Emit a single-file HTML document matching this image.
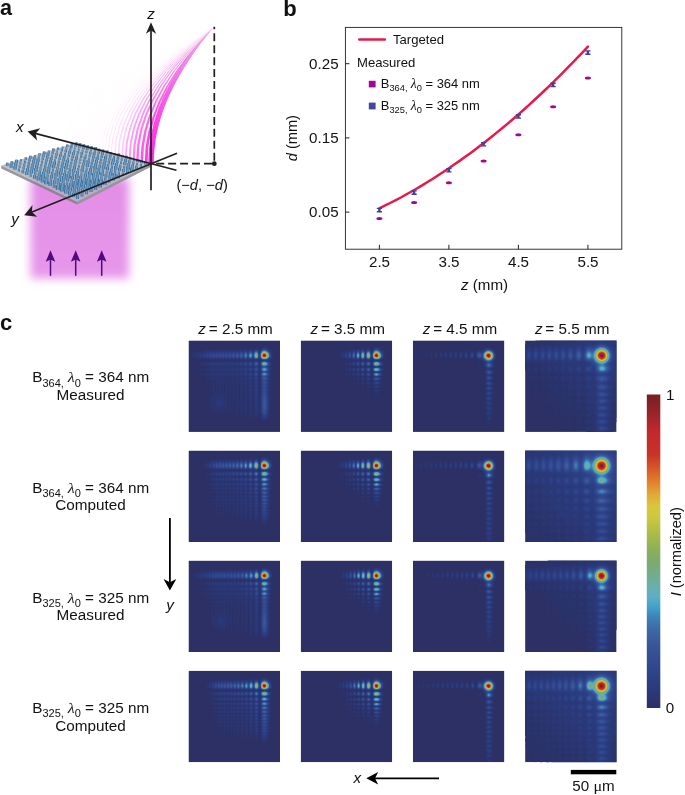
<!DOCTYPE html>
<html><head><meta charset="utf-8"><title>Airy beam figure</title>
<style>
html,body{margin:0;padding:0;background:#fff;}
body{width:685px;height:795px;overflow:hidden;font-family:"Liberation Sans",sans-serif;}
svg{display:block;}
text{font-family:"Liberation Sans",sans-serif;fill:#111;}
.i{font-style:italic;}
.b{font-weight:bold;}
.ser{font-family:"Liberation Serif",serif;font-style:italic;}
</style></head><body>
<svg width="685" height="795" viewBox="0 0 685 795">
<rect width="685" height="795" fill="#fff"/>
<defs><clipPath id="pc"><rect x="0" y="0" width="91.5" height="91.5"/></clipPath><filter id="hb" x="-5%" y="-5%" width="110%" height="110%"><feGaussianBlur stdDeviation="0.5"/></filter><filter id="hd" x="-5%" y="-5%" width="110%" height="110%"><feGaussianBlur stdDeviation="0.7"/></filter>
<g id="h00"><path fill="#2b3570" d="M74.6 6.2l1.6-0.1 1.6 0.3 1.4 0.7 2 1.4 1.8 1.7 0.9 1.6 0.7 1.4 0.3 1.6-0.1 1.4-0.8 1.6-1.2 1-2 1-0.2 0.4 2.5 1.6 0.8 1.4-0.2 1-1.5 2 1.3 2.6-0.2 1-1 1.4 0 0.6 1.1 2-1.3 2.4 0.6 2-0.8 2 0.5 2-0.6 2 0.4 1.6-0.4 2 0.4 2-0.4 1.4 0.3 1.6-0.3 2 0.3 4.4-0.3 12.6-0.6 3.4-1.5 3.6-2.5 1.7-1.4 0.4-1-0.3-1-0.7-1-1.2-0.8-2.9-0.5-3.6-0.3-6.4 0.5-14.6-0.2-2 0.3-1.4-0.3-2 0.3-2-0.4-1.6 0.3-2-0.4-2 0.2-2.4-0.3-0.7-0.4-0.1-0.6 1.2 0.5 2-0.6 2 0.4 2-0.4 2 0.2 1.6-0.2 2 0.2 11.4-0.2 13-0.6 3.6-0.7 2.4-0.5 0.6-1.1 0-0.5-0.6-1-3-0.4-3 0-11-0.3-2 0.3-1.4-0.3-1.6 0.3-1.4-0.4-2 0.3-1.6-0.4-1.4 0.4-2-0.4-1.4-0.6 0.5-0.2 0.9 0.6 2-0.4 0.4-0.2 1 0.2 1.6-0.2 2 0.1 4.4-0.2 2 0 10.6-0.7 4-1 1.6-0.4-0.1-1-2-0.5-2.5 0-5.6-0.2-1.4 0.1-4.6-0.3-2 0.3-1.4-0.3-1.6 0.2-1.4-0.3-2 0.3-1.6-0.3-1.3-0.6 0-0.3 1.3 0.3 1.6-0.4 2 0.3 1.4-0.3 1.6 0.3 1.4-0.3 2 0.1 4.6-0.2 1.4 0 5.1-0.5 2.9-0.4 1.1-0.6 0.4-0.4-0.3-0.6-1.2-0.6-3.4 0-10.6-0.2-2 0.2-4.4-0.3-2 0.2-1.6-0.3-1.1-0.3-0.3 0.6-2-0.3-1-0.4-0.4-0.6 1.4 0.5 2-0.5 1.4 0.3 1.6-0.4 2 0.3 1.4-0.3 1.6 0.3 1.4-0.3 2.1-0.1 10.9-0.8 3-0.4 0.3-0.5-0.7-0.6-3 0-10.6-0.3-2 0.2-1.4-0.2-1.6 0.2-1.4-0.3-2 0.2-1.6-0.4-1.4 0.4-2-0.6-2 0.6-1.6-0.3-0.8-0.4-0.6-0.6 0.5-0.2 0.9 0.6 1.6-0.7 2 0.5 2-0.5 1.4 0.3 1.6-0.4 2 0.3 1.5-0.3 1.5 0.3 1.4-0.3 2 0.1 1.6-0.2 1.4 0.2 1.6-0.3 1.4 0.2 4.6-0.6 1.9-0.4 0.6-0.7-1.5-0.2-1 0.1-4.6-0.3-1.4 0.2-4.6-0.3-2 0.2-1.4-0.2-1.6 0.2-1.4-0.4-2 0.4-1.6-0.5-1.4 0.4-2-0.7-2 0.7-1.6-0.5-1.1-0.4-0.3-0.8 1.4 0.6 1.6-0.6 2 0.5 2-0.6 1.4 0.4 1.6-0.4 2 0.2 1.5-0.2 1.5 0.2 1.4-0.3 2 0.2 1.6-0.2 1.4 0.2 1.6-0.3 1.4 0.1 1.6-0.2 1.4 0.2 1.6-0.6 1.5-0.4-0.1-0.5-1.4 0.2-1.6-0.2-1.4 0.1-1.6-0.3-1.4 0.2-1.6-0.2-1.4 0.2-1.6-0.4-2 0.3-1.4-0.3-1.6 0.3-1.4-0.4-2.1 0.3-1.5-0.5-1.4 0.5-2-0.7-2 0.6-1.6-0.2-0.9-0.6-0.5-0.4 0.4-0.4 1 0.7 1.6-0.8 2 0.5 2-0.5 1.4 0.3 1.6-0.4 2 0.3 1.4-0.3 1.6 0.4 1.4-0.4 2 0.2 1.6-0.2 1.4 0.2 1.6-0.4 1.4 0.1 1.6-0.2 1.4 0.2 1.6-0.3 1.1-0.6 0.1-0.3-0.8 0.1-2-0.3-1.4 0.1-1.6-0.5-1.4 0.2-1.6-0.3-2 0.2-1.4-0.3-1.6 0.5-1.4-0.3-1.6 0.4-1.4-0.4-2 0.4-1.6-0.6-1.4 0.5-2-0.7-2 0.7-1.6-0.4-0.9-0.4-0.5-0.6 0.4-0.4 1 0.8 1.6-0.8 2 0.5 2-0.6 1.4 0.5 1.6-0.4 2 0.4 1.4-0.1 1.6 0.5 1.4-0.3 1.6 0.2 2-0.3 1.4 0.1 1.6-0.8 4.4 0.1 1.6-0.3 1-0.5-0.1-0.3-0.5 0-2-0.7-1.8-0.6 0.2-0.6 1.6-0.2 2-0.6 0.9-0.8-0.9-0.3-1.4-0.5-0.6-0.4 0.6-0.3 1.4-0.7 1.1-0.8-0.5-0.7-2.1-0.5 0-0.6 1.5-0.4 0.7-0.6 0-0.4-0.8-0.5-1.9-0.5-0.5-0.6 0.5-0.4 2-0.6 0.4-0.4-0.8-0.1-1.6-0.9-3.4-0.5-0.1-0.5 0.5-0.6 1.9-0.2-1.9-0.5-1.4 0.1-1.6-0.3-1.4 0.2-2-0.2-1.6 0.4-1.4-0.2-1.6 0.3-0.8 0.4-0.6 0.6 0.5 0.4 0.9 0 1.6 0.6 0.1 0-1.7 0.7-1.4-0.2-2 0.5-1.6-0.5-2 0.6-1.5-0.8-1.9 0.7-1.6-0.2-0.4-0.8-1.3-1.6 1.7-1.2-2 0.9-2-0.3-0.4-0.8-1-0.6 0-1 0.9-0.4-0.1-0.8-0.8-0.1-1 0.9-1.6-0.3-0.4-1.3-0.9-1 0.6-0.5 0-1.3-1.3-0.1-0.4 0.2-0.6 1.3-1.2 0.4 0 1 0.7 1.3-0.9 0-0.6-0.7-0.7-0.6-0.2-1 0.7-0.4 0-1.6-1.5-1.4 1-0.6-0.3-0.6-1 0.2-0.9 0.4-0.7 0.6-0.2 1.4 1.1 1.6-1.6 0.4 0.1 1 0.6 1.3-0.8 0.1-0.6-0.8-0.8-0.6-0.1-1.4 0.6-1.6-1.2-1.4 0.8-0.6-0.3-1-1.2-1.4 1.1-0.6 0-0.8-1.3 0.4-1.5 0.4-0.5 0.6 0 1.4 1 0.9-1 0.7-0.3 1.4 0.6 1.6-0.8 1.4 0.4 1.6-0.6 2 0.3 1.4-0.5 1.6 0.4 1.4-0.5 1.6 0.4 1.4-0.4 2 0.3 1.6-0.3 1.4 0.4 1.6-0.4 1.4 0.4 2-0.4 1.6 0.4 2-0.4 1.4 0.4 2-0.5 1.6 0.5 2-0.6 2 0.6 2-0.8 2 0.7 1.8-0.9-0.3-0.4-1.5-0.7-2 0.6-2-0.7-2 0.6-2-0.6-1.6 0.5-2-0.5-2 0.5-1.4-0.5-1.6 0.4-2-0.3-1.4 0.3-1.6-0.3-1.4 0.3-1.6-0.3-2 0.3-1.4-0.3-1.6 0.3-1.4-0.4-1.6 0.3-1.4-0.4-2 0.2-1.6-0.5-1.4 0.4-1.6-0.7-1 0.4-1-0.1-1-0.6-1.4 0.6-0.6-0.1-1.4-1-1 0.6-0.6 0-1.4-1.3-1 0.9-0.6 0.1-0.7-0.6-0.5-1.4 0-1.6 0.8-2 0.4-0.4 0.6 0.2 1 1.2 1.4-2 0.6 0 1 1 0.4-0.3 1-1.4 0.6-0.1 1 1 0.4 0.1 1-1.2 0.6-0.3 1.4 0.9 1.6-1.3 1.4 0.7 1.6-1 0.4-0.1 1.6 0.6 1.4-0.8 1.6 0.6 1.4-0.8 1.6 0.7 1.4-0.7 2 0.6 1.6-0.7 1.4 0.7 1.6-0.7 1.4 0.7 2-0.7 1.6 0.8 1.4-0.9 0.6 0 1.4 0.9 1.6-1 0.4 0 1.6 1 2-1.1 0.4 0 1.6 1.1 2-1.4 1 0.4 1 0.9 0.4-0.2 1-1 1-0.4 1 0.5 1 1 0.6 0 1.4-1.5 1-0.2 1 0.5 1 1.1 0.6 0.1 1.4-1.7 1.6-0.6 1.4 0.8 1.6 2.3 0.4-0.1 1.8-2.8zM20.2 25.7l-0.6 0.5 0.2 0.6 0.4 0.3 0.6 0 0.4-0.3 0.1-0.6-0.5-0.5zM23.2 26.2l0.2 0.6 0.5 0 0.2-0.6-0.3-0.2zM29.8 36l0 0.5 0.4 0 0-0.5zM32.8 39.7l-0.3 0.5 0.1 0.6 0.6 0.5 0.7-1.1-0.7-0.7zM50.2 39.7l0 1.1 0.6 0.7 0.5-0.7-0.1-1-0.4-0.5zM59.2 19.1l-1.1 0.7-0.3 0.4 1.4 0.9 0.6 0 1.3-0.9-0.3-0.4-1-0.6zM64.2 19.2l-0.9 0.6-0.3 0.4 1.8 0.9 1.2-0.9-0.2-0.4-0.6-0.5zM70.8 18.7l-1.3 1.1-0.1 0.4 1.4 1.4 0.4-0.1 1.2-1.3-0.1-0.4-1.1-1zM19.8 31.2l-0.1 0.5 0.5 0.5 0.6 0 0.4-0.4 0-0.6-0.4-0.4-0.6 0zM23.8 31.1l-0.4 0.1 0 0.6 0.4 0.1 0.2-0.7zM29.8 39.5l-0.6 0.7 0.6 1.1 0.4 0 0.6-1.1-0.6-0.7zM33.2 43l-0.4 0.3-0.4 0.9 0.8 1.5 0.8-1.5-0.1-0.4zM36.2 35.8l-0.2 0.4 0.2 0.5 0.6-0.5zM54.8 39.5l-0.4 0.7 0.4 1 0.4-0.3 0.2-0.7-0.2-0.4zM59.2 39.7l-0.1 1.1 0.1 0.2 0.6 0 0-1.2zM70.8 25.4l-0.5 0.8 0.5 1.3 0.4-0.1 0.3-1.2-0.3-0.7zM19.8 35.7l-0.4 0.5 0.8 1.1 0.6 0.1 0.7-1.2-0.3-0.4-0.4-0.4zM23.8 35.6l-0.6 0.2-0.2 0.4 0.2 0.5 0.6 0.2 0.5-0.7zM26.8 35.7l-0.4 0.5 0.3 0.6 0.7-0.6zM29.8 43l-0.7 1.2 0.7 1.4 0.4 0 0.7-1.4-0.7-1.2zM33.2 46.1l-0.9 1.7 0.8 2-0.7 1.4 0.4 0.9 0.4 0.5 0.8-1.4-0.6-1.4 0.7-2zM36.2 39.4l-0.6 0.8 0.6 1.2 0.6-0.2 0.4-1-0.4-0.7zM39.8 35.7l-0.6 0.5 0.6 0.6 0.4-0.6zM43.2 35.7l-0.5 0.5 0.5 0.6 0.4-0.6zM46.8 35.7l-0.4 0.5 0.4 0.6 0.5-0.6zM50.8 35.7l-0.4 0.5 0.4 0.6 0.3-0.6zM54.8 43.1l-0.6 1.1 0.6 1.3 0.4-0.5 0.2-0.8-0.2-0.8zM59.2 43.3l-0.2 0.9 0.1 0.6 0.1 0.4 0.6 0 0.1-1.4-0.1-0.5zM64.8 39.6l-0.6 0.2-0.1 0.4 0.1 0.7 0.6 0.3 0.2-1zM70.8 30.4l-0.4 0.8 0.4 1.3 0.4-0.1 0.3-1.2-0.3-0.6zM23.7 39.2l-1.2 1 0.7 1.2 0.6 0.4 0.8-1.6zM26.8 39.4l-0.8 0.8 0.8 1.3 0.4-0.3 0.5-1-0.5-0.7zM29.8 46.3l-0.8 1.5 0.7 2-0.5 1.5 0.6 1.1 0.4 0 0.6-1.2-0.5-2 0.6-1.4-0.7-1.5zM36.2 42.9l-0.7 1.3 0.7 1.6-0.8 2 0.6 1.4-0.5 2 0.6 1.6-0.3 1.4 0.4 1.3 0.6 0 0.3-0.7-0.3-2 0.6-1.6-0.6-2 0.6-1.4-1-2 0.4-0.3 0.5-1.3-0.5-1.1zM39.2 39.6l-0.3 0.6 0.2 0.6 0.7 0.7 0.7-1.3-0.3-0.5-0.4-0.4zM42.8 39.6l-0.3 0.6 0.1 0.6 0.6 0.7 0.7-1.3-0.1-0.5-0.6-0.4zM46.8 39.3l-0.7 0.9 0.7 1.3 0.4-0.3 0.4-1-0.4-0.7zM59.3 46.7l-0.3 1.5 0.2 0.9 0.6 0 0.2-1.3-0.2-1.1zM64.8 43.1l-0.6 0.3-0.1 0.8 0.1 0.8 0.6 0.4 0.3-1.2zM26.8 42.8l-0.9 1.4 0.8 1.6-0.1 0.4-0.8 1.6 0.7 1.4 0 0.6-0.6 1.4 0.7 1.6-0.1 1.4 0.2 0.6 0.4-0.6-0.3-1 1-2-0.5-1.5 0.6-1.9-0.9-2 0.9-1.6-0.7-1.2zM5.9 22.8l0.3-0.4 0.6 0.1 0.2 0.3 0.2 1-0.4 0.6-0.6 0-0.4-0.6zM9 28.2l0.8-0.4 0.7 1-0.3 0.9-0.4 0.4-0.6-0.1-0.4-0.8zM12.2 32.8l0.6-0.4 0.4 0.2 1 1.2-1 1.1-0.4 0.2-0.6-0.2-0.4-0.7 0.1-1zM9.1 33.2l0.7-0.3 0.4 0.3 0 1-0.4 0.5-0.8-0.5zM15.6 37.2l0.6-0.1 0.5 0.6 0 0.5-0.5 0.8-0.4 0.1-0.6-0.7 0-0.6zM18.6 41.2l0.6-0.2 0.7 0.8-0.1 1-0.6 0.5-0.4-0.1-0.5-1zM21.8 44.8l0.4-0.5 1 1.5-0.3 1-0.7 0.8-0.9-1.4 0-0.4zM18.8 45.2l0.4-0.1 0.4 0.7-0.4 0.9-0.4-0.1-0.2-0.4zM22.1 48.2l0.1-0.1 0.9 1.1-0.2 1-0.7 0.8-0.4-0.5-0.4-0.7 0.2-1zM18.7 49.2l0.5-0.2 0 1-0.4-0.2zM22.2 51.8l0.8 1 0 0.4-0.8 1.5-0.5-0.9-0.2-1 0.3-0.7z"/><path fill="#2b3979" d="M74.9 7.3l1.3-0.2 1.6 0.4 3 1.8 1.3 1.5 1 1.4 0.6 1.6 0.2 1.4-0.4 1.6-0.7 1-1.6 1.1-2.1 0.9-0.4 0.4 3.1 1.6 0.5 0.4 0.4 1-0.2 1-1.7 2 0.1 0.6 0.9 1 0.5 1-0.2 1-1.2 1.4 0 0.6 1.2 1.4 0.1 0.6-0.1 0.4-1.4 2 0.8 2-1 2 0.6 2-0.7 2 0.5 1.6-0.6 2 0.5 2-0.4 1.4 0.3 1.6-0.2 2 0.4 4.4-0.1 6.6-0.3 6.4-0.8 3-1.6 3-0.9 0.7-1.4 0.3-1.4-0.4-0.6-0.9-1-2.7-0.5-3-0.3-9.4 0.4-11.6-0.1-2 0.2-1.4-0.3-2 0.3-1.6-0.4-2 0.4-2-0.6-2 0.4-2-0.7-2.4 0.6-2.6-0.6-1.4-0.1-1 0.8-2.6-0.9-2-0.1-1 0.5-1.4 1.7-1.6-0.2-0.4-1.1-0.7-1-1.3-0.4-0.1-1.6 1.6-1.4 0.4-1-0.1-2-1.3-2.6 1.1-1.4-0.3-1-0.7-0.6 0-1 0.6-1 0.3-2.4-1-2 0.8-2-0.9-2 0.8-2.1-0.8-1.5 0.7-2-0.7-2 0.6-1.4-0.6-1.6 0.5-2-0.4-1.4 0.4-1.6-0.4-1.4 0.4-1.6-0.4-2 0.4-1.4-0.5-1.6 0.5-1.4-0.5-1.6 0.4-1.4-0.6-2 0.4-1.6-0.8-1.4 0.5-1.6-1.1-1.4 0.8-0.9-0.6-0.7-1.3-0.4 0.4-0.7 0.9-0.3 0.3-0.6-0.1-0.6-1.2-0.2-1 0.2-1.4 0.6-1.4 0.6-0.1 1 1.6 0.4 0.3 0.9-2 0.7-0.4 1.4 1.2 1.6-1.8 0.4 0.1 1 0.8 1.6-1.3 0.4-0.1 1 0.7 0.6 0 1-0.9 0.4-0.1 1.6 0.7 1.4-0.9 1.6 0.8 1.4-0.8 0.6 0 1 0.7 0.4 0 1-0.8 0.6 0 1.4 0.8 1.6-0.8 1.4 0.9 0.6-0.1 1-0.8 0.4 0 1.6 0.9 1.4-1 0.6 0 1.4 1 1.6-1.1 0.4 0 1.6 1.1 2-1.3 0.4 0.1 1.6 1.2 2-1.6 1 0.5 1 1 0.4-0.2 1-1.3 1-0.4 1 0.5 1 1.3 0.6-0.1 1.4-1.7 1-0.2 1 0.6 1 1.3 0.6 0.1 1.4-1.9 0.6-0.5 1-0.3 1 0.4 0.4 0.5 1.6 2.9 0.4-0.2 0.9-1.9 1-1.6zM6.1 13.8l0.1-0.3 0.6 0.1 0.4 1.2-0.1 1-0.3 0.7-0.6 0-0.3-0.7-0.1-1zM66.5 20.8l1.3-0.4 1.4 0.5 0.9 0.9 0.6 1.4-0.2 1-0.9 2 0.8 2.6-0.2 1-0.6 1.4 0.7 2.6-0.8 2.4 0.4 2-0.6 2 0.4 2.1-0.5 1.9 0.4 1.6-0.4 2 0.3 2-0.3 1.4 0.2 1.6-0.3 2 0.3 4.4-0.3 2 0 10.6-0.7 3-0.6 0.7-0.6-0.2-0.2-0.5-0.6-2.6-0.1-11-0.2-2 0.2-4.4-0.3-2 0.2-1.6-0.3-1.4 0.3-2-0.4-2 0.3-1.6-0.5-2 0.5-2-0.7-2 0.5-2-1.1-2.3-0.6 0.5-1 1.8 0.5 2-0.8 2 0.6 2-0.7 2 0.5 1.6-0.6 2 0.5 2-0.6 1.4 0.4 1.6-0.5 2 0.4 1.4-0.5 1.6 0.5 1.4-0.5 1.6 0.3 2-0.5 1.1-0.4-0.2-0.4-0.9 0.3-1.6-0.5-2 0.5-1.4-0.5-1.6 0.4-1.4-0.6-2 0.5-1.6-0.6-1.4 0.5-2-0.6-2 0.5-1.6-0.7-2 0.6-2-0.9-2 0.6-2-0.1-0.4-1-1.5-0.6 0-1.2 1.9 0.6 2-1.1 2 0.8 2-1 2 0.8 1.6-0.2 1-0.7 0.8-0.4-0.4-0.5-1 0.1-1 0.8-1-1-1.3-0.1-0.7 0.7-2-1-2 0.6-2-0.2-0.4-1.4-1.9-0.1 0.3-1.5 1.5-0.4 0.1-0.6-0.2-0.7-0.8-0.6-1 0.6-1 1.1-1 0.1-0.6-1.6-1.4-0.3-1-0.1 0.4-0.8 1-1.1 0.8-2-1.8 0-0.4 1.4-1.6 0.6-0.2 0.4 0.1 1.6 1.6 2-2.2 1 0.7 1 1.2 0.4-0.3 1-1.3 0.1-0.6-1.1-1.3-0.4-0.1-1.6 1.3-0.4 0.1-2-1.6-2 1.2-2-1.2-1.6 1-0.4 0-1.6-1-1.4 0.9-0.6 0.1-1.4-1-1.6 0.9-2-0.8-1.4 0.8-1.6-0.8-1.4 0.8-1.6-0.8-2 0.6-1.4-0.7-1.6 0.7-1.4-0.8-1.6 0.7-0.4-0.1-1-1-0.6 0.1-1 0.7-0.4-0.1-0.7-0.6-0.2-1 0.1-0.4 0.8-0.8 0.4 0 1 0.7 0.6 0 1-0.8 0.5-0.1 1.5 0.5 1.4-0.7 1.6 0.6 1.4-0.6 2 0.5 1.6-0.6 1.4 0.6 1.6-0.6 1.4 0.7 2-0.7 1.6 0.7 1-0.5 1-0.2 1.4 0.7 1-0.6 1-0.2 1.6 0.8 2-0.9 2 0.9 2-1 1 0.2 1 0.7 1.4-0.9 1-0.3 1 0.3 1 0.8 0.6 0 1.4-1.1 1-0.1 1 0.3 1.6 1zM54.8 29.5l-1.8 1.7 0 0.6 1.2 1 0.6 0.9 1.4-1.9 0-0.6-1-1.4zM59.2 24.9l-1.1 1.3 0.1 0.6 1 1.4 0.6 0 0.9-1.4 0.1-0.6-1-1.3zM64.2 24.9l-0.9 1.3 0 0.6 0.9 1.3 0.6 0.2 1-1.5 0-0.6-1-1.4zM59.2 29.8l-1 1.4 0 0.6 1.1 1.5 0.5 0 1-1.5 0-0.6-1-1.4zM64.8 29.6l-0.6 0.3-0.9 1.3 0 0.6 1.5 1.8 1-1.8 0-0.6zM15.4 22.8l0.4-0.4 0.7 0.4 0.2 1-0.5 0.6-0.4 0-0.6-0.6zM44.7 27.2l1.1 0.3 0.9 1.3-0.3 1-1.2 0.9-1-0.3-0.9-1.2 0-0.4 0.3-0.6zM24.8 27.8l0.4-0.3 0.6 0.2 1 1 1.4-1.2 0.6 0.1 1 0.9 0.4 0 1-1 0.5-0.1 1.5 1.1 1.6-1.1 0.7 0.4 0.7 0.9 1.6-1.2 0.4-0.1 1.5 1.4 0 0.4-1.5 1.3-0.4 0-1.6-1.2-0.8 0.9-0.6 0.3-1.6-1.1-1.4 1.1-0.6-0.1-1-0.9-0.4 0-1 0.9-0.6 0-1.4-1.2-1 1-0.6 0.2-0.4-0.2-0.8-1-0.1-0.4zM40.6 27.8l0.6-0.5 0.6 0 1.4 1.5 0 0.4-1.4 1.4-1-0.3-1-1.1 0-0.4zM18.7 28.2l0.5 0 0.6 0.6-0.1 0.4-0.5 0.6-0.4-0.1-0.3-0.5zM21.4 28.2l0.8-0.4 0.6 0.2 0.6 0.8 0 0.4-0.6 0.8-0.6 0.2-0.4-0.2-0.6-0.8zM48.3 32.2l0.5-0.2 0.4 0.2 1.3 1.6-0.7 1.2-1 0.5-1.1-0.7-0.5-1zM24.9 32.8l0.9-0.1 0.8 1.1-0.8 1-0.6 0.2-0.9-0.8-0.1-0.4zM28 32.8l0.8-0.2 0.7 0.6 0.2 0.6-0.1 0.4-0.8 0.7-0.6 0.1-0.8-0.8-0.2-0.4 0.2-0.6zM31 32.8l0.8-0.3 1.4 1.3-0.8 1-0.6 0.3-0.6-0.1-0.8-0.8-0.1-0.4 0.1-0.6zM34.1 32.8l0.7-0.3 1.1 0.7 0.2 0.6-0.1 0.4-0.8 0.7-1 0-0.7-0.7-0.2-0.4zM37.4 32.8l0.8-0.3 0.5 0.3 0.8 1-0.7 1-0.6 0.3-0.9-0.3-0.6-1zM40.6 32.8l0.6-0.4 0.6 0 0.5 0.4 0.7 1-0.6 1-0.6 0.4-1-0.3-0.6-0.7-0.2-0.4zM44.1 32.8l0.7-0.5 0.4 0 1.2 0.9 0.2 0.6-0.2 0.4-0.6 0.8-1 0.3-1.1-1.1-0.2-0.4zM19.2 33.2l0.3 0.6-0.3 0.5-0.4-0.1-0.2-0.4 0.2-0.4zM21.5 33.2l0.7-0.4 0.6 0.3 0.4 0.7-0.2 0.4-0.7 0.5-0.5-0.1-0.5-0.8zM52.7 36.8l0.5 0 0.4 0.4 0.3 1-0.7 1.1-0.4 0.1-0.6-0.3-0.4-0.9 0.3-1zM48.6 37.2l0.6 0.1 0.3 0.5-0.2 1-0.5 0.2-0.7-0.8 0-0.4zM44.6 37.8l0.6-0.3 0.2 0.3 0.1 0.4-0.3 0.5-0.4-0.1zM52.4 41.8l0.4-0.4 0.4 0.2 0.2 0.6-0.2 0.5-0.4 0.2-0.3-0.1-0.2-0.6zM57.1 48.2l0.1-0.1 0.6 0.5 0.2 0.6-0.2 1-0.6 0.7-0.4-0.4-0.4-0.7 0.2-1zM56.7 52.2l0.5-0.4 0.6 0.7 0 0.7-0.6 0.8-0.6-0.8zM57 55.8l0.2-0.3 0.3 0.7-0.3 0.7-0.4-0.7zM31 58.2l0.8-0.2 0.4 0.5 0.8 1.3 0.2 1.4 0.6 0 0.3-0.4 0-1 0.1-0.4 0.6 0 0 1.4 0.3 1.4-0.3 1.7-0.6 0.3-0.4-0.5-0.6 0-0.6 2.1-0.8 1-0.6 0-1-1-0.4 0-1 0.7-0.6-0.2-0.4-0.8-0.6-2.7 0.4-3 0.6-1.3 0.6-0.2 1 0.7 0.4 0zM57.2 58.8l0.3 0.4-0.3 0.8-0.4-0.8zM61.7 64.8l0.1-0.3 0.4-0.1 0.4 0.8 0.1 0.6-0.5 1-0.5-0.1-0.1-0.5-0.2-0.4z"/><path fill="#2c3c80" d="M74 8.2l1.2-0.4 1.6 0.1 1.4 0.5 1.6 0.9 1.5 1.5 1.1 1.4 0.6 1.6 0.2 1.4-0.3 1.6-1.1 1.3-1.6 0.9-2.6 0.8-0.6 0.4 3.8 1.4 0.8 0.6 0.4 1-0.5 1.6-1.6 1.4 0.1 0.6 1 1 0.6 1-0.3 1-1.3 1.4 0 0.6 1 1 0.5 1-0.5 1-1.2 1.4 0.8 1.6 0 0.4-1.1 2 0.7 2-0.8 2 0.6 1.6-0.6 2 0.5 1.4-0.4 2 0.4 1.6-0.3 2 0.3 1.4-0.1 1.6 0.3 1.4 0 6.6-0.5 6-1.2 4-1.6 1.8-1 0.3-1-0.6-1.1-1.5-0.9-4-0.4-9 0.4-8-0.1-2 0.3-1.6-0.2-2 0.3-1.4-0.4-2 0.4-1.6-0.5-2 0.4-2-0.6-2 0.4-2-0.9-2.4 0.8-2.6-0.7-1.4-0.1-1 0.9-2.6-0.9-1.4-0.2-1.6 0.2-1 0.7-1 2.2-0.9-2.5-1.5-1.1-1.9-0.4-0.2-1.3 2.1-1.7 0.6-1.6-0.4-1.4-1.3-2.6 1.3-1-0.1-1.4-1.1-0.6 0-1 0.8-1 0.3-1-0.3-1.4-0.9-1 0.7-1 0.3-2-1.1-2 0.9-2-0.9-1.6 0.8-0.4 0-1.6-0.8-1.4 0.7-0.6 0-1.4-0.7-1.6 0.7-2-0.7-1.4 0.7-1.6-0.6-1.4 0.6-1.6-0.6-2 0.5-1.4-0.6-1.6 0.6-1.4-0.7-1.6 0.5-1.4-0.8-0.6 0.1-1 0.5-0.4 0-1.6-1.3-1 0.9-0.4 0-0.8-0.6-0.4-1.6 0.5-2 0.7-0.9 0.4 0.1 1 1.2 1.6-1.8 0.4-0.1 1 0.9 0.6 0 1-1.1 0.4-0.1 1.6 0.8 1.4-1.1 1.6 1 1.4-1 0.6 0 1 0.8 0.4 0 1-0.8 0.6-0.1 1.4 1 1.6-1 1.4 1 0.6-0.1 1-0.9 0.4 0 1.6 1.1 1.4-1.2 0.6 0 1.4 1.2 1.5-1.3 0.5-0.1 1.6 1.4 2-1.6 0.4 0.1 1.6 1.5 1.4-1.6 0.6-0.2 1 0.4 1 1.2 0.4-0.2 1-1.4 1-0.5 1 0.6 1 1.4 0.6 0 1.4-2 1-0.3 1 0.7 1 1.5 0.6 0.2 1.4-2.3 0.6-0.4 1-0.4 1 0.4 0.4 0.6 0.9 1.4 0.7 2.1 0.4-0.2 1.3-3.3zM12.6 13.2l0.2-0.1 0.4 0.4 0.5 1.3-0.2 1.4-0.7 0.7-0.6-0.4-0.3-1.3 0.3-1.4zM9.4 14.2l0.4-0.2 0.2 0.8-0.2 1.4-0.6-0.4zM61.7 21.2l1.5 0.4 0.7 0.6 0.3 1-0.5 1.6-1.5 1.3-0.4-0.1-1-0.8-1-1.4 0.1-1 0.4-0.6 0.5-0.5zM66.3 21.2l0.9-0.3 1.6 0.2 1 0.8 0.4 1.3-0.3 1.6-1 1.4 1.1 2.6-0.2 1-0.8 1.4 0 0.6 0.6 1 0.3 1-0.2 1-0.9 1.4 0.6 2-0.9 2 0.6 2-0.8 2 0.6 1.6-0.1 1-0.6 1 0.6 2-0.7 1.4 0.6 1.6-0.3 1-0.6 1 0.7 1.4-0.7 1.5-0.6-0.5-0.3-1 0.3-1 0.5-0.4-1-1.6 0.6-1.9-0.6-1.1-0.1-1 0.6-1.4-0.6-1-0.1-1 0.6-1.6-0.9-2 0.7-2-0.9-2 0.6-2-0.9-1.4-0.3-1 1-2 0-0.6-0.9-1.4-0.2-1 1.2-2.6-1.4-2-0.2-1 0.4-0.9zM52.4 21.8l0.8-0.1 0.6 0.3 0.7 1.2-0.3 1-1 1-1-0.1-0.9-1.3 0.1-1zM56.1 21.8l0.7-0.4 1 0 1.3 1.4 0.1 1-0.2 0.4-1.2 1.4-1 0-1.4-1.4 0-1.4zM31.4 22.2l0.8 0.3 0.5 0.7-0.3 1-0.6 0.5-0.6-0.1-0.6-0.8 0.2-1zM34.6 22.2l0.6 0.2 0.6 0.8-0.3 1-0.7 0.5-0.7-0.5-0.4-1 0.2-0.4zM37.7 22.2l0.7 0 0.7 1-0.3 1-0.6 0.5-0.4-0.1-0.8-0.8 0.2-1zM41 22.2l1 0 0.6 1-0.2 1-0.6 0.6-0.6 0-0.4-0.4-0.5-0.6 0.2-1zM44.4 22.2l0.8-0.2 0.9 0.8 0.1 1-0.4 0.8-0.6 0.3-0.6-0.1-0.8-1 0.1-1zM47.9 22.2l0.9-0.4 0.4 0.1 0.9 0.9 0.1 1-1 1.2-1-0.1-0.5-0.7-0.3-1zM21.9 22.8l0.6 0 0.4 0.4-0.1 0.6-0.6 0.4-0.6-0.4 0-0.6zM24.6 22.8l0.6-0.5 0.8 0.5 0.2 1-0.4 0.6-0.6 0.1-0.4-0.3-0.4-1zM27.7 22.8l0.5-0.5 0.6 0.1 0.4 0.4 0.2 1-0.6 0.7-0.6 0-0.6-0.7zM56.7 27.2l0.5-0.1 0.6 0.2 0.5 0.5 0.4 1-0.5 1.4-1 0.7-1-0.6-0.5-1.1 0.1-1zM61.1 27.2l0.7-0.4 1 0.2 0.6 0.8 0.4 1-0.4 1.4-1.2 1-1-0.4-0.9-1.6 0.1-1zM52.4 27.8l0.8-0.1 0.8 1.1-0.2 1-0.6 0.4-0.4 0.1-0.6-0.2-0.5-0.9 0.2-1zM44.7 28.2l0.5 0 0.5 0.6 0 0.4-0.5 0.6-0.4-0.1-0.4-0.5zM48.2 28.2l0.6-0.3 0.6 0.3 0.3 1-0.5 0.7-0.4 0.1-0.6-0.2-0.2-0.6zM41 28.8l0.2-0.4 0.6 0 0.1 0.4-0.1 0.7-0.6 0zM56.8 32.2l0.4-0.1 0.6 0.2 0.4 0.5 0.4 1-0.4 1-1 0.6-1-0.5-0.4-1.1 0.4-1zM61.2 32.2l0.6-0.4 0.4 0 1 0.8 0.5 0.6 0 1-0.3 0.6-1.2 0.9-1-0.3-0.8-1.2 0-1zM52.5 32.8l0.7-0.1 0.6 0.6 0 0.9-0.6 0.6-0.4 0.1-0.8-0.7 0-1zM48.3 33.2l0.5-0.2 0.6 0.2 0.1 0.6-0.3 0.6-0.4 0.2-0.6-0.3-0.1-0.5zM44.6 33.8l0.2-0.4 0.4-0.1 0.3 0.5-0.3 0.5-0.4-0.1zM61.3 37.2l0.5-0.3 0.4 0 0.8 0.9-0.1 1-0.7 0.5-0.4-0.1-0.6-0.4-0.1-1zM56.6 37.8l0.6-0.5 0.6 0.5 0 0.7-0.6 0.4-0.3-0.1-0.3-0.6zM61.7 41.8l0.7 0 0.1 0.4-0.3 0.5-0.4-0.1zM67.5 58.2l0.3-0.4 0.7 1.4-0.3 1-0.4 0.5-0.6-0.4-0.2-0.5 0.1-1zM67.6 61.8l0.2-0.3 0.4 0.7 0 0.6-0.4 0.6-0.6-0.6 0-0.7zM67.2 65.2l0.6-0.4 0.3 0.4 0.1 0.6-0.4 0.7-0.6-0.5z"/><path fill="#2d4086" d="M75.6 8.2l2.2 0.4 2.4 1.7 1.7 1.9 0.8 2.6-0.3 2-1.2 1.3-2 1-2.4 0.5-2.6-0.1-1.4-0.7-0.9-1-0.6-2 0.2-2.6 1.1-3 1.2-1.3zM66.7 9.8l1.1-0.4 1 0.4 0.9 1.4 0.9 2.6 0.1 1.4-0.3 1.6-0.8 1.4-1.4 0.9-1 0-1-0.4-1.4-1.6-0.6 0.2-1 1-1 0.4-1-0.1-1.4-1.4-0.6 0-1 1-1 0.4-1-0.3-1.4-1.2-1 0.9-1 0.3-1-0.5-1-0.9-1 0.9-1 0.3-2-1.2-1.6 1.1-0.9-0.2-1.1-0.9-1.4 1-0.9-0.1-1.1-0.9-1.6 0.9-0.4 0-1.6-0.9-1.4 0.9-1.6-0.8-1.4 0.8-0.6 0-1-0.8-2 0.7-1.4-0.8-1.6 0.8-1.4-1-1.6 0.8-0.4-0.1-1-1.1-0.6 0-1 0.9-0.4 0-0.9-1.4 0-1.6 0.9-1.5 0.4-0.1 1 1.2 0.6 0.1 1-1.5 0.4-0.2 1.5 1.1 1.5-1.4 0.6 0.1 1 1.1 1.4-1.2 0.6 0 1 1 0.4 0 1-1.1 0.6-0.1 1.4 1.2 1.6-1.2 0.4 0.2 1 1.1 0.6-0.1 1-1.1 0.4-0.1 1.6 1.4 1.4-1.5 0.6 0 1.4 1.5 1.2-1.3 0.8-0.4 1.6 1.7 0.4-0.3 1-1.4 0.6-0.2 0.4 0.1 1.6 1.8 1.3-1.9 0.7-0.3 1 0.5 1 1.4 0.4-0.2 1-1.7 1-0.6 1 0.7 1 1.7 0.6-0.1 1.4-2.2 1-0.3 1 0.7 1 1.7 0.6 0.3 1.1-2zM15.5 13.8l0.3-0.3 0.4 0.1 0.6 1.6-0.3 1-0.7 0.4-0.6-1.4zM74.2 20.8l2-0.3 2.6 0.5 2 1 0.7 1.2 0 0.6-0.6 1-1.7 1.4 0.1 0.6 1.1 1 0.6 1-0.3 1-1.4 1.4 0 0.6 1 1 0.6 1-0.5 1-1.2 1-0.2 0.4 0.9 1.6 0.1 0.4-1.4 2 0.9 2-1 2 0.7 1.6-0.7 2 0.6 1.4-0.4 2 0.5 1.6-0.3 2 0.4 1.4-0.2 1.6 0.4 1.4 0 6.6-0.5 6-1.4 3.4-0.8 0.9-1 0.2-1-0.4-0.5-0.7-0.9-2.4-0.5-7 0-6.6 0.4-4.4-0.1-2 0.3-1.6-0.3-2 0.4-1.4-0.5-2 0.5-1.6-0.6-2 0.5-2-0.8-2 0.6-2-0.8-1.4-0.2-1.1 0.8-2.5-0.8-1.4-0.1-1 1-2.6-1-1.4-0.3-1.6 0.6-1.4 0.7-0.7zM67 21.2l0.8-0.1 1 0.3 0.9 0.8 0.2 1-0.3 1.6-0.8 0.9-1 0.5 1.4 1.5 0.4 1-0.4 1.5-1 1.1 0 0.5 1.3 1.4 0 1-0.7 1.2-1 0.6-1.6-1-0.4-1.2 0.3-1 1.1-1 0-0.6-1-1-0.5-1.4 0.5-1.3 1.4-1.3-0.8-0.4-1-1-0.4-1.6 0.7-1.4zM57 21.8l0.8 0 0.4 0.4 0.5 1-0.5 1.4-1 0.6-0.9-0.4-0.5-1 0.3-1.6zM61.2 21.8l0.6-0.2 1 0.1 0.9 1.1-0.1 1.4-0.4 0.6-1 0.6-1-0.2-0.9-1.4 0.1-1zM52.4 22.2l0.8 0 0.6 0.6 0.1 1-0.7 0.8-0.4 0.1-0.6-0.2-0.4-0.8 0.1-0.9zM44.7 22.8l0.5-0.1 0.4 0.5-0.4 0.9-0.4-0.1-0.2-0.2zM48.2 22.8l0.6-0.4 0.6 0.4 0.2 1-0.4 0.5-0.4 0.1-0.6-0.3-0.2-0.9zM41.1 23.2l0.1-0.2 0.6 0.1 0 0.7-0.6 0.1zM57 27.8l0.8 0.1 0.4 0.9-0.2 1-0.8 0.4-0.4-0.1-0.6-0.9 0.2-1zM61.2 27.8l1-0.4 1 0.9 0.2 0.9-0.2 0.6-1 0.7-1-0.3-0.4-0.8-0.1-0.6zM52.5 28.8l0.3-0.3 0.4 0.2 0 0.6-0.4 0.2zM61.3 32.8l0.9-0.3 1 0.7 0 1-0.4 0.6-1 0.2-0.9-0.8 0-1zM56.4 33.2l0.8-0.4 0.6 0.2 0.3 0.8-0.3 0.8-0.6 0.2-0.4-0.1-0.5-0.9zM67.2 36.8l0.6-0.3 0.9 0.7 0.2 0.6-0.1 1-1 0.7-1-0.5-0.4-0.8 0.3-1zM67.7 41.2l0.5 0.3 0.3 0.7-0.3 0.6-0.4 0.3-0.6-0.2-0.3-0.7 0.3-0.8z"/><path fill="#30458b" d="M74.9 8.8l1.3-0.2 2 0.7 2 1.4 1.3 1.5 0.8 2 0 1.6-0.6 1.4-1.5 1.2-2 0.7-3 0.4-2-0.6-1.1-1.1-0.7-2.6 0.5-3 1.3-2.4zM66.6 10.2l1.2-0.4 1 0.4 0.9 1.6 0.7 2.4 0 1.6-0.4 1.4-0.8 1.1-1 0.5-1 0-1-0.4-1.4-2.1-0.6 0.3-1 1.4-1.4 0.5-1-0.5-1-1.5-0.6 0-1 1.4-1 0.4-1-0.3-1.4-1.7-1.2 1.5-0.8 0.2-0.6-0.2-1.4-1.9-1 1.4-1 0.5-1-0.6-1-1.3-1 1.3-0.6 0.4-1-0.3-1-1.5-1.4 1.7-1-0.3-1-1.3-1.6 1.5-0.6-0.2-1.4-1.2-1 1.2-0.4 0.2-0.6-0.2-1-1-1.4 1.2-0.7-0.2-0.9-1-0.4 0-1 1-0.6 0.1-1.4-1.4-1 1.2-0.6 0.2-0.7-0.5-0.7-1.5-1 1.5-0.6 0.2-0.5-0.2-0.6-1.6 0.3-1.4 0.4-0.6 0.4-0.3 0.6 0.3 1 2 0.7-2 0.7-0.6 0.6 0.2 1 1.5 1.4-1.7 0.6 0 1 1.3 0.4 0 1-1.4 0.6-0.1 1.4 1.6 1-1.4 0.6-0.2 0.6 0.4 0.8 1.4 0.6-0.3 1-1.5 0.4 0 1.6 2 1-1.7 0.4-0.5 0.6 0 1.4 2.2 1-1.8 0.6-0.5 0.4-0.1 0.7 0.8 0.9 1.6 1.3-2.2 0.7-0.4 0.7 0.4 1.3 2.1 1-2.1 1-0.8 0.4 0.1 0.6 0.5 0.9 1.9 0.5-0.5 1-2 1-0.6 1 0.8 1 2 0.6 0 1.1-2.4 0.9-0.6 0.4 0 1 0.8 1 2 0.6 0.4 1.1-2.6zM18.7 13.8l0.5-0.3 0.7 1.3-0.1 1-0.6 0.7-0.4-0.1-0.4-0.6 0-1zM73.5 21.2l2.3-0.4 2.4 0.3 2 0.9 0.9 1.2-0.1 0.6-0.6 1-1.9 1.4 0.1 0.6 1.3 1 0.6 1-0.2 1-1.7 1.4 0 0.6 1.2 1 0.6 1-0.5 1-1.3 1-0.3 0.4 1.1 1.6 0 0.4-1.6 2 1.1 2-1.2 2 0.9 1.6-0.1 0.4-0.8 1.6 0.8 1.4 0 0.6-0.6 1.4 0.6 1.6-0.3 2 0.5 1.4-0.1 1.6 0.3 1.4 0.1 6.6-0.8 6.4-1.4 2.6-1 0.4-1-0.8-1-2.2-0.6-6.4 0.1-6.6 0.3-1.4-0.1-1.6 0.3-1.5-0.2-1.9 0.5-1.6-0.5-2 0.6-1.4-0.6-2 0.6-1.6-0.8-2 0.7-2-1-2 0.7-1.9-1-1.5-0.3-1 0.3-1 0.7-1 0.1-0.6-1-1.4-0.2-1 1.2-2.6-1.1-1.4-0.4-1.6 0.3-1zM66.5 21.8l0.7-0.4 1 0 1.2 0.8 0.3 1-0.2 1-0.3 0.6-1 0.8-1 0-0.4-0.2-1-1.2 0-1.4zM56.7 22.2l0.5-0.1 0.6 0.1 0.5 1-0.2 1-0.9 0.6-0.4-0.1-0.7-0.9 0.1-1zM61.1 22.2l1.1-0.3 1 0.7 0.2 1.2-0.6 1-1 0.2-0.9-0.8-0.3-1zM52.7 22.8l0.5 0.1 0.2 0.3-0.2 0.7-0.4 0.2-0.5-0.9zM67.2 27.2l0.6-0.1 1 0.5 0.6 1.2-0.2 0.8-0.4 0.6-1 0.6-1-0.4-0.8-1.2 0.2-1.1zM61.4 28.2l0.8-0.2 0.6 0.3 0.1 0.9-0.3 0.6-0.4 0.2-0.7-0.2-0.3-0.6zM56.7 28.8l0.5-0.5 0.5 0.5 0 0.4-0.5 0.4-0.4-0.3zM67.4 32.2l0.8 0.1 0.6 0.3 0.5 1.2-0.5 1.1-1 0.5-1-0.4-0.7-1.2 0.5-1zM61.5 33.2l0.7-0.2 0.4 0.2 0.2 0.6-0.2 0.4-0.4 0.3-0.7-0.3-0.2-0.4zM67.1 37.8l0.7-0.4 0.4 0.2 0.2 0.6-0.5 0.6-0.4 0-0.5-0.6z"/><path fill="#33498f" d="M74.4 9.2l1.4-0.3 2 0.5 2 1.3 1.3 1.5 0.9 2 0 1.5-0.7 1.5-1.1 1-2 0.8-2.4 0.3-2-0.3-1.5-1.2-0.4-1-0.3-1.6 0.4-2.4 0.8-2 0.8-1zM67.2 10.2l1 0.1 1 1 0.7 1.5 0.3 2-0.1 1.4-0.6 1.6-0.7 0.7-1 0.2-1-0.2-1-0.7-0.8-1.6-0.2-1 0.1-1 1-2.4 0.6-1zM61.4 11.2l0.8-0.2 1 0.8 0.7 1.4 0.5 2-0.8 2-0.8 0.9-0.6 0.2-1-0.2-0.4-0.5-1-1.8 0.2-2 0.6-1.6zM56.4 11.8l0.8-0.5 0.6 0.2 0.8 1.3 0.6 2-0.2 1.4-0.5 1-0.7 0.8-0.6 0.1-0.4-0.1-0.9-0.8-0.7-2 0.4-2zM52.2 12.2l0.6-0.3 0.6 0.3 0.7 1 0.5 1.6-0.1 1-0.4 1-0.9 0.8-0.4 0.1-0.6-0.2-0.6-0.7-0.4-1.6 0.3-1.4zM44.7 12.8l0.5-0.2 0.6 0.5 0.5 1.7-0.2 1.4-0.9 1-0.4 0-0.6-0.4-0.4-1 0.1-1.6zM48.2 12.8l0.6-0.5 0.4 0.2 0.8 1.3 0.2 1 0 1-0.4 1-0.6 0.5-0.4 0.1-1-0.6-0.4-1 0.1-1.6zM28.2 13.2l0.5 0.1 0.8 1.5-0.1 1-0.7 0.9-0.5 0.1-0.4-0.5-0.3-1.1 0.1-1zM31.2 13.2l0.6-0.2 0.2 0.2 0.7 1.5-0.2 1.5-0.7 0.7-0.6-0.1-0.7-1.6 0.1-1zM34.4 13.2l0.4-0.2 0.4 0.3 0.7 1.5-0.3 1.4-0.4 0.5-0.4 0.2-0.9-0.7-0.3-1 0.2-1zM37.6 13.2l0.6-0.2 0.6 0.8 0.3 1-0.2 1.4-0.7 0.7-0.6-0.1-0.6-1 0.1-1.6zM40.8 13.2l0.4-0.4 0.6 0 0.8 1.4 0 1.6-0.8 1.3-0.6 0-0.4-0.3-0.5-1 0.1-1.5zM22.2 13.8l0.6 0.5 0.1 0.9-0.1 0.7-0.6 0.5-0.4-0.3-0.3-0.9 0.3-1.1zM24.7 13.8l0.5-0.5 0.6 0.2 0.5 1.3-0.3 1.4-0.8 0.6-0.4-0.4-0.3-0.6-0.1-1zM73.9 21.2l1.9-0.3 2.4 0.4 1.9 0.9 0.6 1-0.3 1-0.4 0.6-2.2 1.4 0.2 0.6 1.4 1 0.7 1-0.3 1-1.8 1.4 0 0.6 1.4 1 0.6 1-0.6 1-1.8 1.4 1.2 1.4 0.1 0.6-0.3 0.6-1.7 1.4 1.3 1.6 0.1 0.4-0.2 0.6-1.6 1.4 1.4 1.6-0.1 0.7-1.2 1.3 1.2 1.4 0.1 0.6-0.9 1.4 0.9 1.6-0.4 2 0.6 1.4-0.1 1.6 0.4 1.4-0.1 1.6 0.2 5-0.9 6.4-0.8 1.1-1 0.4-1-0.7-0.5-0.8-0.7-6.4 0-6.6 0.4-1.4-0.1-1.6 0.5-1.4-0.3-2 0.6-1.6-0.6-1.4 0-0.6 1-1.4-0.9-1.2-0.2-0.8 1.2-1.6-1.4-2 0-0.4 1.1-1.6-1.1-1.1-0.4-0.9 0.2-1 0.7-1-1.3-1.4-0.3-1 0.4-1 0.9-1 0-0.6-1.2-1.5-0.2-0.9 0.4-1 1-1 0.1-0.6-1.4-1.4-0.4-1.6 0.5-1.1zM67 21.8l1.2-0.1 0.9 0.5 0.3 0.6-0.1 1.4-1.1 1.1-1 0-1.1-1.1-0.1-1.4zM61.7 22.2l0.5 0 0.6 0.3 0.3 0.7-0.3 1-0.6 0.4-1-0.3-0.2-0.5 0.1-1zM56.7 22.8l0.5-0.3 0.5 0.3 0.2 0.4-0.1 0.8-0.6 0.3-0.7-0.5zM67 27.8l0.8-0.3 0.4 0.1 0.7 0.6 0.1 1-0.8 1.1-1 0-0.7-0.5-0.2-1zM67.1 32.8l1.1-0.1 0.6 0.5 0.1 1-0.7 0.7-1 0-0.7-0.7 0.1-1z"/><path fill="#354e93" d="M75.3 9.2l1.9 0.3 1.6 0.7 1.4 1.4 1.1 1.6 0.5 1.6-0.2 1.4-0.8 1.3-1.6 1-2 0.6-2.4 0-1.6-0.5-1-1.4-0.4-2.4 0.7-3 1.3-1.9zM67 10.8l0.8-0.3 1 0.5 0.7 1.2 0.5 2 0.1 1.6-0.4 1.4-0.9 1-1 0.3-1-0.2-0.8-0.5-0.5-1-0.4-1.6 0.5-2.4 0.6-1.3zM57 11.8l0.7 0.1 0.5 0.7 0.7 2.2-0.3 2-0.8 0.9-0.6 0.2-1.1-0.7-0.6-2 0.6-2.4zM61.2 11.8l0.6-0.4 1 0.2 0.7 1.2 0.5 1.4 0 1.6-0.3 1-0.8 1-0.7 0.2-1-0.2-0.4-0.5-0.7-1.5-0.1-1 0.4-1.6zM52.2 12.8l0.6-0.4 0.4 0.1 0.6 0.7 0.4 1.6 0 1-0.4 1-0.6 0.5-0.4 0.1-0.9-0.6-0.4-1 0.1-1.6zM44.9 13.2l0.3 0 0.5 0.6 0.3 1-0.2 1.4-0.6 0.6-0.4 0-0.5-0.6-0.2-1 0.1-1.1zM48.2 13.2l0.6-0.4 0.4 0.2 0.7 1.8-0.2 1.4-0.5 0.7-0.4 0.2-0.6-0.3-0.4-1-0.1-1zM31.6 13.8l0.5 0.4 0.2 1-0.5 1.2-0.6-0.2-0.3-1 0.2-1zM34.7 13.8l0.5 0.4 0.3 1-0.3 0.8-0.4 0.4-0.6-0.5-0.1-0.7 0.1-1zM38 13.8l0.3 0 0.4 1 0 1-0.5 0.6-0.5-0.2-0.3-1 0.1-1zM41 13.8l0.2-0.4 0.6 0.1 0.4 1 0.1 1.3-0.5 0.8-0.6 0-0.5-0.8-0.1-1zM25.1 14.2l0.1-0.1 0.3 0.1 0.3 0.6 0 0.9-0.6 0.4-0.4-0.9zM28.1 14.2l0.1-0.1 0.6 0.1 0.2 1-0.2 0.8-0.6 0.1-0.2-0.3zM74.4 21.3l1.8-0.2 2 0.3 1.6 0.8 0.6 1-0.3 1-0.5 0.6-2.6 1.4 0.3 0.6 1.7 1 0.7 1-0.2 1-2.2 1.4 0 0.6 1.6 1 0.7 1-0.6 1-2.4 1.4 1.7 1.6 0.1 0.4-0.3 0.6-1.3 0.8-1 0.2-1-0.3-0.9-0.7-0.1-1.1 1.3-1.5-1.8-1.4-0.4-1 0.4-1 1.2-1 0.1-0.6-1.4-1.1-0.3-1.3 0.4-1.1 1.2-0.9 0.2-0.6-1.8-1.4-0.4-1.6 0.7-1.4zM66.6 22.2l1.2-0.4 1 0.4 0.4 1-0.4 1.4-1 0.5-1-0.4-0.6-0.9 0.1-1zM61.6 22.8l0.6-0.2 0.6 0.6-0.1 0.6-0.5 0.4-0.4 0-0.4-0.4-0.1-0.6zM66.9 28.2l0.9-0.3 0.7 0.3 0.3 1-0.4 0.6-0.6 0.3-0.8-0.3-0.4-0.6zM67 33.2l0.8-0.3 0.4 0.2 0.4 0.7-0.1 0.4-0.7 0.4-0.6-0.1-0.4-0.7zM74.8 41.2l0.4-0.2 1-0.1 1 0.6 0.5 0.7-0.9 1-1.6 0.1-0.8-0.5-0.2-0.6zM75 45.2l0.8-0.2 0.9 0.2 0.5 0.6 0 0.4-1 0.7-1-0.1-0.6-0.6 0-0.4zM75.2 48.8l1-0.1 0.6 0.2 0.3 0.9-0.3 0.4-1 0.4-0.8-0.4-0.3-0.4 0-0.6zM75 52.2l0.8-0.4 0.4 0.1 1 0.9 0 0.4-0.6 1 0 0.6 0.9 1.4-0.1 1.6 0.5 1.4-0.1 1.6 0.2 1.4-0.2 2 0.2 1.6-0.4 1.4-0.1 1.6-0.5 1.4-0.2 2-1 0.4-0.6-0.2-0.3-0.6-0.9-6 0.2-5-0.2-1.6 0.5-1.4-0.1-1.6 0.8-1.4-0.6-1.6z"/><path fill="#375296" d="M74.5 9.8l1.7-0.3 1.6 0.4 1.4 1 1.3 1.3 0.9 2 0.1 1.6-0.8 1.4-0.9 0.8-2 0.8-2 0.3-2-0.4-1.2-0.9-0.7-2 0.2-2.6 0.8-2 0.9-1zM66.7 11.2l1.1-0.4 0.9 0.4 0.6 1 0.5 1.6 0.2 1.4-0.3 1.6-0.6 1-0.9 0.5-1.4-0.2-0.9-0.9-0.4-1 0-2.4 0.5-1.6zM61.7 11.8l0.5-0.1 0.7 0.5 0.6 1 0.3 1.6-0.3 2-0.7 0.8-0.6 0.2-0.6 0-0.7-0.6-0.6-1.4 0.3-2.6 0.6-1.1zM56.7 12.2l0.5-0.2 0.6 0.3 0.5 0.9 0.4 1.5-0.4 2.1-0.5 0.7-0.6 0.1-1-0.5-0.5-1.9 0.2-1.4zM52.3 13.2l0.5-0.4 0.4 0.2 0.8 1.8-0.2 1.5-0.6 0.7-0.4 0.1-0.6-0.3-0.4-1 0.1-1.6zM48.3 13.8l0.5-0.4 0.4 0.2 0.4 1.1-0.2 1.5-0.6 0.5-0.6-0.4-0.2-0.5 0-1zM41.2 14.2l0.6 0.1 0.1 0.9-0.1 0.7-0.6 0.1-0.1-0.2zM44.6 14.2l0.2-0.2 0.4-0.1 0.4 0.8 0 1.1-0.4 0.5-0.5-0.1-0.2-0.4zM75 21.2l2.2 0.1 2 0.8 0.9 1.1-0.4 1-1.5 1.2-2 0.7-1 0-1.4-0.8-1-1.1 0-1.4 0.8-1zM67 22.2l1.2 0 0.7 0.6 0.1 1-0.8 0.9-1 0.1-0.6-0.6-0.2-1zM75.6 26.8l1.2 0.1 1.4 0.6 1.2 1.3-0.3 1-0.6 0.4-1.7 0.9-0.9 0.1 0.2 0.6 2.4 1 0.7 1-0.6 1-2.4 0.9-1 0-1-0.4-0.6-0.5-0.5-1 0.7-1.2 1-0.6 0.8-0.2 0.1-0.6-0.9-0.2-1.2-0.8-0.5-1 0.1-1 1-1zM67.7 28.2l0.7 0.6 0 0.4-0.6 0.5-0.7-0.5-0.1-0.4zM74.5 37.2l1.3-0.4 1 0.1 1 0.8 0.1 0.5-0.4 0.6-0.8 0.4-1.5 0.1-0.9-0.5-0.2-0.6zM75 41.8l1.2-0.3 0.6 0.3 0.2 0.4-0.8 0.6-1 0-0.4-0.6zM75.3 55.8l0.9-0.2 0.6 0.6-0.3 1.6 0.9 1.4-0.2 1.6 0.3 2-0.2 1.4 0.2 1.6-0.5 1.4-0.1 1.6-0.7 0.9-0.4 0.1-0.6-0.4-0.2-0.6-0.1-1.6-0.5-1.4 0.2-1.6-0.2-2 0.3-1.4-0.2-1.6 0.8-1.4-0.3-1.6z"/><path fill="#39589a" d="M75.2 9.8l1.6 0 1.4 0.6 1.6 1.4 1.3 2 0.2 1.4-0.2 1-0.9 1.3-1.4 0.9-2 0.5-2 0-1.5-0.7-0.9-1-0.4-2.4 0.6-2.6 1.2-1.7zM67.1 11.2l0.7-0.2 1 0.6 0.6 1.2 0.4 2-0.1 1.4-0.4 1-0.5 0.7-1 0.3-1-0.2-0.6-0.5-0.7-1.7 0.1-1.6 0.4-1.4zM61.5 12.2l0.7-0.2 0.6 0.4 0.8 1.9-0.1 1.9-0.6 1-0.7 0.4-1-0.4-0.7-1.4 0.1-2zM56.6 12.8l0.6-0.4 0.6 0.3 0.7 2.1-0.3 1.7-0.4 0.7-0.6 0.2-0.4-0.1-0.5-0.5-0.4-1 0.1-1.6zM52.3 13.8l0.4-0.5 0.5 0.2 0.5 1.3-0.2 1.4-0.7 0.5-0.6-0.4-0.2-0.5 0-1zM48.6 14.2l0.2-0.2 0.5 0.8 0 1-0.5 0.4-0.5-0.9zM73.8 21.8l2-0.5 2 0.3 1 0.4 0.8 0.8 0.1 1-0.8 1-1.1 0.6-1.6 0.4-1.4-0.2-1.4-0.8-0.5-1 0-1zM66.8 22.8l0.4-0.4 1 0 0.6 0.8-0.4 1-0.6 0.4-0.8-0.4-0.4-0.4zM74.7 27.2l1.5-0.2 1.6 0.5 1 0.7 0.3 1-0.9 0.9-1 0.5-1.4 0.4-1-0.3-1.3-0.9-0.2-1 0.5-1zM74.8 32.2l1.4-0.1 1.6 0.5 0.9 0.6 0.2 0.6-0.2 0.4-0.9 0.8-1.6 0.5-1-0.1-1-0.3-0.7-0.9-0.1-0.4 0.4-0.9zM75.2 37.2l1.6 0.2 0.5 0.4 0.1 0.4-0.6 0.6-1.6 0.1-0.7-0.7 0-0.4zM75.6 58.8l0.6-0.1 0.5 0.5 0.1 0.6-0.6 1 0.7 2-0.4 1.4 0.4 1.6-0.7 0.9-0.4 0.1-0.6-0.4-0.2-0.6 0.3-1.6-0.3-2 0.6-1.4-0.4-0.6-0.1-1z"/><path fill="#3b61a0" d="M74.4 10.2l1.4-0.3 1.4 0.3 1.6 0.8 1.2 1.2 0.8 1.6 0.3 1.4-0.5 1.6-0.9 1-1.9 0.8-2 0.2-2-0.4-1-0.9-0.7-1.7 0.3-2.6 0.8-1.9zM66.8 11.7l0.4-0.3 1 0.1 0.8 0.7 0.6 1.5 0 2.5-0.4 1-1 0.8-1 0-0.4-0.2-0.6-0.6-0.4-1-0.2-1 0.2-1.5zM61.3 12.8l0.5-0.4 0.4 0 0.6 0.4 0.6 1.4-0.1 2-0.5 1-0.6 0.2-1-0.3-0.6-1.3 0.1-1.6zM56.6 13.2l0.6-0.4 0.6 0.3 0.5 1.1-0.1 2-0.4 0.7-0.6 0.2-0.7-0.3-0.4-1 0.1-1.6zM52.5 14.2l0.3-0.3 0.4 0.2 0.2 0.7-0.2 1.2-0.4 0.3-0.6-0.9zM74.1 21.8l1.7-0.4 2 0.4 1.5 1 0.2 1-0.9 1-1.4 0.6-1.4 0.2-1-0.1-1.2-0.7-0.6-1 0.1-1zM67.2 22.8l0.6-0.2 0.5 0.2 0.2 0.4-0.3 0.8-0.4 0.3-0.6-0.2-0.3-0.9zM75.7 27.2l1.5 0.3 1.3 0.7 0.2 1-0.3 0.6-1.2 0.6-1.4 0.3-1-0.2-1-0.7-0.3-0.6 0.2-1 1.1-0.8zM74.2 32.8l1-0.5 1.6 0.1 1.4 0.8 0.4 0.6-0.2 0.4-1.2 0.8-2 0.2-1-0.4-0.5-0.6 0-1zM75.2 37.8l1-0.2 0.5 0.7-0.9 0.3-0.6-0.2-0.2-0.2z"/><path fill="#3c6aa5" d="M74.8 10.3l1.4-0.2 1.6 0.5 1.5 1.2 1.1 1.4 0.5 1.6 0 1-0.5 1-1.2 1.1-2 0.7-2 0.1-1.4-0.4-1.1-1.1-0.5-2 0.3-2 0.9-2zM67.1 11.8l0.7-0.3 1 0.7 0.5 1 0.3 1.6-0.4 2.1-0.4 0.6-1 0.4-0.8-0.1-0.6-0.6-0.6-1.4 0.3-2.6zM61.7 12.8l0.5-0.1 0.6 0.4 0.5 1.7-0.2 1.4-0.9 1-1-0.4-0.4-1 0.1-1.6 0.3-1zM57 13.2l0.2-0.1 0.6 0.4 0.4 1.3-0.3 1.4-0.7 0.7-0.4-0.2-0.3-0.5-0.3-1 0.1-1zM74.5 21.8l1.7-0.2 1.6 0.3 1.2 0.9 0.2 1-0.9 1-1.5 0.5-1.6 0.1-1-0.3-0.8-0.9-0.3-1 0.5-1zM67.2 23.2l0.6-0.3 0.3 0.3-0.1 0.6-0.6 0zM74.5 27.8l1.3-0.4 1.4 0.3 0.9 0.6 0.4 0.5-0.1 0.4-0.6 0.8-1 0.4-1 0.1-1-0.2-0.9-0.5-0.2-0.6 0.2-0.9zM74.6 32.8l1.2-0.3 1 0.1 1.2 0.6 0.3 0.6-0.2 0.4-0.9 0.6-2 0.2-1-0.4-0.4-0.8 0.2-0.6z"/><path fill="#3c77b0" d="M74.2 10.8l1-0.5 1.6 0.1 1.4 0.7 1.4 1.1 0.9 1.6 0.2 1.4-0.2 1-0.7 1.1-1.6 0.9-2 0.4-2-0.2-1-0.6-0.8-1.6 0-2 0.6-2zM66.8 12.2l1-0.4 0.4 0.2 0.7 0.8 0.5 1.4 0.1 1.6-0.3 1-0.4 0.5-1 0.5-1.2-0.6-0.7-1.4 0.2-2zM61.5 13.2l0.7-0.2 0.6 0.5 0.3 0.7 0 1.6-0.3 0.8-0.6 0.4-0.7-0.2-0.5-1 0-1.6zM56.8 13.8l0.4-0.3 0.3 0.3 0.5 1-0.2 1.4-0.6 0.4-0.4-0.3-0.3-0.5-0.1-1zM75 21.8l1.8-0.1 1.4 0.5 0.6 0.6 0.2 1-0.8 0.8-1.4 0.6-1.6 0-1-0.3-0.7-0.7-0.2-1 0.5-1zM75 27.8l1.2-0.2 1 0.3 1 0.9-0.1 0.4-0.4 0.6-0.9 0.4-1 0.1-1-0.2-0.6-0.3-0.3-1.1 0.3-0.6zM75.1 32.8l1.1-0.1 1 0.3 0.7 0.8-0.2 0.4-1.5 0.7-1.4-0.2-0.6-0.5-0.2-0.4 0.2-0.6z"/><path fill="#3d86bb" d="M74.5 10.8l1.3-0.4 1.4 0.3 1.6 1 1 1.1 0.7 1.4 0 1.6-0.4 1-1.1 1-1.8 0.6-2 0.1-1.4-0.4-0.9-0.9-0.5-1.4 0.1-2 0.7-1.8zM67.1 12.2l0.7-0.2 1 0.7 0.6 2.1-0.4 2-0.4 0.4-0.8 0.4-1.1-0.4-0.7-1.4 0.2-2zM61.4 13.8l0.4-0.4 0.4-0.1 0.7 0.9 0 1.6-0.7 0.9-0.4 0-0.7-0.9 0-1zM56.8 14.2l0.4-0.3 0.6 0.9-0.1 1-0.5 0.4-0.5-0.4zM74.1 22.2l1.1-0.4 2 0.2 1.3 0.8 0.2 1-0.5 0.5-1 0.6-1.4 0.3-1-0.2-1-0.7-0.3-0.5 0.1-1zM74.4 28.2l0.8-0.3 1.6 0 1 0.7 0 0.6-1 0.8-1.6 0.1-0.7-0.3-0.4-0.6 0-0.4zM74.6 33.2l0.6-0.3 1 0 1.1 0.3 0.3 0.6-0.3 0.4-0.5 0.3-1.6 0.1-0.7-0.4-0.2-0.4z"/><path fill="#47a3c7" d="M74.9 10.8l1.3-0.2 1.6 0.5 1.4 1.1 0.7 1 0.5 1.6 0 1-0.5 1-1.2 1-1.5 0.5-2 0.2-1.4-0.5-0.8-0.8-0.5-2 0.3-2 1-1.7zM67.6 12.2l0.6 0.2 0.6 0.6 0.5 2.2-0.4 1.6-0.7 0.6-0.4 0.1-0.8-0.3-0.5-0.4-0.4-1.6 0.4-2 0.7-0.9zM61.7 13.8l0.5-0.1 0.6 1.1 0 1-0.6 0.6-0.4 0-0.6-1 0.1-0.6zM57.1 14.8l0.1-0.3 0.2 0.3-0.2 1-0.2-0.6zM74.3 22.2l1.5-0.3 1.4 0.2 1.1 0.7 0.2 1-0.7 0.7-1 0.4-2-0.1-0.9-0.6-0.3-0.4 0.2-1zM74.7 28.2l1.1-0.2 1 0.1 0.7 0.7 0 0.4-0.7 0.6-1.6 0.1-0.8-0.7-0.1-0.4zM74.9 33.2l1.3-0.1 0.6 0.1 0.5 0.6-0.5 0.5-1.6 0.1-0.4-0.2-0.2-0.4z"/><path fill="#64afb7" d="M74.5 11.2l1.3-0.3 1 0.1 1.4 0.8 1 1 0.8 1.4 0.1 1-0.2 1-0.8 1-1.3 0.8-2 0.3-1.6-0.3-0.9-0.8-0.6-1.4 0.1-2 0.7-1.6zM67.4 12.8l0.8 0.1 0.6 0.7 0.2 1.2-0.2 1.7-1 0.7-1-0.5-0.5-1.5 0.3-1.4zM74.9 22.2l1.3-0.1 1 0.3 0.9 0.8-0.1 0.6-1.2 0.8-1 0.2-1-0.3-0.6-0.3-0.3-1 0.3-0.5zM75 28.8l0.8-0.4 0.4 0.1 0.5 0.3-0.1 0.4-0.8 0.3-0.6-0.1z"/><path fill="#70ad92" d="M75.2 11.2l1 0 1.6 0.6 1 0.8 0.7 1.2 0.3 1.4-0.2 1-0.8 1-1 0.6-1.6 0.3-1.4-0.1-1-0.5-0.7-0.7-0.3-1.5 0.4-2.1 1-1.4zM67.3 13.2l0.5-0.1 0.4 0.3 0.6 1.4-0.2 1.4-0.8 0.7-0.6-0.1-0.6-1 0.1-1.6zM74.6 22.8l1.2-0.4 1 0.2 0.8 0.6-0.1 0.6-0.7 0.5-1.6 0.1-0.8-0.6-0.1-0.6z"/><path fill="#7caa70" d="M74.6 11.8l1.2-0.4 1 0.2 1.2 0.6 0.9 1 0.5 1 0.2 1-0.3 1-0.9 1-1.6 0.7-1.6 0.1-1-0.4-0.9-0.8-0.3-1.6 0.2-1.4 0.6-1.3zM67.3 13.8l0.5-0.2 0.4 0.3 0.3 0.9 0 1-0.3 0.5-0.4 0.2-0.6-0.3-0.4-1zM75.4 22.8l0.8-0.1 0.6 0.3 0.2 0.2-0.1 0.6-1.1 0.3-0.9-0.3-0.1-0.5z"/><path fill="#8db157" d="M75.3 11.8l0.9-0.1 1.4 0.5 1 1 0.6 1 0.1 1-0.3 1-0.8 0.9-1 0.5-1.4 0.2-1-0.1-1-0.7-0.5-0.8-0.2-1.4 0.4-1.6 0.7-0.9zM67.6 14.2l0.3 0 0.3 0.7 0 0.5-0.4 0.6-0.5-0.2-0.2-0.6 0.1-0.7z"/><path fill="#a8bb47" d="M74.7 12.2l1.1-0.3 1 0.2 1 0.7 0.9 1 0.3 1 0 1-0.6 1-0.6 0.4-1 0.4-1.6 0-1-0.3-0.5-0.5-0.4-1 0.1-1.6 0.4-1z"/><path fill="#c5c542" d="M75.2 12.2l1 0 1 0.4 0.8 0.6 0.7 1 0.1 1-0.3 1-1.3 1.1-2 0.2-1-0.4-0.6-0.9-0.2-1 0.3-1.4 0.5-0.9z"/><path fill="#d9c63e" d="M74.7 12.8l0.5-0.3 1-0.1 1 0.5 0.9 0.9 0.5 1.4-0.3 1-0.5 0.6-1 0.5-1 0.1-1-0.2-0.7-0.4-0.5-1 0-1 0.3-1z"/><path fill="#e1a336" d="M75.2 12.8l0.6-0.2 1 0.2 1 0.8 0.4 0.6 0.1 1.6-1.1 1.1-1 0.3-1 0-0.8-0.4-0.4-0.6-0.3-1 0.2-1 0.3-0.7z"/><path fill="#de762b" d="M74.7 13.2l1.1-0.4 1.4 0.6 0.9 1.4-0.1 1-0.3 0.4-0.9 0.7-1 0.2-1-0.3-0.6-0.5-0.3-1.5z"/><path fill="#d14e28" d="M75.1 13.2l0.7-0.1 0.8 0.1 1.1 1 0.1 1.6-1 0.9-1.6 0.1-1-0.8-0.1-0.8 0.1-1z"/><path fill="#c73029" d="M74.8 13.8l0.4-0.4 1 0 1 0.7 0.5 1.1-0.6 1-1.3 0.5-1.2-0.5-0.4-1z"/><path fill="#c52a2c" d="M75.2 13.8l1-0.2 0.9 0.7 0.3 0.9-0.6 1.1-1.6 0.1-0.6-0.6-0.1-1z"/><path fill="#ac262b" d="M75 14.2l0.8-0.3 1 0.3 0.3 1-0.2 0.6-0.7 0.4-1 0-0.5-1z"/><path fill="#8d2227" d="M75.5 14.2l0.7 0.1 0.5 0.5 0.1 0.6-0.6 0.5-1-0.1-0.3-0.6 0.1-0.4z"/><path fill="#7d1f24" d="M75.6 14.8l0.5 0 0.1 0.6-0.4 0.2-0.4-0.4z"/></g>
<g id="h01"><path fill="#2b3570" d="M74.5 6.2l1.3-0.1 2 0.4 3 1.8 1.4 1.5 1.4 2 0.8 2 0.2 1.4-0.5 2-0.9 1-3.9 2 2.9 1.2 1.1 0.8 0.4 1-0.2 1-0.3 0.6-1 0.6-2 0.8 0 0.6 2 0.8 1 0.6 0.4 1-0.1 0.6-0.7 0.7-2.6 1.3 2 1 1 1 0 0.4-0.4 0.7-2.9 1.3 0.3 0.6 1.9 1 0.3 0.4-0.1 0.6-0.5 0.5-2.2 0.9-0.6 0.6 1.8 0.7 0.9 0.7 0 0.6-0.4 0.4-2.6 1-0.4 0.6 1.9 0.7 0.8 0.7-0.2 0.6-0.7 0.4-3.2 1 2.8 1 0.6 0.6-0.1 0.5-1.4 0.8-3 0.5-2.6-0.6-0.7-0.8-0.1-0.4 0.4-0.6 1.8-1-1.8-0.8-0.6-0.6 0.1-1 1.3-1-0.3-0.6-1.1-0.6-0.4-0.8 0.2-1 1.1-1-1-1-0.6-1 0.2-1 1-1.6-1.1-1-0.5-1 0.5-1.4 0.9-1-1.3-1.6-0.4-0.4-0.6 0.9-1 1.1 1 1 0.5 1-0.2 1-0.3 0.4-1.3 1 1.2 1.6 0.1 1-0.6 1-1.8 1 1.4 0.5 0.6 0.5 0.2 1-0.2 0.5-1 0.7-2 0.1-1.1-0.9-0.2-1 0.7-1 1.5-0.4-1.8-1-0.6-1 0.1-1 1.1-1.6-1.6-1.4-0.1-1 0.1-0.6 1.4-1.4-1.5-1.8-1.8 1.8 1.1 1 0.6 1-0.2 1-0.7 0.9-1 0.5 1.3 1.6 0.1 1-1 1.2-1 0.3-1-0.2-0.9-0.8-0.2-1.1 0.5-1 0.9-1-1.4-1-0.3-0.7-1.6 1.4-1 0.3-1-0.5-0.8-0.9 0-1.6 0.8-0.9 1-0.5-1-0.6-1-1.1-2 1.3-1-0.3-1-1.1-0.4-0.2-1 1.2-1 0.1-0.6-0.3-0.7-1 0.1-1.6 1.2-1 0.9 0.1 1.1 1.2 0.5-0.2 0.9-1.2 1-0.2 2 1.2 1-1.1 0.6-0.2 0.1-0.6-0.7-0.2-1-1.1-1.9 1.2-1.1-0.2-1-1.2-0.4-0.1-1 1.1-1 0.1-1.2-1-0.4-1.5 0 0.5-1 1.4-1 0.3-0.9-0.7-0.4-1 0.3-1.6 0.6-0.7 0.4-0.3 1 0.4 1 1.6 0.6-1.4 1-0.9 1 0.1 1 1.2 0.4-0.1 1-1.2 1-0.3 2 1.3 1.6-1.4 1-0.1 2 1.4 1-1.1 0.9-0.5-1.9-1.6-1.6 1-1 0.4-1-0.5-1-1-2 1.1-1-0.2-1-1-0.4 0-1 0.8-1 0.1-0.9-0.5-0.7-0.9-1 0.9-1 0.3-0.6-0.3-0.8-1.4-0.6 0-0.5 0.8-0.9 0.5-0.7-0.5-0.5-1-0.3-2 0.2-2.4 0.7-2.1 0.6-0.5 0.4 0.1 1 2.1 0.6 0 0.7-2.2 0.7-0.9 0.6 0 0.3 0.5 1.1 1.9 0.8-1.9 0.8-1.2 0.4-0.1 0.6 0.3 1 2 0.4-0.1 1-2.3 0.6-0.4 0.4-0.1 0.6 0.3 1 1.9 0.4 0.4 1-2.3 1-0.8 1.1 0.5 0.9 2 0.6 0.4 1.2-2.5 0.8-0.7 0.4-0.1 1.1 0.8 1.5 2.9 1.4-3.1 0.6-0.4 1-0.3 1 0.4 0.8 0.9 1.2 3 0.4-0.4 0.7-2 0.9-1.4 1-0.8zM59.2 25.2l-1.3 1 0 0.6 1.9 1.3 1.3-1.3 0-0.6-1.3-1.2zM64.8 18.4l-2.4 1.8 1.4 0.7 1 1.2 1-1.2 1.1-0.7zM70.8 18.1l-0.9 1.1-1.4 1 1.3 0.7 1 1.5 1-1.2 1.2-1-1.8-1.8zM59.8 30.2l-1.6 1.3-0.8 0.3 0.8 0.3 1.6 1.4 0.4-0.7 1-1zM64.8 24.7l-1.7 1.5 0 0.6 1.7 1.5 1.5-1.5 0-0.6zM70.8 24.4l-0.5 0.8-1.2 1 0.1 0.6 1.2 1 0.4 0.8 1.7-1.8 0-0.6zM38.1 12.2l0.1-0.3 0.6-0.1 0.5 1 0.4 1.4-0.2 2.6-0.7 1-0.6-0.1-0.3-0.5-0.4-1.4 0.1-2zM41.7 21.8l0.5 0 0.5 0.4 0.3 1-0.2 1.2-0.6 0.6-0.4 0-0.8-0.8-0.1-1 0.2-1zM44.7 27.8l1.1-0.3 0.8 0.7 0.2 1-0.1 0.5-1 1-0.9-0.1-0.6-0.8-0.1-1zM41.3 28.3l0.5-0.3 0.4 0 0.6 0.8-0.1 1-0.5 0.4-0.4 0.1-0.7-0.5 0-1zM52.6 32.2l0.6-0.1 0.6 0.2 1.4 1.5 0 0.4-0.8 1-1.2 0.7-1-0.3-0.7-0.8-0.2-0.6 0.2-1zM48.3 32.8l0.9-0.4 0.6 0.2 0.6 0.6 0.2 1-0.8 1.2-1 0.1-0.9-0.7-0.2-1zM44.6 33.2l0.6-0.4 0.6 0 0.4 0.4 0.3 1-0.3 0.6-0.4 0.4-1-0.3-0.4-0.7zM41.5 33.8l0.3-0.3 0.4 0.1 0 0.8-0.4 0.1zM52.5 37.2l0.7-0.1 1 0.7 0.2 1-0.6 0.8-1.1 0.1-0.6-0.5-0.3-1zM56.2 37.2l1-0.4 1 0.2 0.9 1.2-0.2 1-1.1 0.9-1-0.1-0.6-0.4-0.3-0.4-0.2-1zM48.5 37.8l0.7-0.3 0.6 0.2 0.2 0.5-0.2 0.9-0.6 0.3-0.5-0.2-0.4-0.4zM57.1 41.2l1.1 0.3 0.6 0.7-0.2 1-0.8 0.6-1-0.1-0.8-0.9 0.3-1zM61.2 41.2l1-0.3 1 0.4 0.7 0.9-0.2 1-0.9 0.8-1 0-0.7-0.2-0.5-0.6-0.2-1zM52.6 41.8l0.6-0.2 0.6 0.2 0.2 1-0.2 0.4-1 0.2-0.6-0.5 0-0.7zM61.6 45.2l1.2 0.1 0.6 0.5 0.1 1-0.5 0.4-1.2 0.3-1-0.7 0.1-1zM66.6 45.2l1.2-0.3 1 0.3 0.7 0.6 0.1 1-0.5 0.4-0.9 0.4-1.4-0.1-0.9-0.7 0-0.6 0.1-0.4zM56.6 45.8l1.2-0.3 0.4 0.4 0.1 0.9-0.5 0.3-1-0.1-0.4-0.8zM61.6 49.2l1.2 0.1 0.3 0.5 0 0.4-0.8 0.6-0.5-0.1-0.6-0.5-0.1-0.4zM66.6 49.2l0.6-0.2 1 0 1 0.8 0 0.4-1 0.7-1.4-0.1-0.5-0.6-0.1-0.4zM74.8 52.2l1-0.1 2 0.3 1.5 0.8-0.2 0.6-0.3 0.2-2.6 0.6-2-0.2-1.1-0.6-0.1-0.6 0.4-0.4zM67 53.2l0.8-0.2 0.6 0.2-0.2 0.6-0.4 0-0.6 0zM74.7 56.2l2.1 0 0.7 0.6-1.2 0.4-1.2 0-0.9-0.4z"/><path fill="#2b3979" d="M74.8 7.2l1-0.1 1.4 0.3 1.6 0.7 1.6 1.1 2.1 2.6 0.8 2 0.3 1.4-0.6 2-0.9 1-1.3 0.8-4.2 1.2 3.6 0.9 1.4 0.7 0.9 1 0.1 1-0.6 1-1.2 0.7-2.5 0.7 0 0.6 2.5 0.7 1 0.5 0.6 0.8 0.1 0.4-0.2 0.6-1.1 0.8-2.9 1.2 2.6 1 1.1 1 0.1 0.4-0.4 0.6-0.7 0.4-3.2 1 0.5 0.6 2.4 1 0.4 0.4-0.1 0.6-0.5 0.4-1.3 0.6-3.4 0.9-2.6-0.7-0.9-0.7-0.2-0.5 0.1-1 1.7-1.6-1.7-0.8-0.5-1.2 0.1-1 0.4-0.4 1.4-1-1.4-0.9-0.4-0.7-0.3-1.4 0.5-1 1.6-1 0-0.6-1.6-1-0.5-1 0-1.4 0.4-1 0.9-0.9 2.1-0.7-2.7-1.2-1.4-2.5-0.4 1.3-0.6 1-1.6 0.8-1 0-1-0.4-0.6-0.4-0.8-1.6-1 1.6-1 0.6-1 0.1-1-0.4-1-1.5-1.6 1.5-1 0.3-1-0.4-1-1.5-1.4 1.5-1 0.1-1-0.8-0.6-1-0.5-0.2-0.9 1.5-1 0.2-0.7-0.6-0.5-1-0.4-1.8-0.8 2.4-0.6 0.5-0.6 0.1-0.4-0.3-0.5-0.9-0.4-2 0.5-3 0.8-1.5 0.6 0.1 0.4 0.8 1 3.3 0.6-3.1 1-1.8 0.4-0.2 0.6 0.4 1 2.7 0.4-0.3 1-2.8 0.6-0.6 0.4-0.1 0.7 0.7 0.9 2 0.4 0.5 1.2-3.1 0.8-0.7 0.6 0.1 0.5 0.6 0.9 2.3 0.6 0.6 1-2.9 0.4-0.6 1-0.4 0.6 0.2 0.6 0.8 1.4 3.5 0.7-2.5 0.9-1.4 0.8-0.7 0.6-0.1 1 0.4 1.1 1.8 0.9 3.4 0.4-0.8 0.7-2.6 0.7-1.4 1.2-1.1zM41.5 12.2l0.3-0.3 0.4 0.2 0.8 2.7-0.2 2-0.6 0.8-0.4 0.1-0.7-0.9-0.2-1.6 0.2-2zM67.2 20.8l1 0 1 0.3 0.7 0.7 0.4 1 0.1 1-0.3 1-0.9 0.9-1 0.4-1 0-1-0.4-0.8-0.9-0.3-1 0.4-2 0.7-0.8zM52.7 21.2l1.1 0.2 0.9 1.4 0 0.9-0.3 1.1-1.2 0.8-1-0.4-0.7-1.4 0.2-1.6 0.5-0.7zM56.4 21.2l1.4-0.3 0.6 0.3 0.7 1 0.3 1-0.2 1-1 1.4-1.4 0.1-0.7-0.5-0.6-1 0-1.4zM60.8 21.2l1-0.4 1 0.1 1.1 0.9 0.4 2-0.3 1-0.8 0.8-1.4 0.4-1-0.5-0.6-0.7-0.3-1 0-1zM48.5 21.8l0.7-0.3 0.6 0.2 0.5 1.1 0 1.4-0.5 0.8-0.6 0.2-0.9-0.4-0.4-1 0-1zM45 22.2l0.8 0 0.4 0.6 0 1-0.4 0.8-0.6 0.1-0.6-0.9 0.1-1zM57 27.2l1.2 0.2 0.9 1.4-0.2 1.4-1.1 0.9-1-0.1-0.6-0.3-0.7-1.5 0.6-1.4zM61.2 27.2l0.6-0.2 1 0.1 1.2 1.1 0.2 1.6-1 1.2-1.4 0.2-0.6-0.1-0.9-0.9-0.3-1.4 0.5-1zM66.3 27.2l0.9-0.3 1 0 1.6 0.9 0.5 1.4-0.3 1-0.4 0.6-1.8 0.7-1.6-0.4-0.4-0.5-0.5-0.8 0-1 0.4-1zM52.2 27.8l1-0.4 0.6 0.2 0.6 0.6 0.1 1.6-0.7 0.9-1 0.1-0.8-0.6-0.3-1.4zM48.3 28.2l0.9-0.4 0.8 0.4 0.2 1-0.4 1.1-1 0.1-0.6-0.4-0.2-0.8zM44.9 28.8l0.3-0.4 0.6 0.1 0.2 0.7-0.2 0.6-0.7 0-0.3-0.6zM66.8 32.2l1.4-0.1 1.4 0.7 0.5 1-0.1 1-0.4 0.4-1.8 0.8-1-0.2-0.9-0.6-0.5-1 0.1-1 0.7-0.7zM53.1 32.8l0.7 0.1 0.5 0.9-0.2 1-0.9 0.5-1-0.4-0.3-0.7 0.2-1zM56.5 32.8l1.3-0.3 0.9 0.7 0.2 1-0.7 1.1-0.4 0.3-1-0.1-0.8-0.7-0.2-1zM60.8 32.8l0.4-0.4 1-0.1 1.3 0.5 0.5 1-0.1 1-0.4 0.4-1.3 0.6-1-0.2-0.4-0.3-0.4-0.5-0.1-1zM48.8 33.3l0.4-0.1 0.7 0.6-0.1 0.7-0.6 0.3-0.4 0-0.4-0.6 0-0.4zM61.5 37.2l1.3 0 0.6 0.6 0.2 1-0.4 0.5-1 0.4-1.2-0.5-0.3-1 0.2-0.4zM66.5 37.2l1.3-0.3 1.1 0.3 0.8 1-0.3 1-0.6 0.5-1 0.2-1.6-0.5-0.4-1.2zM56.6 37.8l0.6-0.4 1 0.4 0.2 0.4-0.2 0.8-0.4 0.4-1-0.2-0.4-0.4zM73.5 41.2l1.7-0.4 2.6 0.2 2 0.8 0.5 0.4 0 0.6-0.5 0.5-2 0.7-2 0.2-1.6-0.2-1-0.3-0.8-0.9 0.3-1zM61.6 41.8l1.1 0 0.5 0.4 0 0.6-0.4 0.4-1 0.2-0.6-0.4-0.1-0.8zM66.6 41.8l0.6-0.3 1 0 0.7 0.3 0.4 0.4 0 0.6-0.4 0.4-0.7 0.3-1.4-0.1-0.6-0.6 0-0.6zM57 42.2l0.8 0 0 0.6-0.6 0.1-0.2-0.1zM74.1 45.2l1.1-0.2 1.6 0.1 2 0.5 0.6 0.6-0.2 0.6-1.4 0.6-3 0.2-1-0.3-0.8-0.5-0.1-0.6 0.2-0.4zM66.9 46.2l0.9-0.4 0.8 0.4-0.3 0.6-0.5 0.1-0.7-0.1zM74.1 49.2l1.7-0.2 1.4 0.2 1.3 0.6-0.1 0.4-1.6 0.6-2 0-1.3-0.6 0-0.4zM74.9 53.3l1.7-0.1-0.8 0.6-0.6-0.1z"/><path fill="#2c3c80" d="M73.9 8.2l1.4-0.4 1.9 0.3 2.6 1.4 1.6 1.7 1.1 2 0.4 2-0.3 1.6-1.3 1.4-3.1 1.3-2.4 0.2-2-0.2-1-0.4-0.9-0.9-0.6-2 0.2-3.4 1-3zM67.5 8.8l0.7 0 0.6 0.4 0.7 1 0.6 1.6 0.5 3-0.2 2-0.6 1.4-1 0.9-1 0.2-1.6-0.4-0.6-0.7-0.6-1.4-0.2-1.6 0.2-2 0.9-3 0.9-1.1zM61.4 9.2l0.8-0.3 1 0.8 0.7 1.5 0.7 2.6 0 2.4-0.5 1.6-0.7 1-1.2 0.4-1-0.2-0.8-0.8-0.6-1.7-1.6 2.3-0.4 0.2-1 0-0.8-0.8-0.8-2-1.4 2.4-1 0.1-0.6-0.2-0.8-1.7-0.1-2.6 0.7-3 0.8-1.2 0.4-0.1 0.6 0.4 1.4 3.8 1-3.8 0.6-0.7 0.4-0.3 0.6 0.1 0.7 0.8 1.3 3.5 0.7-2.9zM49.2 10.8l0.6 0.4 0.4 1 0.5 3-0.4 2-0.5 1-0.6 0.2-0.4-0.1-0.6-0.5-0.6-2.6 0.4-3 0.8-1.3zM44.9 12.2l0.3-0.4 0.6 0.1 0.6 1.3 0.2 1.6-0.4 2.3-0.4 0.7-0.6 0-0.5-0.6-0.4-1.4 0.1-2zM41.6 13.8l0.2-0.4 0.4 0.2 0.3 1.2-0.1 1.4-0.6 0.5-0.5-1.5zM74 20.8l1.8-0.3 3 0.4 2 0.9 1 1 0.1 1-0.2 0.4-0.9 0.9-2.6 0.9-2 0.2 0.2 0.6 1.8 0.2 2 0.6 1.5 1.2-0.1 1-0.8 0.7-1.6 0.6-3 0.7 3 0.7 1.7 0.7 0.4 0.6 0 0.4-0.3 0.6-1.2 0.6-2.6 0.7-2.4 0-2-0.7-0.7-0.6-0.1-1 0.6-1 1.6-0.9 1-0.1-2.4-0.9-0.7-0.7-0.3-1 0.2-1 0.3-0.4 1.5-0.9 1.2-0.1 0.2-0.6-1.4-0.2-1-0.4-1-1.4 0-1.4 0.4-1 1-0.8zM61.3 21.2l0.9-0.1 0.7 0.1 0.6 0.6 0.5 1-0.1 1.4-0.6 1-0.5 0.4-1.6-0.1-0.9-1.3 0.1-2zM66.5 21.2l1.7-0.2 1.3 0.8 0.5 1 0.1 1-0.3 1-0.6 0.5-1 0.4-1 0-1-0.4-0.5-0.5-0.3-1 0.1-1 0.4-1zM52.6 21.8l0.6-0.2 0.6 0.2 0.5 1-0.1 1.4-0.4 0.8-0.6 0.2-1-0.4-0.4-1 0.1-1zM56.3 21.8l0.5-0.4 1-0.1 0.4 0.3 0.6 0.6 0.2 1-0.1 1-0.7 1-0.4 0.3-1-0.1-0.9-1.2-0.1-1.5zM48.7 22.2l0.5-0.1 0.7 0.7-0.1 1.4-0.6 0.5-0.4-0.1-0.5-0.8 0.1-1zM67.2 27.2l1.6 0.2 1 0.8 0.1 1.6-0.2 0.4-0.9 0.8-1 0.1-1-0.1-1-0.8-0.2-0.4 0.1-1.6 0.5-0.6zM56.6 27.8l1.2-0.3 0.8 0.7 0.3 1-0.7 1.3-1 0.3-1-0.6-0.3-1.4zM60.9 27.8l1.3-0.5 1.1 0.5 0.4 0.4 0.2 1-0.7 1.4-1.4 0.4-1.1-0.8-0.3-1.4zM52.3 28.2l0.9-0.4 0.7 0.4 0.3 1-0.5 1-0.9 0.2-0.6-0.4-0.2-0.8zM48.6 28.8l0.7-0.4 0.4 0.4 0.1 0.4-0.3 0.6-0.7 0zM61.3 32.8l1.5-0.1 0.7 0.5 0.2 1-0.5 0.9-0.4 0.3-1 0.1-1-0.7-0.2-1zM66.4 32.8l1.4-0.4 1.3 0.4 0.7 1-0.2 1-0.5 0.4-0.9 0.4-1 0-0.9-0.4-0.4-0.4-0.2-1zM53 33.2l0.8 0.6 0 0.5-0.6 0.5-0.4-0.1-0.4-0.5 0-0.4zM56.4 33.2l0.9-0.4 0.9 0.4 0.4 0.6-0.2 1-0.6 0.4-1-0.2-0.6-0.8zM75.1 36.8l2.1 0 2 0.6 1.1 0.8-0.1 0.6-1.4 0.8-2.6 0.5-2-0.1-1.4-0.8-0.4-1 0.4-0.6 1-0.6zM61.5 37.8l0.7-0.3 0.6 0.2 0.3 0.5 0 0.6-0.7 0.4-0.6 0-0.6-0.4 0-0.6zM66.5 37.8l0.7-0.4 1 0 0.7 0.4 0.3 0.4 0 0.6-1 0.7-1 0-0.9-0.7zM74.8 41.2l1.4 0 2 0.4 1.2 0.6 0 0.6-1.2 0.6-2 0.4-2-0.1-0.9-0.5-0.4-0.4 0-0.6 0.9-0.7zM66.9 42.2l0.9-0.3 0.4 0.2 0.3 0.1 0 0.6-0.7 0.3-0.6-0.1-0.3-0.2zM74 45.8l2.2-0.3 1.5 0.3 0.6 0.4-0.3 0.6-0.8 0.2-2 0.2-1.4-0.4-0.2-0.6zM74.7 49.8l1.1-0.2 1 0.2-0.2 0.4-0.8 0.2-0.9-0.1z"/><path fill="#2d4086" d="M73.9 8.8l1.3-0.5 2 0.2 2 1.1 1.7 1.6 1.2 2 0.3 1.6-0.3 2-0.9 1.1-2 1.1-3 0.5-2.4-0.2-1.6-1-0.7-2.1 0.1-3 0.9-3zM67.6 9.2l1.2 0.5 0.7 1.1 0.6 2 0.3 2.4-0.3 2-0.5 1-0.8 0.7-1 0.2-1-0.2-0.9-0.7-0.5-1-0.4-2 0.5-3 0.5-1.4 0.8-1.2zM61.4 9.8l0.8-0.4 1 0.9 0.8 1.9 0.4 2.6-0.5 3-0.7 0.8-1 0.4-1-0.2-0.6-0.6-0.6-1.4-0.1-1.1 0-1.9 0.5-2zM56.7 10.2l0.5-0.4 0.6 0.1 0.4 0.6 0.7 1.7 0.6 3-0.7 2.7-0.6 0.6-1 0.3-0.4-0.1-0.9-0.9-0.5-2 0.2-2.6 0.5-2zM52.7 10.8l0.5-0.3 0.6 0.5 0.6 1.8 0.3 1.5-0.3 2.9-0.6 1-0.6 0.3-0.4-0.1-0.8-0.6-0.5-2 0.2-2.6 0.4-1.4zM48.7 11.8l0.5-0.4 0.6 0.5 0.6 2.9-0.3 2.4-0.9 0.8-0.4-0.1-0.6-0.6-0.3-1.5 0.2-2.6zM45.2 12.8l0.6 0 0.5 2.4-0.3 1.6-0.2 0.4-0.6 0.1-0.4-0.7-0.2-1.4 0.2-1.6zM67.5 21.2l1.3 0.3 0.4 0.3 0.6 1 0 1-0.3 1-1.3 0.7-1 0-0.6-0.3-0.6-0.4-0.4-1 0.1-1 0.5-1zM73.1 21.2l1.1-0.3 1.6-0.1 3 0.4 2.1 1 0.5 1 0 0.6-0.7 1-1.5 0.7-2.4 0.5-2.6-0.1-1.4-0.6-0.8-1.1-0.1-1 0.3-1zM56.7 21.8l1.1-0.2 0.4 0.3 0.5 0.9-0.1 1.4-0.8 1-1-0.1-0.7-0.9 0-1.4zM61 21.8l1.2-0.5 1 0.5 0.4 0.4 0.2 1-0.1 1-0.9 1.1-1 0.1-0.6-0.2-0.7-1 0-1.4zM52.5 22.2l0.7-0.2 0.8 0.8-0.1 1.4-0.7 0.6-0.5 0-0.6-1 0.1-1zM49.2 22.8l0.3 0.4-0.3 0.8-0.4-0.2-0.1-0.6zM73.6 27.2l2.2-0.3 3 0.4 2 0.9 0.5 1-0.8 1-1.7 0.8-3 0.5-2-0.4-1.5-0.9-0.3-1 0.2-1 0.6-0.6zM61.4 27.7l0.8-0.1 1.2 0.6 0.2 1.6-0.8 0.8-1 0.1-0.6-0.2-0.5-0.7-0.1-1zM66.5 27.8l1.3-0.4 1.4 0.6 0.6 1.2-0.4 1-0.6 0.5-1 0.2-1.6-0.5-0.5-1.2 0.3-1zM53 28.2l0.3 0 0.5 0.6 0 0.9-0.6 0.4-0.4-0.1-0.5-0.8 0.1-0.5zM56.4 28.2l0.9-0.4 0.9 0.4 0.4 1-0.4 0.9-1 0.4-0.6-0.3-0.5-1zM74.3 32.2l1.9-0.1 2.6 0.4 1.5 0.7 0.4 0.6 0.1 0.4-1 0.9-1.6 0.5-2.4 0.4-2-0.3-1.4-0.9-0.2-1 0.7-1zM67 32.8l1.2-0.1 1 0.5 0.3 1-0.3 0.6-0.4 0.4-1 0.2-1-0.2-0.6-0.4-0.2-1 0.2-0.6zM57 33.2l0.8 0 0.4 0.6 0 0.4-0.4 0.6-0.8 0-0.4-0.6 0-0.4zM61.1 33.2l0.7-0.3 1 0 0.6 0.9-0.2 1-1 0.4-1-0.3-0.3-0.7zM73.9 37.2l1.9-0.3 2 0.3 1.4 0.6 0.4 0.4-0.1 0.6-0.7 0.5-1.6 0.4-1.4 0.2-1.6-0.2-1-0.4-0.4-0.5 0.2-1zM67.2 37.8l1 0 0.5 0.4-0.1 0.6-0.8 0.4-1-0.4-0.1-0.6zM74 41.8l1.2-0.3 2 0.1 1.4 0.6 0 0.6-1.4 0.6-2.4 0.1-0.9-0.3-0.5-0.4 0-0.6zM74.4 46.2l1.4-0.4 1.3 0.4-0.5 0.6-0.8 0-0.9 0z"/><path fill="#30458b" d="M74.8 8.8l1.4-0.1 2 0.7 1.6 1.1 1.3 1.7 0.9 2 0.1 1.6-0.6 1.4-1.3 1.1-2 0.8-3 0.3-2-0.5-1.1-1.1-0.5-2.6 0.4-3 1.2-2.4zM67.2 9.8l1 0 1 1.1 0.7 1.9 0.3 2-0.1 2-0.4 1-0.9 0.9-1 0.2-1-0.2-0.7-0.5-0.6-1-0.2-1.5 0-1.9 0.5-2 0.4-1.1zM61.4 10.2l0.8-0.3 0.7 0.3 0.7 1.5 0.5 2.1 0.1 2-0.3 1.4-0.7 1.2-1 0.4-1-0.2-0.4-0.5-0.8-2.3 0.4-3.6zM56.7 10.8l0.5-0.5 0.9 0.5 0.5 1 0.5 2-0.1 3-0.4 1-0.8 0.8-1-0.1-0.6-0.5-0.6-2.2 0.3-3.1zM52.7 11.2l0.5-0.1 0.6 0.4 0.7 2.7-0.1 2.6-0.5 1-0.7 0.4-0.4 0-0.6-0.5-0.5-1.9 0.3-3zM48.7 12.2l0.5-0.2 0.6 0.6 0.4 1.6-0.2 2.6-0.8 0.9-0.7-0.5-0.4-1.4 0.1-2zM45.2 13.8l0-0.2 0.6 0.2 0.2 1.4-0.2 1.2-0.6 0.2-0.4-1.4zM73.6 21.2l2.2-0.3 3 0.5 1.6 0.8 0.4 0.6 0.2 1-0.8 1-2 0.8-2.4 0.3-2-0.3-1.3-0.8-0.4-1 0.3-1.6zM61.4 21.8l0.8-0.3 0.6 0.2 0.7 1.1 0 1.4-0.7 0.9-1 0.1-0.6-0.3-0.4-0.7-0.1-1.4zM66.6 21.8l0.6-0.3 1 0 1.1 0.7 0.3 1.6-0.4 0.9-0.4 0.4-1.6 0.2-1-0.6-0.4-1.4 0.3-1.1zM56.5 22.2l0.7-0.4 0.6 0.1 0.7 0.9-0.1 1.4-0.6 0.7-1-0.1-0.4-0.6-0.2-1zM52.5 22.8l0.7-0.4 0.6 0.6 0 0.8-0.6 0.6-0.4-0.1-0.4-0.5zM74.2 27.2l2-0.1 2.6 0.4 1.5 0.7 0.6 1-0.8 1-1.9 0.7-2.4 0.3-2-0.2-1.2-0.8-0.4-1 0.6-1.3zM66.9 27.8l1.3-0.1 1 0.6 0.4 0.9-0.5 1-1.3 0.5-1-0.2-0.6-0.4-0.2-1.3 0.2-0.6zM56.8 28.2l1-0.1 0.4 0.6 0 0.9-0.4 0.6-0.6 0-0.6-0.4-0.1-1zM61.1 28.2l0.7-0.4 1 0.1 0.6 0.9-0.2 1.1-1 0.6-1-0.3-0.4-1zM73.3 32.8l1.9-0.5 2.6 0.2 2 0.7 0.5 0.6 0 0.4-0.5 0.6-1.6 0.7-2 0.2-2-0.1-1-0.4-0.8-1 0.3-1zM61.5 33.2l0.7-0.1 0.6 0.1 0.3 0.6 0 0.4-0.3 0.6-0.6 0.2-0.7-0.2-0.4-0.6 0-0.4zM66.5 33.2l0.7-0.3 1 0 0.7 0.3 0.3 1-0.4 0.7-1.6 0.3-0.7-0.4-0.3-0.6zM57.1 33.8l0.7-0.1 0 0.5-0.6 0.2zM74.6 37.2l1.6 0 1.6 0.2 1.2 0.8-0.1 0.6-0.7 0.4-1.4 0.4-2.6-0.1-1-0.6-0.1-0.7 0.3-0.4zM74.9 41.8l2.3 0.2 0.7 0.2 0 0.6-1.2 0.4-1.9 0-0.9-0.4 0-0.6z"/><path fill="#33498f" d="M74.3 9.2l1.5-0.2 2 0.5 1.7 1.3 1.3 1.4 0.9 2 0 1.6-0.6 1.4-0.9 0.8-2.4 1-2.6 0.2-2-0.5-0.9-0.9-0.5-2 0.2-3 1.1-2.6zM62.2 10.2l0.6 0.3 0.7 1.3 0.6 3.4-0.6 2.6-0.7 0.7-0.6 0.1-1-0.2-0.5-0.6-0.5-2.6 0.6-3.4 0.4-1zM67 10.2l0.8-0.2 1 0.6 0.8 1.6 0.4 2 0 2-0.5 1.6-0.7 0.7-1 0.2-1-0.1-0.6-0.4-0.5-1-0.3-1.4 0.4-3.6 0.4-1.1zM57.2 10.8l0.6 0 0.6 1 0.5 2 0.1 1.4-0.1 1.6-0.5 1-0.6 0.6-0.6 0-0.4-0.2-0.8-1-0.3-2 0.5-3 0.6-1.2zM52.7 11.8l0.5-0.3 0.6 0.5 0.6 2.8-0.2 2-0.4 0.9-0.6 0.3-0.4-0.1-0.6-0.5-0.4-1.6 0.2-2.6zM48.9 12.8l0.3-0.2 0.5 0.6 0.3 1.6-0.1 1.4-0.7 1.1-0.4-0.2-0.6-1.4 0.2-1.9zM74 21.2l2.2-0.2 2.6 0.5 1.7 1.3 0.1 1-0.8 1-1.6 0.6-2.5 0.3-1.9-0.2-1.1-0.7-0.4-1.6 0.5-1.2zM67 21.8l1.2-0.1 1 0.9 0.2 1.2-0.6 1.1-1.6 0.2-1-0.9-0.1-1.4zM56.9 22.2l0.9 0 0.4 0.6 0.1 1-0.5 0.8-0.6 0.1-0.6-0.5-0.2-1zM61.1 22.2l0.7-0.4 0.4 0 0.9 0.4 0.3 1.6-0.6 1-1 0.2-0.8-0.8-0.2-1zM52.7 23.2l0.5-0.3 0 1-0.3-0.2zM75.1 27.2l2.1 0.1 1.6 0.4 1.1 0.5 0.6 1-0.9 1-1.8 0.7-2 0.2-2-0.3-1-0.6-0.4-0.4 0-1.1 0.8-1zM61.4 28.2l0.8-0.2 0.6 0.2 0.4 0.6 0 0.5-0.4 0.8-1 0.2-0.7-0.5 0-1zM66.5 28.2l1.3-0.4 1 0.3 0.5 0.7-0.1 1-1 0.7-1.4-0.2-0.7-1.1zM56.7 28.8l0.5-0.5 0.6 0.2 0.3 0.7-0.2 0.6-0.7 0.1-0.3-0.1-0.3-0.6zM73.7 32.8l1.5-0.4 2.6 0.2 1.6 0.6 0.5 0.6 0 0.4-0.7 0.7-1.4 0.5-2 0.2-1.6-0.1-1-0.4-0.6-0.9 0.3-1zM66.9 33.2l0.9-0.2 0.7 0.2 0.5 0.6 0 0.4-0.8 0.7-1.3-0.1-0.4-0.6 0-0.4zM61.5 33.8l0.7-0.4 0.6 0.4 0 0.4-0.6 0.5-0.4-0.1-0.4-0.4zM73.8 37.8l1-0.4 1.4 0 1.7 0.4 0.6 0.4-0.1 0.6-0.9 0.4-2.3 0.3-1-0.3-0.7-0.4-0.1-0.6zM74.5 42.2l1.7-0.2 0.8 0.2 0.1 0.6-1.9 0.2-0.7-0.2z"/><path fill="#354e93" d="M75.6 9.2l1.6 0.4 2 1.2 1.6 2 0.7 2-0.1 1.4-1.1 1.6-1.1 0.6-2 0.6-2.4 0.1-1.6-0.5-0.8-0.8-0.5-1.6 0-2.4 0.9-2.7 1-1.2 1-0.5zM61.6 10.8l0.6-0.2 1 1 0.7 3.2-0.3 2.4-0.4 0.7-1 0.6-0.8-0.3-0.5-0.4-0.6-2 0.3-3 0.6-1.6zM66.8 10.8l1-0.5 1 0.6 0.7 1.3 0.3 1.6 0.1 2-0.3 1.4-0.4 0.7-1 0.6-1 0.1-0.6-0.4-0.5-0.4-0.5-1.6 0.1-3 0.4-1.4zM57 11.2l0.2-0.1 0.6 0.1 0.4 0.7 0.7 2.9-0.4 2.4-0.7 1-0.6 0-0.4-0.2-0.6-0.8-0.4-2 0.4-2.4zM52.6 12.2l0.6-0.3 0.6 0.6 0.4 1.7-0.2 2.6-0.8 0.9-0.4-0.1-0.4-0.4-0.5-1.4 0.2-2zM49.1 13.2l0.1 0 0.6 0.9 0.1 1.1-0.2 1-0.5 0.7-0.4-0.2-0.4-1.5 0.3-1.4zM74.6 21.2l2.2 0 2 0.6 1.3 1 0.2 1-0.8 1-1.7 0.6-2 0.2-2-0.3-1.2-1.1-0.1-1.4 0.8-1zM61.4 22.2l0.8-0.2 0.6 0.2 0.3 0.6 0.1 1-0.4 0.8-1 0.2-0.6-0.6-0.2-1zM66.6 22.2l1.2-0.4 1 0.4 0.5 1-0.2 1-0.3 0.4-1 0.4-1-0.3-0.6-0.9 0.1-1zM56.7 22.8l0.5-0.4 0.8 0.4 0.1 1-0.3 0.5-0.6 0.1-0.4-0.4zM73.5 27.8l1.7-0.5 2.6 0.2 1.7 0.7 0.6 0.6 0.1 0.4-0.4 0.7-1.6 0.7-2 0.4-2-0.1-1-0.4-0.6-0.7 0-1zM62 28.2l0.8 0.3 0.2 0.7-0.2 0.7-0.6 0.2-0.4-0.1-0.6-0.8 0.1-0.4zM66.8 28.2l1-0.2 0.9 0.3 0.4 0.5-0.1 1-0.6 0.4-0.6 0.2-1-0.3-0.5-0.9zM57.2 28.8l0.6 0.4-0.6 0.3-0.2-0.3zM74.1 32.8l1.7-0.3 2 0.3 1.2 0.4 0.5 0.6 0.1 0.4-0.8 0.7-1.6 0.5-3 0-1-0.5-0.4-0.7 0.3-1zM66.8 33.8l1-0.5 0.9 0.5 0 0.4-0.5 0.5-1 0-0.4-0.5zM74.3 37.8l1.9-0.3 1.1 0.3 0.7 0.4-0.1 0.6-0.7 0.3-2 0.2-1.3-0.5-0.1-0.6z"/><path fill="#375296" d="M74.4 9.8l1.4-0.3 2 0.5 1.4 1.1 1.3 1.7 0.6 1.4 0.1 1.6-0.3 1-1.1 1.2-1.6 0.6-2.4 0.4-2-0.3-1.2-0.9-0.6-2 0.2-2.6 1-2.4zM67.2 10.8l0.6-0.2 1 0.6 0.7 1.6 0.3 2-0.3 2.4-0.7 0.9-1 0.4-1-0.3-0.6-0.4-0.6-2 0.3-3 0.7-1.6zM61.4 11.2l0.8-0.3 0.6 0.3 0.6 1 0.4 2 0 1.6-0.3 1.4-0.7 1-0.6 0.1-0.4 0-0.8-0.5-0.5-1.6 0.1-3zM56.8 11.8l0.5-0.4 0.6 0.4 0.5 1 0.4 2-0.4 2.4-0.6 0.8-0.6 0.1-0.9-0.9-0.3-1.4 0.1-2zM52.6 12.8l0.6-0.5 0.6 0.7 0.3 1.2-0.1 2-0.2 0.8-0.6 0.5-0.6-0.3-0.5-1.4 0-1.6zM48.7 14.2l0.5-0.4 0.4 0.9 0 1.1-0.4 0.6-0.5-0.6zM73.5 21.8l1.8-0.5 2.5 0.2 1.5 0.7 0.5 0.6 0.2 1-0.9 1-1.3 0.5-2 0.3-1.6-0.2-1.1-0.6-0.5-1 0.1-1zM61.7 22.2l0.5 0 0.6 0.3 0.3 0.7-0.3 1-0.5 0.4-0.5-0.1-0.6-0.7 0.1-1zM66.9 22.2l0.9-0.2 0.4 0.1 0.7 0.7 0.2 1-0.3 0.4-0.6 0.5-1 0-0.6-0.5-0.2-1zM57.2 22.8l0.6 0.1 0.1 0.3-0.1 0.7-0.6 0.2-0.3-0.9zM73.8 27.8l2-0.4 2 0.3 1.4 0.5 0.5 0.6 0.2 0.4-0.7 0.8-1.4 0.6-2 0.3-1.6-0.2-1-0.5-0.6-1 0.4-1zM67.1 28.2l1.1 0 0.6 0.4 0.1 0.6-0.1 0.6-1 0.4-1-0.4-0.2-1zM61.6 28.8l0.6-0.3 0.5 0.3 0.1 0.6-0.6 0.4-0.4 0-0.3-0.6zM74.6 32.8l1.6-0.1 1.6 0.2 1.4 0.9 0 0.4-0.5 0.6-1.5 0.4-1.4 0.2-1.6-0.2-0.9-0.4-0.3-1 0.4-0.6zM67.2 33.8l0.6-0.2 0.4 0.1 0.1 0.5-0.5 0.3-0.6-0.1zM75 37.8l1.5 0 1 0.4-0.3 0.6-2 0.3-0.9-0.3-0.2-0.6z"/><path fill="#39589a" d="M75.2 9.8l1.6 0.1 1.4 0.7 1.6 1.4 1 1.8 0.2 1.4-0.3 1.6-0.9 1-1.6 0.7-2 0.4-1.4 0-1.6-0.6-0.8-1.1-0.4-2.4 0.6-2.6 1.2-1.8zM61.7 11.2l0.5-0.1 0.7 0.7 0.6 1.4 0.2 1.6-0.3 2.4-0.6 0.8-0.6 0.2-1-0.4-0.7-2 0.3-2.7 0.4-1.3zM66.9 11.2l0.9-0.3 1 0.6 0.6 1.3 0.3 1.4 0 1.6-0.4 1.4-0.5 0.8-1 0.3-1-0.2-0.6-0.5-0.5-1.8 0.2-2.6zM57.2 11.8l0.6 0 0.4 0.8 0.5 2.6-0.4 2-0.5 0.6-0.6 0.1-0.7-0.7-0.5-2 0.5-2.4zM53.2 12.8l0.6 0.7 0.2 1.7-0.2 1.5-0.6 0.5-0.4-0.1-0.3-0.3-0.3-1.6 0.4-2 0.2-0.3zM73.8 21.8l2-0.4 2 0.3 1.2 0.5 0.6 0.6 0.1 1-0.9 1-1 0.4-2 0.3-1.6-0.2-0.9-0.5-0.6-1 0.1-1zM67.4 22.2l0.8 0.1 0.6 0.6 0.1 0.9-0.7 0.7-1 0-0.6-0.7 0.1-1zM61.5 22.8l0.7-0.4 0.6 0.4 0 1-0.6 0.6-0.4-0.1-0.4-0.5zM74.1 27.8l1.7-0.3 2 0.3 1.1 0.4 0.6 0.6 0.1 0.4-0.4 0.6-1.4 0.7-2 0.3-1.6-0.2-1-0.5-0.4-0.9 0.4-1zM66.8 28.8l1-0.5 0.8 0.5 0.1 0.4-0.5 0.7-1 0-0.5-0.7zM75.6 32.8l2.7 0.4 0.6 0.6 0 0.4-0.7 0.6-2 0.5-1.4-0.1-1.3-0.4-0.3-0.6 0-0.4 0.4-0.6zM74.6 38.2l1.2-0.3 1.1 0.3-0.2 0.6-0.9 0.1-1-0.1z"/><path fill="#3b61a0" d="M74.3 10.2l1.5-0.3 1.4 0.4 1.6 0.9 1.3 1.6 0.6 1.4 0.1 1.6-0.4 1-0.9 1-1.7 0.8-2 0.2-2-0.3-1-0.9-0.6-1.8 0.2-2.6 0.8-2zM67.2 11.2l1 0.1 0.6 0.5 0.6 1.4 0.2 1.6 0 1.4-0.4 1-0.4 0.6-1 0.4-1-0.3-0.6-0.6-0.4-1.5 0.4-3 0.6-1.2zM61.5 11.8l0.7-0.4 0.6 0.3 0.5 1.1 0.3 1.4-0.1 2.6-0.7 1-0.6 0.2-1-0.4-0.6-1.8 0.2-2.6zM56.9 12.2l0.3-0.2 0.6 0.2 0.5 1 0.3 1.6-0.4 2.2-0.4 0.6-0.6 0.1-0.4-0.3-0.4-0.6-0.3-1.6 0.3-2zM52.9 13.2l0.4 0 0.6 1.6-0.1 1.4-0.6 0.7-0.4-0.1-0.4-1 0-1.6zM74.1 21.8l1.7-0.3 2 0.3 1.5 1 0.2 1-0.7 0.8-1 0.4-2 0.4-1.6-0.3-1-0.5-0.4-0.8 0.2-1zM62.1 22.8l0.5 0.4-0.3 0.9-0.7-0.3 0.2-0.9zM67 22.8l0.8-0.4 0.6 0.4 0.2 1-0.3 0.4-0.5 0.2-0.6-0.2-0.4-0.4zM74.5 27.8l1.3-0.2 2 0.3 1 0.5 0.4 0.3 0.1 0.5-0.2 0.6-1.3 0.6-2 0.3-1.6-0.2-1-0.6-0.3-0.7 0.5-1zM67.2 28.8l0.6-0.2 0.4 0.1 0.3 0.5-0.5 0.6-0.5 0-0.5-0.6zM73.9 33.2l1.3-0.3 2 0.1 1.4 0.8 0 0.4-1.4 0.8-2.4 0.1-1-0.3-0.4-0.6 0-0.4z"/><path fill="#3c6aa5" d="M74.8 10.2l1.4 0 1.6 0.5 1.2 1.1 1.1 1.4 0.5 1.5-0.1 1.5-0.6 1-1.1 0.9-2 0.6-2 0-1.2-0.5-1-1-0.4-2 0.4-2.4 0.8-1.5zM61.7 11.8l0.5-0.2 0.6 0.4 0.5 1.2 0.3 1.6-0.4 2.2-0.4 0.7-0.6 0.2-1-0.4-0.5-1.7 0.2-2.6zM66.9 11.8l0.9-0.4 0.4 0.1 0.9 1.3 0.4 1.4 0 1.6-0.3 1.1-0.4 0.7-1 0.5-1-0.3-0.5-0.6-0.4-1.5 0.2-2.5zM56.8 12.8l0.4-0.5 0.6 0.1 0.4 1 0.3 1.4-0.3 2-0.4 0.6-0.6 0.1-0.4-0.3-0.5-1.4 0-1.6zM52.8 13.8l0.4-0.3 0.5 1.3 0 1-0.5 0.8-0.4-0.2-0.3-0.6zM74.4 21.8l1.4-0.2 2 0.3 1.3 0.9 0.2 1-0.5 0.6-1.6 0.7-1.4 0.2-1.6-0.3-1-0.8-0.2-1 0.5-1zM67.4 22.8l0.5 0 0.5 0.4-0.2 0.7-0.4 0.3-0.7-0.4-0.1-0.6zM75 27.8l2.8 0.2 1.2 0.8 0.1 0.4-0.3 0.6-1.6 0.6-1.4 0.2-1.6-0.2-0.9-0.6-0.1-1 0.6-0.7zM74.1 33.2l1.7-0.2 1.4 0.2 1.1 0.6 0 0.4-1.5 0.8-2 0-0.8-0.2-0.4-0.6 0-0.4z"/><path fill="#3c77b0" d="M74.1 10.8l1.1-0.5 1.6 0.2 1.4 0.8 1.4 1.5 0.7 1.4 0.1 1.6-0.3 1-1 1-1.9 0.7-2 0.2-1.4-0.4-1-1-0.5-1.6 0.1-1.9 0.8-2zM67.2 11.8l0.6-0.2 1 0.7 0.7 2.5-0.3 2-0.4 0.7-1 0.4-0.8-0.1-0.5-0.6-0.5-1.4 0.2-2.6zM61.5 12.2l0.8-0.3 0.5 0.4 0.6 1.9-0.1 2.5-0.5 0.8-0.6 0.3-0.4-0.1-0.6-0.4-0.4-1.5 0.1-2zM57 12.8l0.2-0.3 0.6 0.2 0.6 2.1-0.3 2-0.4 0.4-0.5 0.1-0.6-0.5-0.3-1.6 0.2-1.4zM52.9 14.2l0.3-0.2 0.3 0.8-0.3 1.4-0.5-0.4zM74.8 21.8l1.9-0.1 1.5 0.5 0.6 0.6 0.2 1-0.8 0.8-1 0.4-1.4 0.2-1.6-0.3-0.9-0.7-0.2-1 0.5-1zM73.8 28.2l1.4-0.4 1.6 0.1 1.4 0.5 0.5 0.4 0.2 0.4-0.3 0.6-1 0.4-1.4 0.3-1.4-0.1-1.4-0.6-0.1-1zM74.5 33.2l1.3-0.1 1.3 0.1 0.9 0.6 0 0.4-1.2 0.7-2 0-1-0.7 0-0.4z"/><path fill="#3d86bb" d="M74.5 10.8l1.3-0.3 1 0.1 1.4 0.9 1.3 1.3 0.7 1.4 0.1 1.6-0.4 1-1 1-1.7 0.6-2 0.2-1.4-0.4-1-1-0.4-1.4 0.1-2 0.7-1.9zM61.7 12.2l0.5-0.1 0.6 0.4 0.6 2.3-0.3 2-0.3 0.5-0.6 0.3-0.4-0.1-0.6-0.4-0.3-1.3 0.1-2zM66.9 12.2l0.9-0.4 0.4 0.2 0.6 0.8 0.5 1.4 0 1.6-0.2 1-0.3 0.5-1 0.5-1.2-0.6-0.5-1.4 0.1-2zM56.9 13.2l0.3-0.4 0.6 0.2 0.5 1.8-0.1 1.4-0.4 0.8-0.6 0.2-0.4-0.5-0.3-0.9 0-1.6zM73.8 22.2l1.4-0.4 2 0.2 1.4 0.8 0.2 1-0.3 0.4-1.3 0.7-2.4 0.1-1-0.5-0.6-0.7 0.2-1zM74 28.2l1.2-0.3 1.6 0.1 1.4 0.6 0.4 0.6-0.3 0.6-1.1 0.4-2.4 0.2-1-0.5-0.4-0.7 0.1-0.4zM74.9 33.2l1.9 0.1 0.9 0.5 0 0.4-1.5 0.7-1.5-0.1-0.7-0.6 0-0.4z"/><path fill="#47a3c7" d="M74.8 10.8l1.4-0.1 1.6 0.6 1.1 0.9 0.9 1.6 0.4 1.4-0.2 1-0.7 1-1.1 0.8-2 0.5-1.4-0.1-1.4-0.6-0.6-0.9-0.4-1.7 0.4-2 1-1.8zM67.1 12.2l0.7-0.2 0.5 0.2 0.6 1 0.4 1.6-0.3 2-0.8 0.8-0.4 0.1-1.1-0.5-0.6-1.4 0.2-2zM61.5 12.8l0.7-0.5 0.6 0.5 0.5 1.4-0.1 2-0.4 1-0.6 0.3-0.4-0.1-0.6-0.5-0.3-1.1 0.1-1.6zM57.1 13.2l0.1-0.1 0.6 0.2 0.4 1.9-0.4 1.6-0.6 0.2-0.4-0.6-0.3-1.2 0.3-1.4zM74 22.2l1.8-0.4 1.4 0.3 1.2 0.7 0.2 1-0.4 0.4-1.4 0.7-1.6 0.1-0.9-0.2-0.7-0.6-0.2-0.4 0.1-1zM74.2 28.2l1-0.2 1.6 0.1 1.4 0.6 0.2 0.5-0.3 0.6-1.3 0.4-2 0.1-1-0.5-0.3-0.6 0.1-0.4zM74.2 33.8l1-0.5 1 0 1.2 0.5 0 0.4-1.1 0.6-1.1 0-1-0.6z"/><path fill="#64afb7" d="M74.4 11.2l1.4-0.3 1 0.2 1.4 0.9 1.1 1.2 0.5 1.6 0 1-0.4 1-1.2 0.9-1.4 0.6-1.6 0-1-0.2-1-0.9-0.6-1.4 0.2-2 0.6-1.6zM67.1 12.8l0.7-0.4 0.4 0.2 0.6 0.8 0.3 1.4-0.3 1.9-1 0.7-1-0.5-0.5-1.1 0.1-1.6zM61.5 13.2l0.3-0.3 0.4-0.1 0.6 0.5 0.3 0.9-0.1 2-0.8 1-0.7-0.4-0.4-1 0.1-1.6zM57.2 13.8l0.6 0.2 0.2 1.2-0.2 1.1-0.6 0.2-0.5-1.3zM74.5 22.2l1.3-0.2 1.4 0.3 0.7 0.5 0.3 0.4 0 0.6-0.4 0.4-1.1 0.5-1.9 0-0.8-0.5-0.4-0.4 0.2-1zM74.8 28.2l2 0.1 1 0.5 0.2 0.4-0.4 0.6-0.8 0.3-2 0-0.7-0.3-0.3-0.6 0.1-0.4zM74.8 33.8l1.4-0.2 0.4 0.2 0.1 0.4-1.5 0.2-0.4-0.2z"/><path fill="#70ad92" d="M75.2 11.2l1 0.1 1.6 0.7 1 1 0.6 1.2 0.1 1.6-0.4 1-0.9 0.7-1 0.5-1.5 0.2-1.5-0.3-0.8-0.7-0.5-1-0.1-1.4 0.4-1.9 1-1.3zM62.2 13.2l0.6 0.7 0.2 1.3-0.2 1.1-0.6 0.5-0.4-0.1-0.6-1.5 0.4-1.4 0.2-0.4zM67 13.2l0.8-0.4 0.4 0.3 0.6 1.1 0 2-0.6 0.8-0.4 0.1-0.9-0.3-0.4-1 0.1-1.6zM57.2 14.8l0-0.3 0.4 0.7-0.4 0.6zM75.5 22.2l1.9 0.6 0.4 0.4 0 0.6-0.5 0.4-1.1 0.4-1 0-0.9-0.4-0.4-0.4 0.3-1zM74.3 28.8l0.9-0.4 1 0 1.1 0.4 0.2 0.4-0.7 0.6-1.6 0.2-1-0.6z"/><path fill="#7caa70" d="M74.6 11.8l1.2-0.3 1 0.2 1 0.6 0.9 0.9 0.5 1 0.1 1-0.2 1-0.9 1.1-1.4 0.6-1.6 0.1-1-0.2-1-1-0.3-1.6 0.2-1.4 0.7-1.4zM67.7 13.2l0.7 0.6 0.3 1.4-0.2 1-0.7 0.7-0.6-0.2-0.3-0.5-0.2-1 0.3-1.4zM62.2 13.8l0.6 1.4-0.6 1.2-0.4-0.1-0.3-1.1 0.3-1.2zM74.6 22.8l1.2-0.3 1 0.2 0.6 0.5-0.1 0.6-1.1 0.5-1.3-0.1-0.6-0.4-0.1-0.6zM74.8 28.8l1.4-0.2 0.4 0.2 0.4 0.4-0.8 0.5-1 0.1-0.7-0.6z"/><path fill="#8db157" d="M75.5 11.8l1.3 0.2 1 0.6 0.9 1.2 0.3 1 0 1-0.5 1-0.7 0.6-1.6 0.5-1 0-1-0.3-0.8-0.8-0.3-1 0-1.6 0.7-1.4 1-0.9zM67.6 13.8l0.6 0.3 0.3 1.1-0.3 1-0.4 0.3-0.6-0.3-0.3-1 0.2-1zM61.8 14.8l0.5-0.4 0.1 0.8-0.2 0.7-0.4-0.4zM75.4 22.8l0.8 0 0.6 0.3 0 0.7-1 0.3-1-0.3-0.2-0.6z"/><path fill="#a8bb47" d="M74.6 12.2l1.2-0.2 1 0.2 1 0.7 0.6 0.9 0.4 1 0 1-0.6 0.9-0.6 0.5-1.4 0.5-1 0-1-0.3-0.6-0.6-0.4-1 0.1-1.6 0.5-1.1zM67.7 14.2l0.5 1-0.4 0.9-0.6-0.3-0.1-0.6 0.1-0.6z"/><path fill="#c5c542" d="M75.2 12.2l1 0.1 1 0.5 1 1 0.4 1-0.1 1-0.5 1-1.8 0.8-1 0-0.9-0.4-0.5-0.5-0.4-1-0.1-0.9 0.5-1.4 0.4-0.6z"/><path fill="#d9c63e" d="M74.6 12.8l0.6-0.3 1 0 1 0.6 0.7 0.7 0.4 1 0 1-1.1 1.3-1 0.3-1 0-1-0.4-0.4-0.6-0.3-1.2 0.1-1z"/><path fill="#e1a336" d="M75.2 12.8l0.6-0.1 1 0.3 0.8 0.8 0.5 1-0.2 1.4-0.7 0.7-1 0.4-1.4-0.2-0.6-0.3-0.5-1-0.1-1 0.4-1z"/><path fill="#de762b" d="M74.7 13.2l1.1-0.3 1 0.3 0.5 0.6 0.6 1.4-0.3 1-0.5 0.6-0.9 0.3-1 0-1.2-0.9-0.2-1.4z"/><path fill="#d14e28" d="M75.1 13.2l1.1 0 1.2 1 0.2 1.6-0.9 1-1.5 0.1-1-0.7-0.2-1.4 0.4-1z"/><path fill="#c73029" d="M74.7 13.8l1.1-0.4 1 0.4 0.4 0.6 0.3 0.8-0.5 1-1.2 0.6-1.3-0.6-0.4-1 0.1-0.8z"/><path fill="#c52a2c" d="M75.2 13.8l1 0 0.9 1 0 1-0.9 0.7-1 0-0.8-0.7 0-1z"/><path fill="#ac262b" d="M74.9 14.2l0.9-0.3 1 0.7 0 1.2-0.5 0.4-1.1 0.1-0.4-0.4-0.3-0.7z"/><path fill="#8d2227" d="M75.7 14.2l0.5 0.3 0.4 0.7-0.2 0.6-0.6 0.3-0.6-0.1-0.4-0.7 0.4-0.9z"/><path fill="#7d1f24" d="M75.6 14.8l0.5 0.4-0.3 0.5-0.6-0.5z"/></g>
<g id="h02"><path fill="#2b3570" d="M73.2 7.2l2-0.3 2 0.1 1.6 0.5 2 1.2 1.1 1.1 1.1 1.4 0.6 1.6 0.4 2.4-0.5 3-2.1 3.6 0.7 2.4-0.2 1.6-0.5 1-2.1 1.4-0.2 0.6 1.9 1.4 0.7 1.6-0.2 1-0.4 0.4-2 1.6 0.2 0.4 1.9 1.6 0.4 1-0.5 1-2 1.4 0.3 0.6 1.4 1 0.6 1-0.3 1-1.9 1.4 0 0.6 1.5 1 0.6 1-0.3 1-1.8 1.4 0 0.6 1.3 1 0.6 1-0.3 1-1.7 1.4 0 0.6 1.3 1 0.6 1-0.3 0.9-1.7 1.5 0 0.6 1.2 1 0.5 1-0.3 1-1.5 1.4 0 0.6 1 1 0.5 1-0.2 1-1.4 1.4 0 0.6 1.2 1.4 0 1-1.7 2 0 0.6 0.9 1.2 0.3 0.8-0.4 1-0.6 0.4-1.7 0.9-1 0.2-1-0.3-1-0.6-0.8-1.2 0-1 0.7-1.4-0.1-0.6-0.9-1.4-0.2-1 0.8-2.5-0.8-1.5-0.2-1 0.9-2.6-0.9-1.4-0.1-1 0.3-1 0.6-1 0-0.6-0.9-1.4-0.2-1 0.3-1 0.8-1 0-0.6-1-1.4-0.2-1 0.4-1 0.7-1 0-0.6-1-1.4-0.2-1 0.4-1 0.8-1 0-0.6-1.1-1.4-0.1-1 0.3-1 0.9-1.6-1.1-1.4-0.2-1 0.2-1 1.2-2-1.2-1.6-0.3-1.4 0.4-1.6 1.1-1.4-1.5-2.6-0.4-3-0.4-0.9-2.7-2.5-2.9-0.6-1-0.4-1-1.6-0.4-2 0.5-3.4 0.7-1.6 0.8-0.7 2-0.5 2 0.6 0.4-0.1 2-1.4zM47.5 10.2l0.7 0 0.7 0.6 0.7 1.4 0.4 2 0 1.6-0.4 1.4-0.6 1-0.8 0.4-1-0.1-0.4-0.4-0.6-1.3-0.3-1.6 0.5-3.4 0.6-1zM52.6 10.2l0.6-0.2 1 0.5 0.9 1.7 0.3 2 0 1.6-0.4 1.4-0.8 1.2-1 0.3-1-0.3-0.4-0.5-0.8-2.7 0.6-3.4zM58 10.2l1.2-0.4 1 0.5 0.7 0.9 0.6 2 0.2 2-0.5 2-1 1.4-1 0.3-1-0.2-0.6-0.5-0.6-1-0.4-1.4 0.3-3.6zM32.6 10.8l0.6-0.1 0.7 0.5 0.6 1.6 0.2 1.4-0.2 2.6-0.5 1-0.8 0.5-1-0.2-0.4-0.5-0.7-2.4 0.5-3 0.5-1zM37.3 10.8l0.9-0.3 0.6 0.4 0.6 1.3 0.3 1.6 0.1 1.4-0.2 1.6-0.5 1-0.9 0.6-1-0.2-0.4-0.4-0.7-2 0.2-3 0.5-1.3zM42.1 10.8l0.7-0.5 1 0.4 0.5 1.1 0.4 1.5 0.2 1.9-0.3 1.6-0.4 1-1 0.8-1-0.2-0.4-0.5-0.8-2.1 0.1-2.6 0.4-1.4zM22.7 11.2l0.5 0 0.6 0.4 0.5 1.2 0.3 1.4-0.3 2.6-0.5 0.8-0.6 0.3-0.4 0.1-0.9-0.8-0.6-2 0.4-2.4 0.5-1.2zM27.3 11.2l0.5-0.3 0.5 0 0.5 0.4 0.8 2.5 0.1 1.4-0.3 1.6-0.5 1-0.6 0.3-0.5 0.1-0.7-0.4-0.6-1-0.2-1 0.1-2.6zM17.5 11.8l0.7-0.2 0.6 0.4 0.6 2.2-0.2 2.2-0.4 1-0.6 0.3-0.4 0-0.7-0.5-0.6-2 0.3-2.1zM12.6 12.2l0.6-0.1 0.6 0.5 0.5 1.6-0.2 2-0.9 1.1-0.4 0-0.6-0.4-0.6-1.7 0.4-2zM7.5 13.2l0.3-0.3 0.4 0 0.8 1.3-0.1 1.6-0.7 0.9-0.4 0-0.7-0.9 0-1.6zM65.2 23.8l1-0.5 1.2 0.5 0.3 0.4 0.1 1-0.6 1.1-1 0.2-1-0.7-0.3-1zM65.7 31.2l1.1-0.3 0.4 0.3 0.2 0.6-0.2 0.6-0.4 0.3-1-0.3-0.3-0.6zM75.1 81.2l0.7-0.2 1.4 0.5 0.8 0.7 0.2 0.5-0.3 0.5-1.7 0.8-1.5-0.3-0.7-0.9 0.2-0.9z"/><path fill="#2b3979" d="M75.4 7.8l2.8 0.4 2.6 1.6 1.7 2.4 0.5 1.6 0.2 1.4-0.2 1.6-0.4 1.4-0.9 1.6-1.6 2 0.9 2.4-0.1 1.6-1.4 1.4-3 1.6 3.2 1.4 0.5 0.6 0.4 1-0.3 1-0.5 0.6-3.1 1.4 0.6 0.4 2.2 1 0.8 1 0.1 0.6-0.5 1-1.1 0.7-2 0.7 3.2 2 0.2 1-0.3 0.6-1.1 0.8-1.8 0.6 0 0.6 2.2 0.9 0.9 1.1 0 0.4-0.9 1-2.4 1 0 0.6 2 0.8 0.8 0.6 0.2 1-1 1.1-2.2 0.9 0 0.5 1.6 0.7 1 0.7 0.5 0.7-0.1 0.4-0.9 1-2.4 1 0 0.6 1.9 0.7 0.9 0.7 0.2 1-1.1 1.1-1.4 0.7-1 0.2-1.6-0.6-1.1-1.4 0.1-1 0.4-0.4 1.7-1 0.1-0.5-1.6-0.8-0.9-1.3 0.3-1.3 1.9-1.1 0-0.6-1.7-1-0.6-1 0.1-1 0.9-0.9 1.1-0.5 0-0.6-1.7-1-0.4-0.4-0.2-1 0.6-1.2 1.5-0.8 0-0.6-1.5-0.8-0.5-0.6-0.2-0.6 0.2-1 0.5-0.7 1.3-0.7 0.4-0.6-1.1-0.5-1-0.9-0.4-1.6 0.6-1 2-1.4-1.2-0.7-1-0.8-0.5-1.5 0.5-1.6 1-0.8 1.4-0.6-2-1.3-0.7-0.7-0.5-1.6 0-2.4-0.5-1-2.7-2.8-3-0.4-1.6-0.7-0.7-1.1-0.2-1.6 0.5-3 0.5-1 0.9-0.8 1.6-0.3 2 0.8 0.4-0.1 3-2.3 1.6-0.5zM58.4 11.2l0.8-0.2 1 0.6 0.6 1.2 0.3 1.4 0 1.6-0.3 1.1-0.6 0.7-1 0.5-1-0.2-0.4-0.5-0.8-2.2 0.4-2.4zM42.7 11.8l0.5-0.1 0.6 0.5 0.6 2-0.2 2-0.4 1-0.6 0.4-0.4 0-0.6-0.4-0.6-1-0.1-1 0.3-2.1 0.4-1zM47.4 11.8l0.4-0.3 0.4 0 0.6 0.4 0.6 1.9 0 2.4-0.5 1-0.7 0.5-1-0.2-0.8-1.7 0.2-2.6zM52.4 11.8l0.8-0.5 0.6 0.2 0.8 1.3 0.3 1.4 0.1 1-0.4 1.6-0.4 0.6-1 0.5-1-0.5-0.6-1.6 0-2zM32.7 12.2l0.5 0 0.5 0.6 0.5 1.4-0.2 2-0.8 1-0.4 0-0.6-0.3-0.5-1.7 0.3-2zM37.3 12.2l0.5-0.3 0.4 0 0.6 0.6 0.4 1.3 0 2-0.4 1.2-0.6 0.4-0.4 0-0.6-0.3-0.6-1.3 0.1-2zM27.5 12.8l0.7-0.2 0.6 0.6 0.2 1 0 1.6-0.8 1.1-0.4 0.1-0.6-0.4-0.4-1.4 0.2-1.4zM22.5 13.2l0.3-0.2 0.4 0 0.7 1.2-0.1 1.6-0.6 0.8-0.4 0-0.4-0.4-0.4-1 0.2-1.4zM17.7 13.8l0.5-0.1 0.5 1.1 0 0.4-0.5 0.9-0.4 0-0.5-0.9zM74.5 66.2l1.3-0.4 1 0.1 2 1.3 0.1 1-0.7 0.9-1 0.6-1 0.4-1-0.1-1.2-0.8-0.6-1 0.1-1zM74.8 71.2l1-0.3 1.4 0.5 1.1 0.8 0.1 1-0.6 0.8-1 0.5-1 0.2-1-0.3-0.8-0.6-0.3-1 0.4-1zM75.2 76.8l0.6-0.2 1 0.2 0.5 0.4 0.2 0.6-0.2 0.4-1.1 0.6-1 0-0.6-0.6-0.2-0.4 0.2-0.6z"/><path fill="#2c3c80" d="M73 8.8l2.8-0.5 1.4 0.1 1.6 0.6 2.2 1.8 1 1.4 0.5 1.6 0.1 2.4-0.6 2-0.9 1.6-1.9 2 1.1 2.4-0.2 1.6-1.3 1.4-2 0.7-1 0.1-1-0.2-1.7-1-0.5-1-0.2-1 0.3-2.6-3.5-3.6-0.4-0.4-2 0.1-1.6-0.3-1-0.8-0.6-1.4 0.2-2.6 1-1.7 1-0.5 1-0.1 2 0.9 0.4-0.1 2-1.9zM53.2 12.2l0.6 0.3 0.4 0.7 0.4 2-0.4 1.3-0.4 0.5-0.6 0.2-0.4-0.1-0.6-0.6-0.3-1.3 0.3-2.1 0.6-0.7zM58.3 12.2l0.5-0.3 1 0.2 0.5 0.7 0.5 1.4 0 1-0.2 1-0.4 0.7-1 0.6-1-0.3-0.7-1.4 0.1-2zM42.7 12.8l0.5 0 0.6 0.7 0.2 1.7-0.3 1-0.5 0.6-0.4 0-0.6-0.4-0.3-1.2 0.2-1.4zM47.4 12.8l0.4-0.3 0.4 0 0.6 0.6 0.3 1.1 0 1.5-0.3 0.8-0.6 0.5-0.4 0-0.6-0.3-0.4-1.4 0.1-1.5zM37.6 13.2l0.6-0.1 0.6 1.1 0 1.6-0.6 0.7-0.4 0.1-0.4-0.4-0.4-1 0.2-1.4zM32.6 13.8l0.2-0.3 0.4 0 0.4 0.7 0.2 1-0.6 1-0.5 0-0.5-0.6 0-0.8zM27.7 14.2l0.6 0 0.2 1-0.3 0.5-0.4 0.1-0.3-0.6zM74.2 29.8l1.6-0.5 2.4 0.6 1.3 0.9 0.4 1-0.1 0.4-0.8 1-1.8 0.8-1.4 0.2-1.6-0.3-1.2-1.1-0.2-1 0.2-1zM74.7 35.8l1.5-0.3 2.3 0.7 1 1 0 1-0.7 0.7-1.6 0.7-1.4 0.1-1.6-0.3-1.2-1.2 0-1 0.7-1zM74.7 41.2l1.5-0.2 2 0.6 0.9 0.6 0.3 1-0.6 0.8-1.6 0.6-1.4 0.3-1.6-0.4-0.8-0.7-0.3-1 0.6-1zM75.1 46.2l1.1 0 2 0.5 0.8 0.5 0.2 1-0.4 0.6-1.6 0.8-1.4 0.2-1.6-0.4-0.7-0.6-0.3-1 0.7-1.1zM75.6 51.2l1.6 0.3 1 0.4 0.7 0.9 0 0.4-0.7 0.8-1.4 0.6-1.6 0-1-0.4-0.8-1 0.2-1 0.6-0.5zM74.3 56.8l1.5-0.5 1.4 0.3 1.3 0.6 0.3 0.6-0.1 0.4-0.5 0.6-1.4 0.7-1 0.1-1-0.2-0.9-0.6-0.3-0.6 0.1-1zM74.7 61.8l1.1-0.4 1.4 0.4 0.8 0.4 0.3 0.6-0.1 0.4-0.4 0.6-1 0.5-1 0.1-0.8-0.2-0.8-0.4-0.3-0.6 0.2-1zM75.2 66.8l1-0.1 1 0.4 0.6 0.7 0 0.4-0.6 0.6-1 0.3-1.4-0.3-0.5-0.6-0.1-0.4 0.2-0.6zM75.1 72.2l0.7-0.2 0.8 0.2 0.4 0.6-0.1 0.4-1.1 0.5-0.6-0.2-0.4-0.7z"/><path fill="#2d4086" d="M74.5 8.8l2.7 0 2.6 1.3 1.7 2.1 0.7 2.6-0.1 2-0.5 1.4-1.1 1.6-2.1 2 1.2 2 0.2 1-0.2 1-1.4 1.2-2 0.6-1.4-0.2-1.6-1.1-0.4-1.5 0.6-2.6-0.2-0.4-2.4-2-1.6-2-0.4-0.4-2 0.4-1.6-0.3-1-0.9-0.4-1.4 0.4-2.2 1-1.2 1.6-0.4 2 1.1 0.4 0 2.6-2.6 1.4-0.8zM58.7 12.8l0.5-0.2 0.6 0.3 0.4 0.8 0.3 1.1-0.3 1.3-0.4 0.6-0.6 0.2-1-0.4-0.5-1.3 0.3-1.4zM52.9 13.2l0.3-0.1 0.6 0.3 0.4 1.4-0.1 1-0.3 0.5-0.6 0.2-0.5-0.3-0.5-1 0.1-1zM47.5 13.8l0.3-0.4 0.4 0.1 0.5 0.7 0.1 1-0.6 1.1-0.4 0-0.6-0.6-0.1-0.9zM42.5 14.2l0.3-0.4 0.4 0.1 0.2 0.3 0.2 1-0.4 0.7-0.4 0.1-0.5-0.7zM37.6 14.8l0.2-0.3 0.4 0.1 0 0.8-0.4 0.1zM75.4 29.7l1.8 0.2 1.6 0.9 0.5 1-0.4 1-1.1 0.7-1.6 0.4-1-0.1-1.3-0.6-0.7-1 0.1-1 0.8-1zM74.4 36.2l1.4-0.3 1.4 0.2 1.3 0.7 0.5 1-0.8 0.9-1 0.5-1.4 0.2-1-0.2-0.9-0.4-0.5-1 0.4-1zM74.4 41.8l1.4-0.4 1.4 0.2 1.2 0.6 0.3 0.6 0 0.4-0.5 0.6-1.4 0.6-1 0.1-1-0.2-0.9-0.5-0.3-0.6 0.2-1zM74.7 46.8l1.1-0.3 1.4 0.3 1 0.4 0.4 0.6-0.1 0.4-0.4 0.6-1.3 0.5-1 0.1-1-0.2-0.7-0.4-0.4-1 0.3-0.6zM75.1 51.8l1.1-0.1 1 0.2 1 0.9-0.1 0.4-0.5 0.5-0.8 0.4-1 0.2-1-0.3-0.8-0.8 0-0.4 0.3-0.6zM75.6 56.8l1.9 0.4 0.4 0.6 0 0.4-0.6 0.6-1.1 0.3-1-0.1-0.6-0.2-0.4-0.6 0-0.4 0.6-0.8zM75 62.2l0.8-0.2 1 0.2 0.5 0.6-0.1 0.4-1 0.6-1-0.1-0.5-0.5-0.1-0.4zM75.3 67.8l0.5-0.3 0.6 0.3-0.1 0.4-0.5 0.1z"/><path fill="#30458b" d="M73.7 9.2l2.5-0.2 2.6 0.8 1.2 1 0.9 1 1 2.4 0 2-1 2.6-1.1 1.3-2.3 1.7 1.7 2 0.2 1-0.3 1-1 1-1.9 0.5-1.4-0.2-1.2-0.9-0.4-1-0.1-1 0.9-2 0-0.4-2.9-2-1.9-2.9-0.4-0.2-1.6 0.7-1.4-0.1-1-0.6-0.7-1.5 0.2-1.4 0.9-1.5 1.6-0.4 1 0.5 1 1 0.4 0 2-2.7 1-0.8zM58.5 13.8l0.7-0.5 0.8 0.9 0.1 1-0.3 0.8-0.6 0.3-0.5-0.1-0.6-1zM53 14.2l0.2-0.2 0.6 0.8 0 0.6-0.6 0.4-0.5-0.6zM74.7 30.2l1.5-0.2 1.6 0.5 0.8 0.7 0.1 1-0.5 0.6-1 0.6-1.4 0.2-1-0.2-0.9-0.6-0.4-1 0.5-1zM75.3 36.2l1.5 0.1 1 0.5 0.5 0.4 0.1 0.6-0.2 0.4-0.7 0.6-1.3 0.3-1.7-0.3-0.5-0.6-0.1-1 0.4-0.4zM75.4 41.8l1 0 1.3 0.4 0.4 0.6 0 0.4-0.6 0.6-1.3 0.4-1.4-0.3-0.7-0.7 0-0.4 0.3-0.6zM74.6 47.2l1.2-0.4 1 0.2 1 0.6 0.1 0.6-1.1 0.7-1.6 0.1-0.9-0.8-0.1-0.4zM75 52.2l0.8-0.2 1.1 0.2 0.5 0.6-0.1 0.4-1.1 0.6-1 0-0.6-0.6 0-0.4zM75.5 57.2l1.3 0.3 0.3 0.3-0.1 0.4-0.8 0.4-1-0.1-0.3-0.7z"/><path fill="#33498f" d="M75.2 9.2l2.6 0.4 2 1.3 1.3 1.9 0.6 2.4-0.4 2-1.1 2-1.4 1.3-2.4 1.3 2.3 2 0.3 1-0.3 1-1.3 1-1.6 0.3-1-0.3-0.8-0.6-0.6-1.4 0.4-1.6 1.3-1.4-2.3-1.2-1.6-1.1-1.2-1.7-0.8-2-0.4 0-1.6 1.2-1 0.1-1-0.4-0.4-0.5-0.4-1 0.5-2 1.3-0.8 1.3 0.4 1.3 1.6 0.4 0.2 1.2-2.4 1.2-1.4 1.6-1.1zM59.1 14.2l0.5 0.6 0.1 0.4-0.5 0.5-0.6-0.5 0.2-0.8zM74.5 30.8l1.3-0.5 1.4 0.3 0.9 0.6 0.1 1-0.4 0.6-1 0.4-1.6 0-0.9-0.4-0.3-0.6 0-1zM74.9 36.8l0.9-0.3 1 0.1 0.9 0.6 0.2 0.6-0.3 0.4-0.8 0.5-1.6 0.1-0.7-0.6-0.3-0.4 0.2-0.6zM75 42.2l0.8-0.2 1.1 0.2 0.6 0.6-0.1 0.4-0.8 0.6-1.4 0-0.6-0.6 0-0.4zM75.3 47.2l1.5 0.2 0.4 0.4-0.1 0.4-0.9 0.5-1-0.1-0.4-0.4 0-0.4zM75.4 52.8l0.4-0.2 0.6 0.2-0.2 0.5-0.4 0z"/><path fill="#354e93" d="M73.8 9.8l2.4-0.3 2 0.6 2 1.7 1 2 0.2 2.4-0.8 2-1.4 1.6-2.4 1.3-2 0.1-2.6-1.2-1.6-1.8-0.8-2-0.2-1.4 1-2.6 1.4-1.4zM65.4 13.2l1.4-0.4 1.1 1 0.5 1.4-0.6 1-0.6 0.4-1.4 0-1-0.8 0-1.5zM74.7 22.8l0.5-0.4 1 0 1 0.4 1 0.9 0.3 0.5 0 1-0.7 1-2 0.7-1.6-0.8-0.4-0.9 0-0.9 0.4-1.1zM75 30.8l0.8-0.3 1.1 0.3 0.7 0.4 0.3 0.6-0.2 0.4-0.5 0.6-1 0.3-1.4-0.3-0.5-1zM74.8 37.2l1-0.4 0.4 0 0.9 0.4 0.2 0.6-0.4 0.4-1.1 0.3-0.8-0.3-0.3-0.4zM75.1 42.8l0.7-0.4 0.9 0.4-0.1 0.4-0.8 0.3-0.6-0.3z"/><path fill="#375296" d="M74.8 9.8l2.4 0.1 2 1.1 1.4 1.8 0.6 2-0.2 2-1 2-1.8 1.4-2 0.7-1 0.1-1.4-0.4-1.6-0.9-1.6-1.9-0.7-2 0.3-2 1.1-2.1 1.5-1.2zM65.5 13.8l0.7-0.5 0.6 0 0.6 0.5 0.6 1.4-0.8 1-1 0.2-1-0.6-0.2-1zM75.6 22.8l1.6 0.4 0.9 1-0.3 1.6-0.6 0.4-1 0.4-1.4-0.3-0.7-1.1 0.1-1.4 0.6-0.7zM74.9 31.2l0.9-0.4 0.4 0.1 0.9 0.3 0.3 0.6-0.2 0.4-0.4 0.4-1 0.2-1-0.6-0.1-0.4zM75.6 37.2l0.6 0 0.4 0.6-0.8 0.3-0.6-0.3z"/><path fill="#39589a" d="M73.6 10.2l2.2-0.3 2 0.4 1.4 1 1.4 1.9 0.4 2.6-0.6 2-1.2 1.5-2 1.2-2 0.2-2-0.5-1.7-1.4-0.9-1.6-0.4-2 0.4-2 1.2-1.7zM65.6 14.2l0.6-0.4 0.6 0 0.4 0.4 0.4 1-0.3 0.6-0.5 0.2-1.1-0.2-0.4-0.6zM75.1 23.2l1.1-0.1 1.3 0.7 0.3 1-0.4 1-0.6 0.4-1 0.2-1-0.5-0.4-0.7 0-1zM75.5 31.2l0.8 0 0.5 0.6-0.3 0.4-0.7 0.3-0.5-0.3-0.2-0.4z"/><path fill="#3b61a0" d="M74.2 10.2l2-0.1 2 0.7 1.6 1.3 0.8 1.7 0.2 2-0.6 2-1.4 1.7-2 0.9-2 0.1-2-0.9-1.6-1.5-0.8-1.9 0.1-2 0.5-1.4 1.3-1.6zM66 14.8l0.2-0.3 0.6 0 0.3 0.7-0.9 0.3-0.4-0.3zM74.9 23.8l0.9-0.5 1.2 0.5 0.4 0.4-0.2 1.1-1 0.8-1-0.2-0.6-1.1z"/><path fill="#3c6aa5" d="M75.2 10.2l2 0.3 1.6 0.8 1.2 1.5 0.6 1.9-0.1 2.1-1.2 2-1.5 1.1-2 0.5-2-0.4-1.6-1-1.2-1.8-0.5-1.4 0.3-2 1-1.8 1.4-1.2zM75.5 23.8l0.7-0.1 0.7 0.5-0.1 1-0.5 0.5-0.7 0.1-0.5-0.6-0.1-1z"/><path fill="#3c77b0" d="M73.7 10.8l1.5-0.4 2 0.3 1.8 1.1 1.1 1.5 0.4 1.9-0.4 2-1 1.6-1.9 1.1-2 0.3-1.4-0.4-2-1.6-0.9-1.4-0.2-1.6 0.4-2 1.1-1.4zM75.5 24.2l0.3-0.1 0.5 0.1 0.1 0.6-0.3 0.4-0.5 0-0.2-0.4z"/><path fill="#3d86bb" d="M74.2 10.8l1.6-0.3 2 0.5 1.4 1.2 0.9 1.6 0.2 2-0.6 2-1.4 1.4-1.5 0.7-2 0.1-1.6-0.7-1.4-1.4-0.8-1.7-0.1-2 0.7-1.4 1.2-1.3z"/><path fill="#47a3c7" d="M74.8 10.8l2 0 1.4 0.7 1.3 1.3 0.7 2-0.2 2-0.8 1.3-1.4 1.3-1.6 0.5-1.4-0.1-1.6-0.6-1.4-1.5-0.8-1.9 0.1-1.6 0.7-1.5 1.4-1.4z"/><path fill="#64afb7" d="M74 11.2l1.8-0.3 1.4 0.4 1.5 0.9 1 1.6 0.2 2-0.4 1.4-0.7 1.1-1.6 1-1.4 0.4-1.6-0.3-1.4-1.1-1.2-1.5-0.3-1.6 0.2-1.4 1-1.6z"/><path fill="#70ad92" d="M75.1 11.2l1.7 0.2 1.4 0.8 0.9 1 0.6 1.6-0.1 1.4-0.7 1.6-1.1 1-1.6 0.5-1.4-0.1-1.6-0.8-1-1.2-0.6-1.4 0-1.6 0.8-1.4 1.4-1.2z"/><path fill="#7caa70" d="M74.1 11.8l1.7-0.3 1.3 0.3 1.1 0.7 0.9 1.3 0.4 1.4-0.3 1.6-1 1.3-1 0.7-1.4 0.3-1.6-0.3-1.4-1.3-0.8-1.3-0.2-1 0.3-1.4 0.7-1.1z"/><path fill="#8db157" d="M75 11.8l1.2-0.1 1.6 0.7 0.8 0.8 0.6 1.6-0.1 1.4-0.5 1-0.9 1-1.5 0.7-1 0-1.3-0.7-1.1-1.1-0.7-1.3-0.1-1 0.6-1.6 1.2-1z"/><path fill="#a8bb47" d="M74.1 12.2l1.1-0.3 1.6 0.2 1 0.7 0.8 0.9 0.3 1.1-0.1 1.4-0.6 1.2-1 0.9-1.4 0.4-1-0.2-1.1-0.7-1.2-1.6-0.3-1 0.2-1 0.5-1z"/><path fill="#c5c542" d="M74.8 12.2l1.4 0 1 0.4 1 1 0.5 1.2 0 1-0.5 1.2-1 1-1 0.4-1 0-1-0.5-1.1-1.1-0.6-1 0-1 0.3-1 0.9-1z"/><path fill="#d9c63e" d="M74.2 12.8l1-0.4 1 0 1 0.5 0.9 0.9 0.4 1 0 1-0.3 1-1 1-1 0.4-1-0.1-1-0.5-1.2-1.4-0.3-1 0.2-1 0.6-1z"/><path fill="#e1a336" d="M74.7 12.8l1.1-0.2 1 0.2 0.6 0.4 0.7 1 0.2 1-0.2 1-0.6 1-0.7 0.6-1 0.2-0.9-0.2-1.2-1-0.7-1-0.1-1 0.3-0.8 0.6-0.8z"/><path fill="#de762b" d="M74.2 13.2l1.6-0.4 1 0.3 0.7 0.7 0.5 1 0 1-0.9 1.4-0.9 0.5-1 0-1.6-1.5-0.5-1 0.1-0.4 0.5-1z"/><path fill="#d14e28" d="M74.7 13.2l1.5-0.1 1 0.7 0.4 0.4 0.2 1.6-0.5 1-0.6 0.4-0.9 0.3-0.6-0.1-1.7-1.6-0.1-0.6 0.2-1z"/><path fill="#c73029" d="M74.3 13.8l1.5-0.5 1 0.4 0.4 0.5 0.3 0.6 0.1 1-0.8 1.1-1 0.4-0.6-0.2-1.4-1.3-0.1-1z"/><path fill="#c52a2c" d="M74.8 13.8l1.4-0.1 1 1 0 1.1-1 1.1-1-0.1-1.3-1.6 0.3-1z"/><path fill="#ac262b" d="M74.6 14.2l1.2-0.3 0.8 0.3 0.4 1-0.3 1-1 0.5-0.5-0.2-1-1.3z"/><path fill="#8d2227" d="M75.2 14.2l1 0.2 0.5 0.8-0.5 1-0.4 0.2-1.3-1.2 0.2-0.4z"/><path fill="#7d1f24" d="M75.4 14.8l0.4 0 0.4 0.4-0.4 0.7-0.8-0.7z"/></g>
<g id="h03"><path fill="#2c336b" d="M15.1-1.8l78.2 0-0.1 78.3-1.7 1.3-0.2 0.4 0.5 2-0.1 1-0.5 1-1.9 2-0.2 0.6 1.1 2.4 0 1-0.6 1-1.3 1.6-0.3 1 1.2 2 0.3 1.4-30.1 0 0.1-1 0.5-1 1.8-1.4 0.1-0.6-2-1.4-0.8-1.6 0.2-1.4 1.5-2-1.7-2-0.6-1.6 0-1 1-2 0-0.4-0.3-0.6-1-0.9-0.4-0.2-2.2 1.7 0.2 0.4 1.3 1.6 0.3 1-0.4 1.4-0.8 0.9-2 1-1.4-0.1-1-0.4-1.3-1.4-0.3-1.4 0.2-1 1.5-2-1.6-1.6-1.1-1.3-1.4 1.6-1 0.6-1.6 0.3-1.4-0.6-1.2-1-0.5-1.6 0.4-1.4 1.1-1.6-0.2-0.4-1.6-1.7-0.6 0-2.4 1.5-1.6-0.1-1.6-1.3-0.8-1.4 0.2-1.6 1.1-2-0.9-0.9-1-0.6-1.4 0.9-1.6 0.5-1.4-0.7-0.8-0.6-1.2-2 0.2-1 1.2-2-0.5-1-0.9-0.9-0.6 0-2 1.2-1 0.1-1.4-0.8-1.4-1.7-0.2-0.9 0.2-1 1.3-2 0.1-0.6-0.4-0.4-1.6-1.5-2 1.3-1 0.1-1.6-0.4-1-1.1-0.6-1.4 0-1 0.8-1.6 1.6-1.4-0.4-0.6-1.3-1-1.1-1.3-0.4 0-1.6 1.4-1.4 0.4-1.6-0.6-1-1.3-0.3-1 0.1-1.6 0.4-1 0.8-0.9 1-0.6 1-0.2 1 0.4 1.6 1.3 0.4 0 1.5-2-0.1-0.4-0.4-0.6-1-0.8-0.4 0-2 1-1.6-0.1-1.4-0.8-1.6-1.5-2 1.6-1 0.2-1-0.1-1-0.6-1.4-2.1-0.6-0.1-1.4 2-1 0.5-1.6 0 0-30 1.6 0.1 2.4 1.6 0.6-0.1 2-1.9 1-0.6 1 0.1 2 1.2 0.4 0.1 2.6-2.5 1-0.6 1-0.1 2 0.4 0.5-0.3zM19.8 42.2l-0.7 0.6 1.1 1 0.6 0.1 0.6-0.6-0.1-1.1-0.5-0.3zM48.3 70.7l-0.4 0.5 0.9 1.3 0.4 0.4 0.8-1.1 0.1-0.6-0.2-0.4-0.7-0.5zM-3.8 35.8l1-0.1 1 0.4 0.9 1.1 0 2-0.7 1-0.6 0.4-1.5 0.1zM2.7 35.8l1.1-0.5 1 0.1 1 0.7 0.6 1.1 0.1 1.6-0.3 1-0.4 0.5-1 0.7-1.6 0-1.2-1.2-0.4-2 0.3-1zM9.4 44.2l0.8-0.4 1.1 0 0.9 0.3 0.7 0.7 0.5 1 0.1 1-0.4 1-0.9 0.9-0.9 0.4-1.1 0-1-0.6-0.4-0.6-0.4-1.1 0.1-1zM-3.8 44.8l1.6 0.1 0.8 0.9 0 1.4-0.8 0.9-1.6 0.2zM2.8 44.8l1.4-0.5 1 0.4 0.5 0.5 0.3 1.6-0.4 1-0.4 0.4-1.4 0.4-0.9-0.4-0.5-0.5-0.3-1.5 0.3-1zM17.1 51.2l1.1 0 1 0.4 1.2 1.6 0 1-0.6 1-0.6 0.7-1 0.4-1 0.1-1-0.4-0.6-0.8-0.4-1 0-1 0.4-1zM9.5 52.2l1.3-0.4 1 0.2 0.4 0.3 0.7 1.5-0.2 1-0.5 0.5-1.4 0.6-1.5-0.6-0.5-1.5 0.3-1zM-3.8 52.8l1-0.1 0.8 0.5 0.1 1-0.3 0.6-1.6 0.3zM2.9 52.8l1.3-0.5 1 0.7 0.3 1.2-0.7 1-1 0.2-1-0.6-0.3-1zM23.3 58.2l0.9-0.4 1 0.1 1.3 0.9 0.9 1.4 0.1 0.6-0.6 1-1.1 1.1-1.1 0.3-0.9-0.1-1-0.5-0.7-0.8-0.2-1.1 0.1-0.9 0.7-1zM17 58.8l1.2-0.1 1.3 1.1 0.1 1.4-0.6 1-0.8 0.5-1.4-0.1-0.6-0.4-0.6-1 0.2-1.4zM10.2 59.2l1.2 0 1 1-0.2 1.2-1 0.9-1-0.1-0.9-1 0-1zM3.6 59.8l0.6-0.1 0.7 0.5 0 1-0.7 0.6-0.5 0-0.6-0.6 0-1zM-3.8 60.2l1 0.1 0.3 0.5-0.3 0.3-1 0.2zM30.8 64.8l1-0.2 1 0.6 0.9 1 0.4 1-0.9 1.9-1.4 0.9-1 0-1-0.5-0.7-0.7-0.4-1 0.1-1 0.4-1zM23.3 65.8l1.5-0.4 1.3 0.8 0.4 1.6-0.5 1-0.6 0.4-0.6 0.3-1-0.1-1-0.8-0.4-1.4 0.3-0.9zM16.7 66.2l1.1-0.2 0.7 0.2 0.4 0.6 0.2 1-0.6 1-1.3 0.2-0.9-0.8-0.2-1zM10.1 66.8l0.7-0.3 0.6 0.3 0.4 0.4-0.3 1-0.7 0.3-0.7-0.3-0.3-1zM37.2 71.8l0.6-0.3 1 0.1 1 0.5 0.8 1.1 0.2 1-0.3 1-1.3 1.3-1 0.3-1-0.2-1-0.6-0.5-0.8-0.2-1 0.2-1 0.5-0.8zM30.9 72.2l0.9 0.1 0.8 0.5 0.4 0.4 0.3 1-0.7 1.6-1.4 0.5-1.4-0.6-0.6-1.5 0.6-1.4zM24.2 72.8l1 0.2 0.6 0.5 0.2 0.7-0.3 1-0.9 0.6-1-0.1-0.9-0.9 0-1 0.3-0.6zM16.9 73.8l0.9-0.4 0.4 0.3 0.3 0.5-0.1 0.6-0.6 0.4-0.6 0-0.4-0.5zM44.2 78.8l1-0.4 1 0.1 1 0.5 0.7 0.8 0.3 1.4-0.3 1-0.7 0.8-1 0.5-1 0.1-1-0.3-1-0.8-0.5-1.3 0.2-1 0.6-1zM37.1 79.2l0.7-0.2 1 0.1 1 0.7 0.4 1.4-0.4 1-0.6 0.6-1.4 0.3-1-0.3-0.5-0.6-0.3-1.4 0.4-1zM30.3 79.8l1.5-0.2 0.7 0.6 0.3 1-0.6 1.1-1 0.4-1.1-0.5-0.4-0.4-0.1-1zM23.7 80.2l0.5-0.2 0.8 0.2 0.4 0.6-0.2 1-0.4 0.3-1-0.1-0.5-0.8zM51.9 85.8l1.9-0.5 1 0.1 1 0.6 0.6 0.8 0.3 1-0.5 1.4-1 0.8-1 0.3-1.4 0-1.2-0.5-0.7-1-0.2-1 0.2-1zM44.1 86.2l0.7-0.3 1-0.1 1 0.4 0.4 0.5 0.5 1.1-0.3 1-0.3 0.4-0.9 0.6-1 0.1-1.4-0.7-0.6-1.4 0.4-1zM36.9 86.8l1.3-0.5 0.9 0.5 0.5 1-0.4 1.1-0.4 0.4-1 0.1-1-0.6-0.4-1zM30.4 87.2l0.8-0.3 0.7 0.3 0.2 1-0.3 0.6-0.6 0.1-0.6-0.1-0.4-0.6zM52.7 92.8l1.1-0.2 1.4 0.4 0.7 0.8 0.4 1.4-5.3 0 0.4-1.4zM44.7 93.2l1.1-0.1 1 0.6 0.5 1.5-3.8 0 0.3-1.1zM37.7 93.8l1.1 0.2 0.5 1.2-2.6 0 0.3-1zM30.7 94.8l0.5-0.3 0.6 0.7-1.2 0z"/><path fill="#2b3570" d="M36-1.8l57.3 0-0.1 57.3-2.1 1.3-0.8 1 0.6 2 0 1-0.5 1-2.3 2.4 0 0.6 1.1 2 0 1-0.5 1-1.8 2-0.1 0.4 1.3 2 0.3 1-0.3 1-2.1 2.6 0 0.4 1.6 2 0.1 1-0.4 1-1.8 2-0.2 0.6 1.8 2.4 0 1-0.5 1-1.8 2 0.4 1 1.2 1.6 0.4 1.4-18.7 0 0.4-4-0.3-1.2-0.4-0.8-4 0.7-1.6-0.3-1.2-0.8-0.2-0.6 0.1-1 0.9-0.8 1-0.4 1.4-0.1 3 0.5 0.6-0.3 0.2-1.3-0.2-1-0.6-0.5-3 0.2-1.4-0.2-1.6-0.6-0.7-0.9-0.1-1 0.8-1.3 1.6-0.6 4-0.4 0.2-0.7-0.8-0.6-3-0.2-1.4-0.4-1.3-0.8-0.5-1 0-1 0.8-1.2 1-0.6 2.1-0.8-0.3-0.4-2.8-1.2-1.2-1.4-0.1-1 0.3-1 1.9-2-1.9-1.4-0.8-1.5 0-1.5 1.1-2 0-0.6-1.8-2.1-0.5-0.2-2 1.8-1.9 0.5 0.1 0.6 1.2 0.3 1.3 1.1 0.4 1.6-0.7 1.4-1 0.8-1.4 0.3-1.6-0.3-1-0.7-0.5-1.1 0.1-1.4 1-1.3 1.8-0.7 0-0.6-0.8-0.1-1.5-0.9-1.2-1.4-0.2-1 0.1-1 1.3-2 0-0.6-2.1-1.9-2 1.2-1.4 0.5-1.6-0.4-1.2-0.8-0.9-1.6-0.1-1.4 0.6-1.6 1-1.4-1.8-2.1-0.6-0.2-1.4 1.1-1.6 0.4-1.4-0.5-1-0.7-0.9-1.6-0.2-1.4 0.8-2 1.3-1.6 0-0.4-2-1.9-0.6-0.1-2 1.1-1.4 0.1-1.6-0.8-1.4-1.9-0.6 0.2-1 1.3-1 0.5-1 0.2-1-0.3-0.9-1-0.8-1.4-0.3-2 0.4-3-0.1-0.6-0.7-0.4-0.6 0-0.6 0.4 0.9 3-0.4 2.6-0.9 1.4-1.4 0.8-1-0.2-0.8-0.6-0.9-2 0-2.4 1.2-3-0.6-0.6-1.9-0.5-2.6 0.4-1-0.1-3-0.9-3.4 0.5-3.6-1-1.9 0.6-2.1 0.1 0-17.2 1 0 1 0.5 2 2 0.6 0 2-2.3 1-0.5 1 0.1 2 1.9 0.4 0.3 0.6-0.3 2-2.3 1-0.4 1 0.3 2 1.9 0.4 0 2-2.2 1-0.6 1.6 0.3 2 1.6 0.4-0.2 2-2.3 1-0.5 1 0.1 2 1.4 0.6 0 3-3.1 1-0.2 2.4 0.6 1-1.2zM10.1 24.8l0.7-0.3 1 0.3 0.8 1 0.5 1.4 0 1.6-0.4 1.4-0.5 0.7-1 0.6-1.5-0.3-0.8-1-0.3-1-0.1-1.4 0.3-1.3 0.4-1.1zM3.7 25.2l1.1 0.2 0.4 0.4 0.7 2-0.1 1.4-0.4 1-1.2 0.9-1-0.1-0.4-0.4-0.8-1.8 0.1-1.6 0.4-1zM-3.8 25.8l0.6-0.2 1 0.2 0.5 0.4 0.5 1.2 0 1.4-0.3 1-0.3 0.4-1 0.7-1 0zM30.4 35.2l1.4-0.1 1 0.4 0.7 0.7 0.6 1.6-0.1 1-0.4 1-0.8 0.9-1 0.5-1 0-0.9-0.4-1.1-1.6-0.1-1 0.2-1.4 0.7-1zM24.2 35.8l1 0.1 0.6 0.3 0.7 1.6-0.1 1-0.3 1-1.3 0.8-1.6-0.3-0.8-1.5 0-1 0.4-1.1 0.4-0.5zM16.7 36.8l1.1-0.4 0.4 0.2 0.7 0.6 0.1 1.6-0.8 1.1-1 0.1-0.8-0.8-0.2-1.4zM10.3 37.2l0.9 0 0.4 0.6 0 1-0.4 0.5-0.9-0.1-0.4-0.4 0-1zM37.2 43.8l1-0.3 1 0.2 1 0.8 0.7 1.3 0 1-0.4 1-0.7 0.8-1 0.5-1 0-1-0.4-0.6-0.5-0.6-1-0.1-1 0.2-1 0.5-0.8zM30 44.8l0.8-0.4 1-0.1 1.1 0.9 0.3 1.6-0.4 1-0.6 0.5-1.4 0.2-1.1-0.7-0.4-1.6 0.3-1zM23.5 45.2l1.3-0.2 0.9 0.7 0.1 1.1-0.6 1-1 0.2-1-0.6-0.2-1.2zM17 46.2l0.8-0.4 0.4 0.4 0 0.6-0.4 0.3-0.6-0.1zM44.5 51.2l0.7-0.2 1 0 1.3 0.8 0.7 1 0.2 1-0.2 1-0.8 1-0.6 0.3-1 0.3-1.6-0.3-0.5-0.3-0.8-1-0.2-1 0.2-1 0.8-1zM36.9 52.2l1.3-0.4 1 0.4 0.6 0.5 0.2 1.5-0.8 1.2-1.5 0.3-0.9-0.4-0.4-0.5-0.2-1.6zM30.5 52.8l0.7-0.3 0.6 0.1 0.6 0.6 0 1-0.6 0.8-1 0.1-0.6-0.3-0.3-1zM24 53.8l0.2-0.4 0.6 0.2 0 0.5-0.6 0.2zM44.8 58.8l1.4 0 1.3 1 0.1 1.4-0.4 0.7-1 0.7-1 0.1-1-0.3-0.8-1.2 0.1-1.4zM37.1 59.8l1.1-0.4 0.8 0.4 0.4 1-0.5 1-0.7 0.2-1-0.2-0.5-1zM52.2 65.8l1.5-0.5 1.5 0.5 0.6 0.4 0.4 1-0.5 1.6-0.9 0.6-1 0.2-1-0.2-1-0.5-0.5-0.7-0.1-1 0.4-1zM44.7 66.2l1.1-0.1 1 0.7 0.2 1-0.8 0.9-1 0.2-1.1-0.7-0.2-1zM37.7 67.2l0.5 0 0.1 0.6-0.5 0zM53 72.8l1.3 0 0.9 0.4 0.3 0.6 0.1 1-0.8 0.9-1.6 0.2-1.2-0.7-0.3-0.4 0.1-1 0.4-0.7zM44.8 73.7l0.4-0.2 0.8 0.3 0.3 0.4-0.1 0.6-1 0.3-0.4-0.3-0.2-0.6zM52.6 80.2l1.2-0.3 0.9 0.3 0.3 0.6-0.1 1-1.1 0.5-1-0.2-0.6-0.9zM53.1 87.8l0.7-0.3 0.3 0.3-0.3 0.5-0.6-0.1zM62.7 93.2l1.5-0.1 1.6 0.3 1.1 0.8 0.3 1.1-6.2-0.1 0.3-1 0.5-0.5z"/><path fill="#2b3775" d="M54.6-1.8l38.7 0-0.1 36.3-0.3 0.7-0.3 2.6-0.5 1-1.2 1.4-2.1 2-0.4 0.6 0.1 0.4 1.1 2 0.1 1.6-0.5 1-2.3 2.4-0.1 0.6 1.4 2 0.3 1-0.7 1.4-1.9 2-0.1 0.6 1.6 2 0.2 1-0.4 1-2 2-0.3 0.4 0.2 0.6 1.6 2 0.1 1-0.5 1-2 2 0 0.4 1.7 2 0.4 1-0.1 0.6-0.6 1-2 2 0.2 0.4 1.8 2 0.3 1-0.4 1-2.2 2-0.1 0.6 0.2 0.4 1.9 2 0.1 1-0.6 1-1.7 1.6-0.4 0.4 0.1 0.6 1.9 2 0.5 1.4-15.4 0 0.6-4-0.8-3 0.5-3.4-0.8-3.6 0.4-3.4-0.7-3.6 0.2-3.4-0.9-3.6 0.1-3.4-0.7-1.3-3 0.6-2.6-0.3-1.4-0.9-0.5-1.1 0.2-1 1.3-1 2-0.5 3.4 0 0.2-1.1-0.6-0.5-3 0-1.6-0.3-1.4-0.6-0.8-1-0.1-1.6 0.5-1 0.8-0.6 2.2-0.8 0.4-0.6-3-1.1-0.9-0.9-0.5-1-0.1-1.4 0.4-1 2.1-2-2.4-2-0.7-1.6-0.2-2 0.5-1.4 0.9-1.6 0-0.4-1.7-1.7-0.4-0.2-3 1.6-1.6 0-2-0.9-2-2.3-1.4 1.6-1 0.6-1.6 0.2-1-0.2-1.4-1.3-0.7-1.4-0.3-2 0.4-3-0.1-0.6-0.9-0.4-0.4 0-0.4 0.4 0.8 3.6-0.6 2.4-0.6 1-0.8 0.7-1 0.2-1-0.1-1.3-1.2-0.6-2 0.2-2.6 1.2-2.4-0.4-0.6-1.5-0.6-3.6 0.3-1.4-0.4-2.1-0.8-3.5 0.6-1.4-0.3-2-1-2 0.8-1.6 0.1-1.4-0.4-1.6-1-0.4 0.1-2 1-1.6 0.1-1-0.4-2-1.2-1.9 1.1-1.5 0.2-1-0.2-2-1.5-0.6 0-2 1.3-2 0.3 0-14.6 1 0 1 0.6 2 2.6 0.5-0.1 1.8-2.6 1.3-0.8 0.4 0 1 0.7 1.6 2 0.4 0.3 0.6-0.3 1.5-2.3 0.9-0.8 0.6-0.1 1 0.4 2 2.4 0.4 0.1 2-2.6 1-0.7 0.6 0 1 0.5 2 2.2 0.4-0.2 2-2.7 1-0.4 1 0.2 2 2.1 0.6 0.1 2-2.3 1-0.7 0.4-0.1 1 0.3 2 1.9 0.6-0.1 2-2.5 1-0.6 1 0.1 2.4 1.9 0.6-0.1 2-2.4 1.4-1 1.6 0.2 2 1.4 0.4 0 3-3.6 1-0.8zM30.7 24.8l1.1-0.1 1 0.7 0.6 1.4 0.2 1-0.1 1.4-0.7 1.6-0.6 0.5-1 0.4-1-0.3-0.4-0.4-0.7-1.2-0.2-1 0-1.6 0.3-1 0.6-0.8zM23.3 25.8l0.9-0.5 1 0.2 0.7 0.7 0.4 1 0.1 1.6-0.3 1-0.6 1-0.7 0.4-1-0.1-0.6-0.3-0.7-1.6 0-2zM16.7 26.2l0.5-0.2 1 0.1 0.8 1.1 0.1 1.6-0.2 1-0.7 0.7-0.4 0.2-1-0.3-0.7-1.2-0.1-1.4zM10.1 26.8l0.7-0.4 0.4 0.2 0.8 1.2-0.2 1.8-0.6 0.5-0.4 0.2-0.9-0.5-0.4-1 0.1-1zM3.7 27.2l0.5 0.1 0.5 0.9-0.5 1.2-0.4 0.1-0.6-0.7 0.1-1zM-3.8 28.2l0-0.2 0.6-0.1 0.3 0.3-0.2 0.6-0.7 0zM52.7 34.8l1.1-0.3 1.4 0.3 1 0.6 0.9 1.4 0.2 1.4-0.4 1.6-0.8 1-1.3 0.7-1.6 0-1-0.2-1-0.7-0.7-1.4-0.2-1.4 0.5-1.5 1-1.1zM44.2 35.8l1-0.4 1 0.1 1 0.6 0.5 0.7 0.3 1-0.1 1-0.3 1-0.8 0.8-1 0.3-1-0.1-1.4-1-0.4-1 0.1-1.6 0.5-1zM37.5 36.2l1.3 0.1 0.5 0.5 0.5 1-0.2 1.4-0.4 0.6-1 0.5-1-0.3-0.8-1.2 0.1-1.6zM30.5 37.2l0.7-0.3 0.7 0.3 0.3 1.1-0.4 1-1 0.1-0.6-0.6 0-1zM52.2 44.2l1-0.3 1 0 1.7 0.9 0.5 1 0.1 1-0.8 1.4-0.9 0.6-1 0.1-1-0.1-1.1-0.6-0.6-1-0.1-1 0.2-1zM45 44.8l1.2 0 0.6 0.4 0.4 1-0.5 1.5-0.9 0.5-1.6-0.4-0.5-1 0.1-1 0.3-0.6zM37.6 45.8l0.6-0.2 0.7 0.6-0.1 0.7-0.6 0.4-0.4 0-0.6-0.5 0-0.6zM52.6 52.2l1.6-0.1 1.2 0.7 0.4 1-0.6 1.3-1 0.5-1 0-0.9-0.4-0.5-0.4-0.2-0.6 0-1zM44.7 53.2l0.5-0.2 1 0.2 0.1 1-0.5 0.5-1-0.2-0.3-0.7zM52.7 59.8l1.1-0.3 0.9 0.3 0.4 0.4-0.1 1-0.8 0.7-1.5-0.1-0.6-1zM62.5 65.8l1.7-0.2 1.6 0.3 1.2 0.9 0.2 1-0.8 1-1.2 0.5-1.4 0.2-1.5-0.3-1.3-1-0.2-1 0.7-1zM63.5 72.8l1.3 0 1 0.5 0.6 0.9-0.5 1-0.9 0.6-1.2 0.1-1.2-0.1-0.9-0.6-0.4-0.4 0.1-1 0.8-0.8zM62.3 80.2l0.9-0.3 1.6 0.2 0.8 0.7 0.1 0.4-0.2 0.6-0.9 0.4-1.8 0-0.8-0.4-0.3-0.6 0.1-0.5zM63.4 87.2l0.8 0.1 0.6 0.4-0.1 0.5-0.9 0.4-1-0.3-0.2-0.5z"/><path fill="#2b397a" d="M72.8-1.2l3-0.5 3.4 0.2 3.6 1 3 1.5 2.7 2.2 2.1 2.6 1.9 3.4 0.7 3 0 5.8-0.7 2.8-1.1 2.4 0 5-0.5 1.6-0.8 1-3.4 3 0 1 1.4 2 0.3 1.4-0.6 1.6-2.6 2.4-0.2 0.6 0.2 0.4 1.7 2 0.4 1.6-0.5 1-2.5 2.4 0 0.6 1.8 2 0.4 1-0.3 1-2.1 2-0.4 0.5 0 0.5 2 2 0.3 1-0.4 1-2.3 2-0.3 0.4 0.2 0.6 2 2 0.2 1-0.5 1-2.4 2 0 0.4 2.1 2 0.5 1-0.1 0.6-0.7 1-2.3 2 0.2 0.4 2.3 2 0.3 1-0.5 1-2.6 2-0.1 0.6 2.2 2 0.5 1 0 0.4-0.6 1-2.6 2 0.1 0.6 2.4 2 0.6 1.4-13.4 0 0.2-1.4 1.1-2 0-0.6-1.2-2-0.3-1 0.2-1.4 1-2-1.2-2.6-0.2-1 0.1-1 0.9-2.4-1.2-3 0.1-1.6 0.7-2-1.1-3.4 0.6-3.6-1-3.4 0.5-3-0.9-3.6 0.1-4.4-1-2.5-0.4-0.1-1.2 1-0.8 0.4-2.6 0.3-1.9-0.7-0.6-0.5-0.4-0.9 0.5-1.6 1-0.8 1-0.3 2.4 0 2.6 1.1 0.4-0.6 0.2-1.8-0.6-1.6-0.6-0.1-3 0.4-1.4-0.1-1.6-0.6-1-1-0.4-2 0.3-1 0.7-0.9 1.4-0.9 3.8-0.8-0.3-0.4-4.5-1.1-1.7-1.5-0.8-2.4 0.1-4-0.5-1-1.1-0.4-1.4 0.4 1.2 2.4 0 3-0.5 1.6-0.7 0.8-1 0.5-1 0.2-1-0.1-1-0.5-0.9-0.9-0.5-1.6-0.1-1.5 0.3-1.5 0.6-1.2 1.4-1.2-0.2-0.6-3.2-1.3-2.4 0.6-1.6 0.1-1.4-0.4-2-1-0.6-0.1-2 0.8-1.4 0.2-1.6-0.5-1.4-1-0.6-0.1-2 1-1.4 0.2-1.2-0.5-1.8-1.3-0.6 0.1-1.4 1.1-1.6 0.3-1.4-0.5-1.6-1.4-0.4-0.2-2 1.5-1.6 0.3-1.4-0.7-1.6-1.6-0.4 0.1-1.6 1.5-1.4 0.5-1.6-0.5-2-2.2-2 2.1-1.4 0.3-1.6-0.7-1.4-2.1-0.6-0.1-1 1.5-1 0.9-2 0.4 0-12.6 1 0 1 0.7 2 3.6 0.6-0.1 2-3.8 1-0.6 1 0.2 0.4 0.5 2 3.2 0.6-0.5 1.4-2.9 0.6-0.6 1-0.4 1 0.4 2 3.2 0.4 0.1 1.9-3.1 1.1-0.9 1 0.2 0.6 0.4 2 2.8 0.4-0.3 2-3.1 1-0.6 1.1 0.5 1.9 2.6 0.6 0.2 2-2.9 1-0.7 1 0 0.4 0.3 2 2.5 0.6-0.1 2-2.9 1-0.6 1 0.2 0.4 0.3 2 2.3 0.6 0 2-2.8 1.4-0.9 1.5 0.5 2.1 2.2 0.4 0.2 0.6-0.4 2-2.8 1.4-1 1 0 1 0.4 2.6 2.2 1-0.8 2-2.7 1.4-1.2 2-0.6 3 0.2 1.6-0.2zM44.1 25.2l1.1-0.4 1 0.1 1 0.7 0.6 1.2 0.2 1.4-0.2 1.6-0.6 1-1 0.8-1 0.1-1-0.3-0.6-0.6-0.5-1-0.1-2.6 0.3-1zM37.2 25.8l1-0.3 0.7 0.3 0.8 0.9 0.3 1.1-0.1 1.4-0.4 1-1.3 0.9-1.2-0.3-0.8-1.6 0-2 0.5-1zM30.8 26.2l1 0.1 0.4 0.5 0.4 1.4-0.4 1.7-1 0.7-1-0.5-0.5-1.3 0.2-1.6zM23.6 27.2l0.6-0.4 0.6 0.1 0.4 0.6 0.2 1.3-0.6 1.1-0.6 0.1-0.4-0.2-0.3-0.6-0.2-0.9zM52.5 36.2l0.7-0.2 1 0 1 0.6 0.5 0.6 0.1 1.6-0.5 1-0.5 0.4-1 0.3-1-0.2-1.1-1.1-0.2-1.4 0.4-1zM44.6 37.2l0.6-0.3 1.1 0.3 0.4 1-0.5 1.1-1 0.3-0.6-0.4-0.4-1zM53.1 45.2l1.1 0.1 0.7 0.5 0.2 1-0.9 0.9-1 0.1-1-1 0.2-1zM62.2 52.2l1.6-0.2 1.6 0.2 1.1 1 0.1 1-0.8 1-1 0.4-1.6 0.1-1-0.2-1-0.7-0.3-1 0.5-1zM62 59.8l1.2-0.5 1.6 0.2 1 0.7 0 1-0.6 0.6-1 0.3-2-0.2-0.7-0.7-0.1-0.4zM63 66.8l1.3 0 0.6 0.4 0.1 0.6-0.8 0.5-1.5-0.1-0.5-0.4 0.1-0.6z"/><path fill="#2c3b7d" d="M72.9 1.2l2.9-0.4 3.4 0.2 3 1 2.6 1.3 2.2 1.9 2 2.6 1.3 3 0.6 3 0.1 2.4-0.4 2.6-0.6 2-1.2 2.4 0 1.6 0.6 3-0.3 1.4-1 1.6-3.3 2.4-0.5 0.6-0.1 0.4 2.1 2.6 0.4 1-0.1 1-1 1.4-2.4 2-0.2 0.6 0.2 0.4 2.2 2 0.4 1-0.4 1.6-2.9 2.4 0 0.6 2.3 2 0.4 1-0.2 1-3 2.4 0.1 0.5 2.3 2.1 0.4 1-0.6 1.1-2.5 1.8-0.3 0.5 0.2 0.6 2.2 1.6 0.5 0.8 0 0.6-0.6 1-2.8 2-0.1 0.4 2.7 2 0.5 1-0.1 0.6-0.7 1-2.9 2 0.3 0.4 2.6 1.9 0.6 1.1-0.6 1-3.1 2-0.3 0.6 2.9 2 0.4 0.4 0.2 1-1.1 1.3-2.9 1.7 0.1 0.6 3.1 2 0.7 1.4-11.7 0 0.3-1.4 2-2.1 0-0.5-1.7-1.4-0.7-1.6 0.3-1.4 1.7-2-0.2-0.6-1.5-1.4-0.6-1.6 0.4-1.4 1.3-1.6 0.1-0.4-1.6-2-0.3-1 0.1-1.6 1.4-2-0.1-0.4-1.4-2-0.3-1 0.3-1.6 1-2-1.2-2-0.4-1.4 0.1-1 0.9-2 0.1-0.6-1.1-2-0.3-1 0.1-1.4 0.8-2.6-0.9-2-0.3-1.4 0-1.6 0.6-2.4-1-3-0.2-1.6 0.2-4-0.6-1.7-0.8-0.7-2.8 0.6-2 0.1-2-0.6-1-0.9-0.7-1.8 0-2 0.4-1.4 1.5-2-0.2-0.6-3-2-1 0-2.4 0.9-1.6 0.1-2-0.7-2-1.5-2.4 1.5-1.6 0.2-1.4-0.5-2-1.7-0.6-0.1-2 1.6-1.4 0.3-1.4-0.5-1.6-1.8-0.6-0.1-2 1.8-1.4 0.2-1.4-0.7-1.6-2-0.6 0.2-1.5 1.8-1.5 0.5-1.4-0.6-1.6-2.3-0.4-0.4-1.7 2.4-0.9 0.5-1 0.1-1-0.4-0.6-0.8-1.4-2.6-0.4 0.2-1.6 2.8-1 0.6-1 0-1-0.6-0.6-0.8-1.2-3.6 0.5-2.4 0.9-2.6 1-1.5 1-0.5 0.9 0.5 0.5 0.7 1.6 3.7 0.4 0.3 1.6-3.8 0.5-0.8 0.9-0.8 1 0.2 0.6 0.5 2 3.8 0.4-0.4 1.6-3.4 0.4-0.7 1-0.5 0.6 0 0.8 0.7 1.6 3.1 0.6 0.3 2-3.6 0.4-0.5 1-0.4 1.1 0.7 1.9 3 0.6-0.2 2-3.4 1-0.7 0.4 0 1 0.6 2 3 0.6 0 2-3.4 1.4-0.9 1 0.2 0.6 0.3 2 2.9 0.4 0.2 0.6-0.4 2-3.3 1.4-1 1 0 1 0.6 2.6 2.8 0.4-0.1 2.6-3.8 1.4-1.2 2-0.5 3 0.6 1.6-0.2zM3.6 8.8l1.2 0.2 0.6 0.8 1 2.4 0.7 2.5-0.1 1.1-0.9 2.4-0.9 1.2-1 0.5-1-0.1-1.1-1-0.7-1.6-0.4-2 0.4-2.4 0.6-2 0.8-1.4zM-3.8 9.2l0-0.3 1 0 1.1 0.9 1.1 2.4 0.5 2.6-0.4 2.4-0.7 1.6-1 0.8-1 0.2-0.6 0zM52.9 25.2l1.3 0 1 0.5 1 1.5 0.1 1.6-0.3 1-0.8 1.1-1 0.6-1 0-1-0.4-0.7-0.9-0.4-1 0-1.4 0.2-1 0.7-1zM44.5 26.2l0.7-0.2 1 0.2 0.6 0.6 0.4 1-0.2 2-0.8 0.8-0.4 0.2-1-0.1-0.6-0.4-0.5-1.1 0.1-1.8zM37.2 27.2l0.6-0.4 0.4 0 0.6 0.3 0.3 0.7-0.1 1.4-0.8 0.8-0.4 0-0.8-0.8-0.1-1zM63.4 35.8l1.8 0.2 1 0.6 0.5 0.6 0.2 1-0.3 1-1.4 1.2-1 0.2-1.4 0-1-0.4-1-1-0.2-1.4 0.5-1 1.1-0.8zM53.4 37.2l0.8 0.2 0.4 0.8-0.4 0.8-0.4 0.3-1-0.5-0.2-0.6 0.2-0.5zM62 45.2l1.8-0.4 1.4 0.4 0.7 1-0.2 1.1-0.5 0.5-1 0.3-2-0.2-0.7-0.7-0.2-0.4 0.2-1zM62.5 53.2l0.7-0.2 1 0.1 0.8 0.7-0.1 0.4-0.7 0.6-1.4-0.1-0.6-0.5-0.1-0.4z"/><path fill="#2c3e81" d="M73.8 2.2l3-0.2 3 0.4 3 1.1 2 1.3 2 2 1.6 2.4 1.1 3 0.3 2.6-0.4 4-0.9 2.4-1.1 2 0 1.6 0.7 3-0.2 1.4-1.1 1.7-3.6 2.3-0.6 0.6-0.1 0.4 2.6 2.6 0.4 1-0.1 1-1 1.4-2.9 2-0.2 0.6 2.9 2.4 0.5 1-0.1 1-0.4 0.6-3.4 2.4 0.1 0.6 2.8 2 0.5 1-0.3 1-0.4 0.4-3.1 2 0.1 0.6 2.7 1.8 0.7 1.2-0.5 1-0.5 0.4-2.8 1.6-0.4 0.4 0.4 0.6 2.5 1.4 0.5 0.6 0.2 1-0.6 1-3.6 2-0.1 0.4 3.2 1.8 0.9 1.2-0.3 1-0.6 0.6-3.9 2 0.5 0.4 3.1 1.6 0.6 0.4 0.4 1-0.6 1-0.7 0.6-4.5 2 4.1 1.6 1 0.8 0.2 1-0.6 0.9-1 0.7-2 0.7-2 0.5-1-0.1-2-0.7-1.3-1-0.5-1 0.1-1 0.8-1 1.3-0.8 1.8-0.6-3.2-1.8-0.7-0.8-0.3-1 0.5-1.4 2.6-2-2.3-1.6-1-1.4 0.3-1.6 2.2-2 0-0.4-2-1.6-0.7-1.4 0.4-1.5 1.7-2.1-1.7-1.7-0.7-1.3 0.2-1.4 1.5-2 0.1-0.6-1.4-1.4-0.6-1.6 0.1-1.4 1.4-2 0.1-0.6-1.6-2-0.4-1.4 0.2-1.6 1.3-2.4-1.5-2.6-0.4-1.4 0-1.6 0.8-2.4 0-1-2.1-4.1-0.6-0.5-0.4 0.2-1.7 1.8-1.9 0.7-2-0.2-1.4-0.9-0.6-1-0.2-1 0.3-2 1-1.4 2.6-1.6-0.3-0.6-3.4-1.6-2-2-0.4-0.2-2.5 1.8-2.1 0.3-2-0.8-2-2.4-2 2.1-1 0.5-1 0.1-1-0.2-0.8-0.6-1.6-2.5-0.6 0-1.4 2.2-1 0.6-1 0.1-1.6-0.7-1.4-2.8-0.6-0.2-1.4 2.7-1 0.6-1 0.1-1-0.5-0.8-1-1.2-3.6 0.2-1.4 1.1-3.6 0.7-1.1 1-0.9 1 0.1 0.5 0.5 0.8 1.4 1.1 2.9 0.6-0.3 1.6-4 1.4-1.2 1 0.2 0.4 0.5 2 3.9 0.6 0 2-4.3 1-0.9 1-0.1 1.4 1.2 1.6 3 0.4 0.4 2.3-4.3 0.7-0.8 1-0.5 1 0 1 0.6 2.6 3.6 0.4-0.2 2.4-4.1 1.6-1.5 2-0.5 3 0.7 1.6-0.2 2.4-1.3zM23.6 8.8l0.6-0.4 0.6 0.1 1 1 0.8 1.7 1 3.6-0.1 1-1.2 3-1.1 1.1-1 0.2-1-0.3-0.8-1-0.8-2-0.2-1.6 0.1-1.4 0.6-2.6 0.6-1.4zM10.4 9.2l0.8 0.1 1 1.2 0.8 2.3 0.3 2-0.2 2-0.5 1.4-0.8 1.1-1 0.3-1-0.3-0.9-1.1-0.5-1.4-0.2-1.6 0.2-1.9 0.5-2.1 0.9-1.5zM16.7 9.2l1.1-0.3 1 0.8 0.9 2.1 0.5 2.4 0 2-0.7 2-0.7 1.1-1 0.5-1-0.2-0.9-0.8-0.7-1.6-0.3-1.4 0-2 0.5-2 0.6-1.6zM3.5 9.8l0.7-0.1 1 1 0.8 2.1 0.3 2-0.1 1.4-0.4 1.6-0.7 1-0.9 0.5-1-0.2-0.8-0.9-0.6-1.4-0.2-1.6 0.6-3.4 0.6-1.3zM-3.8 10.2l0-0.4 1 0.1 1.1 0.9 0.7 2 0.3 2-0.1 1.4-0.4 1.6-1 1.1-1 0.3-0.6 0zM52.7 26.2l1.5-0.1 1.2 1.1 0.2 1-0.1 1-0.6 1-0.7 0.5-1.4-0.1-0.6-0.4-0.4-0.9 0-1.7 0.4-0.8zM44.9 27.2l0.9-0.1 0.5 0.7 0.1 1-0.6 1-0.6 0-0.6-0.6-0.2-1zM62.5 36.8l1.7-0.2 1 0.6 0.4 1-0.3 1-1.5 0.7-1-0.1-1-0.6-0.3-0.4 0-1zM62.7 46.2l1.1-0.3 0.5 0.3 0 0.6-1.1 0.3-0.6-0.3zM75 92.2l1.8-0.3 2.4 0.6 2.3 1.3 0.8 1.4-10.2 0 0.7-1.6 1-0.8z"/><path fill="#2d4085" d="M73 3.2l2.7-0.4 3.1 0.1 2.4 0.8 2.6 1.3 2 1.8 1.7 2.4 1.1 2.6 0.4 2.4 0 2-0.5 2.6-0.9 2.4-1.2 2 0 1.6 0.8 2.9-0.2 1.5-0.6 1-1.1 1-4.3 2.6-0.1 0.4 3.2 2.6 0.5 1-0.1 1-1.1 1.4-3.6 2-0.3 0.6 3.3 2 1 1.4-0.1 1.1-0.9 0.9-3.9 2 0.3 0.6 3.5 2 0.4 0.4 0.2 1-0.5 0.8-1 0.8-3.3 1.4 0.1 0.6 2.6 1.1 1.3 0.9 0.4 0.4 0 1-1 1-1.1 0.7-4 1.3-1-0.1-2.6-1.1-0.9-0.8-0.6-1 0-1 0.5-0.9 2.3-1.5 0.1-0.6-2.3-1.4-0.8-1.6 0.3-1.5 1-1.1 1.2-0.8 0.2-0.6-2.4-1.9-0.7-1.5 0.1-1 0.4-1 2-2-0.2-0.6-1.8-1.4-0.8-1.6-0.1-1 0.2-1.4 1.5-2.6-0.1-0.4-2.1-2.6-1.4-4-1-1-0.6 0.1-0.5 2.9-0.5 1-1 0.8-2 0.4-1.4-0.5-0.7-0.7-0.5-1 0-1.4 0.3-1 0.9-1 1-0.5 3.4-0.5-0.2-1-1.2-1-3-1-1.6-0.9-1-1.1-1-1.9-0.4-0.2-1.4 2.1-1.2 0.9-1.4 0.3-1.6-0.3-1-0.7-0.8-1.2-1.1-3.6 0.2-1.4 1.3-4 1-1.9 1-0.9 1.5-0.2 0.9 0.7 1.2 1.7 1.4 3 0.4-0.3 2-4.7 1-1.3 1-0.7 2-0.5 3.6 0.8 1-0.2 2-1.2zM45.2 7.8l1 0.2 1.3 1.8 1 2.4 0.7 3-0.8 2.6-0.8 1.4-0.8 0.9-1.6 0.4-1-0.3-1-1-0.7-1.4-0.5-2.6 0.4-3 0.7-2 1.1-1.9zM37.2 8.8l1-0.3 1 0.7 1.2 2.6 0.6 2.4-0.1 2-0.6 2-1.1 1.4-1 0.5-1-0.2-1-0.8-0.6-1.3-0.5-2 0-1.6 0.5-2.4 0.6-1.7zM30.5 9.2l0.7-0.2 1.1 0.8 0.9 2 0.5 2.4 0 2-0.7 2-0.8 1.1-1 0.5-1-0.3-0.7-0.7-0.5-1-0.4-2 0-2 0.5-2 0.7-1.7zM23.5 9.8l0.7-0.5 1 0.5 1 2 0.5 2.4 0 2-0.6 2-0.9 1-1 0.4-1-0.5-0.4-0.6-0.9-2.7 0.4-3.6 0.5-1.3zM10.2 10.2l0.6-0.2 1 0.7 0.6 1.5 0.4 2-0.1 2-0.4 1.6-0.5 0.8-1 0.4-1-0.4-0.6-0.7-0.6-2.7 0.4-3zM16.7 10.2l0.5-0.4 1 0.3 1 1.6 0.5 2.1 0.1 1.4-0.4 2-0.6 1.4-1 0.6-1-0.2-0.6-0.5-0.6-1.3-0.3-1.4 0.3-3zM-3.8 10.8l1 0 1 1 0.5 1.5 0.2 1.5-0.1 1.4-0.6 1.4-0.4 0.6-1 0.4-0.6-0.1zM3.4 10.8l0.8-0.2 0.6 0.4 0.6 1.2 0.4 2 0 1.6-0.3 1.4-0.6 1-0.7 0.4-1-0.1-0.4-0.6-0.8-2.1 0.3-3.1 0.5-1.1zM52.7 27.2l1.1-0.3 0.4 0.2 0.6 0.6 0.1 1.1-0.7 1-1 0.2-0.7-0.8-0.2-1zM62.9 37.8l1.1 0 0.3 0.4-0.3 0.6-1.1 0-0.3-0.6zM75.2 64.8l1.6-0.5 4 1.4 1.4 1.1 0.3 0.4-0.2 1-2.1 1.4-3 0.8-1.4 0-2-0.6-1.4-1-0.4-1.6 0.5-1 0.5-0.4zM75.5 71.8l1.7-0.2 3 0.9 1.9 1.3 0.1 1-1.4 1.2-3 1-2 0-2-0.6-1.4-1.2-0.1-1.4 0.9-1.2zM75.2 78.8l2-0.2 3 0.8 1 0.6 0.8 0.8-0.1 1-1.7 1.1-2.4 0.7-2 0.1-2-0.7-1-0.8-0.3-0.4-0.1-1 0.8-1.2zM75.2 85.8l2-0.2 2.6 0.6 1.5 1 0.3 1-1 1-2.4 0.9-2 0.2-2-0.5-1.3-1-0.2-1 0.5-1.1zM75.5 92.8l1.7-0.1 2.4 0.5 1.4 1 0.5 1-8.7 0 0.6-1.4 0.8-0.6z"/><path fill="#2e4288" d="M73.5 3.8l2.7-0.4 2.6 0.1 2.4 0.8 2 1.1 2 1.7 1.7 2.1 1 2.6 0.5 2.4 0 2-0.5 2.6-1 2.4-1.2 2-0.1 1.6 0.9 3-0.3 1.4-0.6 1-1.1 1-5.2 2.6-0.1 0.4 2.7 1.6 1.3 1 0.5 1 0 1-0.6 1-1.9 1.2-2.4 0.9-2 0.4-1.6-0.2-1.4-0.5-1.4-0.8-0.8-1-0.4-1.6 0.3-1.4 0.7-1.1 1.8-1.5-0.1-0.4-2.1-1.4-1-1.2-0.7-1.4-0.9-3.3-0.4-0.9-2.6-2.8-1-0.6-3.4-0.9-1.6-1-1.2-2.1-0.6-2.4 0.1-2.6 1-3.4 1-2 1.3-1.5 1-0.6 1-0.2 4 0.8 1-0.3 2.4-1.5zM52.8 7.8l1-0.3 0.4 0.1 1.3 1.2 1.4 3 0.6 3-0.4 2.4-0.6 1.6-1.3 1.3-1.4 0.5-1.5-0.4-1.1-0.9-0.7-1.5-0.4-2 0-2 0.7-3 1-2zM44.7 8.8l1.1-0.2 1 0.8 1 2.4 0.5 2.4-0.1 2.6-0.5 1.4-0.9 1.3-1 0.5-1-0.1-1-0.7-0.9-1.4-0.4-2.1 0-1.9 0.5-2 0.8-2zM37.1 9.8l0.7-0.5 0.4 0 0.7 0.5 0.9 1.4 0.6 2.6 0.1 2-0.5 2-0.8 1.2-1 0.6-1-0.2-0.7-0.6-0.5-1-0.5-2 0.4-3.6zM23.8 10.2l1 0 0.5 0.6 0.7 1.4 0.4 2.6-0.1 1.4-0.5 1.6-0.6 0.8-1 0.4-1-0.6-0.4-0.6-0.5-2.6 0.4-3 0.5-1.3zM30.3 10.2l1-0.4 0.9 0.8 0.7 1.6 0.4 2-0.1 2-0.4 1.6-0.6 0.9-1 0.5-1-0.3-0.4-0.6-0.9-2.5 0.3-3zM17.1 10.8l0.7-0.2 0.6 0.6 0.7 1.6 0.3 1.4 0 1.6-0.4 1.4-0.6 1-0.6 0.4-1-0.3-0.5-0.5-0.6-2.6 0.4-3zM10 11.2l0.8-0.4 0.6 0.4 0.8 1.6 0.3 1.4-0.1 1.6-0.3 1.4-0.8 1-0.5 0.2-0.6-0.1-0.5-0.5-0.7-2 0.2-2.6zM-3.8 11.8l1-0.1 0.6 0.5 0.4 1.1 0.3 1.5-0.4 2-0.3 0.6-1 0.5-0.6-0.1zM3.3 11.8l0.5-0.4 0.7 0.4 0.9 2-0.1 2.4-0.5 1.4-0.6 0.4-1-0.3-0.4-0.8-0.4-1.1 0.2-2.6zM62.1 26.2l1.1-0.4 1 0 1 0.3 0.6 0.4 0.4 1.3 0 1-1 1.5-1 0.5-1 0.1-1-0.3-0.8-0.8-0.4-1 0.1-1 0.5-1zM75.3 43.2l0.9-0.2 1 0.1 4 1.4 1.6 1.3 0.2 1-0.2 0.4-1.6 1.4-3.4 1.1-2.6 0-2-0.8-1.2-1.1-0.3-1 0.1-1 1.2-1.6zM74.9 51.2l2.3-0.2 3 0.8 2 1.4 0.3 1-1.3 1.3-2.4 1-2.6 0.2-2-0.4-1.7-1.1-0.5-1.4 0.2-0.8 0.6-0.8zM75.5 58.2l1.7 0 3 0.7 1.9 1.3 0 1-1.3 1.2-2.6 0.8-2 0.2-2.4-0.7-1.3-0.9-0.2-0.6 0-1 0.9-1.1zM75.9 65.2l2.3 0.2 2 0.6 1.1 0.8 0.4 1-0.8 1-2.1 0.8-2.6 0.3-2-0.4-1-0.6-0.4-0.6-0.2-1.1 0.2-0.4 1-0.9zM75.6 72.2l1.6 0 2.6 0.6 1.4 1 0.2 1-1.1 1-2.1 0.6-2 0.2-2-0.5-1.1-0.9-0.3-0.4 0.1-1 1.1-1zM75.2 79.2l2-0.1 2 0.4 1.5 0.7 0.6 1-0.8 1-1.7 0.8-2 0.3-2-0.3-1.3-0.8-0.6-1 0.4-1zM75.2 86.2l2-0.1 2 0.4 1.3 0.7 0.3 0.6-0.1 0.4-0.9 0.9-1.6 0.6-2 0.1-1.4-0.3-1.2-0.7-0.3-1 0.8-1zM75.6 93.2l1.6-0.1 1.6 0.4 1.3 0.7 0.5 1-7.2 0 0.4-0.9 0.4-0.5z"/><path fill="#30458b" d="M73.5 4.2l2.3-0.3 2.4 0 2.6 0.7 2 1 1.9 1.6 1.6 2 1.1 2.6 0.5 2 0 2.4-0.5 2.6-1.1 2.4-1.3 2-0.1 1.6 0.9 3-0.2 1.4-1.2 1.6-1.6 1-3 1.2-2.6 0.6-1.4 0-1.6-0.4-1.4-0.7-1-0.7-1.1-1.6-0.9-4-1-1.7-2.6-2.4-4-1-1.4-0.8-1.2-1.5-0.7-2.6 0-2.4 0.6-3 1.1-2.6 1.2-1.3 1-0.6 1-0.2 1 0.1 2 0.7 1 0 1-0.2 2.4-1.6zM53.2 8.2l1 0.1 1.4 1.5 1 2.4 0.4 2.6-0.4 2.4-0.6 1.6-1 1-1.2 0.4-1.6-0.4-0.9-1-0.6-1.6-0.3-2 0.1-2 0.7-2.4 1-1.9zM45.2 9.2l1 0.4 0.8 1.2 0.7 2 0.3 2.4-0.2 1.6-0.6 1.4-1 1.1-1 0.3-1-0.5-0.7-0.9-0.5-1.4-0.2-1.6 0.2-2 0.5-2 0.7-1.3zM37.4 10.2l0.8-0.2 0.8 0.8 0.7 1.4 0.4 2 0 1.6-0.3 1.6-0.6 0.9-1 0.7-1-0.2-0.4-0.4-0.6-1.2-0.3-1.4 0.3-3.5 0.6-1.3zM30.6 10.8l0.6-0.2 0.8 0.6 0.7 1.6 0.2 1.4 0 1.6-0.3 1.4-0.6 1-0.8 0.5-1-0.4-0.3-0.5-0.6-2.6 0.4-3zM23.6 11.2l0.6-0.4 0.6 0.2 0.4 0.5 0.8 2.7 0 1.6-0.4 1.4-0.7 1-0.7 0.2-1-0.7-0.6-1.9 0.2-2.6zM10.6 11.8l0.6 0.1 0.5 0.8 0.4 2.1-0.3 2.1-0.6 0.7-0.4 0.2-0.6-0.2-0.4-0.6-0.5-1.8 0.4-2.4zM17 11.8l0.8-0.3 0.4 0.4 0.8 2.3-0.2 2.6-0.6 0.9-0.4 0.3-0.6 0-0.4-0.4-0.7-1.8 0.1-2.6zM-3.8 12.8l0.6-0.2 0.4 0.2 0.6 0.7 0.2 1.3-0.2 1.5-0.6 0.6-0.4 0.2-0.6-0.1zM3.4 12.8l0.4-0.4 0.4 0.1 0.7 1.3 0.1 2-0.2 0.8-0.6 0.6-0.4 0-0.6-0.4-0.3-1 0-1.6zM62.5 26.8l0.7-0.3 1 0 1.1 0.7 0.2 1.6-0.7 1.1-1.6 0.4-1-0.4-0.4-0.6-0.1-1.5zM75.2 34.8l2-0.2 2 0.5 2 0.8 1.2 0.9 0.6 1 0 1-0.3 0.4-1.5 1.3-3 1-2.4 0.1-2.6-0.8-0.7-0.6-0.6-1-0.2-1 0.1-1 1.2-1.4zM76.1 43.8l2.1 0.1 2.6 0.9 1.2 1 0.3 1-0.2 0.4-1.9 1.3-2.4 0.7-2.6 0-2-0.8-0.6-0.6-0.4-1 0.4-1.6 1.6-1.1zM74.9 51.8l2.3-0.3 2.6 0.6 1.7 1.1 0.2 1-0.9 1-2 0.8-2.6 0.3-2-0.4-1.4-1.1-0.3-1 0.7-1.2zM75.3 58.8l1.9-0.2 2.6 0.6 1.5 1 0.1 1-1.4 1-2.2 0.7-2 0-1.6-0.4-1-0.7-0.3-0.6 0-1 0.9-0.9zM75.5 65.8l1.7-0.1 2 0.4 1.3 0.7 0.4 1-1 1-1.7 0.5-2 0.2-1.4-0.3-1.4-1-0.2-1 0.9-1zM75.2 72.8l2-0.2 2 0.4 1.2 0.8 0.3 0.4-0.1 0.6-0.8 0.7-1.6 0.5-2 0.2-1.4-0.3-1-0.7-0.4-1 0.7-1zM75 79.8l1.8-0.3 1.9 0.3 1.1 0.4 0.6 0.6 0.1 0.4-0.7 0.9-1.6 0.6-1.4 0.2-1.6-0.2-1-0.5-0.6-1 0.5-1zM75.2 86.8l1.6-0.3 1.7 0.3 1 0.4 0.4 0.6 0 0.4-0.5 0.6-1.2 0.4-1.4 0.2-1.3-0.2-1.1-0.4-0.3-0.6 0.2-1zM75.7 93.8l1.1-0.2 1.4 0.3 1 0.5 0.5 0.8-5.5 0 0.5-1z"/><path fill="#31478d" d="M76.1 4.2l2.1 0.2 2 0.5 2 0.9 2 1.4 1.3 1.6 1.1 2 0.7 2 0.2 2-0.1 2-0.6 2.4-0.9 2-1.5 2-0.1 1.6 1 3-0.1 1-0.5 1-0.9 1-2 1.2-3 0.9-2 0.2-3-0.5-2-1.3-0.9-1.5-0.8-4-0.9-1.5-2.6-2.5-3.8-0.9-2-1-1.3-2.1-0.4-2.6 0.2-2.4 0.7-2.6 1.1-2 1.1-1 1-0.4 1-0.1 2.6 0.8 1 0 1-0.3 1.4-1.1 2-1 2-0.6zM52.6 9.2l1.2-0.4 1 0.5 1.1 1.9 0.6 2.6 0 2.4-0.6 2-0.8 1-1.3 0.6-1-0.2-1.1-0.8-0.7-1.6-0.3-1.4 0.1-2 0.4-2 0.6-1.5zM44.6 10.2l0.6-0.3 1 0.4 0.9 1.5 0.5 2 0 2-0.3 1.4-0.5 1.1-1 0.8-1-0.1-0.8-0.8-0.5-1-0.4-1.4 0-1.6 0.4-2zM37.2 11.2l0.6-0.4 0.4 0 0.6 0.4 0.5 1 0.4 1.6 0.1 1.4-0.2 1.6-0.4 1-1 0.7-1-0.2-0.4-0.5-0.6-1.7 0.2-2.8zM24.1 11.8l0.7 0 0.4 0.7 0.5 2.3-0.5 2.3-0.4 0.6-0.6 0.1-0.4-0.2-0.6-0.8-0.3-1.6 0.3-2.3zM30.5 11.8l0.7-0.4 0.6 0.3 0.5 1.1 0.3 1.4-0.2 2.6-0.6 1-0.6 0.3-0.4-0.1-0.6-0.4-0.6-1.8 0.2-2.4zM10.5 12.8l0.3-0.2 0.4 0.4 0.5 1.8-0.2 1.4-0.3 0.5-0.4 0.3-0.6-0.2-0.5-1.6 0.2-1.4zM17 12.8l0.2-0.4 0.6 0 0.4 0.5 0.4 1.3-0.1 2-0.7 1.1-0.6-0.1-0.4-0.4-0.4-1 0-1.6zM3.7 13.8l0.5 0 0.3 1-0.3 1.2-0.4 0.1-0.5-0.8zM-3.8 14.2l0-0.1 0.6-0.1 0.4 0.6 0 0.8-0.4 0.5-0.6-0.1zM63.1 27.2l1.1 0.2 0.6 0.8-0.4 1-0.6 0.4-1-0.2-0.6-0.6 0.2-1zM75.3 35.2l2.5 0 3 1 1.3 1 0.2 0.6 0 1-1.1 1.1-2.4 1.1-2.6 0.2-2.4-0.6-1.4-1.4-0.2-1.6 1-1.5zM75.5 44.2l1.7 0 2.6 0.5 1.5 1.1 0.3 1-0.8 1-2 0.8-2.6 0.3-2-0.4-1-0.7-0.4-0.6-0.1-1 0.5-0.9 0.6-0.4zM74.7 52.2l2.1-0.3 2.1 0.3 1.8 1 0.3 1-1.2 1-1.6 0.6-2 0.1-1.4-0.3-1.4-0.8-0.3-1 0.6-1zM74.9 59.2l1.9-0.2 1.9 0.2 1.2 0.6 0.9 1-0.2 0.4-0.6 0.6-1.2 0.5-2 0.3-1.6-0.2-1.3-0.6-0.6-1.1 0.6-0.9zM75.2 66.2l1.6-0.2 1.6 0.2 1.2 0.6 0.4 0.4 0.1 0.6-0.3 0.5-1.6 0.6-1.4 0.2-1.6-0.2-1-0.5-0.4-0.6 0.4-1zM75.1 73.2l1.7-0.2 1.8 0.2 0.9 0.6 0.4 0.4-0.1 0.6-0.6 0.5-1.4 0.4-1.6 0.1-1-0.2-1-0.7-0.1-0.7 0.2-0.4zM75 80.2l1.2-0.3 1.6 0.1 1.4 0.6 0.5 0.6-0.4 0.6-1.1 0.5-2.4 0.1-1-0.5-0.5-0.7 0.1-0.4zM75.4 87.2l1.4-0.3 1 0.2 1.1 0.7-0.1 0.4-1 0.6-2 0-0.9-0.6 0-0.4zM76.2 94.2l1.6 0.2 0.9 0.8-3.6 0 0.2-0.4z"/><path fill="#334a90" d="M74.7 4.8l2.1-0.2 2.4 0.3 2 0.8 1.6 0.9 1.4 1.2 1.5 2 0.9 2 0.5 2 0 2.4-0.5 2.6-1.2 2.4-1.5 2-0.2 1 0.2 1 0.9 2.6-0.3 1.4-0.7 1-1.6 1.2-1.4 0.6-2.6 0.6-3.4 0-1.6-0.6-1-0.7-1-1.5-0.7-4-0.7-1.6-3-2.9-4-0.7-1.6-0.7-1.2-1.7-0.5-2-0.1-2.4 0.6-2.6 0.8-2 1.4-1.5 1-0.4 1-0.1 2.6 0.9 1 0 1-0.4 3-2zM52.7 9.8l1-0.4 1.1 0.5 1 1.9 0.5 2.4-0.1 2-0.4 1.6-1 1.3-1 0.3-1-0.2-1-0.9-0.8-2.5 0.3-3.6 0.6-1.4zM44.9 10.8l0.9-0.1 0.6 0.5 0.6 1.6 0.4 2-0.2 1.4-0.4 1.5-0.6 0.6-1 0.3-0.4-0.1-0.7-0.7-0.7-2.6 0.4-2.6 0.4-1.2zM37.4 11.8l0.8-0.3 0.6 0.5 0.7 2.2-0.3 2.5-0.4 0.9-0.6 0.3-1-0.3-0.7-1.8 0.2-2.6zM31 12.2l0.8 0.4 0.5 2.2-0.2 1.4-0.3 0.8-0.6 0.4-0.4-0.1-0.5-0.5-0.4-1.6 0.3-2.1 0.6-0.8zM23.9 12.8l0.3-0.3 0.6 0.2 0.6 2.1-0.2 1.4-0.4 0.7-0.6 0.2-0.5-0.3-0.4-1.6 0.1-1.4zM17.1 13.8l0.7-0.3 0.3 0.7 0.1 1-0.4 1.1-0.6 0-0.3-1.1zM10.5 14.2l0.3-0.3 0.4 0.9 0 0.4-0.4 0.7-0.5-0.7zM75 35.8l2.2-0.3 2.8 0.7 1.4 1 0.3 0.6 0 1-0.9 1-2 0.8-2.6 0.3-2-0.5-1.3-1.2-0.2-1.4 0.5-1.1zM75 44.8l1.8-0.3 2 0.3 1.7 1 0.4 1-0.9 1-1.8 0.6-2 0.2-1.4-0.3-1.4-1.1-0.2-1 0.8-1zM74.6 52.8l1.6-0.5 2 0.2 1.7 0.7 0.4 0.6-0.1 0.4-0.4 0.6-1.6 0.6-1.4 0.2-1.6-0.2-1-0.5-0.5-0.7 0.2-1zM74.8 59.8l1.4-0.4 1.6 0 1.4 0.5 0.8 0.9-0.2 0.4-1 0.7-1.6 0.3-1.4-0.1-1.1-0.3-0.6-0.6-0.1-0.4 0.1-0.6zM75.2 66.8l1-0.3 1.6 0 1.3 0.7 0.1 0.6-0.4 0.4-1 0.4-2 0-0.8-0.4-0.4-0.4 0-0.6zM75.3 73.8l1.9-0.4 1.2 0.4 0.5 0.4-0.1 0.6-0.9 0.4-1.7 0.2-1.2-0.6-0.2-0.6zM75.3 80.8l0.9-0.4 1-0.1 1.2 0.5 0.3 0.4-0.9 0.7-1.6 0.1-1-0.6z"/><path fill="#354c92" d="M73.9 5.2l2.3-0.3 2 0.1 2 0.6 2 1 1.6 1.2 1.2 1.4 1.1 2 0.6 2 0.2 2.6-0.5 2.4-1 2.6-1.9 2.4-0.3 1 0.2 1 0.9 2.6-0.2 1.4-0.8 1-1.4 1-3.7 1.2-3 0-1.4-0.5-1.2-0.7-0.8-0.9-0.5-1.1-0.4-3.4-0.6-1.6-2.5-2.7-1-0.6-3.6-0.4-1.7-0.7-1.2-1.6-0.6-2-0.1-2 0.5-2.4 0.8-2 1.3-1.6 1-0.5 1 0 2.6 0.9 1 0 1-0.4 2.4-1.9zM52.8 10.3l1-0.4 1 0.7 0.8 1.6 0.4 2-0.1 2-0.5 1.6-0.6 0.8-1 0.4-1-0.2-0.7-0.6-0.5-1-0.4-1.4 0-1.6 0.4-2 0.6-1.3zM45.2 11.2l0.6 0.1 0.7 0.9 0.5 1.6 0.1 1.4-0.5 2-0.8 0.9-0.6 0-0.4-0.2-0.6-0.7-0.5-2 0.1-1.4 0.4-1.6 0.6-0.7zM37.3 12.8l0.5-0.5 0.4 0 0.8 1.5 0.1 2-0.3 1-0.6 0.5-0.4 0-0.6-0.4-0.3-1.2-0.1-1.5zM31.1 13.2l0.5 0.6 0.3 1-0.1 1.1-0.6 0.7-0.4-0.2-0.5-1.2 0.3-1.4zM24.2 13.8l0.6 0.3 0.1 0.7-0.1 1-0.6 0.4-0.5-1 0.1-0.6zM74.6 36.2l2.2-0.3 2.4 0.4 1.5 0.9 0.3 0.6 0 1-1 1-1.8 0.6-2 0.2-1.4-0.4-1.4-1-0.3-1 0.3-1zM74.8 45.2l1.4-0.3 2 0.2 1.5 0.7 0.4 0.4 0.1 0.6-0.4 0.5-1.6 0.7-1.4 0.2-1.6-0.2-1-0.5-0.4-0.7 0.3-1zM75.9 52.8l1.3-0.1 1.6 0.4 0.7 0.7-0.1 0.4-0.6 0.6-1.6 0.4-2-0.3-0.8-0.7 0-0.4 0.4-0.6zM76.2 59.8l2 0.2 0.6 0.2 0.3 0.6-0.2 0.4-1.1 0.6-2-0.1-0.9-0.5-0.2-0.4 0.2-0.6zM75.7 67.2l1.5-0.2 0.7 0.2 0.1 0.6-0.8 0.3-1 0-0.6-0.3zM76.1 74.2l0.7-0.1 0.7 0.1-0.3 0.4-0.4 0.2z"/><path fill="#364f94" d="M75.5 5.2l1.7 0 2 0.3 2 0.8 1.6 1 1.4 1.4 1.1 1.5 0.8 2 0.4 2 0 2.6-0.5 2-1.3 2.4-1.7 2-0.2 1 0.1 1 1 2.6-0.3 1.4-0.8 1-1.5 1-3.5 1-3-0.2-2-1-1.2-1.8-0.4-3.8-0.5-1.2-3.5-3.5-1-0.4-3-0.1-1.4-0.6-1.3-1.4-0.7-2.4 0.2-2.6 0.5-2 0.7-1.5 1-1.1 1-0.4 1-0.1 2.6 1 1-0.1 1-0.4 3-2.2 2-0.8zM52.9 10.8l0.9-0.3 1 0.7 0.5 1 0.5 2 0 1.6-0.4 1.4-0.6 1-1 0.5-1-0.3-0.6-0.5-0.7-2.1 0.2-3 0.5-1.3zM44.8 12.2l0.4-0.3 0.7 0.3 0.6 1 0.3 1.3-0.4 2.3-0.6 0.7-0.6 0.1-0.9-0.8-0.3-1.6 0.2-2zM37.4 13.8l0.4-0.5 0.4 0 0.5 0.9 0.1 1.2-0.6 1.1-0.4 0-0.6-0.8 0-0.9zM76 36.2l1.8 0.1 1.5 0.5 1.1 1 0 1-1.2 0.9-1.4 0.5-1.6 0-1.6-0.4-0.9-1-0.1-1 0.9-1zM76.4 45.2l2.4 0.5 0.6 0.5 0 0.6-0.6 0.6-1.6 0.4-1.4 0-1.1-0.6-0.3-0.4 0.4-0.9zM75.9 53.2l1.9 0.1 0.7 0.5-0.1 0.4-1.2 0.6-1.4-0.3-0.5-0.3-0.1-0.4zM76.4 60.2l0.8 0.1 0.8 0.5-0.5 0.4-1.4 0-0.4-0.4z"/><path fill="#375195" d="M74.1 5.8l2.1-0.4 2 0.2 2 0.5 1.6 0.8 1.6 1.3 1.3 1.6 1 2 0.5 2 0.1 2.4-0.6 2.6-1.3 2.4-1.8 2-0.3 1 0.1 1 1.1 2.6-0.3 1.4-0.8 1-1.2 0.8-3 0.9-3 0-1.4-0.5-1-0.6-0.7-1-0.4-1-0.2-4-1.2-1.6-3-3-1.1-0.2-3-0.1-1.4-0.6-1-1.1-0.7-2-0.1-2 0.4-2 0.8-2 1-1.1 1-0.5 1-0.1 2.6 1 1 0 1-0.5 2.4-2.1zM53 11.2l0.8-0.2 0.9 0.8 0.8 2.4-0.3 2.6-0.5 1-0.9 0.5-1.2-0.5-0.9-2 0.2-2.6 0.3-1zM45.2 12.8l0.6 0.1 0.2 0.3 0.4 1.6-0.2 1.4-0.4 0.7-0.6 0.1-0.4-0.4-0.5-1.4 0.2-1.4zM75.5 36.8l1.7-0.2 1.6 0.4 0.9 0.8 0 1-0.5 0.4-1.4 0.6-1.6 0.1-1-0.3-0.6-0.4-0.5-1 0.5-1zM76.2 45.8l1.6 0.1 0.6 0.3 0.1 0.6-1.3 0.6-1.4-0.2-0.6-0.4 0.1-0.6z"/><path fill="#385497" d="M75.5 5.8l1.7-0.1 2 0.4 2 0.8 1.6 1 1.2 1.3 1 1.6 0.8 2 0.3 2-0.2 2.4-0.7 2-1.1 2-1.9 2-0.3 1 0.1 1 1.1 2.6-0.3 1.4-0.8 1-1.2 0.8-1.6 0.5-2 0.3-2.4-0.2-1.6-0.8-0.9-1-0.3-1-0.1-4-1.1-1.6-3.6-3.4-1-0.2-2.4 0.2-2-0.8-1-1.3-0.6-2.5 0.2-1.9 0.6-2.1 0.7-1.2 1.1-0.9 1.4-0.2 3 1.2 1.6-0.7 1.4-1.5 1.6-1 2-0.8zM53.1 11.8l0.7-0.2 0.4 0.3 0.6 0.9 0.4 1.4 0 1.4-0.3 1.2-0.7 0.8-0.4 0.2-0.6 0-0.6-0.6-0.7-2 0.3-2.2zM45.2 13.8l0.6 0.2 0.1 0.8-0.1 1.1-0.6 0.2-0.5-0.9 0.1-0.5zM75.4 37.2l1.4-0.3 1 0.2 1 0.5 0.3 0.6-0.2 0.6-0.7 0.4-1.4 0.3-1-0.1-0.9-0.6-0.2-0.6 0.1-0.4z"/><path fill="#395598" d="M74 6.2l2.2-0.3 2 0.1 2 0.6 1.6 0.9 1.5 1.3 1.2 1.4 0.9 2 0.3 1.6 0.1 2.4-0.6 2.6-1.4 2.4-2 2-0.3 1 0.1 1 1 2 0.1 1.6-0.6 1-0.9 0.6-1.4 0.8-1.6 0.3-3 0-2-1-0.6-0.7-0.5-1.6 0.2-3.4-1.1-1.6-4-3.8-3.4 0.1-1.6-0.4-1-1-0.7-1.9-0.1-1.4 0.3-2 0.5-1.6 1-1.3 1-0.6 1 0 2.6 1.1 1 0 1-0.6 2.4-2.3zM53.4 12.2l0.4 0 0.6 0.6 0.6 2-0.2 1.6-0.6 0.7-0.4 0.3-0.6-0.1-0.4-0.4-0.6-1.7 0.3-2zM75.8 37.8l1.4-0.3 0.7 0.3 0.3 0.4-0.4 0.6-1.6 0.1-0.4-0.1-0.3-0.6z"/><path fill="#3a599b" d="M74.1 6.2l2.1-0.3 2 0.2 2 0.6 1.6 0.8 1.5 1.3 1.1 1.4 0.8 1.6 0.5 2 0.1 2.4-0.6 2.5-1.4 2.5-2 2-0.4 1 0.2 1 1 2 0.1 1.6-0.6 1-0.9 0.6-1.4 0.8-1.6 0.3-3 0-2-1-0.6-0.7-0.4-1.6 0.1-3.5-1.1-1.5-4-3.8-3.4 0.1-1.6-0.4-1-1-0.7-1.9-0.1-1.4 0.3-2 0.5-1.6 1-1.3 1-0.5 1-0.1 2.6 1.2 1-0.1 1-0.5 2.4-2.4zM53.6 12.2l0.8 0.6 0.6 2-0.2 1.5-0.6 0.8-0.4 0.3-0.6-0.1-0.4-0.4-0.6-1.7 0.3-2 0.7-0.9zM75.8 37.8l1.4-0.3 0.6 0.3 0.3 0.4-0.3 0.6-1.6 0.1-0.6-0.7z"/><path fill="#3b61a0" d="M76.2 6.2l2 0.2 1.6 0.4 1.4 0.7 1.6 1.2 1.8 2.5 0.6 1.6 0.3 2-0.1 2-0.8 2.4-1.4 2.2-2 1.8-0.4 1 0.1 1 1.3 2.6-0.3 1.4-1.1 1-0.9 0.6-2.7 0.6-2.4-0.4-1-0.5-0.7-0.7-0.5-1-0.1-1 0.4-3-1.1-1.6-1.7-1.4-2.3-2.8-1-0.4-2.6 0.5-1.7-0.3-1.3-1.3-0.5-2.3 0.1-1.4 0.4-1.8 0.6-0.9 1-0.9 1.4-0.3 3 1.4 1.6-0.8 1.4-1.7 1.6-1.2 2-0.9zM53.1 13.8l0.7-0.4 0.5 0.8 0 1.6-0.5 0.6-0.6-0.1-0.4-1z"/><path fill="#3c69a5" d="M74.7 6.8l1.5-0.3 2 0.2 2 0.6 1.6 0.9 1.1 1 1.1 1.6 0.7 1.4 0.5 2-0.1 2.6-0.8 2.4-1.4 2-2.3 2-0.6 1 0.2 1 1.3 2 0 1.6-0.7 1-0.7 0.4-2.3 0.8-2.6-0.2-1.7-1-0.5-1-0.1-1 0.7-2.6-0.2-1-3.2-2.8-2.4-3.1-1-0.4-2.6 0.8-1.4-0.3-1-0.8-0.8-1.8 0-1.6 0.3-1.4 0.5-1 1-1.1 1.4-0.3 3 1.7 1.6-1 1-1.4 1.5-1.4 1.5-0.9z"/><path fill="#3c76af" d="M73.9 7.2l1.9-0.3 1.4-0.1 1.6 0.3 2 0.8 1.4 1.1 1.1 1.2 0.9 1.6 0.6 2 0 3-0.8 2.4-1.4 2-2.7 2-0.1 0.6-0.6 0.4-0.1 0.6 0.3 0.4 1.6 2 0 1.6-1.2 1.2-2 0.7-2.6-0.2-1.4-1.1-0.5-1.6 1.1-3-1.2-1.6-1.4-0.8-1.6-1.4-2.4-3.6-0.6-0.4-0.4 0.1-2 1.1-1.6 0-1.3-1-0.6-1.4 0.2-2.6 0.5-1 0.8-0.9 1-0.3 1 0.2 2.4 1.9 1.6-1.3 0.9-1.6 1.1-1.1 1.4-1.1z"/><path fill="#3c82b9" d="M74.9 7.2l1.9-0.1 1.4 0.1 1.6 0.5 1.4 0.8 1.4 1.3 1.1 1.4 0.9 3-0.2 3-1 2.6-1.8 2-2.4 1.4-1.2 1.6 2.2 2.2 0.4 0.8-0.1 1-1.3 1.1-2 0.6-1.7-0.3-1.4-1-0.4-1 0.1-1 1.7-2.4-1.6-1.6-1.7-0.8-1.8-1.6-2.2-3.4-0.9-2.2 0.9-2.3 0.6-0.4 0.5-1.3 1.2-1.4 2.3-1.8zM63.1 11.8l1.1-0.2 1 0.6 1.9 2.6 0.1 0.4-1.1 1.6-0.9 0.6-1 0.4-1.4-0.3-0.8-0.7-0.3-1-0.1-1 0.3-1.6 0.3-0.7z"/><path fill="#3f96c3" d="M74 7.8l1.8-0.4 1.4-0.1 2 0.5 1.6 0.7 1.4 1.2 0.9 1.1 0.8 1.4 0.4 1.6 0 3-1.2 3-2.3 2.3-2.6 1.1-0.3 0.6-0.7 0.2-1.8-0.2-0.5-0.6-2.1-0.8-1.5-1.2-1.6-2-1.6-3.4 0.1-1.7 0.6-0.6 1.2-2.7 1.8-1.9zM63.4 12.2l0.8 0 0.9 0.6 0.7 1 0.3 1-0.4 1.4-0.5 0.6-1 0.5-1 0-0.4-0.3-0.6-0.8-0.3-1 0.3-1.8 0.6-0.7zM75.7 25.8l0.5-0.3 1-0.1 2 1.2 0.8 1.2-0.1 1-0.4 0.4-1.3 0.7-1.5 0.3-0.9-0.2-1-0.6-0.6-1.2 0-0.8 0.6-0.9z"/><path fill="#54aac5" d="M74.9 7.8l2.9-0.2 1.4 0.4 1.6 0.8 2 2 0.8 1.4 0.5 1.6 0 3-0.5 1.4-0.8 1.6-2 2-1.6 0.8-1.4 0.5-1.6 0.1-1.4-0.3-2.6-1.2-2.2-2.5-1-2.4-0.1-3 1-2.6 1.3-1.4 1-0.9zM63 13.2l0.8-0.4 0.4 0.1 0.6 0.4 0.5 0.9 0 1.6-1.1 1-1-0.1-0.7-0.9-0.1-1.6zM76 26.2l1.2-0.1 1.5 0.7 0.7 1-0.1 1-0.5 0.5-1.6 0.5-1 0-1-0.5-0.4-0.5-0.1-1 0.5-1z"/><path fill="#68afac" d="M74.9 8.2l2.9-0.1 2.4 0.9 1.5 1.2 0.8 1 1.1 2.6 0 3-1.1 2.4-1.2 1.6-1.1 0.7-2.4 1-2.6 0-2.4-1.1-2.2-2.2-1.1-2.4-0.2-1.6 0.2-1.4 1.1-2.6 1.6-1.7zM76.6 27.8l0.6-0.1 0.2 0.5-0.6 0.3-0.4-0.3z"/><path fill="#74ac85" d="M74.8 8.8l2.4-0.3 2.6 0.8 2 1.6 1.2 2.3 0.2 1.6 0 1.4-0.9 2.6-1.8 2-2.3 1.1-2.4 0.2-2.6-1-2-1.9-1.2-2.4-0.1-2.6 0.9-2.4 1.9-2z"/><path fill="#82ac67" d="M74.6 9.2l2.2-0.3 2.4 0.6 2 1.5 1.3 2.2 0.3 2.6-0.7 2.4-1.6 2-2.3 1.2-2.4 0.2-2-0.7-2-1.7-1.3-2.4-0.2-2.6 0.7-2 1.7-2z"/><path fill="#96b452" d="M74.4 9.8l2.4-0.5 2.4 0.7 1.7 1.2 1.2 2 0.3 2.6-0.5 2-1.1 1.6-2 1.4-2 0.4-2.6-0.5-1.8-1.5-1.3-2-0.4-2 0.5-2.4 1.6-2z"/><path fill="#b2bf45" d="M76 9.8l2.2 0.2 2 1.1 1.3 1.7 0.5 2-0.2 2-1 2-1.6 1.3-2 0.7-2-0.2-2-1.1-1.4-1.7-0.7-2 0.2-2 1-2 1.5-1.3z"/><path fill="#cec841" d="M75.4 10.2l1.8-0.1 2 0.7 1.5 1.4 0.9 2 0 2-0.8 2-1.6 1.4-1.4 0.7-1.6 0.1-2-0.7-1.6-1.5-1-2 0-2 0.6-1.7 1.6-1.5z"/><path fill="#dcbc3c" d="M75 10.8l1.8-0.3 2 0.5 1.4 1.2 0.9 1.6 0.2 2-0.4 1.4-1.1 1.6-1.6 0.9-1.4 0.3-2-0.4-1.7-1.4-0.9-1.4-0.3-1.6 0.4-2 1.1-1.4z"/><path fill="#e19432" d="M74.8 11.2l2-0.3 1.4 0.3 1.6 1 0.7 1 0.4 1.6-0.2 2-1 1.4-1.5 1.1-1.4 0.3-1.8-0.4-1.4-1-1-1.4-0.3-1.6 0.2-1.4 0.9-1.6z"/><path fill="#da6829" d="M76.3 11.2l1.5 0.2 1.4 0.8 0.8 1 0.5 1.6-0.1 1.4-0.7 1.6-1.5 1.1-1.4 0.3-1.6-0.3-1-0.7-1.2-1.4-0.3-1.6 0.2-1.4 0.9-1.3 1-0.8z"/><path fill="#cd4128" d="M75.7 11.8l1.5-0.1 1 0.3 1 0.8 0.8 1.4 0.1 1.6-0.6 1.4-1 1-1.3 0.6-1.1 0-1.3-0.7-1-1-0.7-1.3 0.1-1.6 0.4-1 1-1z"/><path fill="#c62e2a" d="M75.5 12.2l1.3-0.1 0.9 0.2 1.1 0.6 0.8 1.3 0.1 1.5-0.3 1.1-0.6 0.7-1 0.7-1 0.2-1-0.2-1-0.6-1.1-1.4-0.2-1 0.3-1.4 0.9-1z"/><path fill="#c2282d" d="M75.5 12.8l1.3-0.3 1 0.2 0.7 0.5 0.6 1 0.2 1-0.2 1-0.7 1-0.6 0.5-1 0.2-1-0.2-1.6-1.5-0.3-1 0.2-1 0.7-0.9z"/><path fill="#a1252a" d="M75.6 13.2l1.6-0.1 1 0.6 0.4 0.6 0.1 1.5-0.5 0.9-0.7 0.5-0.7 0.2-1-0.3-1.2-1.3 0.1-1.6z"/><path fill="#862126" d="M76.1 13.8l1.2 0 0.8 1 0 1-0.9 0.9-1 0-1-1-0.1-0.9z"/><path fill="#791e23" d="M76.6 14.8l0.5 0.4-0.3 0.5-0.6-0.5z"/></g>
<g id="h10"><path fill="#2b3570" d="M74.9 6.2l1.3 0 1.6 0.3 2 0.9 1.4 1.2 2.4 2.6 0.9 2 0.3 1.6-0.1 1.4-0.7 1.6-1.8 1.2-1.7 0.8-0.1 0.4 2.8 1.6 0.8 1.4-0.7 1.6-1.8 1.4 0.2 0.6 1.7 1.4 0.2 1-0.7 1-1.3 1.1 0 0.5 1.2 1 0.5 1-0.4 1-1.2 1-0.1 0.4 1.1 1 0.4 1-0.2 0.6-1.4 1.4 1.3 1.6 0.1 0.4-1.4 2 1.2 1.6 0 0.4-1.2 1.6 1 1.4 0 0.6-1.1 1.4 1 1.6-0.1 0.4-1 1.6 0.9 1.4-1 1.6 0.8 1.4-0.1 0.6-0.7 1 0 0.4 0.6 1 0 0.6-0.9 1.4 0.6 1.6-1.1 1.4 0.5 1.6-0.3 0.4-1.3 1-0.2 0.6 0.7 1-0.2 0.4-1.4 0.8-2.4 0.5-2-0.5-0.9-0.8-0.1-0.4 0.4-1-0.9-2 0.2-1.6-0.5-1.4 0.2-1.6-0.4-1.4 0.3-2-0.3-1.6 0.3-1.4-0.5-1.6 0.4-1.4-0.5-2 0.5-1.6-0.5-1.4 0.5-2-0.6-2 0.5-1.6-0.6-2 0.6-2-0.7-1.7-0.4-0.2-0.8 1.9 0.7 2-0.8 2 0.7 1.6-0.7 2 0.6 2-0.6 1.4 0.5 1.6-0.5 2 0.3 1.4-0.4 1.6 0.4 1.4-0.4 1.6 0.3 1.4-0.5 2 0.3 1.6-0.6 1.4 0.3 1.6-0.1 0.4-1.2 1.6 0.6 1-0.1 0.5-1 0.4-1.2-0.5-0.2-0.4 0.7-1-1.3-1.6-0.1-0.4 0.3-1.6-0.7-1.4 0.4-1.6-0.6-1.4 0.4-2-0.5-1.6 0.5-1.4-0.7-1.6 0.6-1.4-0.6-1.4-0.6 0.3-0.4 1.1 0.9 1.4-1 1.6 0.5 1.4-0.5 1.6 0.5 1.4-0.7 2 0.4 1.6-0.8 1.4 0.4 1.6-0.3 0.6-1 0.7-1-0.3-0.6-1 0.3-1.6-0.7-1.4 0.3-1.6-0.6-2 0.5-1.4-0.6-1.6 0.6-1.4-0.6-1.2-0.6-0.1-0.6 1.3 0.5 1.4-0.6 1.6 0.5 1.4 0 0.5-0.6 1.5 0.3 1.6-0.8 1.4 0.3 1.8-0.4 0.6-0.6 0.2-1-0.5-0.1-0.5 0.4-1.6-0.9-1.4 0.4-1.6-0.6-1.4 0-0.6 0.5-1.4-0.6-1.6 0.5-1.4-0.6-1.1-0.4-0.2-0.8 1.3 0.6 1.4-0.6 1.6 0.5 2-0.7 1.4 0.4 1.6-0.4 0.8-0.8 0.6 0.7 1.6-0.5 0.7-0.4 0.1-0.6-0.2-0.2-0.6 0.6-1.6-0.8-0.8-0.3-0.6 0.4-1.6-0.7-1.4 0-0.6 0.5-1.4-0.7-1.6 0.7-1.4-0.9-1.4-1 1.4 0.7 1.4-0.7 1.6 0.5 2-0.8 1.4 0.5 1.6-0.8 1.1-0.4 0.2-0.6-0.4-0.6-0.9 0.5-1.6-0.8-1.4 0-0.6 0.6-1 0-0.4-0.7-1.6 0.6-1.4-1-1.3-0.9 1.3 0.7 1.4-0.8 1.6 0.7 2-1 1.4 0.6 1.6-0.3 0.6-0.6 0.4-0.4-0.1-0.8-0.9 0.6-1.6-0.9-1.4 0.6-2-0.8-1.6 0.7-1.4-1-1.4-1.1 1.4 0.8 1.4-0.9 1.6 0.7 2-0.9 1.4-0.3 0 0.7 0.9 0.2 0.7-0.6 0.8-0.6 0-0.7-0.8 0.7-1.6-1-1.4 0.7-2-0.9-1.6 0.8-1.4-1-1.4-1.2 1.4 0.9 1.4-1 1.6 0 0.4 0.7 1-0.2 1-0.8 0.9-0.4-0.1-0.9-1.2 0-0.6 0.7-1 0-0.4-0.8-1-0.1-0.6 0.8-1.4-1.3-1.3-1 1.3 0.9 1.4-0.1 0.6-1 1 0 0.4 0.9 1 0 0.6-0.7 0.8-0.4 0.3-0.6-0.3-0.5-0.8 0-0.6 0.8-1 0.1-0.4-1-1-0.1-0.6 0.9-1.4-1.2-1.4-1.4 1.4 1 1.4-0.1 0.6-0.9 0.9-0.6-0.1-0.7-0.8-0.1-0.6 1.1-1.4-1.3-1.3-0.4 0-1 1.1-0.6 0.1-0.4-0.5-0.6-1 1-1.4-1.3-1.6-0.1-0.4-0.1 0.4-0.9 0.8-0.6 0.1-0.8-0.9 0.2-1 0.6-0.5 0.6 0.1 1 0.9 1.3-1.5-1.3-1.2-1.6 0.9-0.4-0.3-0.6-0.8 0.3-1 0.7-0.7 1.6 0.9 1.2-1.2-1.2-1.1-1.6 0.8-0.8-0.7-0.4-1 1.2-1.4 1.6 0.8 1.1-1-0.2-0.4-0.9-0.7-1.6 0.8-1.2-1.1-0.1-1 1.3-1.4 1.6 0.8 1.1-1-1.1-0.9-1.6 0.8-1.4-1.3-1.6 0.7-0.5-0.3-0.6-1 0.4-1 0.7-0.4 1.6 0.7 1.5-1.2 1.5 0.7 1-0.8-0.1-0.4-0.9-0.6-1.6 0.9-0.1-0.3-1.3-1-1.6 0.6-0.4-0.2-0.8-1-0.1-0.4 0.5-1 0.8-0.5 1.6 0.5 1.5-1 1.5 0.6 1-0.6-0.1-0.6-0.9-0.5-1.4 0.5-0.2 0.5 0-0.5-1.4-0.9-1.6 0.5-0.4-0.1-0.9-0.9-0.2-1 0.2-0.6 0.9-0.9 0.4-0.2 1.6 0.5 1.4-1.1 1.6 0.7 0.9-0.4 0.2-0.6-1.1-0.6-1.6 0.6-1.4-1-1.6 0.4-0.4-0.1-1-1-0.6-0.1-1 0.7-0.4-0.1-0.9-1.2 0.3-1.6 0.6-0.6 0.4 0 1.1 0.7 0.5-0.1 0.9-1 0.5-0.1 1.6 0.4 1.4-0.7 1.6 0.4 1.4-0.6 2 0.4 1.6-0.4 1.4 0.4 1.6-0.5 1.4 0.5 2-0.5 1.6 0.5 2-0.6 1.4 0.6 2.1-0.6 1.5 0.6 2-0.7 2 0.7 1.7-0.8-0.2-0.4-1.5-0.7-2 0.7-2-0.7-1.6 0.6-2-0.6-1.4 0.5-2-0.5-1.6 0.5-2-0.5-1.4 0.5-1.6-0.5-1.4 0.4-1.6-0.4-2 0.4-1.4-0.5-1.6 0.3-1.4-0.6-1.6 0.3-2-0.9-1 0.5-0.4-0.1-1.6-1.8-1 1.1-0.4 0-0.6-0.6-0.4-1 0-1.4 0.6-2.6 0.4-0.4 0.4 0.1 1 1.6 1.6-3 0.4-0.1 1 1 0.6-0.1 1-1.6 0.4-0.2 1.6 0.8 1.4-1.4 1.6 0.7 1.4-1 0.6 0 1 0.7 0.4 0 1-0.8 0.6 0 1.4 0.9 1.6-1 1.4 0.9 1.6-0.9 0.4-0.1 1.6 1.1 1.4-1.1 0.6 0 1.4 1.1 1.6-1.3 0.4 0 1.6 1.2 2-1.4 0.4 0.1 1.6 1.4 1.4-1.4 0.6-0.2 1 0.4 0.9 1.1 0.5-0.1 1-1.2 1-0.4 1 0.5 1 1.2 0.6 0 1.4-1.7 1-0.3 1 0.6 1 1.3 0.6 0.2 1.4-1.8 1.6-0.7 1.4 0.9 1.6 2.8 0.4-0.1 1.6-3 1-0.8zM29.8 25.7l-0.8 0.5 0.3 0.6 0.9 0.2 0.5-0.2 0.3-0.6-0.8-0.5zM33.2 25.7l-0.9 0.5 0.2 0.6 0.7 0.2 0.6-0.2 0.2-0.6zM36.2 25.7l-0.7 0.5 0.3 0.6 0.4 0.2 0.6-0.1 0.4-0.7zM39.8 25.7l-0.9 0.5 0.2 0.6 0.7 0.2 0.5-0.2 0.2-0.6zM43.2 25.7l-0.8 0.5 0.2 0.6 0.6 0.2 0.6-0.3 0.2-0.5zM46.8 25.7l-0.7 0.5 0.2 0.6 0.5 0.2 0.6-0.2 0.2-0.6zM50.8 25.7l-0.8 0.5 0.2 0.6 0.6 0.2 0.5-0.2 0.2-0.6zM54.8 19.1l-1.4 0.7-0.2 0.4 1.6 0.8 1.7-0.8-0.1-0.4zM59.2 19.1l-1.2 0.7-0.1 0.4 1.3 0.8 0.6 0 1.1-0.8-0.1-0.4-1-0.7zM64.2 19.2l-0.9 0.6-0.1 0.4 1.6 0.8 1.2-0.8-0.1-0.4-0.7-0.5zM70.8 18.5l-1.4 1.3-0.1 0.4 1.5 1.5 0.4-0.1 1.3-1.4-0.1-0.4-1.2-1.2zM29.2 31.2l0 0.6 0.6 0.3 0.4 0.1 0.6-0.4 0-0.6-0.6-0.3zM32.8 31.1l-0.3 0.1-0.1 0.6 0.4 0.2 0.4 0.2 0.7-0.4-0.1-0.6-0.6-0.3zM35.8 31.2l-0.1 0.6 0.5 0.3 0.9-0.3-0.1-0.6-0.2-0.2-0.6-0.1zM39.2 31.1l-0.2 0.7 0.2 0.1 0.6 0.3 0.6-0.4-0.2-0.7-0.4-0.2zM42.8 31.1l-0.3 0.7 0.3 0.1 0.4 0.3 0.7-0.4-0.1-0.6-0.6-0.3zM46.2 31.2l0 0.6 0.6 0.4 0.7-0.4-0.3-0.8-0.4-0.1zM50.2 31.2l-0.1 0.6 0.7 0.4 0.6-0.4-0.2-0.7-0.4-0.2zM54.8 25.7l-0.6 0.7 0.6 0.6 0.4-0.1 0.4-0.7-0.4-0.4zM59.2 25.7l-0.4 0.6 0.4 0.7 0.6 0 0.4-0.8-0.4-0.5zM64.8 25.7l-0.6 0.1-0.3 0.4 0.3 0.7 0.6 0.2 0.4-0.3 0.1-0.6zM70.8 25l-0.8 1.2 0.8 1.7 0.4-0.1 0.7-1.6-0.7-1.1zM29.8 35.5l-0.5 0.3-0.1 0.4 0.6 0.5 0.4 0.1 0.7-0.6-0.2-0.4zM32.8 35.6l-0.4 0.6 0.4 0.4 0.4 0.2 0.7-0.6-0.1-0.5-0.6-0.3zM36.2 35.5l-0.4 0.3-0.2 0.4 0.6 0.6 0.9-0.6-0.1-0.4zM39.2 35.7l-0.2 0.5 0.7 0.6 0.7-0.6-0.2-0.5-0.4-0.3zM42.8 35.6l-0.3 0.6 0.7 0.6 0.7-0.6-0.1-0.4-0.6-0.4zM46.8 35.5l-0.5 0.3-0.1 0.4 0.6 0.6 0.7-0.6-0.1-0.4zM50.2 35.7l-0.1 0.5 0.7 0.6 0.6-0.6-0.1-0.4-0.5-0.4zM54.8 30.9l-0.5 0.3 0 0.6 0.5 0.4 0.4-0.1 0.3-0.3 0-0.6zM59.2 30.9l-0.3 0.3 0 0.6 0.3 0.3 0.6 0 0.3-0.3-0.1-0.6-0.2-0.3zM64.2 31l-0.2 0.8 0.8 0.5 0.5-0.5 0-0.6-0.5-0.4zM70.8 30.1l-0.8 1.2 0 0.5 0.8 1.3 0.4-0.1 0.7-1.2 0-0.6-0.7-1.1zM29.8 39.6l-0.7 0.6 0.7 0.7 0.4 0.1 0.7-0.8-0.7-0.6zM32.8 39.7l-0.5 0.5 0.4 0.6 0.5 0.2 0.5-0.2 0.3-0.6-0.2-0.3-0.6-0.3zM36.2 39.6l-0.7 0.6 0.7 0.8 0.6-0.2 0.4-0.6-0.4-0.5zM39.8 39.6l-0.6 0.2-0.3 0.4 0.3 0.6 0.6 0.2 0.7-0.8zM42.8 39.7l-0.4 0.5 0.3 0.6 0.5 0.2 0.5-0.2 0.3-0.6-0.2-0.3-0.6-0.3zM46.8 39.6l-0.7 0.6 0.7 0.8 0.4-0.2 0.4-0.6-0.4-0.5zM50.8 39.6l-0.7 0.6 0.7 0.8 0.6-0.8zM54.8 35.5l-0.5 0.7 0.5 0.6 0.4-0.2 0.3-0.4-0.3-0.6zM59.2 35.5l-0.4 0.7 0.4 0.5 0.6 0 0.3-0.5-0.1-0.4zM64.2 35.6l-0.2 0.6 0.8 0.6 0.5-0.6-0.1-0.4-0.4-0.4zM70.8 34.5l-0.8 1.7 0.8 2 0.4-0.5 0.7-1.5-0.7-1.6zM29.8 43.4l-0.8 0.8 0.8 0.7 0.4 0 0.8-0.7-0.8-0.8zM32.8 43.5l-0.5 0.7 0.9 0.7 0.8-0.7-0.1-0.4-0.7-0.4zM35.8 43.7l-0.3 0.5 0.7 0.7 0.6-0.1 0.4-0.6-0.4-0.7-0.6-0.1zM39.2 43.6l-0.3 0.6 0.5 0.6 0.4 0.1 0.7-0.7-0.1-0.4-0.6-0.4zM42.8 43.6l-0.4 0.6 0.8 0.7 0.8-0.7-0.2-0.4-0.6-0.4zM46.8 43.4l-0.5 0.4-0.2 0.4 0.7 0.7 0.4-0.1 0.4-0.6-0.4-0.7zM50.2 43.7l-0.2 0.5 0.8 0.7 0.7-0.7-0.2-0.4-0.5-0.4zM54.8 39.6l-0.6 0.6 0.6 0.8 0.4-0.1 0.4-0.7-0.4-0.5zM59.2 39.6l-0.4 0.6 0.4 0.8 0.6-0.1 0.4-0.7-0.4-0.6zM64.2 39.7l-0.3 0.5 0.3 0.7 0.6 0.2 0.5-0.9-0.5-0.7zM29.8 47l-0.8 0.8 0.8 0.8 0.4 0 0.8-0.8-0.8-0.8zM32.8 47.1l-0.6 0.7 0.6 0.7 0.4 0.2 0.9-0.9-0.9-0.8zM36.2 47l-0.7 0.8 0.7 0.8 0.6-0.1 0.4-0.7-0.4-0.7zM39.2 47.2l-0.3 0.6 0.2 0.4 0.7 0.5 0.5-0.5 0.3-0.4-0.8-0.8zM42.8 47.2l-0.4 0.6 0.4 0.6 0.4 0.3 0.6-0.5 0.2-0.4-0.8-0.8zM46.8 47l-0.7 0.8 0.7 0.8 0.4-0.1 0.4-0.7-0.4-0.7zM50.8 47l-0.8 0.8 0.2 0.5 0.6 0.4 0.4-0.4 0.3-0.5-0.3-0.5zM54.8 43.4l-0.6 0.8 0.6 0.7 0.4-0.1 0.4-0.6-0.4-0.7zM59.2 43.4l-0.5 0.8 0.5 0.7 0.6 0 0.4-0.7-0.2-0.4-0.2-0.4zM64.2 43.5l-0.3 0.7 0.3 0.6 0.6 0.2 0.5-0.8-0.1-0.4-0.4-0.5zM29.8 50.4l-0.9 0.8 0.9 1 0.4 0.1 0.9-1.1-0.9-0.8zM32.8 50.6l-0.6 0.7 0.6 0.7 0.4 0.3 0.9-1.1-0.9-0.8zM36.2 50.4l-0.8 0.8 0.8 1 0.6-0.1 0.5-0.9-0.5-0.7zM39.2 50.6l-0.4 0.6 1 1.1 0.8-1.1-0.8-0.8zM42.8 50.6l-0.5 0.6 0.5 0.8 0.4 0.3 0.9-1.1-0.9-0.8zM46.8 50.4l-0.8 0.8 0.8 1.1 0.4-0.3 0.5-0.8-0.5-0.6zM50.2 50.7l-0.2 0.5 0.8 1.1 0.4-0.4 0.3-0.7-0.3-0.5-0.4-0.3zM54.8 47l-0.6 0.8 0.6 0.8 0.4-0.1 0.5-0.7-0.5-0.7zM59.2 47l-0.5 0.8 0.5 0.8 0.6 0 0.4-0.8-0.4-0.8zM64.2 47.1l-0.3 0.7 0.3 0.7 0.6 0.2 0.6-0.9-0.6-0.9zM29.8 53.6l-1 1.2 1 1 0.4 0.1 1-1.1-1-1.2zM33.2 53.6l-0.9 0.6-0.3 0.6 1.2 1.2 1-1.2-0.2-0.6zM36.2 53.6l-0.7 0.6-0.2 0.6 0.9 1.1 1.2-1.1-0.6-1zM39.8 53.5l-0.9 0.7-0.1 0.6 1 1.2 0.9-1.2-0.2-0.6zM43.2 53.5l-0.8 0.7-0.1 0.6 0.9 1.3 0.9-1.3-0.1-0.6zM46.8 53.6l-0.7 0.6-0.1 0.6 0.8 1.1 0.9-1.1-0.5-1zM50.8 53.5l-0.8 0.7-0.1 0.6 0.9 1.2 0.8-1.2-0.1-0.6zM54.8 50.4l-0.7 0.8 0.7 1.1 0.4-0.2 0.5-0.9-0.5-0.7zM59.2 50.4l-0.5 0.8 0.5 1 0.6 0 0.4-1-0.4-0.8zM64.2 50.5l-0.3 0.7 0.3 0.9 0.6 0.3 0.6-1.2-0.6-0.9zM54.8 53.6l-0.7 1.2 0.7 1.1 0.4-0.2 0.6-1-0.6-1zM59.2 53.6l-0.6 1.2 0.6 1.1 0.5-0.1 0.6-1-0.5-1.2zM15.7 22.8l0.5 0 0 1-0.6 0zM19.1 27.8l0.7 0.3 0.4 0.7-0.3 1-0.7 0.4-0.4-0.1-0.6-0.9 0.2-1zM18.6 33.2l0.6-0.2 0.6 0.5-0.1 0.7-0.5 0.5-0.7-0.5zM19 37.8l0.3 0 0.2 0.4-0.3 0.4-0.5-0.4zM21.8 41.2l0.4-0.1 0.6 0.1 0.9 1-0.9 0.9-0.6 0.2-0.4-0.2-0.5-0.9zM21.8 45.2l0.4-0.2 0.6 0.2 0.3 0.6 0 0.4-0.3 0.5-0.6 0.2-0.4-0.3-0.3-0.8zM21.6 49.2l0.6-0.4 0.7 0.4 0 0.6-0.7 0.5-0.4-0.3zM21.9 52.8l0.3-0.3 0.5 0.3-0.1 0.4-0.4 0.2-0.2-0.2zM25.2 55.2l0.6 0.1 0.6 0.9-0.7 0.9-0.5 0.1-0.4-0.3-0.3-0.7 0.1-0.4zM28.1 58.2l0.1-0.2 0.6 0 0.8 1.2-0.1 0.6-0.7 0.8-0.6 0-0.7-0.8-0.1-0.6zM25 58.8l0.8-0.1 0.3 0.5-0.3 0.8-0.6 0.1-0.4-0.3-0.1-0.6zM27.9 61.8l0.3-0.4 0.6 0 0.7 0.8 0 0.6-0.7 0.8-0.6 0-0.7-0.8zM30.9 61.8l0.9-0.5 0.9 0.9-0.3 1-0.6 0.5-0.6-0.1-0.7-0.8zM24.9 62.2l0.3-0.3 0.6 0.1 0.1 0.8-0.7 0.3-0.3-0.3zM34.6 64.8l0.2-0.2 0.4 0.3 0.3 0.9-0.3 0.4-0.4 0.2-0.7-0.6 0-0.6zM37.6 64.8l0.6-0.4 0.6 0.8 0.1 0.6-0.7 0.7-0.4 0-0.6-0.7zM28 65.2l0.2-0.2 0.7 0.2 0.1 0.6-0.2 0.3-0.6 0.1-0.2-0.4zM31 65.2l0.8-0.4 0.4 0.4 0.1 0.6-0.5 0.5-0.6-0.1-0.2-0.4zM45.1 68.2l0.4 0.6-0.3 0.3-0.4-0.1 0-0.6zM48.3 68.2l0.5-0.3 0.4 0.2 0.3 0.7-0.3 0.4-0.7 0-0.4-0.4zM61.5 71.8l0.3-0.4 0.4 0 0.4 0.4-0.4 0.4-0.5 0zM74.2 74.8l1-0.5 1 0 1.4 0.5 0 0.4-1.4 0.5-1 0-1-0.5z"/><path fill="#2b3979" d="M75.2 7.2l2.6 0.4 3 1.8 2.2 2.8 0.6 1.5 0.2 1.5-0.3 1.6-0.7 1-1.6 1-2.6 1-0.1 0.4 3.3 1.4 0.7 0.6 0.4 1-0.3 1-0.4 0.6-2.2 1.4 0.2 0.6 1.5 1 0.7 1-0.2 1-2 1.4-0.1 0.6 1.4 1 0.6 1-0.4 1-1.5 1-0.1 0.4 1.3 1 0.5 1-0.2 0.6-1.7 1.4 1.5 1.6 0.1 0.4-1.6 2 1.4 1.6 0 0.4-1.5 1.6 1.3 1.4 0 0.6-1.3 1.4 1.1 1.6 0 0.4-1.2 1.6 0.9 1 0.1 0.4-1.2 1.6 1 1.4-0.1 0.6-0.9 1 0 0.4 0.8 1 0 0.6-1.2 1.4 0.8 1.6-1.5 1.4 0.7 1.6-0.3 0.4-1.7 0.8-1.4 0.3-1.6-0.4-0.8-0.7-0.2-0.4 0.4-1.6-0.9-1.4 0.4-1.6-0.6-1.4 0.4-2-0.5-1.6 0.5-1.4-0.6-1.6 0.5-1.4-0.6-2 0.6-1.6-0.7-1.4 0.6-2-0.7-2 0.7-1.6-0.8-2 0.8-2-0.9-2 0.2-1 0.6-1-0.9-2.4 0.2-1 0.7-1 0-0.6-0.9-1.4-0.2-1 1.2-2.6-1-1.4-0.4-1.6 0.2-1 0.6-1 1.5-1-0.1-0.4-1.5-1-0.8-1.3-0.4-0.1-0.9 1.4-0.7 0.5-1.4 0.4-1.6-0.3-1.4-1.1-2.6 1.2-1-0.1-1.4-1-0.6 0-1 0.7-1 0.2-2.4-0.9-1 0.6-1 0.2-2-0.8-2 0.8-2-0.8-1.6 0.7-1-0.2-1-0.5-1.4 0.6-0.6 0-1.4-0.6-1.6 0.6-2-0.6-1.4 0.6-1.6-0.6-1.4 0.5-1.6-0.5-2 0.5-1.4-0.7-1.6 0.5-1.4-1-1.6 0.6-0.4-0.2-1-1.6-0.6-0.2-0.5 0.9-0.5 0.4-0.4-0.1-0.6-0.9-0.2-1.4 0.2-1.4 0.6-1.4 0.5-0.2 0.9 1.8 0.6-0.3 1-2.4 0.4-0.3 1.6 1 1-1.4 0.5-0.3 0.5 0.1 1 0.8 1.4-1.3 0.6 0 1 0.9 0.4 0 1-0.9 0.5-0.1 1.5 1 1.6-1.1 0.4 0.2 1 0.9 0.6-0.2 1-1 0.4 0 1.6 1.3 1.4-1.4 0.6 0 1.4 1.4 1.6-1.5 0.4 0 1.6 1.4 2-1.6 0.4 0.1 1.6 1.6 1.4-1.7 0.6-0.2 1 0.5 1 1.3 0.4-0.1 1-1.4 1-0.5 1 0.6 1 1.4 0.6 0 1.5-2 0.9-0.3 1 0.7 1 1.5 0.6 0.2 1.4-2.1 0.6-0.4 1-0.3 1 0.4 0.7 0.7 1.3 3.3 0.4-0.2 0.7-2.1 0.9-1.5 1-0.9zM61.2 20.8l1.6-0.1 2 1.2 2-1.4 1.4-0.1 1.6 0.8 0.8 1.6-0.1 1.4-1.4 2 1 1.6 0.3 1-0.2 1-1 1.5 0 0.5 0.8 1 0.2 1-0.2 1-0.7 1-0.1 0.4 0.7 1 0.2 1-1 2 0.9 2-0.9 2 0.8 1.6-0.2 1-0.7 1 0.8 1.4-0.2 1-0.6 1 0.7 1.6-0.8 2 0.7 1.4-0.8 1.6 0.6 1.4-0.6 1.6 0.6 2-1 1.4 0.7 1.6-0.3 0.6-1 0.5-1-0.4-0.5-0.7 0.6-1.6-0.9-1.4 0.6-2-0.6-1-0.1-0.5 0.6-1.5-0.8-1.6 0.7-1.4-0.8-2 0.7-1.6-0.8-1.4 0-0.6 0.8-1.4-0.7-1-0.2-1 0.9-1.6-1-2 0-0.4 0.9-1.6-1.2-2 0.4-1 0.8-1-0.1-0.4-1.2-1.6-0.1-0.4 0.1-0.6 1.3-1.4-0.1-0.6-1.3-1.5-1.8 1.5 0 0.6 1.7 2-1.6 2-0.2 0.4 1 1 0.3 1-0.1 0.6-1.3 1.4 1.2 1.6 0 0.4-1.2 2 1.1 1.6-0.3 1-0.8 1 0.7 1 0.2 1-1 1.4 0.7 1 0.2 1-1.1 1.6 0.7 0.7 0.3 0.7-0.3 0.7-0.9 0.9 1 1.4-0.1 0.6-1 0.9-1-0.4-0.4-1.1 0.9-1.4-0.9-1-0.2-0.6 0.2-0.5 0.7-0.9-1-1.6 0.2-1 0.7-1-0.8-1-0.2-1 0.9-1.4-0.8-1-0.3-1 1.1-1.6-1.2-2 0.3-1 0.8-1-1.3-2 0-0.4 1.2-1.6-0.1-0.4-1.2-1.5-0.6-0.2-0.3 0.7-1.5 1.4 1.3 1 0.4 1-0.6 1-1.3 1-0.4-0.1-0.9-0.9-0.6-1 0.4-1 1.3-1-2.2-2.1-1 1.2-1 0.4-1-0.5-1-1.3-1 1.3-1 0.4-0.6-0.2-1.4-1.3-0.5 0.7-1.1 0.7-1-0.4-1-1.2-1 1.1-1 0.3-0.8-0.5-0.6-0.9-0.7 0.9-0.9 0.5-1-0.4-1-0.8-0.5 0.7-0.9 0.4-0.9-0.4-0.7-0.8-1.5 1.1-0.9-0.3-0.6-0.7-0.4 0.1-1 0.9-0.6 0-0.5-0.3-0.5-1 0.2-0.6 0.8-0.7 0.6 0 1 1 0.4 0.1 0.7-0.8 0.9-0.3 1.4 1.1 0.8-0.8 0.8-0.4 0.8 0.4 0.6 0.7 1-0.8 1-0.4 0.8 0.5 0.8 0.8 0.7-0.8 0.7-0.5 1 0.3 1 1 1-1.1 1-0.3 1 0.6 0.6 0.8 1-1 1-0.6 1 0.4 1 1.2 1-1.2 1-0.6 1 0.5 1 1.3 2.1-1.8-0.2-0.6-1.5-1.2-0.4-0.2-1 1-1 0.4-2-1.4-1.6 1.2-0.4 0.1-2-1.3-1.6 1.1-1-0.3-1-0.8-1.4 1-1-0.2-1-0.8-1.6 0.9-0.4 0-1.6-0.9-1.4 0.9-1.6-0.9-1.4 0.8-0.6 0-1-0.8-0.4 0.1-1 0.6-0.6 0-1.4-1.1-1 0.8-0.6 0.1-0.4-0.3-0.5-0.8 0.2-1 0.7-0.6 0.6 0.2 1 0.8 1.4-1.2 0.6 0 1 0.7 0.4 0 1-0.7 0.6-0.1 1.4 0.8 1.6-0.8 1.4 0.8 1.6-0.9 0.4 0 1.6 0.9 1-0.7 1-0.3 1.4 1 1-0.8 1-0.3 1.6 1.1 2-1.2 0.4 0.1 1.6 1.1 1.4-1.2 0.6-0.1 1 0.3 1 1 0.4-0.1 2-1.7 2 1.8 0.6-0.1 1.4-1.8-0.5-0.4-0.9-1-0.6 0-1.4 1.3-0.6 0.1-0.4-0.1-1.6-1.2-0.4-0.1-1.6 1.1-0.4 0.1-2-1.2-2 1.1-2-1.1-1.6 0.9-1-0.2-1-0.7-1.4 0.8-1-0.2-1-0.6-1.6 0.8-2-0.8-1.4 0.7-1.6-0.7-1.4 0.7-1.6-0.7-2 0.6-1.4-0.9-1 0.6-1-0.1-0.7-0.8-0.3-0.9-0.8 0.9-0.8 0.5-0.6-0.5-0.3-1 0.4-1 0.5-0.2 0.7 0.2 0.9 1 0.1-0.4 0.9-1.1 1-0.2 1 0.6 1.4-0.8 2 0.5 1.6-0.6 1.4 0.6 1.6-0.6 1.4 0.6 2-0.7 1.6 0.8 1-0.6 1-0.2 1.4 0.8 1-0.7 1-0.2 1.6 0.8 2-0.9 0.4 0.1 1.6 0.9 2-1.1 1 0.3 1 0.7 0.4-0.1 1-0.7 1-0.2 1 0.2 1 0.8 0.6 0zM64.8 24.7l-0.6 0.2-1.4 1.3 1.4 1.8 0.6 0.2 1.3-1.4 0.2-0.6zM59.2 29.8l-1.6 1.4-0.1 0.6 1.3 1 0.4 0.7 0.6-0.1 1.3-1.6 0-0.6-1.3-1.3zM21.7 28.8l0.5-0.5 0.6 0.5 0 0.4-0.6 0.4-0.4-0.4zM24.7 33.2l0.5-0.4 0.6 0.1 0.6 0.9-0.2 0.4-0.4 0.5-0.6 0.1-0.6-0.6zM48.3 36.8l0.5-0.2 0.4 0.1 1.1 1.1 0.1 0.4-0.2 0.6-1 0.8-1 0-0.8-0.8-0.1-1zM52.1 36.8l0.7-0.4 0.4 0.1 1.3 1.3-0.1 1-0.6 0.7-1 0.4-1-0.6-0.7-1.1 0.4-1zM28.1 37.2l0.7 0 0.6 0.6 0.2 0.4-0.8 0.9-0.6 0.1-0.4-0.4-0.3-0.6 0.1-0.4zM31.1 37.2l0.7-0.1 0.8 0.7-0.1 1-0.7 0.4-0.5 0-0.8-1zM34.1 37.2l0.7-0.2 0.4 0.1 0.7 0.7 0.1 0.4-0.8 1-0.4 0.1-1-0.5-0.2-0.6zM37.3 37.2l0.9-0.3 0.6 0.3 0.5 1-0.5 0.9-1 0.3-0.8-0.6-0.1-1zM40.6 37.2l0.6-0.3 1.1 0.3 0.5 1-0.6 0.9-1 0.4-0.8-0.7-0.3-0.6zM44.1 37.2l0.6-0.4 1.1 0.2 0.6 0.8 0.1 0.4-0.2 0.6-1.1 0.8-0.9-0.4-0.7-1zM24.9 37.8l0.3-0.3 0.7 0.3 0.1 0.4-0.2 0.5-0.7 0.1-0.3-0.6zM52.5 40.8l0.7 0 1 1 0 1-1 0.8-1-0.1-0.7-0.7-0.1-0.6 0.4-0.9zM56.5 40.8l0.7-0.5 1 0.7 0.6 0.8-0.1 1-1.5 1.3-1.1-0.9-0.6-1 0.4-1zM34.7 41.2l0.9 0.6 0.1 0.4-0.5 0.7-0.4 0.2-0.7-0.3-0.2-0.6 0.1-0.4zM37.7 41.2l0.5 0 0.8 0.6-0.1 1-0.7 0.4-0.4-0.1-0.8-0.9 0.2-0.4zM41 41.2l0.8-0.1 0.7 0.7-0.1 1-0.6 0.4-1-0.3-0.4-0.7 0.1-0.4zM44.4 41.2l0.8-0.2 0.9 0.8 0 1-0.9 0.6-0.4-0.1-0.8-0.5 0-1zM48 41.2l0.8-0.4 0.4 0.1 0.9 0.9-0.1 1-0.8 0.6-1 0-0.5-0.6-0.1-1zM27.9 41.8l0.3-0.3 0.9 0.3 0.1 0.4-0.3 0.6-0.9 0-0.2-0.6zM30.9 41.8l0.9-0.5 0.4 0.4 0.3 0.5-0.3 0.5-0.4 0.3-0.6-0.1-0.4-0.7zM52.4 44.8l0.4-0.3 0.4 0.2 0.9 1.1-0.3 1-0.5 0.4-0.5 0.1-0.5-0.2-0.8-0.9 0.3-0.9zM56.4 44.8l0.8-0.5 0.6 0.2 0.9 1.3-0.3 1-1.2 0.8-1-0.5-0.5-0.9 0.2-1zM34.7 45.2l0.7 0.6 0 0.4-0.6 0.5-0.6-0.5-0.1-0.4zM37.7 45.2l0.5-0.1 0.6 0.7 0 0.4-0.6 0.6-0.4-0.1-0.5-0.5 0-0.4zM41 45.2l0.8-0.1 0.5 0.7 0 0.4-0.5 0.6-0.6 0-0.6-0.6 0-0.4zM44.4 45.2l0.8-0.3 0.6 0.3 0.2 0.6-0.2 0.8-0.6 0.4-0.7-0.2-0.4-0.6-0.1-0.4zM47.9 45.2l0.9-0.4 0.4 0.1 0.8 0.9-0.1 0.4-0.7 0.8-1 0-0.5-0.8zM28.1 45.8l0.7-0.3 0.1 0.7-0.7 0.2zM31.1 45.8l0.7-0.4 0.4 0.4-0.1 0.4-0.3 0.3-0.6-0.1zM56.7 48.2l0.5-0.3 1 0.8 0.4 0.5-0.3 1-1.1 0.9-1-0.6-0.4-0.7 0.3-1zM44.7 48.8l0.5-0.2 0.7 0.6 0 0.6-0.7 0.6-0.4 0-0.6-0.6 0-0.6zM48.2 48.8l0.6-0.4 0.4 0.2 0.6 0.5 0 0.7-0.6 0.7-0.4 0.1-0.7-0.4-0.3-1zM52 48.8l0.8-0.5 0.9 0.5 0.3 0.4-0.3 1-0.5 0.5-1-0.1-0.5-0.8zM34.4 49.2l0.4-0.2 0.4 0.2 0 0.6-0.4 0.2-0.4-0.2zM37.5 49.2l0.7-0.3 0.4 0.3 0 0.6-0.4 0.3-0.4 0-0.3-0.3zM40.8 49.2l0.4-0.4 0.6 0 0.3 0.4 0.1 0.6-0.4 0.4-0.6 0-0.4-0.4zM56.7 51.8l0.5-0.3 1 0.7 0.2 0.6-0.3 1-0.9 0.4-0.5-0.1-0.7-0.9 0.2-1zM48.3 52.2l0.5-0.2 0.5 0.2 0.4 0.6-0.5 0.9-0.4 0.1-0.8-0.6 0-0.4zM52.1 52.2l0.7-0.4 0.8 0.4 0.3 0.6-0.1 0.4-0.6 0.7-0.4 0.1-0.9-0.8zM41 52.8l0.2-0.3 0.6 0.1 0 0.6-0.6 0.2zM44.4 52.8l0.4-0.5 0.5 0 0.4 0.5-0.1 0.4-0.4 0.4-0.4-0.1zM56.7 55.2l0.5-0.2 1 0.8 0.1 0.4-0.5 0.9-0.6 0.2-0.9-0.5-0.1-1zM48.4 55.8l0.4-0.2 0.4 0.1 0.2 0.5-0.2 0.4-0.6 0.2-0.4-0.6zM52.1 55.8l0.7-0.5 0.4 0.2 0.5 0.7-0.3 0.6-0.6 0.2-0.6-0.2-0.2-0.6zM56.6 58.8l0.6-0.3 0.6 0.2 0.3 0.5-0.3 0.8-0.6 0.3-0.8-0.5-0.1-0.6zM52.2 59.2l0.6-0.4 0.4 0.2 0.1 0.8-0.5 0.2zM57.2 61.8l0.6 0.2 0.1 0.8-0.7 0.5-0.7-0.5 0-0.6zM61.2 61.8l0.6-0.5 0.4 0 0.6 0.3 0.4 0.6 0 0.6-0.4 0.6-1 0.3-0.6-0.4-0.3-0.5zM52.5 62.2l0.7 0 0 0.6-0.4 0.1-0.3-0.1zM61.4 65.2l0.4-0.3 0.4-0.1 0.5 0.4 0.1 0.6-0.6 0.5-0.4 0-0.5-0.5zM67.2 68.2l0.6-0.1 0.6 0.7-0.6 0.4-0.6-0.1-0.2-0.3zM74.9 71.2l1.3-0.2 1.2 0.8-0.4 0.4-1.8 0.2-0.5-0.2-0.4-0.4z"/><path fill="#2c3c80" d="M74.1 8.2l1.1-0.3 1.6 0 1.4 0.5 1.6 1 1.4 1.4 1.1 1.4 0.7 1.6 0.2 1.4-0.4 1.6-1.3 1.4-1.7 0.9-2.9 0.7-0.5 0.4 1.8 0.3 2.6 1 0.9 0.7 0.5 1-0.3 1-0.5 0.6-2.5 1.4 0.3 0.6 1.8 1 0.7 1-0.3 1-2.3 1.4 0 0.6 1.6 1 0.7 1-0.5 1-1.7 1-0.2 0.4 1.6 1 0.5 1-0.3 0.7-1.9 1.3 1.8 1.6 0.1 0.4-0.2 0.6-1.4 0.9-0.3 0.5 1.7 1.6-0.4 0.8-1.4 1.2 1.6 1.4 0 0.6-1.6 1.4 1.3 1.6 0 0.4-1.2 1-0.3 0.6 1.1 0.9 0.2 0.5-1.4 1.6 1.1 1.4-0.1 0.6-1.2 1 0.1 0.4 1 1 0 0.6-1.5 1.4 0.9 1 0.1 0.6-0.7 0.6-1.9 0.8 1.5 1.6-0.6 0.5-1.4 0.2-1.3-0.3-0.4-0.4 1.1-1.6-1.4-0.8-0.5-0.6 0.7-1.6-1-1.4 0.7-2-0.7-1-0.1-0.6 0.7-1.4-0.8-1.6 0.7-1.4-0.9-1.6 0-0.4 0.8-1.6-0.7-1-0.2-1 0.9-1.4-0.8-1-0.2-1 0.9-1.6-1-2 0.3-1 0.7-1-0.8-1-0.4-1 0.3-1 0.8-1-0.1-0.4-0.8-1-0.3-1 0.3-1 0.9-1 0-0.6-1.2-1.4-0.1-1 0.3-1 1.1-1.6-1.3-1.4-0.4-1.6 0.6-1.7 1.6-1 1.4-0.3-0.4-0.4-1-0.3-1.4-0.7-0.7-1-0.5-1.5-0.4-0.4-0.3 1.3-0.7 1.3-1 0.7-1 0.2-1.6-0.4-1.4-1.3-1.6 1.1-1 0.4-1-0.2-1.4-1.2-0.6 0-1 0.9-1 0.3-1-0.3-1-0.8-0.4-0.1-1 0.8-1 0.3-2-1.1-1 0.7-1 0.3-2-1-1.6 0.9-1-0.2-1-0.7-1.4 0.8-1-0.2-1-0.6-1.6 0.8-2-0.8-1.4 0.7-1.6-0.7-1.4 0.7-1.6-0.7-2 0.6-1.4-0.9-1.6 0.7-0.7-0.4-0.7-1.1-1.6 1-0.4-0.3-0.6-1.2-0.1-1 0.3-2 0.4-0.7 0.4-0.4 1.6 1.4 0.8-1.7 0.6-0.6 0.6 0.1 1 1 1.4-1.5 0.6 0 1 1 0.4 0.1 1-1.2 0.6-0.1 1.4 1.3 1.6-1.4 0.4 0.2 1 1.1 0.6-0.2 1-1.1 0.4-0.1 1.6 1.5 1.4-1.6 0.6 0.1 1.4 1.5 1-1.3 0.6-0.4 0.4 0 1.6 1.7 0.4-0.3 1-1.4 0.6-0.2 0.6 0.2 1.4 1.7 1.4-1.9 0.5-0.2 1.1 0.5 1 1.6 0.4-0.2 1-1.6 1-0.6 1 0.7 1 1.6 0.6 0 1.4-2.3 1-0.3 1 0.7 1 1.8 0.6 0.3 1.4-2.5 0.6-0.4 1-0.3 1 0.4 0.8 1 0.9 2.6 0.3 1.6 0.4-0.4 0.4-1.8 1-2.4zM18.7 14.2l0.5-0.3 0.4 0.9-0.4 1.6-0.5-0.6zM67.6 20.8l1.7 0.4 0.8 1 0.2 1-0.5 1.8-1 0.9-0.9 0.3 1.8 1.6 0.3 0.9-0.2 1.3-1.5 1.2 0 0.6 0.9 0.6 0.6 0.8-0.2 1.6-1.2 1-0.2 0.4 1.2 1 0.3 1-0.5 1.1-1.3 0.9 1.3 1 0.3 0.6 0 1-1.7 1.4 1.4 1 0.2 1-0.6 1-1 0.5-1-0.5-0.9-1 0-0.4 0.3-0.7 1.4-0.9-1.7-1.4-0.1-1 0.4-0.7 1.2-0.9-1.2-0.7-0.5-0.7-0.1-0.6 0.3-1 1.2-1-0.2-0.4-1.2-1-0.3-1 0.4-1 1.3-1-0.1-0.6-0.8-0.4-0.8-1-0.2-1 0.6-1.2 1.7-1.4-0.7-0.2-1-0.8-0.8-1-0.2-0.9-1.4 1.9-1.2 0.6-1-0.2-1-0.8-0.4-0.9-0.6 0-1 1.3-1 0.4-1-0.3-1-1.2-0.4-0.3-1 1.3-1 0.4-1-0.5-1-1.2-1 1.2-1 0.4-1-0.6-1-1-0.7 1-0.9 0.4-1-0.3-1-1.1-1.4 1.3-1-0.2-1-1.1-1.6 1.3-0.4-0.1-1.6-1.1-0.7 0.9-0.7 0.2-0.7-0.2-0.9-1-1.4 1.1-0.8-0.1-0.8-1-0.4 0.1-1 1-0.6 0-0.7-0.7-0.4-1 0.5-1 0.6-0.4 0.6 0 1 0.9 0.4 0.1 1-1 0.6-0.1 1.4 1.2 1-1.1 0.6-0.2 0.4 0.2 1 1 1.3-1 0.7-0.2 1.6 1.3 1-1.1 1-0.3 1.4 1.4 1-1.1 0.6-0.3 1 0.1 1 1.2 1-1 1-0.5 1 0.4 1 1.2 1-1.2 1-0.5 1 0.3 1 1.3 0.4-0.2 1-1.2 1-0.3 1 0.4 1 1.3 0.6-0.1 1.1-1.5 1.3-0.3 1.5 0.9 1.1 1.4 1-1.7 1-0.6zM25 22.2l0.8 0 0.7 1-0.7 1.3-0.6 0.1-0.7-0.8 0.1-1zM56.7 27.2l0.5-0.1 1 0.5 0.7 1.2-0.2 1-0.9 0.8-1 0.1-0.6-0.3-0.7-1.2 0.1-1zM61.1 27.2l0.7-0.3 1 0.2 1.1 1.1 0.2 1-0.2 0.6-1.1 1-1 0.2-1-0.6-0.6-0.6-0.2-1 0.5-1zM41.1 27.8l0.7 0 0.8 1-0.2 1-0.6 0.4-1-0.3-0.5-0.7 0.2-1zM44.5 27.8l0.7-0.2 0.4 0.1 0.7 1.1-0.2 1-0.9 0.5-1-0.3-0.4-0.8 0.2-1zM48 27.8l0.8-0.4 0.4 0.1 0.8 0.7 0.2 1-1 1.2-1-0.1-0.5-0.5-0.3-1zM51.9 27.8l0.9-0.5 0.4 0.1 1 0.8 0.2 1-0.6 1-0.6 0.4-1-0.1-0.7-0.7-0.2-1zM28 28.2l0.8-0.2 0.5 0.8 0 0.4-0.5 0.7-0.6 0-0.5-0.7zM31 28.2l0.8-0.3 0.5 0.3 0.2 1-0.3 0.6-0.5 0.2-0.7-0.2-0.3-0.6zM34 28.2l0.8-0.4 0.7 0.4 0.2 1-0.5 0.7-0.4 0.2-0.7-0.3-0.3-0.5zM37.2 28.2l0.6-0.4 0.4 0 0.6 0.3 0.3 0.7-0.2 1-0.7 0.4-0.9-0.4-0.3-0.6zM25.1 28.8l0.1-0.2 0.5 0.2-0.1 0.4-0.4 0.2zM61.3 32.2l0.9-0.2 0.6 0.2 0.9 1 0.1 1-1 1.2-1 0.2-0.6-0.3-0.9-1.1 0-1zM45.2 32.8l0.7 0.4 0 1-0.7 0.7-0.4-0.1-0.7-0.6-0.1-0.4 0.2-0.6 0.6-0.4zM48.3 32.8l0.9-0.1 0.6 0.5 0.1 1-0.7 0.7-1-0.1-0.4-0.6 0-1zM52.1 32.8l0.7-0.4 0.4 0.1 0.8 0.7 0.1 1-0.9 0.9-1-0.1-0.6-0.8 0.1-1zM56.2 32.8l1-0.5 1 0.5 0.5 1-0.5 1-1 0.5-1-0.4-0.5-1.1zM31.4 33.2l0.4 0 0.4 0.6-0.4 0.6-0.6-0.2-0.2-0.4zM34.4 33.2l0.4-0.1 0.4 0.2 0.2 0.5-0.2 0.5-0.4 0.2-0.6-0.3-0.1-0.4zM37.5 33.2l0.7-0.2 0.4 0.2 0.2 0.6-0.1 0.4-0.5 0.4-0.4 0-0.5-0.8zM40.8 33.2l0.4-0.3 0.6 0 0.4 0.6 0 0.7-0.4 0.5-0.6 0-0.5-0.5zM28.1 33.8l0.1-0.4 0.6 0 0.1 0.4-0.1 0.5-0.6 0zM61.5 36.8l0.7-0.2 0.6 0.2 0.8 1-0.1 1-0.7 0.7-1 0.2-1.2-0.9-0.1-1zM48.6 37.2l0.6 0.1 0.5 0.9-0.5 0.8-0.4 0.1-0.6-0.2-0.3-0.7 0.1-0.4zM52.2 37.2l1-0.1 0.7 0.7-0.1 0.9-0.6 0.5-0.4 0.1-0.9-0.5-0.1-1zM56.3 37.2l0.9-0.3 0.9 0.3 0.4 1-0.3 0.7-1 0.5-1-0.4-0.3-0.8zM38 37.8l0.3 0 0.2 0.4-0.3 0.3-0.6-0.3zM41.1 37.8l0.8 0 0.1 0.4-0.2 0.5-0.6 0-0.3-0.5zM44.4 37.8l0.8-0.4 0.5 0.4 0.1 0.4-0.3 0.6-0.9 0-0.3-0.6zM56.7 41.2l0.9 0 0.6 0.6 0.1 0.4-0.5 0.9-1 0-0.5-0.3-0.1-1zM61.1 41.2l0.7-0.3 1 0.1 0.6 0.8-0.1 1-1.1 0.7-1-0.2-0.6-1.1zM48.4 41.8l0.4-0.3 0.4 0.2 0.2 0.5-0.2 0.4-0.6 0.2-0.4-0.6zM52.1 41.8l0.7-0.5 0.4 0.1 0.5 0.9-0.3 0.5-0.6 0.2-0.6-0.2-0.2-0.6zM56.7 45.2l0.5-0.1 0.6 0.2 0.3 0.5-0.3 0.8-0.8 0.2-0.7-0.6 0-0.4zM61 45.2l0.8-0.4 1 0.2 0.5 0.8 0 0.4-0.5 0.7-1 0.2-1-0.9zM52.2 45.8l0.6-0.5 0.4 0.2 0.2 0.7-0.6 0.3-0.5-0.3zM66.9 48.2l0.9-0.4 1 0.6 0.5 0.8-0.2 1-0.9 0.8-1 0.1-1.2-1.3 0.2-1zM61.3 48.8l0.9-0.3 0.6 0.3 0.4 0.4 0 0.5-0.4 0.5-0.6 0.3-1-0.2-0.3-0.5 0-0.6zM56.5 49.2l0.7-0.4 0.7 0.4 0 0.6-0.7 0.4-0.4-0.2zM67 51.8l0.8-0.4 1 0.6 0.4 0.8 0 0.4-1 1-1 0-1-1 0.2-1zM61.5 52.2l0.7-0.1 0.6 0.3 0.2 0.4-0.2 0.7-1 0.2-0.6-0.3-0.1-0.6zM56.8 52.8l0.4-0.2 0.4 0.1-0.2 0.5-0.4 0zM67 55.2l0.8-0.3 1 0.7 0.2 0.6-0.2 0.6-1 0.6-1-0.4-0.5-0.8 0.2-0.4zM61.6 55.8l0.6-0.2 0.6 0.6-0.6 0.6-0.4 0-0.4-0.5zM66.9 58.8l0.9-0.4 0.4 0.1 0.6 0.7-0.1 0.6-0.9 0.5-0.6-0.1-0.6-0.4 0-0.6zM67.3 61.8l0.5-0.1 0.8 0.5 0 0.6-0.4 0.4-1 0.1-0.4-0.5-0.1-0.6z"/><path fill="#2d4086" d="M74.1 8.8l1.1-0.5 2 0.2 2 1 1.9 1.7 1.2 2 0.4 2-0.3 1.6-1.2 1.2-2 1-3 0.6-2-0.2-1-0.3-1-0.9-0.8-2 0.2-3 1-3zM66.6 9.8l1.2-0.5 1 0.4 0.9 1.5 0.7 2.6 0.1 1.9-0.5 2.1-0.8 0.8-1 0.5-1 0-1-0.4-1.4-1.6-1.6 1.4-1 0.4-1-0.1-0.7-0.6-0.7-0.9-0.6-0.1-1 1.2-1 0.3-1-0.2-1-1.1-0.4-0.2-1 1.1-1 0.3-0.9-0.4-1.1-1-1 0.9-1 0.4-0.6-0.1-1.4-1.2-1.6 1.2-1-0.3-1-0.9-1.4 1.1-1-0.2-1-0.9-1.6 1-0.4 0-1.6-1-1 0.9-0.4 0.1-1.6-1-1.4 0.9-0.6 0-1-0.9-0.4 0.1-1 0.7-0.6 0-1.4-1.2-1 0.9-0.6 0.1-0.6-0.6-0.6-1.4 0.1-1.6 0.8-2 0.3-0.3 0.6 0.2 1 1.3 1.4-2 0.6 0.1 1 1.2 0.5 0.1 0.9-1.4 0.6-0.1 1.4 1.5 1-1.3 0.6-0.3 0.4 0.2 1 1.3 0.6-0.2 1-1.4 0.4 0 1.6 1.7 1.1-1.6 0.3-0.2 0.6 0 1.4 1.8 1.1-1.6 0.4-0.4 0.5 0 1.5 2 0.5-0.4 1-1.6 0.6-0.2 0.4 0.1 0.5 0.6 1.1 1.5 1.3-2 0.7-0.4 0.4 0.1 0.6 0.5 1 1.8 0.4-0.3 1-1.8 1-0.6 1 0.8 1 1.8 0.6 0 1.4-2.6 1-0.3 1 0.7 1 2 0.6 0.5 1-2.2zM22 13.2l0.2-0.1 0.6 0.4 0.4 1.7-0.2 1-0.8 0.8-0.4-0.4-0.3-1.4 0.2-1.4zM74 20.8l2.2-0.3 3 0.6 2 1.2 0.5 0.9-0.4 1-0.5 0.6-2.9 1.4 0.5 0.6 2.4 1.3 0.3 0.7 0 0.4-0.9 1-2 1 0 0.6 1.9 1 0.7 1-0.6 1-1.8 1-0.3 0.4 1.8 1 0.5 0.6 0.1 0.4-0.7 0.9-1.8 1.1 1.8 1.3 0.4 0.7-0.3 0.6-1.6 1-0.4 0.4 1.6 1 0.4 0.6 0 0.4-0.5 0.6-1.6 1 1.9 1.4 0 0.6-0.4 0.4-1.6 1 1.7 1.6 0 0.4-1.8 1.6 1.3 1 0.3 0.4-0.4 0.6-1.5 1 1.5 1.4-0.1 0.6-1.6 1 0 0.4 1.5 1 0 0.6-0.8 0.6-2 0.8-1.6-0.7-0.7-0.7 0-0.6 1.1-1 0-0.4-0.8-0.7-0.4-0.9 1.1-1.4-1.1-1-0.2-0.6 0.1-0.4 0.9-1-1.2-1.6 0-0.4 1.1-1.6-1.2-1.4 0.2-1 1-1-1.1-1-0.3-1 1.3-1.6-1.2-1.4-0.2-0.6 0.4-1 1-1-1.2-1.2-0.4-0.8 0.4-1 1-1-0.1-0.4-1.1-1-0.3-1 0.3-1 1.2-1 0-0.6-1-0.7-0.5-0.7-0.2-1 0.4-1 1.5-1.6-1.7-1.4-0.4-1.6 0.5-1.4 0.8-0.8zM61.7 21.2l1.1 0.1 0.4 0.3 0.5 0.6 0.4 1-0.6 1.6-1.3 0.7-1-0.2-0.4-0.4-0.7-1.1 0.2-1.6 0.5-0.5zM66.5 21.2l0.7-0.2 1 0 1 0.5 0.6 0.7 0.2 1-0.1 1-1.1 1.3-1 0.3-1-0.2-1.4-1.4-0.2-1 0.3-1zM48.5 21.8l0.7 0 0.6 0.4 0.4 1-0.4 1.3-1 0.5-1.1-0.8-0.3-1 0.4-1zM52.2 21.8l1-0.2 0.6 0.3 0.4 0.9 0.2 0.4-0.3 1-0.9 0.8-1 0-0.8-1.2 0-1zM56.2 21.8l0.6-0.3 1 0 0.4 0.3 0.6 1 0.1 0.4-0.2 1-0.9 0.9-1 0.1-0.6-0.3-0.7-1.1 0.1-1zM31.4 22.2l0.4 0 0.4 0.4 0.3 0.6-0.3 0.9-0.4 0.4-0.6-0.1-0.4-0.6 0.1-1zM34.4 22.2l0.4-0.1 0.4 0.2 0.5 1-0.3 0.9-0.6 0.3-0.6-0.2-0.3-0.5 0.1-1zM37.5 22.2l0.7-0.2 0.8 0.8 0 1-0.8 0.8-0.4 0-0.7-0.8 0-1zM40.8 22.2l1-0.2 0.7 0.8 0 1-0.7 0.9-0.6 0-0.4-0.3-0.4-0.6 0.1-1zM44.2 22.2l0.6-0.4 0.4 0 1 1 0.1 0.4-0.3 1-0.8 0.6-1-0.4-0.3-0.6 0-1zM27.8 22.8l0.4-0.5 0.6 0 0.3 0.5 0.1 1-0.4 0.5-0.6 0-0.4-0.5zM66.6 27.2l0.6-0.2 1 0 1.1 0.8 0.4 1.4-0.4 1-0.5 0.5-1.6 0.2-1-0.5-0.5-0.6-0.2-0.6 0.2-1zM52.6 27.8l0.6 0 0.8 1-0.3 1-0.9 0.4-0.6-0.2-0.5-0.8 0.2-1zM56.5 27.8l0.7-0.3 0.6 0.2 0.6 0.5 0.1 1-0.7 1.1-1 0-0.7-0.5-0.2-1zM60.9 27.8l1.3-0.5 1 0.5 0.5 1-0.5 1.3-1 0.5-1.2-0.4-0.6-1 0.1-1zM41.2 28.2l0.6 0.1 0.3 0.5-0.3 0.8-0.6 0.1-0.3-0.5 0-0.5zM44.6 28.2l0.6-0.1 0.6 0.7 0 0.6-0.6 0.5-0.4-0.1-0.5-0.6zM48.1 28.2l0.7-0.3 0.7 0.3 0.2 1.1-0.5 0.6-0.4 0.2-0.6-0.3-0.3-0.5zM37.6 28.8l0.6-0.4 0.3 0.8-0.3 0.3-0.4-0.1zM67 32.2l1.2 0 1.3 1 0 1-0.2 0.6-1.1 0.7-1 0-0.4-0.2-1-1.1 0-1zM57 32.8l0.8 0.1 0.5 0.9-0.5 1-0.6 0.1-0.4-0.1-0.6-0.5-0.1-0.5 0.1-0.6zM61.1 32.8l1.1-0.4 0.7 0.4 0.6 1-0.4 1-0.9 0.4-1.2-0.4-0.4-1zM48.5 33.2l0.8 0.1 0.2 0.5-0.3 0.5-0.4 0.2-0.5-0.3-0.1-0.4zM52.2 33.2l0.6-0.3 0.4 0.1 0.5 0.8-0.1 0.4-0.8 0.5-0.6-0.3-0.2-0.6zM44.7 33.8l0.5-0.3 0.2 0.3-0.2 0.4-0.4-0.2zM67.2 36.8l1 0 1.2 1-0.1 1-1.1 0.8-1 0-1.1-0.8-0.1-1 0.3-0.6zM61.3 37.2l0.9-0.2 0.6 0.2 0.4 0.6-0.1 1-0.9 0.5-1-0.3-0.4-0.8zM52.5 37.8l0.7 0 0 0.7-0.4 0.2-0.5-0.4zM56.5 37.8l0.7-0.4 0.6 0.2 0.2 0.6-0.2 0.6-1 0-0.4-0.6zM66.6 41.2l1.2-0.3 0.9 0.3 0.4 0.6-0.1 1-1.2 0.7-1-0.3-0.7-1zM57.1 41.8l0.6 0.4-0.5 0.4-0.5-0.4zM61.2 41.8l0.5-0.5 0.5 0 0.7 0.5 0.1 0.4-0.2 0.6-1 0.2-0.6-0.3zM66.6 45.2l0.6-0.3 1 0 0.8 0.9 0 0.4-0.8 0.8-1 0-0.9-0.8 0-0.4zM61.3 45.8l0.5-0.4 0.4-0.1 0.6 0.5-0.1 0.5-0.5 0.3-0.4-0.1-0.4-0.3zM67 48.8l0.8-0.3 0.4 0.2 0.7 0.5 0 0.6-0.7 0.6-1 0-0.7-0.6 0-0.6zM61.7 49.2l0.5 0 0.2 0.6-0.6 0zM67.2 52.2l1 0.1 0.5 0.5-0.1 0.4-0.8 0.5-0.6-0.1-0.5-0.4 0-0.4zM67.3 55.8l0.7 0 0.4 0.4-0.7 0.5-0.5-0.1-0.2-0.4zM74.7 64.8l0.5-0.4 1-0.1 1.6 0.9 0.1 0.6-1.1 0.7-1 0.1-1-0.2-0.8-0.6 0.1-0.6z"/><path fill="#30458b" d="M75.1 8.8l1.7 0 2 0.8 1.4 1.2 1.5 2 0.6 2-0.1 1.4-0.6 1-1.4 1.2-2 0.7-3 0.3-2-0.5-1.1-1.1-0.5-2.6 0.4-3 1.2-2.4 1-0.8zM67.4 9.8l0.8 0 1 1 0.8 2 0.3 2-0.1 2-0.4 1-0.6 0.6-1 0.5-1 0-1-0.4-0.7-0.7-0.7-1.5-1.6 2-0.4 0.3-1 0.1-1-0.5-1-1.6-0.6-0.1-1 1.6-1 0.4-1-0.3-1-1.4-0.4-0.3-1 1.5-1 0.4-1-0.6-1-1.3-1 1.3-1 0.4-1-0.4-1-1.3-0.9 1.3-0.7 0.3-1-0.3-1-1.4-1.4 1.6-1-0.3-1-1.2-1.6 1.4-0.7-0.1-1.3-1.3-1 1.2-0.4 0.2-0.6-0.2-1-1.2-1.4 1.3-0.6-0.1-1-1.2-0.4 0.1-1 1.1-0.6 0-0.8-0.9-0.6-1.6 0.7-2 0.7-1.1 0.6 0 1 1.5 0.4 0.1 1-1.7 0.6-0.1 1.4 1.8 1-1.6 0.5-0.3 0.5 0.2 1 1.7 0.6-0.4 1-1.6 0.4-0.1 1.6 2.2 1-1.8 0.4-0.5 0.6 0.1 1.4 2.2 1-1.9 0.6-0.5 0.4-0.1 0.6 0.5 1 1.9 0.4-0.5 1-1.8 0.6-0.3 0.4 0.1 0.5 0.6 1.1 2 1-2 1-0.9 0.4 0.1 0.6 0.5 1 2.2 0.4-0.3 1-2.2 1-0.6 1 0.8 1 2.3 0.6-0.1 0.6-1.8 0.8-1.3 1-0.3 1 0.9 1.6 2.9 1.3-3.2 0.7-0.8zM25.1 12.8l0.7 0 0.3 0.4 0.6 2-0.6 1.6-0.3 0.4-0.6 0.1-0.5-0.5-0.4-1.6 0.3-1.4zM22.2 14.2l0.4 1-0.4 0.9-0.3-0.9zM75 20.8l2.2 0 2 0.5 1.6 0.9 0.4 1-0.3 1-0.7 0.6-3.4 1.4 3 1.6 0.9 1-0.4 1-0.5 0.4-2.5 1-0.1 0.6 2.3 1 0.8 1-0.6 1-2.2 1-0.4 0.4 2.2 1 0.6 0.6 0.1 0.4-0.8 0.9-2.4 1.1 2.1 1 0.6 0.6 0.2 0.4-0.5 0.6-2.4 1.4 2 1 0.5 0.6 0 0.4-0.6 0.6-2.1 1 1.9 1 0.6 0.4 0 0.6-0.9 0.6-1.9 0.8 2 1 0.5 0.6-0.1 0.4-0.9 0.7-2 0.8-1.6-0.7-0.8-0.8 0-0.4 0.3-0.6 1.6-1-1.5-0.8-0.6-0.6 0-0.6 0.4-0.4 1.5-1-1.3-0.8-0.7-0.8 0.2-1 1.6-1-1.7-1.2-0.3-0.8 0.4-1 1.5-1-2-1.4 0-1 0.3-0.6 1.5-1-0.3-0.4-1.4-1-0.4-1 0.4-1 1.7-1-0.1-0.6-1.6-0.9-0.5-1.1 0.1-1 0.3-0.5 2.1-1.5-2.1-1.2-0.5-0.8-0.2-1 0.2-1 0.5-0.6 1-0.6zM67.1 21.2l1.7 0.2 0.4 0.4 0.5 1-0.1 1.4-0.4 0.6-1 0.7-1.4-0.2-0.8-0.5-0.5-1 0.3-1.6 0.4-0.5zM56.8 21.8l1 0 0.5 0.4 0.3 1-0.4 1.2-1 0.6-1-0.5-0.4-0.7 0.1-1zM61.1 21.8l1.1-0.3 1.3 0.7 0.2 1.6-0.5 0.9-0.4 0.3-1 0.2-0.6-0.2-0.7-0.8-0.1-1.4zM44.7 22.2l0.6 0 0.6 1-0.1 0.8-0.6 0.4-0.4 0-0.6-0.6 0.1-1zM48.2 22.2l0.6-0.2 0.4 0.1 0.5 0.7 0.1 1-0.6 0.7-0.4 0.1-0.6-0.2-0.4-0.6 0.1-1zM52 22.2l0.7-0.4 0.5 0.1 0.7 0.9 0.1 1-0.8 0.9-0.4 0.1-0.9-0.6-0.3-1zM34.6 22.8l0.3 0 0.4 0.4-0.2 0.6-0.3 0.2-0.5-0.8zM37.6 22.8l0.6-0.3 0.3 0.3 0.2 0.4-0.5 0.9-0.4-0.1-0.3-0.2zM40.9 22.8l0.3-0.4 0.6 0 0.2 0.4 0.1 0.9-0.3 0.5-0.6 0.1-0.4-0.5zM31.2 23.2l0.6-0.3 0.1 0.3-0.1 0.6zM67.7 27.2l1.3 0.6 0.5 1-0.3 1.1-0.4 0.5-1 0.3-1-0.2-0.6-0.4-0.4-1.4 0.6-0.9zM61.4 27.8l0.8-0.2 1 0.6 0.2 1-0.6 0.9-1 0.2-0.9-0.5-0.2-1zM52.5 28.3l0.7-0.1 0.4 0.6-0.4 0.9-0.4 0.1-0.7-0.6 0-0.4zM56.5 28.2l0.7-0.3 0.7 0.3 0.3 1-0.4 0.7-0.6 0.1-0.7-0.2-0.3-0.6zM48.4 28.8l0.4-0.4 0.4 0.2 0.1 0.6-0.5 0.3-0.4-0.3zM66.6 32.8l1.2-0.4 1 0.4 0.5 1-0.4 1-1.1 0.4-1.3-0.4-0.5-1zM56.8 33.2l0.4-0.1 0.6 0.4-0.1 0.7-0.5 0.3-0.5-0.3-0.2-0.4zM61.1 33.2l0.7-0.4 1 0.2 0.4 0.8-0.2 0.4-0.8 0.6-0.6 0-0.6-0.6zM66.8 37.2l1-0.2 0.8 0.2 0.4 0.6-0.1 1-1.1 0.5-1-0.3-0.6-0.8zM61.4 37.8l0.8-0.3 0.5 0.2 0.2 0.5-0.4 0.6-0.7 0-0.6-0.6zM67.7 41.2l1 0.6 0.2 0.4-0.3 0.6-0.8 0.3-1-0.3-0.3-0.6 0.3-0.6zM67.5 45.2l0.7 0.2 0.4 0.4-0.4 0.7-0.4 0.2-1-0.5 0-0.4zM67.1 49.2l0.7-0.2 0.4 0.2 0.1 0.6-0.5 0.2-0.6-0.1zM74.4 55.2l0.8-0.3 1-0.1 1.6 0.6 0.7 0.8-0.4 0.6-1.3 0.6-1.6 0.1-1-0.5-0.6-0.8 0.2-0.5zM74.3 58.8l0.9-0.5 1 0 1 0.3 0.8 0.6-0.1 0.6-0.7 0.3-1 0.3-1 0-1.2-0.6-0.1-0.6zM74.7 61.8l1.1-0.3 1 0.2 1 0.5 0 0.6-1.6 0.7-1.4-0.2-0.7-0.5 0-0.6zM75.2 65.2l1 0 0.5 0.6-1.5 0.1-0.2-0.1z"/><path fill="#33498f" d="M74.5 9.2l1.7-0.2 1.6 0.4 1.9 1.3 1.3 1.5 0.9 2 0.1 1.6-0.7 1.4-1.1 0.9-2.4 1-2.6 0.1-2-0.5-0.9-0.9-0.5-2 0.2-3 1.2-2.6zM67 10.2l0.8-0.2 1.1 0.8 0.8 1.4 0.4 2.1 0 1.9-0.5 1.6-0.8 0.7-1 0.3-1.6-0.6-0.8-1-0.5-1.4 0.1-1.6 0.6-2 0.6-1.2zM61.6 10.8l0.6-0.2 1 0.9 0.8 1.7 0.4 2-0.3 1.6-0.6 1-1.3 0.7-1-0.2-0.4-0.4-0.8-1.1-0.2-1 0.3-2.6 0.7-1.5zM56.6 11.2l0.6-0.2 1 0.8 1 3-0.1 1.4-0.5 1-0.4 0.6-1 0.5-1.1-0.5-1.1-2.6 0.9-3zM48.4 11.7l0.4-0.2 0.4 0.2 0.5 0.5 0.9 3-0.7 2-0.7 0.7-0.4 0.1-1.1-0.8-0.8-2 0.6-2zM52.1 11.8l0.7-0.5 0.7 0.5 0.6 1 0.6 2-0.1 1.4-0.5 1-0.8 0.9-0.5 0-0.6-0.1-0.6-0.8-0.7-2 0.5-1.9zM37.7 12.2l0.5 0 0.6 0.5 0.8 2.1-0.1 1-0.4 1-0.9 0.8-0.4 0-0.6-0.5-0.8-1.9 0.7-2zM41 12.2l0.2-0.2 0.7 0.2 1.2 2.6-0.1 1-0.4 1-0.8 0.9-0.6 0-0.5-0.5-0.8-2 0.5-2zM44.4 12.2l0.4-0.3 0.4-0.1 0.6 0.5 0.9 2.5-0.2 1.4-0.5 1-0.8 0.6-0.4 0-0.6-0.4-0.8-1.6 0.1-1.6zM28.1 12.8l0.7 0 0.9 2-0.2 1.4-0.7 1.1-0.6 0-0.4-0.5-0.4-1 0.1-1.6zM31.1 12.8l0.7-0.4 0.3 0.4 0.9 2 0 1-0.5 1-0.7 0.6-0.6-0.2-0.8-1.4 0-1.6zM34.2 12.8l0.6-0.5 0.4 0.3 1 2.2-0.2 1.4-0.6 1-0.6 0.3-0.9-0.7-0.6-1.6 0.2-1zM25 13.8l0.2-0.5 0.6 0.2 0.4 1.3-0.2 1.4-0.2 0.4-0.6 0.2-0.5-1-0.1-1zM73.6 21.2l2.2-0.4 3 0.5 1.6 0.9 0.5 1-0.1 0.6-0.9 1-1.7 0.7-2 0.6-1.4-0.2-1.6-0.7-0.5-0.4-0.4-1 0.2-1.6zM61.6 21.8l1.2 0.1 0.6 0.9-0.1 1.4-1.1 0.8-1-0.3-0.6-0.9 0.2-1.3zM66.5 21.8l0.7-0.4 1 0 1.1 0.8 0.3 1.6-0.8 1.2-1.6 0.3-0.9-0.5-0.4-0.6-0.1-1.4zM52.5 22.2l0.8 0.1 0.5 0.9-0.4 1-0.6 0.3-0.6-0.3-0.3-1 0.1-0.4zM56.5 22.2l0.8-0.2 0.5 0.1 0.4 0.7 0.1 1-0.5 0.7-1 0.1-0.6-0.5-0.2-0.9zM44.9 22.8l0.3-0.1 0.3 0.5-0.3 0.7-0.5-0.1-0.1-0.6zM48.2 22.8l0.6-0.4 0.4 0.2 0.3 0.6-0.3 0.9-0.4 0.2-0.6-0.4zM75.7 26.8l1.5 0.1 2 0.8 0.8 0.5 0.3 1-1.1 1-2 0.8-2 0.2-1.4-0.5-1.1-0.9-0.2-0.6 0.2-1 1.1-1zM66.7 27.8l0.5-0.3 1 0.1 0.9 0.6 0.2 1-0.5 0.9-0.6 0.3-1 0-0.9-0.6-0.3-1zM61.2 28.2l0.6-0.3 1 0.2 0.3 0.7-0.3 1-0.6 0.2-0.9-0.2-0.3-0.6zM56.6 28.8l0.6-0.5 0.6 0.3 0 0.6-0.6 0.4-0.4-0.2zM74 32.2l1.2-0.4 2 0.2 1.9 0.8 0.8 1-0.1 0.4-0.6 0.6-1.4 0.6-2 0.4-1-0.2-1.6-0.7-0.4-0.7 0.1-1zM67.1 32.8l1.1-0.1 0.7 0.5 0 1-0.5 0.6-1.2 0.1-0.8-0.7 0.1-1zM61.6 33.2l0.8 0 0.4 0.6-0.2 0.4-0.4 0.2-0.7-0.2-0.2-0.4zM74.2 36.8l1-0.4 1.6 0.1 2 0.7 0.6 0.6 0.2 0.4-0.4 0.6-1.4 0.7-1.6 0.4-1 0-1.4-0.6-0.9-1.1 0.3-0.8zM66.7 37.8l1.1-0.5 0.8 0.5 0.2 0.4-0.6 0.7-1 0.1-0.6-0.8zM74.9 40.8l1.3-0.2 1.6 0.4 1.2 0.8 0.2 0.4-0.4 0.6-1.6 0.7-1.4 0.2-1-0.1-1-0.5-0.6-0.9 0.5-1zM67.2 41.8l0.9-0.1 0.3 0.5-0.6 0.6-0.6-0.2-0.2-0.4zM74.7 44.8l1.5-0.3 1.6 0.5 1 0.8 0 0.4-1 0.7-1.6 0.4-1.4-0.1-1-0.5-0.4-0.9 0.4-0.6zM74 48.8l1.2-0.5 1.6 0.1 1.4 0.6 0.3 0.2 0.1 0.6-0.7 0.4-1.1 0.5-2-0.1-1.3-0.8 0.1-0.6zM74.2 52.2l1-0.3 1-0.1 1.4 0.4 0.6 0.6-0.1 0.4-0.9 0.6-2 0.2-1.4-0.8 0-0.4zM74.3 55.8l0.9-0.5 1 0 1.3 0.5 0.3 0.4-1 0.8-1.6 0-1-0.5-0.1-0.3zM75.4 58.8l0.9 0 0.9 0.4-0.4 0.6-1.6 0.2-0.5-0.2-0.2-0.6zM74.9 62.2l1.3-0.1 0.6 0.1 0 0.6-1.6 0.1-0.3-0.1z"/><path fill="#354e93" d="M74.1 9.8l1.7-0.5 1.4 0.2 1.6 0.8 1.5 1.5 1.2 2 0.2 1.4-0.4 1.6-0.8 1-1.7 0.9-2.6 0.4-2-0.1-1.4-0.9-0.9-1.9 0.1-2.4 0.8-2.5zM66.8 10.8l1-0.4 1 0.5 0.7 1.3 0.4 1.6 0 3-0.7 1.1-1 0.7-1 0-1-0.5-0.6-0.9-0.3-1-0.2-1 0.3-2 0.6-1.4zM61.4 11.2l0.8-0.2 0.6 0.3 0.6 0.9 0.6 2 0.1 1.6-0.3 1-0.6 1-1 0.5-1-0.2-0.4-0.3-0.8-2 0.3-2.6zM52.6 11.8l0.6 0 0.6 0.7 0.7 2.7-0.6 2-0.7 0.6-0.4 0.1-1-0.8-0.5-1.9 0.3-2 0.6-1.2zM56.5 11.8l0.8-0.4 0.6 0.4 0.6 1 0.5 2 0 1-0.6 1.4-0.6 0.7-0.6 0.2-1-0.5-0.8-1.8 0.2-2zM48.3 12.3l0.5-0.4 0.4 0.2 0.7 1.1 0.3 1.5-0.3 2.1-0.7 0.8-0.4 0.2-0.8-0.6-0.6-1.4 0.2-2zM37.7 12.8l0.5-0.2 0.5 0.7 0.5 1.5-0.2 1.4-0.8 1.1-0.4-0.1-0.5-0.4-0.3-1 0-1.6zM41 12.8l0.2-0.3 0.6 0 0.8 1.7-0.1 2-0.7 1.2-0.6 0-0.4-0.5-0.5-1.1 0.1-1.6zM44.4 12.8l0.4-0.5 0.4 0 0.8 0.9 0.3 1.6-0.3 2-0.8 0.8-0.4-0.1-0.6-0.5-0.4-1.2 0-1.6zM28.2 13.2l0.6 0 0.6 1.6-0.1 1-0.5 1.1-0.6 0-0.5-1.1 0-1.6zM31.2 13.2l0.6-0.2 0.4 0.6 0.4 1.2-0.2 1.4-0.6 0.9-0.7-0.3-0.4-1 0-1zM34.2 13.2l0.6-0.4 0.4 0.3 0.6 1.7-0.2 1.4-0.4 0.8-0.4 0.2-0.6-0.4-0.4-1 0.1-1.6zM25.2 14.2l0.6 0.4 0 0.6 0 0.6-0.6 0.3-0.2-0.9zM74 21.2l2.2-0.2 2.6 0.5 1.4 1 0.4 0.7-0.1 0.6-0.9 1-1.8 0.7-2 0.3-1.6-0.2-1.3-0.8-0.5-1.6 0.4-1.1zM66.8 21.8l1.4-0.2 0.9 0.6 0.3 1.6-0.6 1-1.6 0.3-1.1-0.9-0.1-1.4zM57.2 22.2l0.6 0.3 0.3 0.7-0.3 1-0.6 0.2-0.5-0.2-0.4-1 0.5-0.8zM61.2 22.2l1.1-0.3 0.6 0.3 0.4 1-0.5 1.3-1 0.2-0.7-0.5-0.3-0.9zM52.5 22.8l0.3-0.2 0.5 0.2 0.1 0.4-0.2 0.7-0.4 0.2-0.5-0.3-0.1-0.6zM74.2 27.2l2-0.3 2 0.5 1.4 0.8 0.3 1-1.1 1-1.6 0.6-1.4 0.2-1.6-0.3-1.3-0.9-0.2-1 0.5-1zM67.2 27.8l1 0 0.6 0.4 0.3 0.6-0.3 1-0.6 0.3-1 0.1-0.6-0.4-0.3-0.6 0.2-1zM61.7 28.2l0.5 0 0.6 0.6 0 0.4-0.6 0.5-0.4 0-0.5-0.5 0-0.5zM74.6 32.2l1.6-0.1 2 0.5 1.1 0.6 0.3 0.6-0.2 0.4-1.2 0.8-1.4 0.5-1.6 0-1-0.3-0.8-0.4-0.5-1 0.6-1zM66.8 33.2l0.4-0.2 1 0 0.6 0.8-0.2 0.4-0.8 0.5-0.6-0.1-0.5-0.4-0.1-0.4zM74.9 36.8l1.3-0.1 1.6 0.3 1.2 0.8 0.1 0.4-0.3 0.6-1.6 0.7-1.4 0.2-1.6-0.3-0.8-0.6-0.1-1 0.5-0.6zM67.2 37.8l0.9 0 0.3 0.4-0.6 0.5-0.6-0.2-0.2-0.3zM74.2 41.2l1-0.3 1.6 0.1 1.4 0.5 0.5 0.8-0.3 0.5-1.2 0.5-2 0.2-1.5-0.7-0.3-0.6 0.2-0.4zM74.1 45.2l1.1-0.3 1.6 0 1.4 0.8 0.1 0.5-1.5 0.8-2-0.1-1.1-0.7 0-0.4zM74.6 48.8l1.2-0.3 1 0.1 1.2 0.6 0 0.6-1.2 0.6-2 0-0.9-0.6 0-0.6zM74.9 52.3l1.9-0.1 0.8 0.6-0.1 0.4-1.3 0.5-1.4-0.2-0.5-0.3-0.1-0.4zM75.1 55.8l1.4 0 0.5 0.4-0.8 0.5-1 0-0.5-0.5z"/><path fill="#375296" d="M74.6 9.8l1.6-0.3 1.6 0.5 1.7 1.2 1.2 1.5 0.7 1.5 0 1.6-0.7 1.4-0.9 0.8-2 0.8-2.6 0.2-1.4-0.3-1.2-0.9-0.6-2 0.2-2.6 1.1-2.4zM67.2 10.8l1 0 0.9 1 0.6 1.4 0.2 1.6-0.3 2.4-0.8 1-1 0.3-1-0.2-0.7-0.5-0.5-1-0.3-1 0.1-1.6 0.4-1.4 0.4-1.1zM57.2 11.8l0.6 0.2 0.4 0.8 0.6 2.4-0.6 2-1 0.7-0.4-0.1-0.6-0.6-0.6-2 0.5-2.4 0.7-0.9zM61.2 11.8l0.6-0.5 1 0.3 0.7 1.2 0.4 1.4 0 1.6-0.2 1-0.7 1-0.7 0.3-1.1-0.2-0.4-0.5-0.6-1.6 0.3-2.6zM52.4 12.2l0.4-0.2 0.4 0.2 0.4 0.6 0.6 2-0.3 2-0.7 0.8-0.4 0.1-0.6-0.2-0.5-0.7-0.3-1.6 0.4-1.8zM44.8 12.8l0.4-0.1 0.5 0.5 0.4 1.6-0.1 1.4-0.8 1.1-0.4-0.1-0.5-0.4-0.3-1 0.1-1.6zM48.2 12.8l0.6-0.5 0.4 0.3 0.8 2.2-0.3 2-0.5 0.6-0.4 0.1-0.9-0.7-0.3-1 0.1-1.6zM37.7 13.2l0.5-0.1 0.7 1.7-0.1 1.4-0.6 0.7-0.4 0-0.6-1.1 0-1.3zM41 13.2l0.2-0.2 0.6 0 0.5 1.2 0.1 1.6-0.6 1.2-0.6 0.1-0.3-0.3-0.4-1 0.1-1.6zM31.3 13.8l0.5-0.3 0.5 1.3 0 1-0.5 0.9-0.6-0.2-0.2-0.8 0-0.9zM34.3 13.8l0.5-0.5 0.4 0.4 0.3 1.1-0.1 1.4-0.6 0.6-0.6-0.4-0.1-0.6-0.1-1zM28.1 14.2l0.1-0.4 0.6 0.1 0.1 0.3 0.2 1-0.3 1.2-0.6 0-0.2-0.7zM74.4 21.2l1.8-0.1 2.6 0.6 1.3 1.1 0.1 1-1 1-1.4 0.6-2 0.2-1.6-0.2-1.1-0.6-0.6-1.6 0.4-1 0.3-0.4zM67.4 21.8l0.8 0 1 1 0 1-0.4 0.7-0.6 0.3-1.3 0-0.8-1 0.1-1.2 0.6-0.6zM61.6 22.2l0.6 0 0.8 0.6 0 1-0.8 0.7-0.8-0.3-0.3-0.4 0-1zM56.8 22.8l0.4-0.2 0.6 0.5-0.1 0.7-0.5 0.2-0.5-0.2-0.1-0.6zM74.7 27.2l1.5-0.1 2 0.5 1.1 0.6 0.3 0.6 0 0.4-0.8 0.9-1.6 0.5-1.4 0.2-1.6-0.3-1.1-0.7-0.2-1 0.7-1zM66.8 28.2l1-0.3 0.4 0.2 0.6 0.7 0 0.5-0.6 0.6-0.4 0.1-0.9-0.2-0.3-0.6zM73.8 32.8l1.4-0.5 1.6 0 1.5 0.5 0.6 0.4 0.3 0.6-0.2 0.4-1.2 0.8-2.6 0.3-1.4-0.5-0.6-0.6 0.1-1zM67.3 33.2l0.9 0.3 0.2 0.3-0.2 0.4-1 0-0.3-0.4zM74.1 37.2l1.1-0.3 1.6 0 1.4 0.6 0.6 0.7-0.4 0.6-1.2 0.5-1.4 0.2-1-0.2-1-0.5-0.4-0.6 0.1-0.4zM74.7 41.2l2.1 0 1.3 0.6 0.2 0.4-0.4 0.6-1.1 0.4-2-0.1-0.8-0.3-0.3-0.6 0.2-0.4zM74.6 45.2l1.2-0.2 1.3 0.2 0.8 0.6-0.1 0.4-1.6 0.6-1.4-0.1-0.7-0.5-0.1-0.4zM74.4 49.2l0.8-0.4 1 0 1.2 0.4 0.1 0.6-1.2 0.4-1.1 0-0.9-0.4zM74.8 52.8l1-0.3 1.1 0.3-0.2 0.4-0.9 0.2-0.8-0.2z"/><path fill="#39589a" d="M75.7 9.8l1.5 0.2 2 1.3 1.3 1.5 0.7 2-0.1 1.4-1.2 1.6-1.7 0.8-2 0.3-1.4-0.1-1.6-0.5-0.8-1.1-0.3-1.4 0.2-2.6 0.8-2 1.1-1.1zM66.9 11.2l0.9-0.3 1 0.6 0.6 1.3 0.4 1.4 0 1.6-0.4 1.4-0.6 0.8-1 0.3-1-0.2-0.6-0.4-0.7-1.9 0.3-2.6 0.4-1.2zM61.5 11.8l0.7-0.2 0.6 0.3 0.7 1.3 0.3 1.6-0.3 2-0.7 1-0.6 0.2-0.9-0.2-0.5-0.6-0.5-1.4 0.3-2.6zM56.7 12.2l0.5-0.2 0.6 0.3 0.5 0.9 0.3 1.6-0.3 2-0.5 0.7-0.5 0.2-1.1-0.6-0.4-1.3 0.2-2zM48.7 12.8l0.7 0.4 0.5 2-0.4 1.6-0.7 0.4-0.7-0.4-0.3-1.6 0.2-1.4zM52.3 12.8l0.5-0.4 0.4 0.2 0.6 0.8 0.2 1.4-0.2 1.9-0.6 0.6-0.4 0.2-0.9-0.7-0.3-1 0.1-1.6zM44.7 13.2l0.5-0.1 0.7 1.7-0.1 1.4-0.6 0.8-0.6-0.2-0.4-1 0-1.5zM37.9 13.8l0.3-0.1 0.5 1.1 0 1-0.5 0.7-0.4-0.1-0.3-0.6 0-1zM41.1 13.8l0.1-0.3 0.6 0 0.4 1.3 0 1-0.4 0.9-0.6 0-0.4-0.9-0.1-1zM31.7 14.2l0.3 1-0.2 0.9-0.5-0.3-0.1-0.6 0-0.5zM34.5 14.2l0.3-0.3 0.5 0.9-0.1 1-0.4 0.5-0.6-1zM75.1 21.2l2.1 0.1 1.6 0.5 1 1 0.1 1-1 1-1.7 0.5-2 0.2-1.4-0.5-0.9-0.8-0.1-1.4 0.7-1zM66.7 22.2l1.1-0.3 0.8 0.3 0.5 1-0.3 1.1-1 0.5-1-0.4-0.6-1.2zM61.4 22.8l0.8-0.4 0.5 0.4 0.1 1-0.6 0.4-0.4 0-0.6-0.7zM73.8 27.7l1.4-0.4 2 0.1 1.8 0.8 0.3 0.6 0 0.4-0.5 0.6-1.6 0.7-2.4 0-1-0.4-0.7-0.9 0.2-1zM67.2 28.2l1 0.2 0.3 0.4-0.3 0.8-0.6 0.2-0.8-0.6 0-0.5zM74.2 32.8l1-0.4 1.6 0.1 1.4 0.5 0.7 0.8-0.2 0.4-1.5 0.8-2.4 0.1-1.3-0.9 0-1zM74.5 37.2l1.3-0.2 1 0.1 1.4 0.7 0.2 0.4-0.4 0.6-1.2 0.4-2 0-0.8-0.4-0.3-0.6 0.1-0.4zM74.2 41.8l1.1-0.5 0.9 0 1.4 0.5 0.3 0.4-1.1 0.8-1.6 0-1-0.4-0.2-0.4zM74.4 45.8l1.4-0.5 1.5 0.5-0.1 0.4-1.4 0.4-1.3-0.4zM75 49.2l1.2-0.1 0.5 0.1 0.1 0.6-1.6 0.1-0.3-0.1z"/><path fill="#3b61a0" d="M74.5 10.2l1.7-0.2 1.6 0.4 1.4 1.1 1 1.2 0.7 1.5 0.1 1.6-0.4 1-0.9 1-1.9 0.8-2 0.2-2-0.4-1-0.8-0.6-1.8 0.2-2.6 0.8-1.9zM67.3 11.2l0.9 0.1 0.6 0.5 0.7 1.4 0.2 1.6-0.1 1.4-0.3 1-0.5 0.7-1 0.3-1-0.2-0.6-0.5-0.6-1.7 0-1.6 0.5-1.4 0.7-1.2zM61.3 12.2l0.5-0.3 0.4 0 0.6 0.3 0.8 2 0 1.6-0.2 1-0.6 0.8-0.6 0.2-0.4 0-0.8-0.6-0.5-1.4 0.1-2zM56.6 12.8l0.6-0.4 0.6 0.3 0.7 2.1-0.3 1.7-0.4 0.8-0.6 0.2-0.4-0.1-0.6-0.6-0.3-1 0.1-1.6zM48.6 13.2l0.2-0.1 0.4 0.3 0.5 1.8-0.4 1.6-0.5 0.2-0.6-0.4-0.3-1.4 0.3-1.4zM52.2 13.2l0.6-0.4 0.4 0.2 0.7 1.8-0.1 1.5-0.6 0.8-0.4 0.1-0.7-0.4-0.3-1 0.1-1.6zM44.7 13.8l0.5-0.2 0.5 1.2 0 1-0.5 0.8-0.4-0.1-0.4-0.8 0-0.9zM41.2 14.2l0-0.2 0.6 0.2 0.2 1-0.2 1-0.6 0.1-0.2-0.5zM37.7 14.8l0.5-0.4 0.2 0.8-0.2 0.8-0.4-0.2zM73.8 21.8l2-0.5 2 0.3 1 0.4 0.8 0.8 0.1 1-0.9 0.8-1.6 0.6-1.4 0.2-1.6-0.3-1-0.6-0.3-0.7 0-1zM67 22.2l1.2 0 0.6 0.6 0.1 1-0.7 0.6-1 0.1-0.7-0.7 0.1-1zM62.2 22.8l0.3 0.4-0.1 0.6-0.6 0-0.3-0.6 0.3-0.4zM74.1 27.8l1.7-0.4 1.4 0.2 1.5 0.6 0.3 0.6 0 0.4-0.4 0.6-1.4 0.5-2.4 0.1-1-0.5-0.5-0.7 0.2-1zM67.2 28.8l0.6-0.3 0.4 0.3-0.1 0.4-0.9 0.1zM74.6 32.8l1.2-0.2 1.4 0.2 1 0.4 0.3 0.6-0.2 0.4-1.1 0.6-1.4 0.2-1-0.1-1-0.6-0.2-0.5 0.2-0.6zM75.1 37.2l1.6 0.1 1.1 0.5 0.2 0.4-0.5 0.6-0.7 0.2-2 0-0.9-0.8 0.2-0.4zM74.7 41.8l1.5-0.3 0.9 0.3 0.3 0.4-0.7 0.6-1.5 0-0.8-0.6zM75 45.8l0.8-0.2 0.8 0.2-0.2 0.4-0.6 0.1-0.6-0.1z"/><path fill="#3c6aa5" d="M75 10.2l1.2 0 1.6 0.5 1.4 1.1 1.1 1.4 0.5 1.6-0.1 1.4-0.7 1-1.2 0.9-2 0.6-2-0.1-1.2-0.4-0.9-1-0.4-2 0.4-2.4 1.1-1.9zM66.9 11.8l0.9-0.4 0.7 0.4 0.6 1 0.5 1.5 0 1.5-0.4 1.2-0.4 0.7-1 0.4-1-0.3-0.6-0.5-0.5-1.5 0.3-2.6zM61.6 12.2l0.6-0.1 0.6 0.4 0.7 2.3-0.3 2-1 0.8-1-0.4-0.6-1.4 0.2-2zM57.1 12.8l0.8 0.4 0.4 2-0.3 1.6-0.8 0.5-0.8-0.5-0.4-1.6 0.3-1.4 0.5-0.9zM52.6 13.2l0.2-0.1 0.4 0.2 0.6 1.9-0.5 1.6-0.5 0.2-0.6-0.4-0.3-1.4 0.3-1.4zM48.5 13.8l0.3-0.3 0.5 0.4 0.2 0.9-0.2 1.4-0.6 0.5-0.5-0.6-0.1-0.9 0.1-1zM44.8 14.2l0.4-0.1 0.3 0.7-0.3 1.4-0.4-0.2-0.1-0.2zM74 21.8l1.8-0.4 2.1 0.4 1.4 1 0.1 1-0.6 0.7-1.6 0.6-1.4 0.2-1.6-0.3-1-0.8-0.2-1 0.4-1zM67.7 22.2l0.5 0.2 0.5 0.8-0.5 1-0.4 0.2-0.6-0.1-0.4-0.4-0.2-0.7 0.2-0.4zM74.5 27.8l1.3-0.3 1.5 0.3 1 0.4 0.4 0.6 0 0.4-0.5 0.6-1.2 0.4-2.3 0-0.9-0.4-0.3-0.6 0.2-1zM75.2 32.8l2 0.2 0.7 0.2 0.3 0.6-0.2 0.4-1 0.6-2.2 0-0.9-0.6-0.1-0.4 0.4-0.7zM74.4 37.8l0.8-0.4 1 0 1.2 0.4 0.2 0.4-0.8 0.6-1.6 0.1-1-0.6zM75.4 41.8l0.9 0 0.5 0.4-1 0.4-1-0.4z"/><path fill="#3c77b0" d="M74.3 10.8l1.5-0.5 1.4 0.3 1.6 0.9 1 1.3 0.8 1.4 0 1.6-0.4 1-1 0.9-2 0.8-2 0.1-1.4-0.4-1-1-0.4-1.4 0.1-2 0.7-2zM67.2 11.8l0.6-0.2 1 0.7 0.7 2.5-0.3 2-0.4 0.7-1 0.4-0.9-0.1-0.5-0.6-0.6-1.4 0.3-2.6zM61.4 12.8l0.4-0.4 0.4 0 0.6 0.4 0.5 1.4 0 2-0.5 1-0.6 0.3-1-0.4-0.5-1.3 0.1-1.6zM56.7 13.2l0.5-0.2 0.5 0.4 0.5 1.4-0.2 1.4-0.2 0.6-0.6 0.3-0.6-0.3-0.4-1 0-1.3zM52.5 13.8l0.3-0.3 0.4 0.3 0.3 1-0.1 1.4-0.6 0.5-0.6-0.5-0.1-1zM48.6 14.2l0.2-0.2 0.5 0.8-0.1 1-0.4 0.5-0.5-1.1zM74.3 21.8l1.5-0.3 2 0.3 1.3 1 0.1 1-0.4 0.5-1.6 0.7-1.4 0.2-1.6-0.3-0.8-0.7-0.3-1 0.4-1zM67.1 22.8l0.7-0.3 0.4 0.2 0.3 0.5-0.3 0.7-0.4 0.3-0.6-0.1-0.4-0.9zM74.9 27.8l1.3-0.1 1.6 0.4 0.7 0.7-0.1 0.4-0.5 0.6-1.1 0.4-1.6 0-1-0.3-0.6-0.7 0-0.4 0.3-0.6zM74.3 33.2l0.9-0.3 1 0 1.3 0.3 0.4 0.6-0.7 0.7-2 0.2-1-0.5-0.2-0.4zM74.8 37.8l1.4-0.2 0.7 0.2 0.3 0.4-0.9 0.6-1.1-0.1-0.6-0.5z"/><path fill="#3d86bb" d="M74.6 10.8l1.2-0.3 1.4 0.3 1.6 1 1.2 1.4 0.5 1.6 0 1-0.4 1-1.1 1-1.8 0.6-2 0.1-1.4-0.4-0.9-0.9-0.5-1.4 0.2-2 0.6-1.8zM66.9 12.2l0.9-0.4 0.4 0.2 0.7 0.8 0.5 1.4 0 1.6-0.3 1-0.3 0.6-1 0.4-1.3-0.6-0.6-1.4 0.2-2zM61.7 12.8l0.5-0.2 0.6 0.5 0.5 1.7-0.2 1.4-0.3 0.8-0.6 0.3-0.4 0-0.6-0.4-0.4-1.1 0.2-2zM56.7 13.8l0.5-0.5 0.6 0.5 0.2 1-0.1 1.4-0.7 0.6-0.4-0.2-0.4-0.8zM52.5 14.2l0.2-0.3 0.5 0.4 0.2 0.5-0.2 1.2-0.4 0.4-0.6-1.1zM74.7 21.8l1.5-0.2 1.6 0.4 1.1 0.8 0.1 1-0.8 0.6-1.4 0.6-1.6 0-1-0.2-0.6-0.6-0.4-1 0.5-1zM67.6 22.8l0.7 0.4-0.5 0.7-0.6-0.1-0.1-0.6zM74.1 28.2l1.1-0.4 1.6 0.1 1 0.4 0.4 0.5 0 0.4-1.4 0.8-2 0-1-0.8 0-0.4zM74.6 33.2l1.6-0.2 0.9 0.2 0.5 0.6-0.3 0.4-0.5 0.3-1.6 0-0.7-0.3-0.3-0.4zM75.7 37.8l1 0.4-0.9 0.3-0.8-0.3z"/><path fill="#47a3c7" d="M75 10.8l1.2-0.1 1.6 0.5 1.3 1 1 1.6 0.3 1.4-0.2 1-0.7 1-1.3 0.8-2 0.5-1.4-0.1-1.4-0.6-0.6-1-0.3-2 0.5-2 0.8-1.3zM67.1 12.2l0.7-0.2 0.5 0.2 0.7 1 0.3 1.6-0.3 2-0.3 0.4-0.9 0.5-1.1-0.5-0.7-1.4 0.2-2zM61.5 13.2l0.2-0.3 0.5 0 0.6 0.5 0.3 0.8-0.1 2-0.8 0.9-0.4 0-0.5-0.3-0.4-1 0.1-1.6zM57.1 13.8l0.1-0.2 0.6 0.6 0.1 0.6-0.1 1.3-0.6 0.5-0.4-0.3-0.3-1.1 0.1-1zM52.6 14.8l0.2-0.4 0.4 0.8-0.4 0.7zM75.1 21.8l1.7 0 1.3 0.4 0.6 0.6 0.1 1-0.6 0.5-1.4 0.6-1.6 0-1-0.3-0.8-0.8 0.1-1 0.7-0.8zM74.4 28.2l0.8-0.3 1.6 0.1 1.1 0.8 0 0.4-1.1 0.7-2 0-0.8-0.7 0-0.4zM75.1 33.2l1.4 0 0.7 0.6-0.4 0.5-1.6 0.1-0.3-0.2-0.4-0.4z"/><path fill="#64afb7" d="M74.6 11.2l1.2-0.3 1.4 0.4 1.5 0.9 0.8 1 0.5 1.6 0 1-0.4 1-0.8 0.7-1.6 0.6-1.4 0.2-1.6-0.2-1-0.9-0.5-1.4 0.1-2 0.7-1.6zM67 12.8l0.8-0.4 0.4 0.3 0.6 0.6 0.3 1.5-0.3 2-1 0.6-1-0.4-0.6-1.2 0.1-1.5zM61.6 13.8l0.6-0.3 0.6 0.7 0.1 1.6-0.7 0.9-0.5 0-0.5-0.9 0-1zM74.3 22.2l1.5-0.3 1.4 0.2 1 0.7 0.2 0.4-0.1 0.6-0.5 0.4-1 0.4-2 0-1.1-0.8 0.1-1zM75.2 28.2l1.6 0.2 0.5 0.4 0 0.4-1.4 0.6-1.1-0.3-0.3-0.7z"/><path fill="#70ad92" d="M75.5 11.2l1.3 0.2 1.4 0.8 0.9 1 0.6 1.6 0 1-0.5 1-1 0.8-1.4 0.5-1.6 0-1.2-0.3-0.8-0.8-0.4-1.2 0.1-1.6 0.5-1.4 0.8-1.1zM67 13.2l0.8-0.4 0.4 0.3 0.6 1.1 0 2-0.6 0.8-0.4 0.2-0.9-0.4-0.5-1 0.1-1.6zM61.7 14.2l0.5-0.1 0.3 0.7-0.3 1.4-0.4-0.1-0.2-0.3zM74.8 22.2l1.4-0.1 1 0.3 0.8 0.8-0.1 0.6-0.7 0.4-1 0.3-1.7-0.3-0.5-0.4-0.1-0.6 0.2-0.4zM75.1 28.8l1.4 0-0.1 0.4-0.6 0.1-0.6-0.1z"/><path fill="#7caa70" d="M74.7 11.8l1.1-0.3 1 0.1 1.1 0.6 0.9 1 0.6 1 0.1 1-0.2 1-0.9 1-1.6 0.7-1.6 0.1-1-0.3-0.9-0.9-0.3-1.6 0.2-1.4 0.6-1.2zM67 13.8l0.8-0.5 0.4 0.3 0.5 1.2-0.2 1.4-0.7 0.7-0.6-0.1-0.5-1-0.1-1zM74.5 22.8l0.7-0.4 1 0 1.1 0.4 0.3 0.4-0.2 0.6-0.6 0.3-1.6 0.2-0.8-0.5-0.2-0.6z"/><path fill="#8db157" d="M75.6 11.8l1.2 0.1 1 0.6 1 1.1 0.4 1.2 0 1-0.5 1-0.9 0.6-1.6 0.5-2-0.4-0.7-0.7-0.4-1 0.1-1.6 0.6-1.3 1-0.9zM67.6 13.8l0.6 0.3 0.3 1.1-0.3 1-0.4 0.3-0.6-0.3-0.4-1 0.3-1zM75.1 22.8l1.1-0.1 0.9 0.5-0.3 0.6-1.6 0.2-0.4-0.2-0.2-0.6z"/><path fill="#a8bb47" d="M74.7 12.2l1.1-0.2 1 0.2 1 0.6 0.8 1 0.4 1 0 1-0.6 1-0.6 0.4-1 0.4-1.6 0.1-1-0.4-0.5-0.5-0.4-1 0.1-1.6 0.4-1zM67.2 14.8l0.6-0.5 0.3 0.5 0.1 0.4-0.4 0.8-0.6-0.2zM75.2 23.2l0.6-0.2 0.6 0.2-0.6 0.4z"/><path fill="#c5c542" d="M75.5 12.2l0.8 0.1 1.1 0.5 0.9 1 0.4 1-0.2 1.4-0.7 0.8-1 0.5-1 0.1-1.4-0.4-0.5-0.4-0.5-1 0-1 0.4-1.2 0.6-0.8z"/><path fill="#d9c63e" d="M74.7 12.8l1.5-0.3 1 0.4 0.9 0.9 0.5 1.4-0.4 1-0.4 0.6-1 0.5-1 0.1-1-0.2-0.7-0.4-0.5-1 0-1 0.3-1.1z"/><path fill="#e1a336" d="M75.2 12.8l1-0.1 1 0.5 1 1.5 0.1 0.5-0.3 1-1.2 0.9-1 0.2-1-0.2-0.6-0.4-0.4-0.9-0.1-1 0.4-1z"/><path fill="#de762b" d="M74.7 13.2l0.5-0.2 1 0 1 0.5 0.6 0.6 0.2 0.7 0 1-0.8 0.9-1.4 0.4-1-0.2-0.6-0.5-0.3-0.6 0-1 0.3-1z"/><path fill="#d14e28" d="M75.2 13.2l0.6-0.1 1 0.3 1 1.2 0 1.2-1 1-1.6 0.1-1-0.8-0.2-0.9 0.2-1z"/><path fill="#c73029" d="M74.8 13.8l0.4-0.3 1-0.1 1 0.8 0.4 1-0.4 1-1.4 0.6-1.2-0.6-0.3-0.4-0.1-1z"/><path fill="#c52a2c" d="M75.2 13.8l1-0.1 1 1 0 1.1-0.4 0.5-1.6 0.2-0.7-0.7 0-1z"/><path fill="#ac262b" d="M75 14.2l0.8-0.3 0.8 0.4 0.5 0.9-0.3 0.8-1 0.4-0.6-0.2-0.4-0.4-0.1-1z"/><path fill="#8d2227" d="M75.7 14.2l0.5 0.2 0.6 0.8-0.3 0.6-0.7 0.3-0.7-0.3-0.2-0.6 0.3-0.8z"/><path fill="#7d1f24" d="M75.6 14.8l0.3 0 0.4 0.4-0.5 0.5-0.5-0.5z"/></g>
<g id="h11"><path fill="#2b3570" d="M74.5 6.2l1.3-0.1 2 0.4 3 1.8 1.4 1.5 1.4 2 0.8 2 0.2 1.4-0.5 2-0.9 1-1.4 1-1.8 0.6-0.6 0.4 3.4 1.5 0.6 0.5 0.4 1-0.2 1-0.4 0.6-1 0.6-2 0.8 0 0.6 2 0.8 1 0.6 0.4 1-0.8 1.2-2.7 1.4 2.1 1 1 1 0 0.4-0.4 0.7-2.8 1.3 0.4 0.6 1.8 0.9 0.4 0.5 0 0.6-0.4 0.4-2.2 1-0.5 0.6 1.7 0.7 0.8 0.7 0 0.6-0.4 0.4-2.4 1-0.3 0.6 1.9 0.8 0.5 0.6-0.1 0.6-0.7 0.4-2.8 1 2.3 1 0.6 0.6-0.1 0.4-1.3 0.8-3.4 0.7-2-0.3-1-0.6-0.5-0.6 0.3-1 1.4-1-1.2-0.6-0.8-0.8 0.1-1 1.1-1-0.2-0.6-1.2-1-0.1-0.4 0.1-1 1-1-1.4-2 0.1-1 1.1-1.6-1.1-1-0.5-1 0.1-0.4 1.4-2-1.3-1.7-0.4-0.3-0.6 1-1 1 1 1 0.5 1-0.1 1-1.5 1.4 1.1 1.6 0.2 1-0.6 1-1.1 1 1.3 1 0.1 0.4-0.1 1-0.8 0.8-1.4 0.7-1.6-0.7-0.7-0.8-0.1-0.9 0.1-0.5 1.2-1-1.4-1.6-0.2-1 1.3-2-1.1-1-0.5-0.9-1 1.4-0.9 0.5 1.3 1.6 0.1 0.4-0.2 1-1.8 1.6 0.9 0.3 0.6 0.5 0.3 1.2-0.9 1.1-1.4 0.3-1.4-1-0.1-1 0.1-0.4 0.8-0.8 1-0.2-1.4-0.9-0.9-1.1 0.2-1 1.2-1.6-1.2-1-0.3-0.6-1.6 1.4-0.9 0.2-1.1-0.4-1-1.5-1 1.2-1 0.5-1-0.3-0.8-0.9 0-1.6 1.4-1.1 0.4-0.1 1 0.6 1 1.1 0.6-0.9 1.4-1-0.9-0.6-1.1-1.1-2 1.4-1-0.3-1-1.2-0.4-0.1-1 1.1-1 0.1-0.7-0.3-0.7-1 0.2-1.6 1.2-1 1 0.1 0.9 1.1 0.5-0.2 1-1.1 1-0.3 0.6 0.2 1.4 1.1 1-1.1 0.6-0.2 0-0.6-0.6-0.2-1-1-2 1.2-1-0.3-1-1-0.4-0.1-1 0.9-1 0.2-0.9-0.7-0.7-1-1 1.1-1 0.3-0.7-0.4-0.6-1-0.1-1 0.2-1 0.8-0.9 0.4-0.2 1 0.3 1 1.2 0.9-1.4 0.7-0.3 1 0.1 1 1 0.4-0.1 1-1.1 1-0.3 2 1.3 1.6-1.4 1 0 2 1.3 1-1 0.8-0.5-1.8-1.6-1.6 1.1-1 0.3-1-0.5-1-0.9-2 1.1-1-0.2-1-1-0.4-0.1-0.6 0.6-1 0.5-1-0.3-1-1.2-1 0.9-1 0.3-0.7-0.4-0.7-1.2-0.5 0.1-0.5 0.7-1 0.4-0.8-0.6-0.8-1.8-0.4 0.2-0.6 1.2-0.4 0.4-0.6-0.1-0.6-0.9-0.3-2 0.3-2.4 0.6-1.5 0.6-0.1 0.6 1 0.4 1.4 0.4 0.3 0.7-2.7 0.9-1.2 0.6 0.2 0.8 1.9 0.6 0 1-2.5 0.4-0.5 0.6 0.1 1.4 2.3 1-2.3 0.6-0.7 0.4-0.1 0.6 0.4 1 1.9 0.4-0.1 1-2.2 0.6-0.5 0.5-0.1 0.5 0.4 1 1.9 0.4 0.4 1-2.3 1-0.8 1 0.5 1 2 0.6 0.5 1.2-2.6 0.8-0.7 0.4 0 1.1 0.7 1.5 2.9 1.4-3.1 0.6-0.4 1-0.3 1 0.4 0.8 0.9 1.2 3 0.4-0.4 0.7-2 0.9-1.4 1-0.8zM59.2 25.2l-1.3 1 0 0.6 1.9 1.3 1.3-1.3 0-0.6-1.3-1.2zM64.8 18.4l-2.2 1.8 0.6 0.3 1.6 1.5 1-1.2 0.9-0.6zM70.8 18.2l-0.9 1-1.2 1 1.1 0.7 1 1.4 2.1-2.1-1.7-1.8zM59.8 30.2l-1.6 1.2-0.8 0.4 0.8 0.3 1.6 1.4 1.4-1.7zM64.8 24.8l-1.7 1.4 0 0.5 1.7 1.6 1.5-1.6 0-0.5zM70.8 24.6l-0.4 0.6-1.2 1 0 0.6 1.2 1 0.4 0.8 1.7-1.8 0-0.6zM64.8 30l-1.8 1.8 1.1 1 0.7 0.9 0.1-0.5 1.4-1.4zM35.2 12.8l0.6 0.4 0.3 2-0.2 1.6-0.7 0.5-0.4-0.6-0.3-1.5 0.3-1.7zM41.3 21.8l0.9-0.2 0.9 1.2-0.1 1.4-0.8 1-1-0.2-0.4-0.8 0-1.4zM38.1 22.8l0.1-0.4 0.6 0 0.3 0.4 0.1 1-0.4 0.6-0.6 0-0.2-0.6zM44.6 27.8l0.6-0.4 0.6 0 0.4 0.4 0.7 1 0.1 0.4-0.5 1-0.7 0.6-1-0.2-0.7-0.8-0.1-1zM41.2 28.2l0.6-0.4 0.4 0.1 0.6 0.5 0.1 0.8-0.7 1.2-0.4 0-0.8-0.6-0.1-1zM45.1 32.8l0.7 0 0.8 1-0.2 1-0.6 0.5-1-0.2-0.5-0.9 0.2-1zM48.2 32.8l1-0.4 0.6 0.1 0.7 0.7 0.2 0.6-0.2 1-0.7 0.7-1 0.1-1-0.8-0.2-1zM41.6 33.2l0.6 0.1 0.4 0.5-0.4 1-0.4 0.1-0.6-0.7 0-0.4zM56.8 36.8l0.4-0.4 0.6 0.1 1.3 1.3-0.1 1.4-0.8 0.8-1.4 0.1-0.6-0.3-0.7-1 0.2-1 0.5-0.8zM48.8 37.2l1 0.2 0.5 0.8-0.3 1-0.8 0.5-0.9-0.5-0.3-0.4 0.2-1zM52.1 37.2l1.1-0.3 0.6 0.1 0.7 0.8 0.1 1-0.8 1-1 0.1-1-0.7-0.2-1zM45.1 37.8l0.7-0.1 0.3 0.5-0.3 0.9-0.6 0.1-0.5-0.4 0-0.6zM56.6 41.2l1.2-0.2 0.9 0.7 0.3 1.1-0.8 0.9-1 0.3-1.2-0.8-0.2-1zM49.2 41.8l0.7 0.4 0 0.6-0.7 0.5-0.4-0.2-0.4-0.3 0.4-0.9zM52.2 41.8l0.6-0.4 1 0.1 0.5 0.7-0.2 1-0.9 0.5-1-0.3-0.3-0.6zM61.2 45.2l1-0.3 1 0.5 0.5 0.8-0.4 1-1.1 0.5-1.2-0.5-0.5-1zM66.3 45.2l0.9-0.4 1.6 0.2 0.9 0.8 0 1-0.9 0.8-1 0.2-1-0.1-1.1-0.9 0.1-1zM52.7 45.8l0.8 0 0.4 0.4-0.2 0.6-0.5 0.2-0.7-0.2-0.2-0.6zM56.4 45.8l0.4-0.4 1-0.1 0.6 0.5 0.1 1-0.7 0.6-1-0.1-0.5-0.5zM61.3 49.2l0.5-0.2 1 0.1 0.5 0.7 0 0.4-0.5 0.6-1.3 0-0.5-0.6-0.1-0.4zM66.4 49.2l0.8-0.4 1 0 0.9 0.4 0.3 0.6 0 0.4-0.4 0.6-0.8 0.3-1.4-0.2-0.7-0.7-0.1-0.4zM56.7 49.8l0.5-0.5 0.6 0.1 0.3 0.4-0.1 0.4-0.7 0.4-0.6-0.4zM74.3 52.2l0.9-0.3 1 0 2.6 0.8 0.8 0.5-0.2 0.6-1.6 0.7-2 0.2-1.6-0.2-1-0.4-0.3-0.3-0.1-0.6 0.4-0.5zM67.5 52.8l0.7 0 0.6 0.4-0.2 0.6-0.8 0.3-1-0.3-0.1-0.6zM74 56.2l2.2-0.3 1.5 0.3 0.4 0.5-0.9 0.6-2 0.2-1.1-0.3-0.3-0.3z"/><path fill="#2b3979" d="M74.8 7.3l1-0.2 1.4 0.3 1.6 0.7 1.6 1.1 2.1 2.6 0.8 2 0.3 1.4-0.6 2-0.9 1-1.3 0.8-4 1.2 3.9 1.1 1.1 0.5 0.8 1 0.1 1-0.6 1-1.3 0.7-2.5 0.7 0 0.6 2.5 0.7 1 0.6 0.5 0.7 0.1 0.4-0.2 0.6-1 0.8-3 1.2 2.7 1 1.1 1 0.1 0.4-0.9 0.9-3.2 1.1 0.6 0.6 2.4 1 0.4 0.4-0.1 0.6-1.1 0.8-3.1 1.2 3.1 1 0.5 0.4 0 0.6-0.5 0.4-1.4 0.6-3 0.6-2.6-0.6-0.7-0.6-0.3-0.4 0-0.6 0.6-0.7 1.7-0.7-2.4-1.6-0.2-0.4 0.2-1 1.6-1.6-1.5-0.8-0.5-1.2 0.1-1 0.4-0.4 1.4-1-1.4-0.9-0.4-0.7-0.3-1.4 0.7-1.4 1.4-0.6 0-0.6-1.6-1-0.5-1-0.1-1.4 0.8-1.6 1-0.6 1.5-0.4-2.5-1.2-1.4-2.4-0.3 1.2-0.7 1-1.6 0.8-1 0-1-0.3-0.6-0.5-0.8-1.5-1 1.5-1 0.7-1 0-1-0.4-1-1.5-1.6 1.5-1 0.3-1-0.4-1-1.5-1.1 1.3-0.9 0.4-1-0.3-1-1.5-0.4-0.1-1 1.4-1 0.1-0.8-0.6-0.8-2.1-1 2-0.4 0.4-0.6 0-0.4-0.3-0.6-1-0.3-2 0.4-3 0.5-1.1 0.4-0.5 0.6 0.1 0.4 0.7 1 2.8 0.8-3 0.8-1.3 0.4-0.1 0.6 0.3 1 2.6 0.4-0.2 1-2.8 0.6-0.5 0.4-0.1 0.7 0.7 0.9 2 0.4 0.5 1.2-3.1 0.8-0.6 0.6 0.1 0.5 0.5 0.9 2.4 0.6 0.6 1-3 0.4-0.6 1-0.4 0.6 0.2 0.6 0.8 1.4 3.5 0.7-2.5 0.8-1.4 0.9-0.8 1 0.1 0.6 0.3 1.1 1.8 0.9 3.4 0.5-0.8 0.6-2.6 0.7-1.4 1.2-1.1zM41.6 11.8l0.6 0 0.3 0.4 0.5 1.6 0.1 1.5-0.4 1.9-0.5 0.7-0.4 0-0.7-0.7-0.3-2 0.2-2zM38.4 13.8l0.4-0.2 0.3 1.2-0.3 1.8-0.6-0.1-0.1-0.7zM67 20.8l0.8-0.2 1.4 0.4 1 1.2 0.3 1-0.4 1.6-0.3 0.5-1 0.7-1 0.1-1-0.1-1.1-0.8-0.6-1-0.1-1 0.5-1.4 0.7-0.8zM52.5 21.2l0.7-0.1 0.6 0.2 0.8 0.9 0.2 1-0.3 1.6-0.7 0.7-0.5 0.1-1.2-0.4-0.7-1.4 0.2-1.6zM56.3 21.2l1.5-0.3 0.6 0.3 0.7 1 0.3 1.6-0.4 1-0.8 0.8-1.4 0.1-0.7-0.5-0.6-1-0.1-1.4zM60.7 21.2l1.1-0.4 1 0 1.1 1 0.5 2-0.3 1-0.9 0.9-1.4 0.3-1-0.5-0.6-0.7-0.4-1 0.1-1zM48.4 21.8l0.8-0.4 0.6 0.2 0.7 1.2-0.1 1.4-0.6 0.9-0.6 0.2-1-0.4-0.3-0.7-0.1-1.4zM44.7 22.2l0.5-0.3 0.6 0 0.5 0.9 0.1 1-0.6 1-0.6 0.1-0.6-0.7-0.2-1zM41.7 22.8l0.6 0.4-0.1 0.6-0.4 0.2-0.2-0.8zM57 27.2l1.2 0.2 0.9 1.4-0.3 1.4-1 0.9-1-0.1-0.6-0.3-0.6-1.5 0.5-1.4zM61.2 27.2l0.6-0.2 1 0.1 1.2 1.1 0.1 1.6-0.9 1.2-1.4 0.2-0.6-0.1-0.9-0.9-0.2-1.4 0.4-1zM66.3 27.3l0.9-0.4 1 0 1.6 0.8 0.3 0.5 0.2 1-0.3 1.1-0.4 0.5-1.8 0.7-1.6-0.4-0.4-0.5-0.5-0.8 0-1 0.4-1zM49 27.8l1 0.4 0.3 1-0.4 1-0.7 0.4-0.8-0.3-0.4-1.1 0.2-1zM52.2 27.8l1-0.4 0.6 0.2 0.6 0.6 0.1 1.6-0.7 0.9-1 0.1-0.9-0.6-0.3-1.4zM45.2 28.2l0.6 0.1 0.3 0.5 0 0.4-0.3 0.8-0.6 0-0.4-0.6 0-0.6zM66.7 32.2l1.5-0.1 1.4 0.7 0.5 1-0.1 1-0.3 0.4-0.9 0.6-1 0.3-1-0.2-1-0.7-0.4-1 0.1-1zM52.7 32.8l1.1 0.1 0.5 0.9-0.1 1-1 0.6-1-0.4-0.4-0.8 0.2-1zM56.4 32.8l1.4-0.3 0.9 0.7 0.3 1-0.8 1.2-0.4 0.2-1-0.1-0.8-0.7-0.2-1zM60.8 32.8l0.4-0.4 1-0.1 1.3 0.5 0.6 1-0.2 1-0.3 0.4-1.4 0.7-1.4-0.6-0.5-1.1 0.1-1zM48.6 33.2l0.6-0.2 0.6 0.3 0.2 0.9-0.3 0.6-0.5 0.2-0.6-0.2-0.3-1zM57.2 37.2l1 0.4 0.4 0.6-0.3 1-0.5 0.4-1-0.1-0.6-0.7 0.1-1zM61.2 37.2l1-0.2 1 0.4 0.6 0.8-0.3 1-1.3 0.7-1-0.2-0.4-0.5-0.3-1zM66.3 37.2l1.5-0.4 1.4 0.4 0.7 1-0.3 1-1.4 0.8-1 0-1-0.4-0.3-0.4-0.3-1zM52.6 37.8l0.6-0.2 0.7 0.6-0.1 0.7-0.6 0.4-0.4-0.1-0.5-0.4 0-0.6zM67.5 41.2l1.3 0.2 0.7 0.8-0.3 1-0.4 0.4-1 0.2-1-0.2-0.8-0.8 0.3-1zM57.2 41.8l0.6 0 0.4 0.4 0 0.6-0.4 0.4-0.7 0-0.5-0.4 0-0.6zM61.2 41.8l0.6-0.3 1 0 0.6 0.7 0 0.6-0.6 0.7-1 0.1-0.6-0.4-0.3-0.4zM73.6 45.2l1.2-0.3 2 0 2 0.5 1.1 0.8-0.7 0.8-1.4 0.5-2 0.2-1.6-0.1-0.9-0.4-0.5-0.4-0.2-0.6 0.3-0.4zM66.8 45.8l1-0.3 0.9 0.3 0.3 0.4-0.2 0.6-0.6 0.3-1 0-0.6-0.3-0.1-0.6zM61.5 46.2l0.7-0.4 0.6 0.4-0.6 0.7-0.5-0.1zM73.7 49.2l1.1-0.3 1.4 0 1.9 0.3 0.8 0.6-0.1 0.4-1 0.6-2.6 0.2-1.3-0.2-0.7-0.6 0-0.4zM74.3 53.2l1.5-0.3 1.4 0.3-0.3 0.6-1.1 0.1-1.2-0.1z"/><path fill="#2c3c80" d="M73.9 8.2l1.3-0.4 2 0.3 2.6 1.4 1.6 1.7 1.1 2 0.4 2-0.3 1.6-1.2 1.4-2.6 1.1-3 0.4-2.6-0.4-1.3-1.1-0.6-2 0.2-3.4 1-3zM67.3 8.8l0.9 0 0.6 0.3 0.7 1.1 0.6 1.6 0.5 3-0.1 2-0.6 1.4-0.7 0.7-1.4 0.4-1-0.1-1-0.7-0.9-1.7-0.1-1 0.1-2 0.6-2.6 0.7-1.6zM61.4 9.2l0.8-0.3 1 0.9 0.7 1.4 0.7 2.6 0 2.4-0.5 1.6-0.7 1-1.2 0.4-1-0.1-0.8-0.9-0.6-1.7-1.5 2.3-0.5 0.2-1 0-0.9-0.8-0.7-1.9-1.4 2.4-1 0.1-0.6-0.3-0.7-1.3-0.5-2 0.9-4 0.9-1.2 0.4-0.1 0.5 0.4 1.5 3.8 1-3.7 0.6-0.8 0.4-0.3 0.6 0.1 0.9 1.4 0.6 2.1 0.5 0.9 0.7-3zM48.8 10.8l0.4-0.2 0.7 0.6 0.5 1.6 0.3 1.9-0.3 2.5-0.6 1-0.6 0.3-0.4-0.1-0.7-0.6-0.5-2 0.4-3.6zM45.1 11.8l0.1-0.2 0.6 0.1 0.3 0.5 0.4 1.6 0.2 1.4-0.4 2-0.5 0.7-0.6 0.1-0.6-0.8-0.4-2 0.2-2zM41.6 13.2l0.2-0.3 0.4 0.2 0.4 1.7-0.2 2-0.6 0.3-0.6-0.8-0.1-1.1zM73.8 20.8l1.4-0.3 2 0.1 2.6 0.6 1.7 1 0.4 0.6 0.1 1-0.7 1-2.5 1.1-2.5 0.3 0 0.6 3.5 0.6 1.4 0.8 0.5 1-0.7 1-1.8 0.8-3.4 0.7-1.6-0.1-1-0.4-1.1-1-0.3-1.4 0.5-1 1.5-0.9 1.3-0.1 0-0.6-1.3-0.1-1-0.5-1-1.4-0.1-1 0.5-1.4 0.6-0.6zM57.2 21.2l0.6 0.1 0.7 0.5 0.5 1.4-0.3 1.6-0.5 0.4-1 0.3-0.4-0.1-0.8-0.6-0.3-1.6 0.5-1.4zM61.3 21.2l1.5-0.1 1.1 1.1 0.2 1-0.1 1-0.7 1-0.5 0.4-1.6-0.1-0.9-1.3-0.1-1 0.2-1zM66.4 21.2l0.8-0.3 1 0.1 1.4 0.8 0.5 1 0 1-0.3 1-0.6 0.6-1 0.4-1 0-1-0.4-0.5-0.6-0.3-1 0-1 0.4-1zM52.4 21.8l0.8-0.3 0.6 0.2 0.6 1.1-0.1 1.4-0.5 0.9-0.6 0.2-1-0.4-0.3-0.7-0.1-1.4zM48.5 22.2l0.7-0.3 0.6 0.3 0.2 0.6 0 1.4-0.8 0.7-0.5-0.1-0.5-1zM45.2 22.8l0.5 0.1 0.2 0.3-0.1 0.7-0.6 0.2-0.2-0.9zM67.2 27.2l1.6 0.2 1 0.8 0.1 1.6-0.2 0.4-0.9 0.8-1 0.1-1-0.1-1-0.8-0.2-0.4 0.1-1.6 0.5-0.6zM56.6 27.8l1.2-0.2 0.8 0.6 0.1 1.5-0.5 0.8-0.4 0.2-1-0.1-0.8-0.8-0.1-1zM61 27.8l1.2-0.5 1.1 0.5 0.4 0.4 0.2 1-0.7 1.4-1.4 0.3-1.1-0.7-0.3-1.4zM49.2 28.2l0.6 0.5 0 0.5-0.6 0.8-0.4-0.1-0.4-0.7 0.4-0.8zM52.2 28.2l0.6-0.4 0.4 0 0.8 0.4 0.2 1-0.4 1.1-1 0.1-0.6-0.3-0.3-0.9zM73.5 32.2l1.7-0.4 2.6 0.2 3 1.2 0.5 0.6 0 0.4-1 1-2.1 0.7-2 0.3-2-0.1-1.4-0.6-0.9-1.3 0.3-1.1zM61.3 32.8l1.5-0.2 0.7 0.6 0.2 1-0.5 0.9-0.4 0.3-1 0.1-1-0.7-0.2-1zM66.4 32.8l1.4-0.4 1.3 0.4 0.7 1-0.1 1-0.5 0.5-1 0.4-1 0-0.9-0.5-0.5-0.4-0.1-1zM52.7 33.2l0.5-0.1 0.7 0.7-0.1 0.8-0.6 0.3-0.4 0-0.5-0.7 0-0.4zM56.4 33.2l0.8-0.4 1 0.4 0.4 0.6-0.2 1-0.6 0.4-1-0.1-0.6-0.9zM74.4 36.8l1.4-0.4 3 0.7 1.4 0.7 0.4 0.4-0.1 0.6-0.7 0.6-2 0.6-2 0.2-2-0.2-1.2-0.8-0.3-1 0.7-1zM67.1 37.2l1.1 0 1 0.6 0.2 1-0.3 0.4-1.3 0.5-1.4-0.5-0.4-1 0.2-0.5zM57.1 37.8l0.7 0 0.3 0.4-0.3 0.9-0.6 0-0.5-0.3-0.1-0.6zM61.2 37.8l0.6-0.4 1 0.1 0.4 0.5 0.1 0.8-0.5 0.6-1 0.1-0.8-0.7zM74.1 41.2l1.7-0.2 2.4 0.4 1.6 0.8 0 0.6-1 0.7-1.6 0.4-3-0.1-1-0.3-0.5-0.7 0.3-1zM67.1 41.8l1.3 0 0.6 0.4 0 0.6-0.8 0.5-1.2-0.1-0.5-0.4 0-0.6zM61.5 42.2l0.7-0.2 0.6 0.2 0 0.6-0.6 0.3-0.4-0.1-0.3-0.2zM75.5 45.2l2.3 0.3 1 0.7-0.6 0.7-2 0.5-1.4 0-1.4-0.6-0.2-0.6 0.4-0.4zM74.2 49.8l1.6-0.5 1.7 0.5-0.2 0.4-1.5 0.4-1.6-0.3z"/><path fill="#2d4086" d="M73.9 8.8l1.3-0.5 2 0.2 2 1.2 1.7 1.5 1.1 2 0.5 2-0.4 1.6-0.9 1.1-2 1.1-3 0.5-2.4-0.2-1.6-1-0.7-2.1 0.1-3 0.9-3zM67.4 9.2l0.8 0.1 0.6 0.4 0.7 1.1 0.5 1.4 0.4 2.6-0.2 2-0.4 1.2-1 0.9-1 0.2-1-0.1-1-0.8-0.4-1-0.4-2 0.5-3 0.5-1.4 0.8-1.2zM61.5 9.8l0.7-0.3 1 0.8 0.8 1.9 0.4 2.6-0.5 3-0.7 0.8-1 0.4-1-0.2-0.6-0.6-0.7-2.4 0.1-2 0.4-2zM56.7 10.2l0.5-0.3 0.6 0.1 0.4 0.6 0.8 2.2 0.4 2.4-0.6 2.6-0.6 0.7-1 0.3-1-0.5-0.3-0.5-0.5-2 0.2-2.6 0.5-2zM52.6 10.8l0.6-0.3 0.6 0.4 0.7 1.9 0.2 1.4-0.2 3-0.7 1-0.5 0.4-0.5-0.1-0.9-0.7-0.5-2 0.2-2.6 0.4-1.4zM48.6 11.8l0.6-0.5 0.6 0.5 0.6 2.4-0.1 2.6-0.5 1-0.6 0.3-0.7-0.3-0.6-1.6 0-2.4zM45 12.8l0.2-0.4 0.6 0.2 0.6 2.2-0.3 2-0.3 0.6-0.6 0.1-0.5-0.7-0.2-1.6 0.1-1.4zM41.7 14.8l0.1-0.3 0.4 0.7-0.4 0.7zM75.1 20.8l2.7 0.1 2.5 0.9 1 1 0.2 1-0.3 0.4-1.4 1.1-2.6 0.7-2.4 0-1.6-0.4-0.6-0.4-0.6-1-0.1-1 0.2-1 1.1-1.1zM67.1 21.2l1.7 0.2 0.8 0.8 0.3 1-0.1 1-1 1.2-1 0.2-1-0.2-1.1-1.2-0.1-1 0.2-1 0.4-0.6zM56.6 21.8l1.2-0.3 0.4 0.4 0.5 0.9 0 1.4-0.9 1-1-0.1-0.7-0.9-0.1-1.4zM61 21.8l1.3-0.5 0.9 0.4 0.4 0.5 0.3 1-0.2 1-0.5 0.8-0.4 0.3-1 0.1-0.6-0.2-0.7-1-0.1-1.4zM52.3 22.2l0.9-0.4 0.6 0.3 0.3 0.7-0.1 1.4-0.8 0.7-0.4 0-0.7-0.7-0.1-1zM48.6 22.8l0.6-0.4 0.6 0.7 0 0.7-0.6 0.6-0.4-0.2-0.3-0.4zM73.6 27.2l2.2-0.3 3 0.5 1.9 0.8 0.5 1-0.7 1-1.7 0.8-3 0.4-2-0.3-1.5-0.9-0.3-1 0.2-1 0.6-0.5zM61.4 27.8l0.8-0.2 1.2 0.6 0.2 1.6-0.8 0.8-1 0.1-0.6-0.2-0.5-0.7-0.1-1zM66.5 27.8l1.3-0.4 1.4 0.5 0.6 1.3-0.4 1-0.6 0.5-1 0.2-1.6-0.5-0.5-1.2 0.3-1zM52.7 28.2l0.5 0 0.7 0.6-0.1 1-0.6 0.3-0.4-0.1-0.5-0.8zM56.5 28.2l0.7-0.4 1.1 0.4 0.3 1-0.6 1-0.8 0.3-0.5-0.3-0.5-1zM74.4 32.2l1.8-0.1 2.6 0.5 1.5 0.6 0.4 0.6 0.1 0.4-1 0.9-1.6 0.5-2.4 0.4-2-0.3-1.4-0.9-0.2-1 0.7-1zM66.9 32.8l1.3-0.1 1 0.5 0.3 1-0.3 0.7-0.4 0.3-1 0.3-1-0.2-0.6-0.4-0.3-1.1 0.3-0.6zM57 33.2l0.8 0 0.4 0.6 0.1 0.4-0.5 0.7-1-0.1-0.3-0.6 0-0.4zM61.1 33.2l0.7-0.3 1 0 0.6 0.9-0.2 1-1 0.5-1-0.3-0.4-0.8zM73.5 37.2l1.7-0.3 2.6 0.2 1.7 0.7 0.5 0.4-0.1 0.6-0.7 0.5-2 0.6-3 0-1-0.4-0.6-0.7 0.2-1zM61.9 37.8l0.5 0 0.5 0.4 0 0.6-0.7 0.3-0.8-0.3-0.1-0.6zM66.7 37.8l0.5-0.3 1 0 0.9 0.7-0.1 0.6-0.8 0.6-1.3-0.2-0.5-0.4 0-0.6zM73.5 41.8l1.7-0.5 2 0.1 1.6 0.6 0.3 0.2 0 0.6-0.7 0.4-1.2 0.4-2.4 0.1-1-0.3-0.7-0.6 0-0.6zM67.2 42.2l1 0 0.1 0.6-1.1 0zM74.4 45.8l1.8-0.2 0.9 0.2 0.8 0.4-0.7 0.7-2 0.2-1.1-0.3-0.3-0.6z"/><path fill="#30458b" d="M74.8 8.8l1.4-0.1 2 0.7 1.6 1.1 1.3 1.7 0.9 2 0.1 1.6-0.6 1.4-1.3 1.1-2 0.8-3 0.3-2-0.5-1.1-1.1-0.5-2.6 0.5-3.4 1.1-2.1zM67.2 9.8l1 0 1 1 0.6 1.4 0.4 2 0 2-0.5 1.6-0.9 0.9-1 0.3-1-0.2-0.8-0.6-0.5-1-0.2-1.4 0.3-3.6 0.6-1.5zM61.4 10.2l0.8-0.3 1 0.9 0.7 2 0.2 1.4-0.2 3-0.7 1.2-1 0.4-1-0.2-0.4-0.5-0.8-2.3 0.5-3.6zM56.7 10.8l0.5-0.4 0.6 0.1 0.4 0.6 0.9 3.1-0.3 3-0.6 1.1-1 0.3-0.4-0.1-0.7-0.7-0.5-2 0.3-3zM52.6 11.2l0.6-0.2 0.6 0.5 0.7 2.7-0.1 2.6-0.4 1-0.8 0.5-0.4-0.1-0.6-0.4-0.6-2 0.3-3zM48.7 12.2l0.5-0.3 0.6 0.6 0.4 1.7-0.1 2.6-0.3 0.6-0.6 0.4-0.4-0.1-0.4-0.5-0.4-1.4 0.1-2zM45.2 13.2l0.6 0.2 0.3 1.8-0.3 1.6-0.6 0.1-0.5-1.7zM73.5 21.2l2.3-0.3 3 0.4 1.7 0.9 0.4 0.6 0.2 1-0.8 1-2.1 0.8-2.4 0.3-2-0.2-1.4-0.9-0.3-1 0.2-1.6zM57.2 21.8l1 0.4 0.4 1-0.4 1.4-1 0.4-0.4-0.2-0.5-0.6-0.2-1 0.4-1zM61.3 21.8l0.9-0.3 1.2 0.7 0.3 1.6-0.4 0.9-0.5 0.4-1 0.1-0.6-0.2-0.5-0.8-0.1-1.4zM66.5 21.8l1.3-0.4 1 0.2 0.4 0.4 0.5 1.2-0.1 1-0.4 0.6-1.4 0.6-1-0.2-0.6-0.4-0.3-0.6-0.1-1 0.2-1zM52.7 22.2l0.5 0 0.6 0.6 0.1 1-0.7 0.8-0.4-0.1-0.6-0.7 0.1-1zM74.2 27.2l2-0.1 2.6 0.4 1.4 0.7 0.6 1-0.8 1-1.8 0.7-2.5 0.3-1.9-0.2-1.2-0.8-0.3-0.4 0-1 0.6-1zM66.9 27.8l1.3-0.2 1 0.6 0.4 1-0.5 1-1.3 0.5-1-0.2-0.6-0.4-0.2-1.3 0.2-0.6zM56.8 28.2l1 0 0.4 0.5 0 0.8-0.4 0.6-0.6 0.1-0.6-0.4-0.1-1zM61.1 28.2l1.1-0.4 0.9 0.4 0.4 1-0.6 1-0.7 0.3-1-0.3-0.4-0.9zM52.7 28.8l0.7 0 0.1 0.4-0.3 0.4-0.4-0.1zM73.3 32.8l1.9-0.5 2.6 0.2 2 0.7 0.5 0.6 0 0.4-0.5 0.7-1.6 0.6-2.4 0.3-1.6-0.1-1-0.5-0.8-1 0.3-1zM61.5 33.2l0.7-0.1 0.6 0.1 0.4 0.6-0.3 1-0.7 0.2-0.8-0.2-0.3-1zM66.5 33.2l0.7-0.3 1 0 0.8 0.3 0.3 1-0.5 0.8-1.6 0.2-0.8-0.4-0.2-0.6zM57 33.8l0.8-0.1 0 0.5-0.6 0.3-0.2-0.3zM74.1 37.2l1.7-0.2 2 0.3 1.2 0.5 0.5 0.4-0.1 0.6-0.7 0.4-1.5 0.5-1.4 0.1-1.6-0.1-1-0.5-0.3-1 0.3-0.5zM67.5 37.8l0.7 0 0.5 0.4-0.1 0.6-0.8 0.3-1-0.3 0-0.6zM74.1 41.8l1.7-0.3 1.4 0.2 1.3 0.5 0 0.6-1.7 0.7-2 0-1.4-0.7 0.1-0.6zM74.6 46.2l1.2-0.3 1.1 0.3-1.1 0.6-0.6-0.1z"/><path fill="#33498f" d="M74.3 9.2l1.5-0.2 2 0.5 1.7 1.3 1.3 1.4 0.7 1.6 0.2 2-0.6 1.4-0.9 0.9-2 0.8-3 0.3-2-0.4-1-1-0.4-2 0.2-3 1.1-2.6zM67 10.2l0.8-0.2 1 0.5 0.7 1.3 0.5 2.4 0 2-0.4 1.6-0.8 0.7-1 0.3-1-0.2-0.5-0.4-0.6-1-0.3-1 0.3-3.4 0.5-1.7zM61.3 10.8l1-0.5 0.6 0.5 0.7 1.4 0.4 2 0 1.6-0.3 1.5-0.5 0.8-1 0.6-1.1-0.5-0.6-1-0.2-1 0.1-3zM56.7 11.2l0.5-0.4 0.9 0.4 0.4 1 0.5 2 0 1.6-0.3 1.4-0.5 0.8-1 0.4-1-0.7-0.4-1.9 0.1-2.6zM52.6 11.8l0.6-0.4 0.6 0.6 0.6 2.2-0.2 2.6-0.4 1-0.6 0.3-0.4-0.1-0.6-0.5-0.4-1.7 0.2-2.6zM48.7 12.8l0.5-0.4 0.6 0.7 0.2 1.1 0 2-0.2 0.8-0.6 0.4-0.5-0.2-0.5-1.4 0-1.6zM45.2 14.2l0.6 0.4 0 0.6 0 0.6-0.6 0.3-0.1-0.9zM73.9 21.3l2.3-0.3 2.6 0.5 1.4 0.9 0.5 0.8 0 0.6-0.8 1-1.7 0.7-2.4 0.3-2-0.3-1.2-0.7-0.4-1.6 0.6-1.3zM61.7 21.8l1.1 0.1 0.4 0.5 0.3 0.8-0.3 1.2-1 0.7-1-0.4-0.4-0.9 0.3-1.6zM66.8 21.8l1.4-0.2 1 0.8 0.3 1.4-0.7 1.2-1.6 0.2-1-0.7-0.3-0.7 0.1-1zM56.7 22.2l0.5-0.2 0.6 0.1 0.5 0.7 0.1 1-0.6 0.9-0.6 0.1-0.7-0.6-0.2-1zM52.7 22.8l0.5-0.2 0.5 0.6-0.5 1.1-0.4-0.2-0.2-0.3zM75.2 27.2l2 0.1 1.6 0.5 1 0.4 0.6 1-0.9 1-2.3 0.8-2.4 0-1.6-0.4-0.7-0.8-0.1-1.1 0.3-0.5 1.1-0.7zM61.5 28.2l0.7-0.2 0.6 0.2 0.4 0.6 0 0.4-0.4 0.9-1 0.1-0.6-0.4-0.1-1zM66.5 28.2l1.3-0.4 1 0.3 0.5 0.7-0.1 1-1 0.7-1.4-0.2-0.7-1.1zM56.8 28.7l0.4-0.3 0.6 0.1 0.2 0.7-0.2 0.6-0.8 0-0.3-0.6zM73.7 32.8l1.5-0.4 2.6 0.2 1.6 0.6 0.5 0.6 0 0.4-0.7 0.7-1.4 0.5-2 0.3-1.6-0.2-1-0.4-0.6-0.9 0.3-1zM66.9 33.2l1.3-0.1 0.8 0.7 0 0.4-0.8 0.8-1 0-0.5-0.2-0.3-0.6 0.1-0.4zM61.4 33.8l0.8-0.5 0.6 0.5 0.1 0.4-0.6 0.6-0.5-0.1-0.4-0.5zM74.9 37.2l1.9 0.1 1.4 0.4 0.8 0.5-0.1 0.6-1.1 0.6-1.6 0.3-1.4-0.1-1.1-0.4-0.5-0.4 0-0.8 0.6-0.4zM74.9 41.8l2.3 0.2 0.6 0.2 0.1 0.6-1.2 0.4-2 0-0.8-0.4 0-0.6z"/><path fill="#354e93" d="M75.7 9.2l2.1 0.6 1.9 1.4 1.3 2 0.5 2-0.3 1.6-1.4 1.4-2 0.7-2 0.3-1.6-0.2-1.4-0.8-0.7-1-0.3-2 0.3-2.4 0.9-2 1.2-1.2zM61.7 10.8l0.5-0.2 0.5 0.3 0.5 0.8 0.7 3.1-0.3 2.4-0.4 0.7-1 0.6-0.8-0.3-0.5-0.4-0.6-2 0.3-3 0.6-1.6zM66.7 10.8l1.1-0.5 1 0.6 0.7 1.3 0.4 1.6 0.1 2-0.4 1.4-0.4 0.7-1 0.7-1 0-0.7-0.4-0.5-0.4-0.5-1.6 0.2-3 0.4-1.4zM57.1 11.2l0.7 0.1 0.4 0.6 0.7 3.3-0.4 2-0.7 1-0.6 0-0.4-0.2-0.6-0.8-0.3-2 0.3-2.4zM52.6 12.2l0.6-0.3 0.4 0.3 0.6 2-0.1 2.6-0.3 0.7-0.6 0.3-0.4-0.1-0.5-0.5-0.3-1-0.1-2zM48.8 13.2l0.4-0.2 0.6 1.2 0 2-0.6 0.9-0.4-0.2-0.4-1.1zM74.4 21.2l1.8-0.1 2.6 0.6 1.4 1.1 0.2 1-0.8 1-1.8 0.6-2 0.3-2-0.3-1-0.7-0.4-1.5 0.3-1 0.5-0.4zM67.3 21.8l0.9 0 1.1 1-0.1 1.4-1 0.8-1.4-0.2-0.7-1 0.1-1.2 0.6-0.6zM57.2 22.2l0.6 0.2 0.4 0.8-0.3 1-0.7 0.3-0.4-0.3-0.3-1 0.3-0.6zM61.3 22.2l0.9-0.3 0.6 0.2 0.4 0.7 0.1 1-0.6 0.9-0.9 0.1-0.7-0.6-0.2-1zM73.5 27.8l1.7-0.5 2.6 0.3 1.7 0.6 0.5 0.6 0.1 0.4-0.3 0.6-1.6 0.8-2 0.4-2-0.2-1.2-0.6-0.5-1 0.4-1zM62.2 28.2l0.6 0.3 0.2 0.7-0.2 0.6-0.6 0.2-0.4 0-0.6-0.8 0.1-0.4 0.5-0.5zM66.7 28.2l1.1-0.3 0.9 0.3 0.4 0.6-0.1 1-0.6 0.4-0.6 0.2-1-0.3-0.5-0.9zM74.1 32.8l1.7-0.3 2 0.3 1.2 0.4 0.5 0.6 0.1 0.4-0.8 0.7-1.6 0.5-3 0-1-0.5-0.4-0.7 0.3-1zM67.5 33.2l0.7 0.1 0.5 0.5 0.1 0.4-0.5 0.6-1.1 0-0.5-0.6 0.1-0.5zM73.8 37.8l1-0.4 1.4 0 1.7 0.4 0.7 0.4-0.1 0.6-0.9 0.4-2.4 0.3-1.1-0.3-0.7-0.4 0-0.6zM74.4 42.2l0.8-0.2 1 0 1 0.2 0 0.6-2 0.3-0.9-0.3z"/><path fill="#375296" d="M74.4 9.8l1.4-0.3 2 0.6 1.4 1 1.3 1.7 0.6 1.4 0.1 1.6-0.3 1-1.1 1.2-2 0.8-2.6 0.2-1.4-0.3-1.3-0.9-0.5-2 0.1-2.6 1.1-2.4zM67.1 10.8l0.7-0.2 1 0.6 0.7 1.6 0.4 2-0.4 2.4-0.7 1-1 0.3-1-0.2-0.6-0.5-0.6-2 0.3-3 0.7-1.6zM61.5 11.2l0.7-0.3 0.6 0.3 0.5 1 0.5 2 0 1.6-0.3 1.4-0.7 1-0.6 0.1-0.4 0-0.8-0.5-0.5-1.6 0.1-3zM56.9 11.8l0.3-0.4 0.6 0.2 0.4 0.6 0.5 2.6-0.3 2.4-0.6 0.8-0.6 0.1-0.9-0.9-0.3-1.4 0.2-2.6zM53.2 12.2l0.7 1 0.3 2-0.3 1.6-0.7 0.8-0.4-0.1-0.6-0.7-0.2-1.6 0.3-2 0.5-0.8zM49 13.8l0.2-0.2 0.5 1.1 0 1.1-0.5 0.9-0.4-0.3-0.2-0.6 0.1-1.6zM75.2 21.2l2 0.2 1.6 0.4 1.2 1 0.1 1-0.9 1-1.4 0.5-2 0.3-2-0.4-1.2-1 0-1.4 0.8-1zM61.6 22.2l0.6-0.1 0.6 0.2 0.4 0.9-0.3 1-0.7 0.5-0.4-0.1-0.7-0.8 0.1-1zM66.7 22.2l1.1-0.3 1 0.4 0.4 0.9-0.4 1.3-1 0.4-1-0.3-0.6-1.4zM57 22.8l0.2-0.2 0.6 0.1 0.2 0.5-0.2 0.9-0.6 0.1-0.4-0.4zM73.8 27.8l2-0.4 2 0.3 1.3 0.5 0.6 0.6 0.1 0.4-0.6 0.8-1.4 0.6-2 0.3-1.6-0.2-1-0.5-0.5-1 0.3-1zM67.1 28.2l1.1 0 0.6 0.4 0.1 0.6-0.1 0.6-1 0.4-1-0.4-0.2-1zM61.6 28.8l0.6-0.3 0.4 0.3 0.2 0.5-0.6 0.5-0.4-0.1-0.3-0.5zM74.6 32.8l1.6-0.1 1.6 0.2 1.4 0.9 0 0.4-0.5 0.6-1.5 0.5-1.4 0.1-1.6-0.1-0.9-0.5-0.3-1 0.4-0.6zM67.1 33.8l0.7-0.3 0.4 0.1 0.2 0.6-0.6 0.4-0.6-0.1-0.2-0.3zM74.2 37.8l2-0.3 1.2 0.3 0.7 0.4-0.1 0.6-0.8 0.3-2 0.3-1.5-0.6 0-0.6zM75.2 42.2l1.1 0 0 0.6-1.2 0z"/><path fill="#39589a" d="M75.2 9.8l1.6 0.1 1.4 0.7 1.6 1.4 1 1.8 0.2 1.4-0.3 1.6-0.9 1-1.6 0.7-2 0.4-2-0.1-1.1-0.6-0.7-1-0.4-2.4 0.5-2.6 1.3-1.8zM62 11.2l0.8 0.3 0.4 0.7 0.5 2.6-0.3 2.4-0.6 0.8-0.6 0.2-1-0.4-0.3-0.6-0.4-2 0.4-2.4 0.3-1zM66.9 11.2l0.9-0.4 1 0.7 0.6 1.3 0.3 1.4 0 1.6-0.3 1.4-0.6 0.8-1 0.4-1-0.3-0.4-0.3-0.7-2 0.2-2.6zM56.7 12.2l0.5-0.4 0.6 0.1 0.5 0.9 0.3 1.4-0.1 2.6-0.7 1-0.6 0.1-0.7-0.7-0.4-1.4 0.1-2zM52.8 12.8l0.4-0.2 0.5 0.6 0.3 1.6-0.1 1.4-0.7 1.1-0.4-0.1-0.6-1.4 0-1.8zM49.2 14.2l0.2 1-0.2 0.9-0.5-0.9zM73.6 21.8l1.6-0.5 2.6 0.3 1.4 0.6 0.5 0.6 0.2 1-1 1-1.1 0.4-2 0.3-1.6-0.2-1-0.5-0.6-1 0.1-1zM67 22.2l1.2 0 0.7 0.6 0.1 1-0.8 0.8-1 0.1-0.5-0.5-0.3-1zM61.4 22.8l0.8-0.5 0.6 0.3 0.2 0.6-0.4 1.1-0.4 0.2-0.6-0.3-0.3-0.4zM74.2 27.8l1.6-0.3 2 0.3 1 0.4 0.6 0.6 0.1 0.4-0.3 0.6-1.4 0.7-2 0.3-1.6-0.2-1-0.5-0.4-0.9 0.4-1zM66.8 28.8l1-0.5 0.8 0.5 0.1 0.4-0.5 0.7-1 0-0.5-0.7zM73.6 33.2l1.6-0.4 2 0.1 1.6 0.7 0.1 0.6-0.5 0.6-1.2 0.3-2.4 0.1-1-0.3-0.6-0.7 0-0.4zM74.7 37.8l2.1 0 0.9 0.4-0.1 0.6-1.4 0.4-1.4-0.1-0.7-0.3-0.1-0.6z"/><path fill="#3b61a0" d="M74.3 10.2l0.9-0.3 1.6 0.2 1.4 0.7 1.6 1.5 0.8 1.5 0.2 1.4-0.3 1.6-0.9 1-1.8 0.8-2 0.3-2-0.4-1-0.7-0.7-2 0.3-2.6 0.8-2zM67.2 11.2l0.6-0.1 1 0.7 0.6 1.4 0.2 1.6 0 1.4-0.4 1-0.4 0.7-1 0.3-1.3-0.4-0.5-1-0.2-1 0.4-3zM61.6 11.8l0.6-0.3 0.6 0.3 0.5 1 0.3 1.4-0.2 2.6-0.5 1-0.7 0.2-1-0.4-0.6-1.8 0.2-2.6zM57 12.2l0.2-0.1 0.6 0.1 0.5 1 0.2 1.6-0.3 2.2-0.4 0.6-0.6 0.1-0.4-0.3-0.4-0.6-0.2-1.6 0.3-2zM52.7 13.2l0.5-0.2 0.6 1.2 0 2-0.6 0.9-0.4-0.2-0.5-1.1 0.1-1.6zM73.9 21.8l1.9-0.4 2 0.4 1.6 1 0.2 1-0.8 0.9-1 0.4-2 0.3-1.6-0.2-1-0.6-0.4-0.8 0.1-1zM67.6 22.2l0.6 0.2 0.6 0.8-0.3 1-0.7 0.4-0.9-0.4-0.3-1 0.2-0.5zM61.7 22.8l0.5-0.2 0.6 0.5 0 0.7-0.6 0.4-0.4-0.1-0.3-0.3zM74.6 27.8l1.6-0.1 1.6 0.2 1 0.5 0.4 0.8-0.4 0.7-1.6 0.6-1.4 0.2-1.6-0.2-1-0.6-0.2-0.7 0.4-1zM67.2 28.8l0.6-0.2 0.4 0.1 0.2 0.5-0.5 0.6-0.4 0-0.5-0.6zM73.9 33.2l1.3-0.3 2 0.2 1.4 0.7 0 0.4-1.4 0.8-2.4 0.1-1-0.3-0.4-0.6 0-0.4zM74.3 38.2l1.5-0.4 1.5 0.4-0.2 0.6-1.3 0.3-1.4-0.3z"/><path fill="#3c6aa5" d="M74.8 10.2l1.4 0 1.6 0.5 1.2 1.1 1.1 1.5 0.5 1.5-0.1 1.4-0.6 1-1.1 0.9-2 0.6-2 0-1.3-0.5-0.9-1-0.4-2 0.4-2.4 0.8-1.6zM62 11.8l0.8 0.3 0.3 0.7 0.4 2-0.3 2.2-0.4 0.7-0.6 0.2-0.4-0.1-0.7-0.6-0.4-2 0.4-2.4 0.7-1zM66.9 11.8l0.9-0.5 0.4 0.2 0.9 1.3 0.4 1.4 0.1 1.6-0.4 1.2-0.4 0.7-1 0.4-1.1-0.3-0.7-1.6 0-2.4zM56.8 12.8l0.4-0.5 0.6 0.2 0.4 1.1 0.3 1.2-0.3 2-0.4 0.6-0.6 0.1-0.4-0.3-0.5-1.5 0-1.4zM52.7 13.8l0.5-0.4 0.6 1.3 0 1.1-0.6 1-0.4-0.2-0.3-0.8zM74.2 21.8l1.6-0.3 2 0.3 1.4 1 0.2 1-0.6 0.7-1.6 0.6-1.4 0.2-1.6-0.2-1.1-0.9-0.2-1 0.4-1zM67 22.8l0.8-0.4 0.6 0.4 0.2 1-0.4 0.4-1 0-0.4-0.4zM61.7 23.2l0.5-0.3 0.3 0.3-0.1 0.6-0.6 0zM75.2 27.8l2.6 0.3 1.1 0.7 0.1 0.4-0.3 0.6-1.5 0.6-2 0.2-1.3-0.4-0.6-0.4-0.1-1 0.6-0.6zM74.1 33.2l1.7-0.2 1.4 0.2 1.1 0.6 0 0.4-0.6 0.6-0.9 0.2-2 0-0.8-0.2-0.5-0.6 0.1-0.4zM74.7 38.2l1.1-0.2 0.9 0.2-0.2 0.6-0.7 0.1-0.8-0.1z"/><path fill="#3c77b0" d="M74.1 10.8l1.1-0.5 1.6 0.2 1.4 0.8 1.4 1.5 0.7 1.4 0.1 1.6-0.3 1-1 1-1.3 0.6-2 0.3-1.6-0.2-1.1-0.7-0.7-1.6 0-2 0.5-2zM67.1 11.8l0.7-0.3 1 0.8 0.7 2.5-0.1 1.4-0.4 1-0.5 0.6-0.7 0.2-0.9-0.2-0.5-0.6-0.4-1.4 0.2-2.6zM61.6 12.2l0.6-0.3 0.6 0.4 0.6 1.9-0.2 2.5-0.4 0.8-0.6 0.3-0.4-0.1-0.6-0.4-0.4-1.5 0.1-2zM57.1 12.8l0.7 0 0.2 0.4 0.4 2-0.3 1.6-0.3 0.4-0.6 0.1-0.5-0.5-0.3-1.6 0.2-1.4zM52.7 14.2l0.5-0.4 0.4 1-0.1 1-0.3 0.6-0.4-0.1-0.2-0.5zM74.5 21.8l1.7-0.2 1.6 0.4 1.2 0.8 0.2 1-0.4 0.5-1.6 0.7-1.4 0.2-1.6-0.2-1-0.8-0.2-1 0.5-1zM67.4 22.8l0.6 0 0.4 0.4 0 0.6-0.6 0.4-0.7-0.4-0.1-0.6zM73.8 28.2l1.4-0.4 1.6 0.1 1.4 0.6 0.6 0.7-0.4 0.6-1 0.4-2.6 0.2-1.3-0.6-0.1-1zM74.5 33.2l1.3-0.1 1.2 0.1 1 0.6 0 0.4-1.2 0.7-2 0-1.1-0.7 0.1-0.4z"/><path fill="#3d86bb" d="M74.5 10.8l1.3-0.3 1 0.1 1.4 0.9 1.3 1.3 0.7 1.4 0.1 1.6-0.4 1-1 1-1.7 0.6-2 0.2-1.4-0.4-1-1-0.4-2 0.2-2 0.7-1.4zM61.9 12.2l0.3 0 0.6 0.4 0.6 2.2-0.3 2-0.3 0.5-0.6 0.3-0.4-0.1-0.6-0.5-0.3-1.2 0.3-2.6zM66.9 12.2l0.9-0.4 0.4 0.2 0.7 0.8 0.4 1.4 0.1 1.6-0.3 1-0.3 0.6-1 0.5-1-0.4-0.7-1.3 0-2zM57 13.2l0.2-0.3 0.6 0.2 0.5 1.7-0.2 1.4-0.3 0.8-0.6 0.1-0.4-0.4-0.3-0.9 0.1-1.6zM52.8 14.8l0.4-0.4 0 1.6-0.4-0.5zM75 21.8l1.8 0 1.3 0.4 0.6 0.6 0.3 1-0.8 0.7-1.4 0.5-1.6 0.1-1.2-0.3-0.9-1 0.1-1 0.6-0.6zM67.3 23.2l0.5-0.2 0.3 0.2-0.1 0.6-0.5 0zM74.1 28.2l1.1-0.3 1.6 0.1 1.4 0.7 0.3 0.5-0.3 0.6-1.2 0.4-2.2 0.1-1-0.5-0.4-0.6 0.1-0.4zM74.9 33.2l1.9 0.1 0.9 0.5 0 0.4-1.5 0.7-1.6-0.1-0.6-0.6 0-0.4z"/><path fill="#47a3c7" d="M74.8 10.8l1.4-0.1 1.6 0.6 1.1 0.9 0.9 1.6 0.4 1.5-0.2 0.9-0.7 1-1.1 0.8-1.4 0.4-2 0.1-1.5-0.7-0.5-0.9-0.4-1.7 0.4-2 1-1.8zM67.1 12.2l0.7-0.2 0.5 0.2 0.7 1 0.3 1.6-0.3 2-0.3 0.4-0.9 0.6-1.1-0.6-0.6-1.4 0.2-2zM61.6 12.8l0.6-0.4 0.5 0.4 0.5 1.4 0 2-0.4 1-0.6 0.3-0.4-0.1-0.6-0.6-0.2-1 0-1.6zM57.2 13.2l0.6 0.2 0.4 1.8-0.4 1.6-0.6 0.1-0.4-0.5-0.2-1.2 0.2-1.3zM73.9 22.2l1.3-0.4 2 0.2 1.3 0.8 0.3 1-0.6 0.5-1.4 0.6-1.6 0.1-1-0.2-0.7-0.6-0.2-0.4 0.1-1zM74.3 28.2l0.9-0.2 1.6 0.1 1.3 0.7 0.2 0.4-0.4 0.6-1.1 0.4-2 0-1-0.4-0.2-0.6 0.1-0.4zM74.2 33.8l1-0.5 1 0 1.2 0.5 0 0.4-1.1 0.6-1.1 0-1-0.6z"/><path fill="#64afb7" d="M74.4 11.2l0.8-0.3 1.6 0.2 1.4 0.9 1.1 1.2 0.5 1.6 0 1-0.4 1-1.1 1-1.5 0.5-1.6 0.1-1.4-0.5-0.7-0.7-0.5-1.4 0.2-2 0.6-1.5zM67 12.8l0.8-0.4 0.4 0.2 0.8 1.6 0.1 1.6-0.3 1-0.6 0.5-0.4 0.2-1-0.5-0.5-1.2 0.1-1.6zM61.6 13.2l0.6-0.3 0.6 0.5 0.2 0.8 0 2-0.7 1-0.8-0.4-0.4-1 0.1-1.6zM57 14.2l0.2-0.4 0.6 0.4 0.1 0.6-0.1 1.3-0.6 0.3-0.4-1.2zM74.3 22.2l1.5-0.2 1.4 0.2 0.9 0.6 0.3 0.4 0 0.6-0.5 0.4-1.1 0.5-2.1 0.1-0.9-0.6-0.3-0.4 0.2-1zM75 28.2l1.8 0.1 0.8 0.5 0.2 0.4-0.4 0.6-0.6 0.2-2 0-0.6-0.2-0.3-0.6 0.1-0.4zM74.8 33.8l1.4-0.2 0.4 0.2 0.1 0.4-1.5 0.2-0.5-0.2z"/><path fill="#70ad92" d="M75.2 11.2l1 0.1 1.6 0.7 1 1 0.6 1.2 0.1 1.6-0.4 1-0.9 0.7-1 0.5-1.4 0.2-1.6-0.2-0.9-0.8-0.4-1-0.1-1.4 0.4-1.9 1-1.3zM67 13.2l0.8-0.4 0.4 0.2 0.6 1.2 0 2-0.6 0.8-0.4 0.2-0.9-0.4-0.4-1 0.1-1.6zM61.6 13.8l0.6-0.5 0.6 0.9 0.1 1.6-0.7 1-0.4-0.1-0.5-0.9zM74.9 22.2l1.3 0 1 0.3 0.8 0.7 0 0.6-0.5 0.4-1.3 0.4-1 0.1-1-0.4-0.4-0.5-0.1-0.6 0.3-0.4zM74.5 28.8l0.7-0.4 1 0.1 0.9 0.3 0.2 0.4-0.5 0.6-1.6 0.1-0.5-0.1-0.5-0.5z"/><path fill="#7caa70" d="M74.6 11.8l1.2-0.3 1 0.2 1.4 1.1 0.7 1 0.4 1.4-0.2 1-1.3 1.4-1.6 0.5-1.4-0.1-1-0.5-0.6-0.7-0.3-1.6 0.2-1.4 0.7-1.4zM67.5 13.2l0.7 0.3 0.6 1.4-0.3 1.3-0.7 0.7-0.6-0.1-0.4-0.6-0.2-1 0.2-0.9zM61.7 14.2l0.5-0.3 0.5 0.8-0.1 1.1-0.4 0.6-0.4-0.2-0.2-0.4zM74.4 22.8l0.8-0.4 1.6 0.2 0.8 0.6-0.1 0.6-1.3 0.6-1.4-0.1-0.7-0.5-0.1-0.6zM75.1 28.8l1.2 0 0.5 0.4-1 0.5-0.6-0.1-0.5-0.4z"/><path fill="#8db157" d="M75.5 11.8l1.3 0.2 1.1 0.8 0.8 1 0.4 1.4-0.2 1-0.9 1-1.1 0.6-1.1 0.1-1-0.1-1-0.6-0.6-1-0.2-1 0.2-1.4 0.6-1 1-0.9zM67.4 13.8l0.6 0 0.5 1-0.2 1.4-0.5 0.4-0.7-0.4-0.3-0.9zM62.1 14.8l0.2 0-0.1 1-0.3-0.5zM74.8 22.8l1-0.2 0.8 0.2 0.6 0.4-0.1 0.6-0.9 0.4-0.9 0-0.9-0.4 0-0.6z"/><path fill="#a8bb47" d="M74.6 12.2l1.2-0.2 1 0.2 1 0.7 0.6 0.9 0.4 1 0 1-0.5 1-0.6 0.4-1.4 0.6-1.1 0-1-0.4-0.6-0.6-0.4-1 0.1-1.6 0.5-1.1zM67.5 14.2l0.3-0.1 0.4 0.7 0 0.8-0.4 0.6-0.6-0.3-0.1-0.7zM74.8 23.2l1-0.3 0.8 0.3-0.1 0.6-0.7 0.2-0.9-0.2z"/><path fill="#c5c542" d="M75.3 12.2l0.9 0.1 1 0.5 0.9 1 0.5 1 0 1-0.6 1-1.8 0.8-1 0-1-0.3-0.5-0.5-0.4-1 0-1 0.5-1.4 0.5-0.6z"/><path fill="#d9c63e" d="M74.6 12.8l0.6-0.3 1 0 1 0.6 0.7 0.7 0.4 1 0 1-0.5 0.9-0.6 0.4-1 0.4-1 0-1-0.5-0.4-0.6-0.4-1.2 0.2-1z"/><path fill="#e1a336" d="M75.2 12.8l1.6 0.2 0.8 0.8 0.5 1-0.2 1.4-0.7 0.7-1 0.4-1.4-0.1-0.6-0.4-0.5-1-0.1-1 0.4-1z"/><path fill="#de762b" d="M74.6 13.2l1.2-0.3 1 0.3 0.5 0.6 0.6 1.4-0.3 1-0.5 0.6-0.9 0.3-1 0.1-0.8-0.4-0.4-0.6-0.2-1.4z"/><path fill="#d14e28" d="M75.1 13.2l1.1 0.1 1.2 0.9 0.2 1.6-0.8 1-1.6 0.2-1-0.8-0.2-1.5 0.4-0.9z"/><path fill="#c73029" d="M74.7 13.8l1.1-0.4 1 0.4 0.4 0.7 0.3 0.7-0.4 1-1.3 0.6-0.7 0-0.7-0.6-0.3-1 0.1-0.8z"/><path fill="#c52a2c" d="M75.2 13.8l1 0 0.9 1 0 0.9-0.9 0.8-1 0.1-0.8-0.8-0.1-1z"/><path fill="#ac262b" d="M74.9 14.2l0.9-0.3 1 0.7 0 1.2-0.5 0.4-1.1 0.1-0.4-0.4-0.3-0.7z"/><path fill="#8d2227" d="M74.9 14.8l0.9-0.5 0.4 0.2 0.4 0.7-0.2 0.6-0.6 0.3-0.6-0.1-0.4-0.7z"/><path fill="#7d1f24" d="M75.6 14.8l0.5 0.4-0.3 0.6-0.6-0.6z"/></g>
<g id="h12"><path fill="#2b3570" d="M73.2 7.2l2-0.3 2 0.1 1.6 0.5 2 1.2 1.1 1.1 1.1 1.4 0.6 1.6 0.4 2.4-0.5 3-2.1 3.6 0.9 2.4-0.1 1.6-1 1.2-2 1.2-0.4 0.6 2.2 1.4 0.7 1.6-0.7 1.4-2.2 1.6 0.3 0.4 2 1.6 0.3 1-0.4 1-2.1 1.4 0.2 0.6 1.6 1 0.6 1-0.2 1-2.1 1.4 0 0.6 1.6 1 0.6 1-0.2 1-2.1 1.4 0 0.6 1.6 1 0.6 1-0.2 1-2 1.4 0 0.6 1.5 1 0.6 1-0.2 1-2 1.4 0.1 0.6 1.4 1 0.7 1-0.3 1-1.9 1.4 0 0.6 1.5 1 0.6 1-0.3 1-1.9 1.4 0.1 0.6 1.4 1 0.6 1-0.2 1-1.9 1.4 0.1 0.6 1.3 1 0.7 1-0.3 1-1.8 1.4 0 0.6 1.3 1 0.6 1-0.3 1-1.7 1.4 0 0.6 1.2 1 0.5 1-0.4 1-0.7 0.5-1.4 0.6-2 0.5-2.6-1-0.5-0.6-0.3-1 0.3-1 0.7-1 0.1-0.6-1.1-1.4-0.2-1 0.4-1 0.8-1 0-0.6-1.1-1.4-0.2-1 0.4-1 0.8-1 0.1-0.6-1.1-1.4-0.2-1 0.3-1 0.9-1 0.1-0.6-1.2-1.4-0.2-1 0.4-1 0.9-1 0-0.6-1.1-1.4-0.2-1 0.4-1 0.9-1 0-0.6-1.2-1.4-0.1-1 0.3-1 1-1.1 0-0.5-1.2-1.4-0.2-1 0.4-1 0.9-1 0-0.6-1.2-1.4-0.1-1 0.3-1 1-1 0-0.6-1.3-1.4-0.1-1 0.4-1 0.9-1 0.2-0.6-1.3-1.4-0.2-1 0.1-1 1.4-2-1.3-1.6-0.4-1.4 0.4-1.6 1.3-1.4-1.3-1.6-0.5-1-0.4-3-0.3-0.9-2.6-2.4-3-0.7-1-0.4-0.8-1-0.6-2.6 0.6-3.4 0.4-1 1-1.1 2-0.6 2 0.5 0.4-0.1 2-1.4zM47.5 10.2l0.7 0 0.7 0.6 0.7 1.4 0.4 2 0 1.6-0.4 1.4-0.6 1-0.8 0.5-1-0.1-0.4-0.5-0.9-2.3 0.4-3.6 0.5-1.1zM52.6 10.2l0.6-0.2 1 0.5 0.9 1.7 0.3 2 0 1.6-0.5 2-0.7 0.7-1 0.3-1-0.3-0.4-0.5-0.8-2.8 0.6-3.4zM58 10.2l1.2-0.4 1 0.5 0.7 0.9 0.6 2 0.1 2-0.3 2-1.1 1.5-1 0.3-1-0.2-0.7-0.6-0.6-1-0.3-1.4 0.3-3.6zM27.6 10.8l0.6-0.1 0.7 0.5 0.6 1.6 0.2 1.4 0 1.6-0.3 1.4-0.6 0.9-0.6 0.3-1-0.2-0.4-0.6-0.7-2.4 0.5-3 0.5-1zM32.4 10.8l0.8-0.2 0.6 0.4 0.6 1.2 0.3 1.6-0.1 3-0.5 1-0.9 0.7-1-0.2-0.4-0.5-0.7-2 0.3-3 0.4-1.2zM37.3 10.8l0.9-0.3 0.6 0.4 0.6 1.3 0.3 1.6 0.1 1.4-0.2 1.6-0.4 1-1 0.7-1-0.2-0.4-0.5-0.7-2 0.2-3 0.5-1.3zM42.1 10.8l0.7-0.5 1 0.4 0.5 1.1 0.4 1.5 0.2 1.9-0.3 1.6-0.4 1-1 0.8-1-0.1-0.4-0.5-0.8-2.2 0.1-2.6 0.4-1.4zM17.7 11.2l0.5 0 0.6 0.4 0.5 1.2 0.3 1.4-0.3 2.6-0.5 0.9-0.6 0.3-1-0.2-0.4-0.6-0.5-2 0.4-2.4 0.5-1.2zM22.3 11.2l0.5-0.3 0.4 0 0.6 0.4 0.8 2.5 0.1 1.4-0.3 1.6-0.5 1-0.7 0.4-0.4 0-0.8-0.4-0.7-2.1 0.1-2.5zM12.5 11.8l0.7-0.2 0.6 0.4 0.6 2.2-0.2 2.3-0.4 0.9-0.6 0.4-1-0.3-0.7-1.7 0.2-2.6zM7.6 12.2l0.6-0.1 0.6 0.5 0.5 1.6-0.2 2-0.3 0.8-0.6 0.4-0.4 0-0.6-0.4-0.6-1.8 0.4-2zM2.5 13.2l0.3-0.3 0.4 0 0.8 1.3 0 1.6-0.8 1-0.5 0-0.6-1 0-1.6zM65.5 23.2l1.3-0.1 1 0.7 0.3 1.4-0.3 0.9-0.6 0.4-0.4 0.2-1-0.2-1-1-0.2-1.3 0.2-0.4zM58.7 24.2l0.7 0 0.1 0.6-0.2 0.4-0.5-0.2zM66.1 31.8l0.7-0.5 0.2 0.5-0.2 0.5zM74.4 91.3l0.8-0.4 1 0 2 0.6 1.1 0.7 0.2 0.6-0.1 0.4-0.6 0.6-1.6 0.5-1.4 0.1-1.6-0.3-0.7-0.3-0.5-1 0.6-1z"/><path fill="#2b3979" d="M75.4 7.8l2.8 0.4 2.6 1.6 1.7 2.4 0.5 1.6 0.2 1.4-0.2 1.6-0.4 1.4-2.5 3.6 1.2 2.4-0.2 1.6-0.7 1-1.2 0.7-3.4 1.1-2-0.7-1.4-1.1-0.5-1 0-3-0.4-1-2.7-2.8-3-0.4-1.6-0.7-0.6-1.1-0.3-1.6 0.5-3 0.6-1 0.8-0.6 1.6-0.3 2 0.6 0.4-0.1 3-2.3 1.6-0.5zM58.4 11.2l0.8-0.2 1 0.7 0.6 1.1 0.3 1.4 0 1.5-0.3 1.3-0.6 0.7-1 0.5-1-0.2-0.4-0.5-0.7-1.7 0-1.6 0.3-1.4zM42.7 11.8l0.5-0.1 0.6 0.5 0.6 2-0.2 2-0.4 1-0.6 0.5-0.4 0-0.7-0.5-0.6-2 0.3-2.1 0.4-1zM47.4 11.8l0.4-0.3 0.4 0 0.6 0.5 0.7 2.2-0.3 2.4-0.4 0.9-0.6 0.3-1-0.2-0.4-0.7-0.4-1.1 0.2-2.6zM52.4 11.8l0.8-0.5 0.6 0.2 0.8 1.3 0.3 1.4 0.1 1-0.4 1.6-0.4 0.6-1 0.6-1-0.5-0.7-1.7 0.1-2zM27.7 12.2l0.5 0 0.5 0.6 0.5 1.4-0.2 2-0.8 1.1-0.4 0-0.6-0.3-0.5-1.8 0.3-2zM32.5 12.2l0.7-0.1 0.6 0.5 0.4 1.6-0.1 2-0.9 1.2-0.4 0-0.6-0.3-0.5-1.3 0-2zM37.3 12.2l0.5-0.3 0.4 0.1 0.6 0.5 0.4 1.2 0 2.1-0.4 1.3-0.6 0.4-0.4 0-0.6-0.3-0.6-1.4 0.1-2zM22.5 12.8l0.7-0.2 0.6 0.6 0.2 1 0 1.6-0.2 0.7-0.6 0.5-0.4 0-0.6-0.4-0.4-1.3 0.2-1.5zM17.5 13.2l0.3-0.2 0.4 0 0.7 1.2 0 1.6-0.7 0.9-0.4 0-0.7-0.9 0-1.6zM12.7 13.8l0.5-0.1 0.5 1.1 0 0.5-0.5 0.8-0.4 0-0.5-0.9zM74.4 29.2l0.8-0.3 1 0 3 1.1 1.2 1.2 0.1 1-0.3 0.6-1.4 1-2 0.8-1.6 0-1.4-0.6-1.3-1.2-0.1-1.6 0.5-1zM75.2 35.2l0.6-0.2 0.4 0.1 3 1.1 1 1-0.1 1-1.1 1-2.2 0.9-1.6 0.1-1.4-0.7-1-0.9-0.3-1.4 0.7-1.1zM75 40.8l0.8-0.4 2 0.6 1.6 0.8 0.7 1-0.3 1-0.6 0.4-2.9 1 0 0.6 2.5 0.7 1 0.7 0.2 0.6 0 0.4-0.8 0.9-2.4 1-1.6 0.1-1-0.3-1-0.7-0.5-1 0.1-1 0.4-0.5 1-0.6 1.2-0.3 0-0.6-1.2-0.3-1-0.6-0.6-1.1 0.1-1 0.4-0.4zM75.7 50.8l0.1-0.3 0 0.3 1.4 0.2 2 0.9 0.7 0.9-0.3 1-1.4 0.8-2 0.6-1.4-0.2-1.4-0.8-0.7-1 0.2-1 1.3-1.1zM74.1 56.2l1.7-0.4 1.4 0.2 2 1 0.5 0.8 0 0.4-0.9 1-1.6 0.7-1.4 0.3-1-0.2-1.3-0.8-0.7-0.9 0.2-1.1zM74.2 61.2l1.5-0.4 1.5 0.2 2 1.1 0.5 0.7 0 0.4-0.9 1-1.6 0.7-1.4 0.3-1-0.3-1.3-0.7-0.6-1 0.1-1zM74.3 66.2l1.5-0.4 1.4 0.3 2 1.1 0.4 0.6 0 0.4-0.8 1-1.6 0.6-1.4 0.3-1-0.2-1.2-0.7-0.7-1 0.2-1zM74.3 71.2l1.5-0.4 1.4 0.3 2 1.1 0.3 1-1 1-1.7 0.8-1 0.1-1-0.2-1.1-0.7-0.7-1 0.1-1zM74.4 76.2l1.4-0.4 2 0.5 1.4 0.9 0.2 1-1 1-1.6 0.7-1 0.2-1-0.3-1-0.6-0.7-1 0.1-1zM74.6 81.2l1.2-0.3 2 0.5 1.2 0.8 0.2 1-0.4 0.6-1.6 0.9-1.4 0.3-1-0.3-1.4-0.9-0.2-1 0.5-1zM74.8 86.2l1.4-0.2 1.6 0.6 0.9 0.6 0.2 0.6-0.1 0.4-0.6 0.6-1.4 0.6-1.6 0-1-0.4-0.7-0.8-0.1-0.4 0.6-1zM74.8 92.2l1.4-0.2 1 0.2 0.4 0.6-0.4 0.5-1.4 0.4-1.1-0.5-0.2-0.4z"/><path fill="#2c3c80" d="M73 8.8l2.8-0.5 1.4 0.1 1.6 0.6 2.2 1.8 1 1.4 0.5 1.6 0.1 2.4-0.6 2-0.9 1.6-1.9 2 1.4 2.4-0.2 1.6-1.2 1.2-2.4 0.9-1.6 0-2-0.8-0.6-0.9-0.3-1 0.3-3-0.2-0.4-1.8-1.6-1.8-2-2.6 0-1.4-0.5-0.8-0.9-0.3-1 0.2-2.6 0.5-1 0.8-0.8 1.6-0.4 2 0.8 0.4-0.1 2-1.9zM53.2 12.2l0.6 0.3 0.4 0.7 0.4 2-0.4 1.3-0.4 0.6-0.6 0.2-0.4-0.2-0.6-0.5-0.3-1.4 0.3-2.1 0.6-0.7zM58.3 12.2l0.4-0.3 1.1 0.2 0.5 0.7 0.4 1.4-0.1 2-0.7 1-0.7 0.4-1-0.4-0.7-1.4 0.1-2zM42.7 12.8l0.5 0 0.6 0.7 0.2 1.7-0.2 1.1-0.6 0.6-0.4 0-0.6-0.4-0.3-1.3 0.2-1.4zM47.4 12.8l0.4-0.3 0.4 0 0.6 0.6 0.3 1.1 0 1.6-0.3 0.8-0.6 0.5-0.4 0-0.6-0.4-0.4-0.9 0-1.6zM37.6 13.2l0.6-0.1 0.6 1.1 0 1.6-0.6 0.8-0.4 0-0.5-0.4-0.3-1 0.2-1.4zM27.6 13.8l0.2-0.3 0.4 0.1 0.4 0.6 0.2 1-0.6 1.1-0.4 0-0.6-0.7 0-0.8zM32.4 13.8l0.4-0.5 0.4 0 0.5 0.9 0.1 1.4-0.6 0.8-0.4 0.1-0.6-0.7-0.1-1zM22.7 14.2l0.6 0 0.2 1-0.3 0.6-0.4 0-0.3-0.6zM74.3 29.8l1.9-0.4 2 0.6 1.2 0.8 0.3 0.4 0 1-0.9 1-1.6 0.7-1.4 0.2-1.6-0.4-1.1-0.9-0.3-1 0.4-1.2zM75.2 35.8l2 0.1 1.6 0.7 0.6 0.6-0.1 1-1.1 0.9-2 0.5-1.4-0.1-1-0.5-0.6-0.8-0.1-1 0.8-1zM75 41.2l1.2-0.1 2 0.6 0.8 0.5 0.3 1-0.5 0.7-1.6 0.7-1.4 0.2-1.6-0.4-0.8-0.6-0.3-1 0.7-1zM75.7 46.2l2.5 0.6 0.7 0.4 0.3 0.6 0 0.4-1 0.9-1.4 0.5-1.6 0.1-1-0.4-0.9-1.1 0.1-1 0.8-0.6zM74.1 51.8l1.7-0.5 1.4 0.2 1.5 0.7 0.3 0.6 0 0.4-0.4 0.6-1.4 0.6-1.4 0.2-1-0.1-1-0.6-0.4-0.7 0.2-1zM74.3 56.8l1.5-0.5 1.4 0.3 1.3 0.6 0.4 0.6-0.1 0.4-0.4 0.6-1.2 0.6-1.4 0.2-1-0.2-1-0.6-0.3-0.6 0.2-1zM74.4 61.8l1.4-0.4 1.4 0.2 1.2 0.6 0.4 0.6-0.1 0.4-0.5 0.6-1.4 0.6-1 0.2-1-0.3-1-0.5-0.2-0.6 0.2-1zM74.5 66.8l1.3-0.4 1.4 0.3 1.1 0.5 0.4 0.6-0.1 0.4-0.4 0.6-1.4 0.6-1 0.1-1-0.2-0.9-0.5-0.3-0.6 0.2-1zM74.6 71.8l1.2-0.4 1.4 0.3 1 0.5 0.4 0.6-0.1 0.4-0.4 0.6-1.3 0.5-1 0.2-1-0.3-1.1-1 0.2-1zM74.7 76.8l1.1-0.3 1.4 0.3 0.9 0.4 0.3 0.6 0 0.4-0.5 0.6-1.1 0.5-1 0.1-1-0.2-0.7-0.4-0.3-1zM75 81.8l0.8-0.2 1.4 0.3 1 0.9-0.1 0.4-1.3 0.9-1 0.2-1-0.3-0.8-0.8 0-0.4 0.2-0.6zM74.6 87.2l0.6-0.3 1-0.1 1.1 0.4 0.4 0.6-0.5 0.6-1.4 0.5-1.3-0.7-0.1-0.4z"/><path fill="#2d4086" d="M74.5 8.8l2.7 0 2.6 1.3 1.7 2.1 0.7 2.6-0.1 2-0.5 1.4-1.1 1.6-2 2 1.4 2 0.3 1-0.3 1-1.1 1.1-2.6 0.7-2-0.3-1.2-1.1-0.4-1.4 0.6-2.6-0.1-0.4-2.3-2-1.6-2-0.4-0.4-2 0.4-1.6-0.3-0.8-0.7-0.5-1.6 0.4-2 0.9-1.2 1.6-0.4 2 1 0.4 0 2.6-2.7 1.4-0.8zM58.7 12.8l0.5-0.2 0.6 0.3 0.7 1.9-0.3 1.4-1 0.8-1-0.4-0.5-1.4 0.3-1.4zM52.9 13.2l0.3-0.1 0.6 0.3 0.4 1.4-0.1 1-0.3 0.6-0.6 0.2-0.6-0.4-0.4-1 0.1-1zM47.5 13.8l0.3-0.4 0.4 0.1 0.5 0.7 0.1 1-0.6 1.1-0.4 0.1-0.6-0.6-0.1-1zM42.5 14.2l0.3-0.4 0.4 0.1 0.2 0.3 0.2 1-0.4 0.8-0.4 0-0.5-0.8zM37.6 14.8l0.2-0.3 0.4 0.1 0 0.8-0.4 0.2zM74.2 30.2l1.5-0.4 2.1 0.4 1.3 1 0 1-0.9 0.9-1 0.5-1.4 0.2-1-0.2-1-0.7-0.5-0.7 0-1zM74.7 36.2l1.5-0.2 1.6 0.5 0.9 0.7-0.1 1-0.8 0.7-1.6 0.4-1-0.1-1-0.4-0.5-0.6-0.1-1zM74.6 41.8l1.2-0.3 1.6 0.3 0.9 0.4 0.3 0.6 0 0.4-0.4 0.6-1.4 0.5-1 0.1-1-0.2-1.1-1 0.2-1zM74.9 46.8l0.9-0.2 1.4 0.2 0.9 0.4 0.4 0.6-0.1 0.4-0.4 0.6-1.2 0.4-1 0.2-1-0.3-0.7-0.3-0.3-1 0.3-0.6zM75.1 51.8l1.1-0.1 1.6 0.5 0.5 0.6-0.1 0.5-0.5 0.4-0.9 0.4-1 0.2-1-0.3-0.9-0.8 0-0.4 0.3-0.6zM75.6 56.8l1.2 0.1 0.9 0.3 0.4 0.6-0.1 0.4-0.5 0.6-1.3 0.3-1.4-0.2-0.7-0.7 0-0.4 0.3-0.6zM74.5 62.2l1.2-0.4 1.1 0.1 1 0.6 0.1 0.7-1.1 0.8-1.6 0-1-0.8 0-0.4zM74.6 67.2l1.2-0.4 1 0.2 1 0.7 0 0.5-1 0.7-1.6 0.1-0.9-0.8 0-0.4zM74.7 72.2l1.1-0.3 1 0.2 0.9 0.7-0.1 0.4-0.8 0.6-1.6 0.1-0.8-0.7 0-0.4zM74.9 77.2l0.9-0.2 1 0.2 0.7 0.6-0.1 0.4-1.2 0.7-1-0.1-0.6-0.6-0.1-0.4zM75.3 82.2l0.9 0 0.6 0.2 0.3 0.4-0.1 0.4-0.8 0.4-1-0.1-0.3-0.3-0.1-0.4z"/><path fill="#30458b" d="M73.7 9.2l2.5-0.2 2.6 0.8 1.2 1 0.9 1 1 2.4 0 2-0.7 2-1.1 1.6-2.4 2 1.8 2 0.2 1.4-0.9 1.3-2 0.8-2-0.1-1.5-1-0.4-1 0-1 1-2.4-2.8-2-1.9-2.9-0.4-0.2-1.6 0.6-1.4-0.1-1-0.6-0.6-1.4 0.3-1.4 0.7-1.2 1.6-0.5 1 0.5 1 0.9 0.4-0.1 2-2.7 1-0.8zM58.5 13.8l0.7-0.4 0.8 0.8 0.1 1-0.3 0.9-0.6 0.3-0.4 0-0.6-0.6-0.1-1zM53 14.2l0.2-0.1 0.6 0.7 0 0.6-0.6 0.5-0.5-0.7zM74.8 30.2l1.4-0.1 1.6 0.4 0.7 0.7 0 1-0.7 0.8-1 0.4-1 0.1-1-0.3-0.7-0.4-0.4-1 0.4-1zM74.5 36.8l1.3-0.5 1 0.2 1 0.4 0.4 0.9-0.3 0.4-0.8 0.6-1.9 0.1-1-0.6-0.2-0.5zM74.5 42.2l1.3-0.4 1 0.1 1 0.5 0.2 0.4 0 0.4-1.2 0.8-1.6 0-1-0.8-0.1-0.4zM74.7 47.2l1.1-0.3 1 0.1 1 0.8 0 0.4-1 0.7-1.6 0-0.9-0.7 0-0.4zM74.9 52.2l0.9-0.2 1.2 0.2 0.6 0.6-0.1 0.4-0.7 0.6-1.6 0-0.7-0.6 0-0.4zM75.2 57.2l1.6 0.1 0.5 0.5-0.1 0.4-1 0.5-1-0.1-0.4-0.3-0.1-0.5zM75.5 62.2l1.3 0.3 0.3 0.3-0.1 0.4-0.8 0.4-1-0.1-0.3-0.3-0.1-0.4zM75 67.8l0.8-0.5 1.1 0.5-0.1 0.4-1 0.4-0.7-0.4zM75.2 72.8l0.6-0.3 0.8 0.3-0.1 0.4-0.7 0.2-0.5-0.2z"/><path fill="#33498f" d="M75.2 9.2l2.6 0.4 2 1.3 1.3 1.9 0.6 2.4-0.4 2-0.7 1.6-1.4 1.3-2.5 1.7 1.5 1 0.9 1 0.3 1-0.3 1-1.3 1-2 0.4-1.6-0.4-0.5-0.6-0.5-1 0.1-1.4 1.6-2-2.7-1.5-1.2-1.1-1-1.4-0.8-2.1-0.4-0.1-0.5 0.6-1.1 0.7-1 0.1-1-0.5-0.7-1.3 0.3-1.4 0.4-0.6 1-0.5 1 0.1 0.7 0.4 0.9 1.5 0.4 0 0.9-1.9 1.5-2 1.6-1.1zM59.2 14.2l0.4 1-0.4 0.5-0.5-0.1-0.1-0.4 0.2-0.8zM74.6 30.8l1.2-0.5 1.4 0.4 0.8 0.5 0 1-1.2 0.9-1.6 0-1-0.9 0-1zM75.2 36.8l1.6 0 0.6 0.4 0.2 0.6-0.8 0.7-1.6 0.1-0.5-0.4-0.2-0.4 0.1-0.6zM75.1 42.2l1.6 0 0.7 0.6-0.1 0.4-1.1 0.6-1-0.1-0.5-0.5-0.1-0.4zM75.7 47.2l1.4 0.6-0.1 0.4-0.8 0.4-1-0.1-0.3-0.3 0-0.4zM75.2 52.8l0.6-0.3 0.9 0.3-0.2 0.4-0.7 0.2-0.6-0.2z"/><path fill="#354e93" d="M73.8 9.8l2.4-0.3 2 0.6 2 1.7 1 2 0.2 2.4-0.8 2-1.4 1.6-2.4 1.3-1 0.2-1-0.1-2.6-1.2-1.6-1.8-0.8-2-0.2-1.4 1-2.6 1.4-1.4zM66 13.2l0.8-0.1 0.4 0.2 0.8 0.9 0.2 1-0.4 1-0.6 0.3-0.4 0.1-1-0.2-0.6-0.4-0.4-0.8 0.4-1.4zM75.3 22.2l0.5-0.1 1.4 0.5 1.5 1.2 0.2 1.4-0.7 1-1 0.6-1.4 0.2-1.1-0.2-0.9-0.8-0.4-1.2 0.2-1 0.6-0.9zM75.2 30.8l1-0.2 1 0.5 0.4 0.7-0.2 0.4-1.2 0.7-1.1-0.1-0.5-0.6-0.1-0.4 0.1-0.6zM75.2 37.2l1-0.1 0.4 0.1 0.3 0.6-0.6 0.4-0.8 0-0.5-0.4zM75.3 42.7l0.5-0.2 0.7 0.3-0.1 0.4-0.6 0.2-0.4-0.2z"/><path fill="#375296" d="M74.8 9.8l2.4 0.1 2 1.1 1.4 1.8 0.6 2-0.2 2-1 2-1.8 1.4-2 0.7-1 0.1-1.4-0.4-1.5-0.9-1.7-1.9-0.7-2 0.3-2 1.1-2.1 1.5-1.2zM66.1 13.8l0.7-0.2 0.4 0.3 0.6 0.9-0.3 1-0.7 0.4-1-0.3-0.6-0.7 0.3-1zM74.9 22.8l1.3-0.3 1.7 0.7 0.7 1 0 1-0.2 0.6-0.6 0.5-1.6 0.5-1-0.1-0.9-0.5-0.6-1 0-1 0.5-1zM75.1 31.2l0.7-0.3 0.4 0.1 0.6 0.2 0.2 0.6-0.2 0.5-1 0.3-0.7-0.4-0.2-0.4z"/><path fill="#39589a" d="M73.6 10.2l2.2-0.3 2 0.4 1.4 1 1.4 1.9 0.4 2.6-0.6 2-1.2 1.5-2 1.2-2 0.2-2-0.5-1.7-1.4-0.9-1.6-0.4-2 0.4-2 1.2-1.7zM65.9 14.8l0.3-0.4 0.6-0.1 0.4 0.4 0.1 0.5-0.5 0.5-0.6 0-0.4-0.5zM75.7 22.8l1.7 0.4 0.6 0.6 0.4 1-0.6 1.2-1 0.5-1 0.1-1-0.3-0.6-0.4-0.3-1.1 0.3-1.2 0.6-0.5z"/><path fill="#3b61a0" d="M74.2 10.2l2-0.1 2 0.7 1.6 1.3 0.8 1.7 0.2 2-0.6 2-1.4 1.7-2 0.9-2 0.1-2-0.9-1.6-1.5-0.8-1.9 0.1-2 0.5-1.4 1.3-1.6zM75 23.2l1.2-0.2 1.4 0.8 0.5 1-0.5 1-1.4 0.6-1-0.1-0.4-0.2-0.7-1.3 0.3-1z"/><path fill="#3c6aa5" d="M75.2 10.2l2 0.3 1.6 0.8 1.2 1.5 0.6 1.9-0.1 2.1-1.2 2-1.5 1.1-2 0.5-2-0.4-1.6-1-1.2-1.8-0.5-1.4 0.3-2 1-1.8 1.4-1.2zM75.6 23.2l0.6 0.1 1 0.4 0.6 0.9-0.5 1.2-1.1 0.4-1-0.1-0.8-0.9 0-1 0.4-0.5z"/><path fill="#3c77b0" d="M73.7 10.8l1.5-0.4 2 0.3 1.8 1.1 1.1 1.5 0.4 1.9-0.4 2-1 1.6-1.9 1.1-2 0.3-1.4-0.4-2-1.6-0.9-1.4-0.2-1.6 0.4-2 1.1-1.4zM75.1 23.8l0.7-0.4 1 0.4 0.5 0.4 0 1-1.1 0.8-1-0.1-0.5-0.7-0.1-0.4z"/><path fill="#3d86bb" d="M74.2 10.8l1.6-0.3 2 0.5 1.4 1.2 0.9 1.6 0.2 2-0.6 2-1.4 1.4-1.5 0.7-2 0.1-1.6-0.7-1.4-1.4-0.9-1.7 0-2 0.7-1.4 1.2-1.3zM75.6 23.8l0.6 0 0.6 0.3 0.3 0.7-0.2 0.4-0.7 0.5-0.6 0.1-0.6-0.6 0-1z"/><path fill="#47a3c7" d="M74.8 10.8l2 0 1.4 0.7 1.3 1.3 0.7 2-0.2 2-0.8 1.3-1.4 1.3-1.6 0.5-2-0.2-1.4-0.9-1.3-1.6-0.5-1.4 0.1-1.6 0.7-1.5 1.4-1.4zM75.3 24.2l0.5-0.2 0.7 0.2 0.2 0.6-0.2 0.4-0.7 0.3-0.5-0.3-0.1-0.4z"/><path fill="#64afb7" d="M74 11.2l1.8-0.3 1.4 0.4 1.5 0.9 1 1.6 0.2 2-0.4 1.4-0.7 1.1-1.6 1-1.4 0.4-1.6-0.3-1.4-1-1.2-1.6-0.3-1.6 0.2-1.4 1-1.6z"/><path fill="#70ad92" d="M75.1 11.2l1.7 0.2 1.4 0.8 0.9 1 0.6 1.6-0.1 1.4-0.7 1.6-1.1 1-1.6 0.5-1.4-0.1-1.6-0.8-1-1.2-0.6-1.4 0-1.6 0.8-1.4 1.4-1.2z"/><path fill="#7caa70" d="M74.1 11.8l1.7-0.3 1.3 0.3 1.1 0.7 0.9 1.3 0.4 1.4-0.3 1.6-1 1.3-1 0.7-1.4 0.3-1-0.1-1.3-0.8-1.3-1.4-0.4-1.6 0.3-1.4 0.7-1.1z"/><path fill="#8db157" d="M75 11.8l1.2-0.1 1.6 0.7 0.8 0.8 0.6 1.6-0.1 1.4-0.5 1-0.9 1-1.5 0.7-1 0-1.3-0.7-1.1-1-0.7-1.4-0.1-1 0.6-1.6 1.2-1z"/><path fill="#a8bb47" d="M74.1 12.2l1.1-0.3 1.6 0.2 1 0.7 0.8 0.9 0.3 1.1-0.1 1.4-0.6 1.2-1 0.9-1.4 0.4-1-0.2-1.1-0.7-1.2-1.6-0.3-1 0.4-1.4 0.6-0.9z"/><path fill="#c5c542" d="M74.8 12.2l1.4 0 1 0.4 1 1 0.5 1.2 0 1-0.5 1.2-1 1-1 0.4-1 0-1-0.5-1.2-1.1-0.5-1 0-1 0.3-1 0.9-1z"/><path fill="#d9c63e" d="M74.2 12.8l1-0.4 1 0 1 0.5 0.9 0.9 0.4 1 0 1-0.3 1-1 1-1 0.4-1 0-1-0.6-1.2-1.4-0.3-1 0.2-1 0.6-1z"/><path fill="#e1a336" d="M74.7 12.8l1.1-0.2 1 0.2 0.6 0.4 0.7 1 0.2 1-0.2 1-0.6 1-0.7 0.6-1 0.2-1-0.3-1.1-0.9-0.7-1-0.1-1 0.3-0.8 0.6-0.8z"/><path fill="#de762b" d="M74.2 13.2l1.6-0.4 1 0.3 0.7 0.7 0.5 1 0 1-0.9 1.4-0.9 0.5-0.9 0-1.7-1.5-0.5-1 0.1-0.4 0.5-1z"/><path fill="#d14e28" d="M74.7 13.2l1.5-0.1 1 0.7 0.4 0.4 0.2 1.6-0.5 1-0.6 0.4-0.9 0.3-0.6-0.1-1.7-1.6-0.1-0.6 0.2-1z"/><path fill="#c73029" d="M74.3 13.8l1.5-0.5 1 0.4 0.4 0.5 0.3 0.6 0.1 1-0.8 1.1-1 0.4-0.6-0.1-1.4-1.4-0.1-1z"/><path fill="#c52a2c" d="M74.8 13.8l1.4-0.1 1 1 0 1.1-1 1.1-1 0-1.3-1.7 0.3-1z"/><path fill="#ac262b" d="M74.6 14.2l1.2-0.3 0.8 0.3 0.4 1-0.3 1-1 0.5-0.5-0.2-1-1.3z"/><path fill="#8d2227" d="M75.2 14.2l1 0.2 0.5 0.8-0.5 1-0.4 0.2-1.3-1.2 0.2-0.4z"/><path fill="#7d1f24" d="M75.4 14.8l0.4 0 0.4 0.4-0.4 0.7-0.8-0.7z"/></g>
<g id="h13"><path fill="#2c336b" d="M-3.8-1.8l97 0 0.1 97-85.3 0 0.4-1.4 1.4-2-2-2.2-0.6-0.2-1.4 1.2-1.6 0.5-1-0.1-1.4-0.9-0.9-1.3-0.1-1.6 0.3-1 1.2-1.4 0-0.6-2.1-2.1-0.4 0-2 1.5-1.6 0.1zM-0.2 76.6l-0.6 0.2-0.4 0.4 1 1.1 0.4-0.2 0.3-0.9zM14.2 91.2l-0.7 0.6 0.1 0.4 0.6 0.7 0.6 0.1 0.4-0.8 0-0.4-0.4-0.5zM-3.8 85.2l1 0.1 1 0.4 0.9 1.1 0.2 1-0.2 1-0.7 1-1.2 0.6-1 0.1zM2.9 92.8l1.3-0.3 1 0.3 1 1 0.4 1.4-5.3 0 0.5-1.4zM-3.8 93.2l0-0.1 0.6 0 1 0.4 0.6 0.7 0.3 1-2.5 0.1z"/><path fill="#2b3570" d="M-1.6-1.7l94.9-0.1-0.1 93.6-0.7 0.4-0.2 0.6 0.3 1.4-0.1 1-36.2 0 0.2-1.4 0.9-2-1.6-1.5-1.1 0.3-1.4 1.2 1.3 2 0.3 1.4-8 0 0.3-1.4 1.5-2-2.9-2.7-1.6 1.3-1.4 0.7-2 0-1.6-0.7-0.9-1.2-0.5-1.4 0.3-1.6 0.8-1.4 0-0.6-1.7-1.3-2.7 1.3 0 0.6 1.3 0.8 0.7 1.2 0.1 1.4-0.5 1-0.9 0.9-1 0.4-1.4 0.1-1-0.5-1.1-1.3-0.2-1.6 0.7-1.4 1.5-1 0.1-0.6-1.7-1-1.9-2.1-1.3 1.7-1.1 0.6-1.6 0-1.4-0.8-0.8-1.4-0.1-1.4 0.5-1 1.3-1.6-2.4-2.5-0.5-0.2-1.4 1.3-1.2 0.4-1.4-0.1-1.5-0.9-0.7-1.4-0.1-1 0.4-1 1.2-1.6 0.1-0.4-2.4-2.6-0.6 0.1-1.4 1.3-1 0.3-1.6-0.2-1-0.6-0.8-1.3 0-1.6 0.4-1 1.6-1.4 0.1-0.6-1.7-1.2-1.6-2-0.9 1.2-1.1 0.9-1 0.2-1.4-0.3-1.3-1.2-0.4-1.6 0.2-1 0.6-1 0.9-0.7 1-0.4 1 0.1 1 0.4 1.4 1.6 1.4-2 0.2-0.4-0.2-0.6-1.4-1.2-2 0.9-1 0.2-1.4-0.4-1.3-0.9-0.8-1.6-0.3-1.4 0.5-1.6 1.5-2 0-0.4-2.2-2.4-0.4 0-1.6 1.2-2 0.4 0-8.2 1.6 0.1 2 1.3 0.4-0.2 1.1-1.8-0.6-1-0.9-0.5-2 0.8-1.6 0.1 0-36.6zM14.3 61.7l-1.3 0.5 0 0.6 1.2 1.1 0.6 0 0.4-1.4-0.4-0.7zM21.2 69.6l-0.3 0.6 0.9 0.7 0.4-0.7-0.4-0.6zM28.2 76.7l-0.5 0.5 1.5 1.9 0.6-0.5 0.4-1.4-0.4-0.5-0.6-0.3zM-3.8 47.2l0-0.2 0.6 0 1.4 0.5 0.8 0.7 0.6 1.6-0.1 1-0.8 1.4-0.9 0.7-1 0.3-0.6 0zM-3.8 56.2l0-0.2 0.6 0 1 0.4 0.8 0.8 0.2 1-0.2 1-0.4 0.7-1 0.7-1 0.1zM3.2 63.8l1-0.2 1 0.3 1 1.3 0.1 1-0.4 1-1.1 1-1 0.1-1-0.3-1-1.2-0.2-1 0.4-1zM-3.8 64.2l1.5 0.6 0.5 1-0.4 1.4-1.6 0.6zM10 71.2l0.8-0.3 1 0 1 0.4 0.4 0.6 0.4 0.9 0 1-0.5 1-0.6 0.4-0.7 0.4-1 0-1-0.5-0.6-0.6-0.3-0.7 0-1 0.5-1zM3.1 71.8l1.1-0.2 1.2 0.6 0.2 1.6-0.8 1.1-1.6 0.1-0.8-0.8-0.2-1.4zM-3.8 72.2l1 0.4 0.4 0.6-0.4 0.9-1 0.4zM18 78.2l0.8-0.1 1 0.3 1 1.4 0.1 1-0.3 1-1.4 1-1 0.1-1-0.4-0.9-1.3-0.1-1 0.4-1 0.6-0.6zM10.1 79.2l0.7-0.3 1 0 0.9 0.9 0.2 1-0.7 1.2-1 0.3-1.3-0.5-0.3-0.6-0.1-1zM3.2 79.8l1-0.2 0.6 0.3 0.2 0.9-0.2 0.5-0.6 0.4-1-0.2-0.4-0.7zM24.8 85.8l1-0.3 1 0.2 1.2 1.1 0.2 1-0.2 1-1.2 1.2-1 0.2-1-0.3-1.1-1.1-0.1-1.6 0.5-1zM17.8 86.2l1.4 0.1 1 0.9-0.2 1.6-0.8 0.7-1.4 0-0.9-0.7-0.1-1.6zM10.3 87.2l0.5-0.3 1 0.1 0.4 0.6 0 0.7-0.4 0.6-1 0-0.7-0.7zM40.2 92.8l1.6-0.5 1.4 0.4 1.1 1.1 0.4 1.5-6-0.1 0.4-1.4zM32.4 93.2l1.4-0.2 1 0.4 0.7 0.8 0.2 1-4.6 0 0.3-1zM25.1 93.8l0.7-0.2 1 0.3 0.4 0.5 0.3 0.8-3.4 0 0.3-1zM18.2 94.2l0.6 0 0.4 0.4 0.4 0.6-2.3 0 0.5-0.7z"/><path fill="#2b3775" d="M14.4-1.8l78.9 0-0.1 78.5-1.4 0.5-0.3 0.6 0.5 2-0.6 1.4-4 3-0.1 0.6 0.4 0.4 1.5 1.6 0.3 1-0.1 0.4-0.8 1-2.9 2-0.3 0.6 0.2 0.4 2 2 0.4 1-19.9 0 0.2-3.4-1.1-2.4-0.4-0.1-2 1.1-2 0.5-2 0-2-0.7-0.7-0.4-0.7-1-0.1-1.6 0.9-1.4 1.9-1 0.1-0.6-2.4-1.3-1.1-1.7-0.1-1.4 1.2-2.6-0.3-0.4-1.7-1.6-0.6 0-2.7 2 1.6 1.6 0.4 1 0 1.4-0.6 1-0.7 0.6-1 0.5-1.4 0.2-1-0.1-1.4-0.6-1.1-1.6 0-1.4 0.5-1 1.7-1.6-2.4-2-1.2-2 0.1-1 0.8-2-0.6-0.9-1-0.1-0.9 0.6 0 0.4 1 1.6 0.4 1-0.3 1-1 1.4-1.2 0.8-1 0.3-1.4-0.1-1-0.5-1.3-1.5-0.2-1.4 0.3-1 1.2-1.6 0.2-0.4-2.2-2.2-0.6-0.5-1.4 1.3-1.6 0.6-1.4 0-1-0.4-1.3-1.4-0.3-1.4 0.4-1.6 1.2-1.5 0-0.4-2-2.1-0.6-0.2-1.4 1.1-1.6 0.5-1.4-0.2-1.4-1.2-0.7-1.4 0.1-1.6 0.5-1 1.3-1.4-0.2-0.6-2.2-2.1-0.4-0.2-1.6 1.3-1.4 0.4-1.6-0.4-1.1-1-0.6-1.4 0.1-2 1-1.6 1.5-1 0-0.4-1.9-1.2-1.4-2-0.6 0.2-1.3 1.4-1.1 0.5-1.6-0.2-1-0.7-0.8-1.6-0.2-1.4 0.3-1.6 0.7-1.2 1-0.7 1.6-0.2 1 0.3 1.4 1.3 0.6 0.2 1.6-2.7-1.6-1.9-0.6 0-1.4 0.8-1 0.3-2-0.5-1-0.9-1-1.8-0.6-0.4-1.2 2-1.2 0.7-1.6 0-1-0.5-0.6-0.8-0.7-2 0-2.4 0.6-2 1.3-2-0.4-0.6-2.2-0.9-4 0.3 0-20 1.6 0.6 2 1.7 0.4 0 0.6-0.5 1.5-2.1 1.5-1.2 1 0.1 2.4 1.8 0.6-0.3 2-2.9 1-1.1 1-0.5 2-0.1zM21.2 45.2l-1.2 0.6 0 0.4 1.8 1.1 0.6-0.5 0-1-0.6-0.6zM65.2 84.2l-0.3 0.6 0.9 0.1 0.4-0.1-0.4-0.6zM6.8 25.5l0 0.6 0.4 1 0.3-1.3-0.3-0.4zM-3.8 26.2l0-0.2 1 0.1 1 0.7 0.8 1.4 0.2 2-0.2 1.6-0.8 1.4-1 0.6-1 0.2zM2.7 38.2l1.1-0.3 1 0.1 1 0.7 0.5 1.1 0.2 1.4-0.3 1-0.5 1-0.9 0.7-1 0.2-1-0.4-1.2-1.5-0.1-1 0.1-1.4zM-3.8 38.8l0-0.3 0.6 0.1 1.1 0.6 0.5 1 0.1 1-0.3 1-0.4 0.7-1.6 0.6zM10 47.8l0.8-0.4 1 0 1 0.4 0.7 1 0.2 1-0.2 1.4-0.7 1-0.6 0.4-1 0.3-1-0.3-0.5-0.4-0.7-1-0.1-2 0.5-1zM3.1 48.2l0.7-0.2 1 0.2 0.8 1 0.1 1.6-0.5 0.9-0.4 0.4-1.6 0-0.9-0.9-0.2-1.4 0.4-1zM-3.8 48.8l1 0.3 0.5 1.1-0.5 1-1 0.4zM18.1 55.8l1.7 0.1 0.9 0.9 0.4 1 0 1-0.5 1-0.8 0.8-1 0.3-1-0.1-0.9-0.6-0.8-1.4 0.1-1 0.4-1 0.6-0.7zM10.3 56.8l1.5-0.3 0.9 0.7 0.3 1.6-0.8 1.1-0.4 0.3-1 0-1-0.7-0.3-0.7 0-1zM3.7 57.2l0.5 0.1 0.6 0.3 0.2 0.6-0.2 0.9-0.6 0.4-1-0.1-0.4-0.7 0.2-0.9zM24.6 63.8l1.2-0.4 1 0.1 1 0.6 0.4 0.7 0.2 1.4-0.4 1-0.8 0.8-1 0.4-1-0.1-1-0.5-0.5-0.6-0.3-1 0.1-1 0.5-1zM17.9 64.2l1.3 0.1 1 0.9 0 1.6-1 0.9-1.4 0-1-0.9 0-1.6zM10.4 65.2l0.8-0.3 0.8 0.3 0.3 0.6-0.3 1-0.8 0.3-0.8-0.3-0.3-1zM31.9 71.2l0.9-0.3 1-0.1 1 0.2 0.8 0.8 0.5 1.4-0.3 1-0.6 0.8-1 0.6-1 0.1-1-0.3-0.8-0.6-0.4-1-0.1-1 0.5-1zM24.8 71.8l1.4-0.3 1.2 0.7 0.2 1.6-0.8 1.1-1.6 0.1-1-0.8-0.1-1.4zM18.2 72.2l1 0.4 0.4 0.6-0.4 0.9-0.4 0.3-0.8-0.2-0.5-0.4 0.1-1zM40.9 78.2l0.9-0.1 1 0.2 1.2 0.9 0.4 1-0.1 1-1.1 1.3-1 0.4-1 0-1-0.3-0.9-0.8-0.3-1 0.1-1 0.7-1zM32.2 79.2l1-0.4 1.6 0.5 0.5 0.9-0.1 1-0.4 0.6-0.6 0.4-1 0.1-1.2-0.5-0.3-0.6-0.1-1zM25.2 79.8l1-0.2 0.6 0.5 0 1-0.6 0.5-0.4 0.1-0.9-0.5-0.1-1zM49.3 85.8l1.9-0.4 1 0.3 0.9 0.5 0.7 1.6-0.5 1.4-1.1 0.8-1 0.2-1.4-0.1-1-0.4-0.8-0.9-0.2-1 0.4-1.2zM40.8 86.2l1.4 0 1.1 0.6 0.3 0.4 0.1 1.1-0.7 0.9-0.8 0.4-1 0.1-0.9-0.5-0.5-0.4-0.1-1.6zM32.5 87.2l0.7-0.4 1 0.4 0.3 0.6-0.3 0.8-1 0.4-0.5-0.2-0.4-0.6zM60.7 92.8l1.5-0.2 2 0.5 1.4 1.1 0.2 1-7.9 0 0.3-1 0.6-0.6zM49.4 93.8l1.4-0.4 1 0.2 0.9 0.6 0.4 1-4.7 0 0.4-1zM41.2 94.2l1 0.1 0.7 0.9-2.6 0 0.2-0.4z"/><path fill="#2b397a" d="M25.8-1.8l67.5 0-0.1 66.8-0.6 1.2-1.1 1-3.9 2.6 0 0.4 1.8 2 0.2 1-1 1.6-3 2-0.2 0.4 0.3 0.6 1.7 1.4 0.5 1 0.1 0.6-1.1 1.4-2.9 2 0 0.6 2.5 2 0.5 1-0.1 0.4-0.7 1-3.2 2-0.3 0.6 0.3 0.4 2.5 2 0.5 1-16.6 0 0.3-1.4 0.9-2-1.6-3-0.1-1.6 0.7-3-1.3-3 0.1-4.4-1.2-2.1-0.4 0-2.6 1.4-2.4 0.3-2.6-0.5-1.4-1.1-0.5-1 0.1-1.6 0.7-1 1.5-1 0.3-0.4-2.1-1.3-1-1.3-0.4-2 0.3-1 0.9-1.4-0.1-0.6-1.7-1.6-0.6 0.1-2.4 1.5 0 0.6 1.2 1 0.7 1.4-0.1 1.6-0.8 1.2-1.6 0.8-1.4 0.2-2-0.5-1-0.7-0.6-1.6 0.2-1.4 0.8-1.3 1.2-0.7 0.1-0.6-2.2-1.4-1.3-2.6 0.1-1 1-2.4-0.9-1.1-1-0.2-1.4 0.7-0.3 0.6 1.3 1.2 0.7 1.2 0.1 1-0.6 1.6-1.2 1.2-2 0.5-2-0.6-1.1-1.1-0.4-1.6 0.4-1.4 0.5-0.9 1.5-1.1-0.2-0.6-1.7-1.1-1.6-2-1.5 1.7-1.5 0.6-1.4 0-1.6-0.9-0.9-1.7 0.2-2 0.7-1.4 2-1.2 0-0.4-2-1.1-2-2.2-1 1.3-1 0.6-1 0.3-1.4-0.2-1.4-1.3-0.5-1-0.2-1.4 0.5-2 1-1.2 1-0.5 1.6-0.1 1 0.4 1.4 1.5 0.6-0.4 1.1-1.7 0.1-0.6-0.2-0.4-1.6-1.4-2.4 1.1-1 0-1-0.3-1-0.6-1.6-2.2-0.4-0.2-1.1 1.6-0.9 0.6-1.6 0.2-1.4-0.6-1.1-1.8-0.4-2.4 0.5-2.6 1.5-2.4-0.3-0.6-2.2-1-4 0.2-3.6-1.4-2.4 0.8-1.6 0-1-0.4-2-1.3-0.4-0.1-2 1.1-1.6 0.3 0-16.8 1.6 0.7 2 2.4 0.4 0 2-3 1.6-1.1 0.4 0 1 0.6 2 2.2 0.6-0.1 2-2.9 1.4-0.8 1 0.3 2 2 0.6 0 2.4-3.3 1-0.7 1 0 0.6 0.3 2 1.5 0.4-0.3 2-3.2zM36.2 45.1l-1.6 0.7 0 0.4 1.2 0.7 1.4 1.3 0.9-1.4 0.1-1-1-0.9zM10.3 26.2l1.5-0.2 1 0.6 0.7 1.2 0.4 1.4 0 1.6-0.4 1.4-0.7 1.2-1 0.6-1 0-1-0.5-0.6-0.7-0.5-1.6-0.1-1.4 0.2-1.6 0.5-1zM3.7 26.8l1.1 0.1 0.7 0.9 0.4 1 0.2 1.4-0.2 1.6-0.5 1-0.6 0.5-1 0.2-1-0.4-0.6-0.6-0.5-2.3 0.5-2.4 0.6-0.6zM-3.8 27.8l0-0.4 0.6 0.1 0.9 0.7 0.5 2-0.4 1.9-0.6 0.5-1 0.4zM17.3 38.2l0.9-0.3 1 0 1 0.7 0.7 1.2 0.2 1.4-0.2 1-0.7 1.1-1 0.7-1 0.1-1-0.4-1-1.5-0.2-1 0.2-1.4zM10.4 38.8l0.8-0.2 1 0.3 0.9 1.3-0.2 2-1.1 1.2-1.6-0.2-0.9-1.4 0-1 0.2-1zM3.6 39.2l0.6 0 0.6 0.3 0.5 1.3-0.3 1.4-0.8 0.6-1-0.1-0.4-0.5-0.3-1 0.3-1.3zM-3.8 40.2l0-0.2 0.6 0.3 0.2 0.9-0.2 0.6-0.6 0.2zM24.5 47.8l1.2-0.5 1.1 0.1 1 0.8 0.3 0.6 0.3 1-0.3 1.5-0.7 0.9-0.6 0.5-1 0.1-1-0.2-1.2-1.4-0.1-2 0.5-1zM17.7 48.2l0.5-0.1 1 0.1 1 1 0 1.6-0.4 0.9-0.6 0.3-1.4 0-0.6-0.3-0.4-0.9 0-1.6zM10.4 49.2l0.8-0.3 0.8 0.3 0.3 1-0.5 1.1-1 0-0.6-0.4-0.1-0.7zM32 56.2l1.8-0.4 1 0.3 0.7 0.7 0.5 1 0 1-0.9 1.4-0.9 0.5-1 0.1-1-0.3-0.8-0.7-0.4-1 0.1-1 0.4-1zM25 56.8l1.2-0.2 1 0.7 0.3 1.5-0.7 1.1-1.5 0.2-1-0.9-0.1-1.4zM17.7 57.8l0.5-0.4 1 0.4 0.2 0.4-0.2 0.7-0.4 0.4-0.7-0.1-0.5-0.4zM40.5 63.8l1.7-0.3 1.6 0.7 0.5 1 0.1 1-0.9 1.6-1.3 0.5-1 0-1-0.3-0.8-0.8-0.4-1 0.1-1 0.6-1zM32.2 64.8l1-0.5 1.6 0.4 0.4 1-0.4 1.5-0.6 0.3-1 0.2-1-0.5-0.5-1 0.1-0.8zM25.3 65.2l0.9 0 0.5 0.6 0 0.4-0.5 0.6-0.9 0-0.3-0.6 0-0.4zM49.1 71.2l1.1-0.4 1 0 1 0.2 1 0.7 0.4 0.5 0.3 1-0.6 1.6-1.1 0.6-1 0.3-1.4-0.1-1-0.5-0.8-0.9-0.2-1 0.3-1zM40.7 71.8l1.5-0.2 1.1 0.6 0.3 0.6 0 1-0.8 1-1.6 0.2-1.2-0.8-0.3-0.4 0-1zM32.7 72.8l0.5-0.4 0.6 0.1 0.4 0.4 0.1 0.9-0.5 0.4-1-0.2-0.3-0.8zM59.9 78.2l2.3-0.2 2.6 0.7 0.6 0.5 0.4 1-0.4 1.6-1.2 0.8-2 0.6-2-0.2-1.4-0.7-0.8-1.1 0-1.4 0.8-1zM49.2 79.2l1.6-0.4 1.4 0.3 0.9 1.1-0.1 1-1.2 1.1-1 0.2-1.1-0.3-0.8-0.4-0.4-1 0.2-1zM41.1 79.8l1.2 0 0.4 0.4 0.1 0.6-0.3 0.4-0.7 0.4-1.1-0.4-0.1-1zM59.5 86.2l1.7-0.4 2 0.2 1.4 0.8 0.3 0.4 0.1 1-0.6 1-1.2 0.6-1.4 0.3-1.9-0.3-0.9-0.6-0.6-1 0.1-1zM50 86.8l1.2-0.1 1 0.5 0.2 1-0.3 0.6-1.3 0.4-1.3-0.4-0.4-1 0.2-0.6zM60.6 93.8l2.2 0 0.9 0.4 0.6 1-5.3 0 0.6-1z"/><path fill="#2c3b7d" d="M39.8-1.8l53.5 0-0.1 53.6-3.8 2-0.8 0.4-0.3 0.6 1.7 2 0.4 1.4-0.9 1.6-3.1 2-0.6 0.4 0 0.6 2.3 2 0.4 1 0 0.4-0.7 1.1-3.6 2.5 0.1 0.4 2.5 2 0.4 1-0.1 0.6-0.8 1-3.3 2-0.2 0.4 2.6 2 0.7 1 0 0.6-0.5 1-0.6 0.4-3.3 2 0.1 0.6 3.1 2 0.5 1 0 0.4-1.2 1.3-3.3 1.7-0.5 0.6 0.4 0.4 2.6 1.6 1.2 1.4-14.4 0 0.6-1.4 1.8-2-2.1-2-0.7-1.6 0.2-1.4 1.5-2 0-0.6-1.3-1.4-0.7-1.6 0-1.4 1.1-2.6-1.2-2-0.5-1.4 0-1.6 0.6-2.4-1-2-0.4-1.6 0.2-3.4-0.3-1-0.8-1.3-0.4-0.1-2.6 1.1-2.4 0.4-2.6-0.6-1.5-1.1-0.7-1.4 0.1-1.6 0.7-1.1 1.7-1.3-0.2-0.6-2.2-1.4-1.1-2 0-2 1.2-2.6-0.1-0.4-1.3-1.3-0.6 0-2.1 1.3-0.1 0.4 1.2 1.1 0.9 1.5 0.1 1.4-0.6 1.6-1.4 1.3-1 0.5-1.4 0.1-1.6-0.3-1-0.5-1.1-1.7-0.2-1.4 0.4-1.5 0.9-1.3 1.2-0.8 0-0.4-2.1-1.6-1.1-1.5-0.4-0.4-1.7 1.9-1.9 0.7-2-0.3-1.2-0.8-0.6-1-0.4-1.6 0.1-1.4 0.7-1.6 1.4-1.2 2-0.7 2 1 1.5 1.5 0.5-0.5 1.1-2.1-1.1-1.3-0.4-0.2-0.6 0.1-2.4 1.2-1 0.1-2.6-1.2-2-2.5-1.4 1.7-1 0.6-1.6 0.2-1.4-0.5-1.3-1.6-0.6-2.6 0.5-3 1.1-2.4-0.3-0.6-1.4-0.7-4.6 0.1-3.4-1.5-2 0.7-1.6 0.1-1.4-0.4-2-1.4-2.6 1.1-1.4 0.1-1.5-0.5-1.5-1.5-0.6-0.2-2 1.5-1.4 0.4-1.8-0.8-1.8-2.1-0.4 0.1-2 1.9-1.6 0.4 0-14.5 1.6 0.8 2 3.1 0.4 0.1 2-3.6 1-1 0.6-0.2 1 0.3 0.4 0.5 2 2.8 0.6-0.2 2-3.3 0.4-0.5 1-0.3 1 0.4 2 2.5 0.6 0.2 2.3-3.4 1.1-0.8 0.6 0 1 0.5 2 2.3 0.4-0.1 2.6-3.5 1-0.5 1 0.2 2.4 2.3 0.6-0.3 2-3 1.4-1.1 1.6 0.1 2 1.5 0.4 0 1-1.3zM25.4 25.8l1.4 0 1 0.7 0.6 1.3 0.4 2-0.2 2-0.4 1-1 1-1 0.4-1 0-1-0.5-0.7-0.9-0.5-2 0.1-2 0.5-1.6 0.6-0.8zM17.7 26.8l1.1-0.3 1 0.5 0.5 0.8 0.5 1.4 0 1.6-0.4 1.4-0.6 1-1 0.5-1.6-0.5-0.7-1-0.3-1 0-1.4 0.3-1.6 0.6-1zM10.1 27.8l0.7-0.4 1 0 0.4 0.4 0.6 1 0.2 1-0.1 1.4-0.4 1-0.7 0.7-1 0.1-0.6-0.3-0.8-1.4 0-2.1zM3.1 28.2l0.7-0.3 0.4 0.1 0.6 0.4 0.4 0.8 0 2-0.4 0.9-0.6 0.3-1-0.1-0.7-1.1-0.1-1.4zM-3.8 29.2l0-0.4 0.6 0.2 0.5 1.2-0.3 1-0.8 0.6zM32.7 37.8l1.1-0.2 1 0.3 1 0.8 0.4 1.1 0.2 1.4-0.5 1.6-0.7 0.8-1 0.5-1 0.1-1-0.2-0.8-0.8-0.5-1-0.2-1.4 0.3-1.6 0.8-1zM24.6 38.8l0.6-0.4 1-0.1 1 0.6 0.6 0.9 0.1 2-0.4 1-0.7 0.6-1.6 0.2-1-0.7-0.3-0.7-0.2-2zM17.7 39.2l0.5-0.2 1 0.2 0.8 1 0 1-0.2 1-1 0.8-1-0.2-0.8-1 0-1.6zM10.6 40.2l0.6-0.3 0.6 0.3 0.2 0.6-0.2 1-0.5 0.3-0.5-0.1-0.5-0.8zM40.8 47.2l1.4-0.1 1 0.3 1.3 1.4 0.2 1-0.2 1.4-0.7 1-1 0.7-1.6 0.1-1-0.3-1.2-1.5-0.2-1.4 0.2-1 0.8-1zM32.2 48.2l1.6-0.3 0.9 0.3 0.5 0.7 0.3 0.9 0 1-0.6 1-0.7 0.4-1.4 0-1.2-1-0.2-1.4 0.4-1zM25.2 48.8l1-0.1 0.6 0.3 0.3 0.8-0.1 1-0.8 0.8-1-0.1-0.6-0.7-0.1-1zM49.5 55.8l1.3-0.3 1 0.1 1 0.3 0.9 0.8 0.4 1.1 0 0.9-0.9 1.6-1 0.5-1.4 0.3-1.6-0.3-1-0.8-0.5-1.2 0-1 0.5-1.2zM40.3 56.8l1.5-0.5 1.4 0.6 0.7 1.3-0.6 1.6-1.5 0.6-1-0.2-0.8-0.4-0.3-0.6-0.2-1 0.3-0.8zM33.1 57.2l0.7 0 0.4 0.3 0.4 0.7-0.4 1-0.4 0.3-1-0.1-0.5-0.6 0.1-1zM60.3 63.2l2.5-0.1 1.4 0.4 1 0.5 0.9 1.2 0 1-0.4 1-1.3 1-1.6 0.5-2.6-0.1-1.4-0.6-1-1.2-0.1-1.6 1-1.3zM49.3 64.2l1.9-0.3 1.6 0.6 0.6 1.3-0.5 1.4-1.1 0.7-1 0.2-1-0.2-1-0.6-0.4-0.5-0.1-1 0.4-1zM41.4 64.8l0.8 0 0.6 0.4 0.3 0.6-0.3 1-0.6 0.4-1 0-0.7-0.4-0.3-0.6 0.3-1zM60.1 71.2l2.1-0.2 2 0.6 1 1.2-0.3 1.4-1.1 1-1.6 0.4-1.5-0.1-1.5-0.5-0.7-0.8-0.2-1.4 0.7-1zM49.5 72.2l1.3-0.3 1 0.2 0.7 0.7 0.1 1-0.4 0.5-0.9 0.5-1.5-0.3-0.6-0.3-0.3-1zM59.8 79.2l1.4-0.4 2 0.3 0.9 0.7 0.3 0.4-0.1 1-0.5 0.6-1 0.5-1.6 0.1-1-0.2-0.8-0.4-0.5-1 0.3-1zM50.1 80.2l0.7-0.2 0.4 0.1 0.4 0.7-0.4 0.3-0.6 0.1-0.6-0.4zM60.4 86.8l1.4-0.3 1 0.3 0.7 0.4 0.2 1-0.5 0.6-1 0.5-1 0-1-0.3-0.4-0.3-0.4-0.9 0.3-0.6zM61 94.8l1.1 0 0.7 0.4-2.4 0z"/><path fill="#2c3e81" d="M57.1-1.8l36.2 0-0.1 36.4-2.3 1.2-0.6 0.4 0 0.6 2 2.4 0.3 1.6-0.4 1-0.9 1-4.7 3-0.1 0.4 0.4 0.6 2.4 2 0.3 1.4-0.9 1.6-4 2.4-0.2 0.6 0.4 0.4 2.5 2 0.4 1-0.1 0.6-1.3 1.4-3.2 2 0 0.6 2.8 2 0.4 0.4 0.2 1-0.6 1-0.7 0.6-3.4 2 0.2 0.4 3.1 2 0.3 0.6 0.1 1-0.9 1-3.8 2-0.3 0.4 3.3 2 0.5 0.6 0.4 1-0.6 0.9-0.6 0.5-4.3 2 0.2 0.6 4 2 0.5 0.4 0.2 1-0.8 1-1.2 0.7-5 1.7-1.4 0.1-3-1.1-1.6-1-0.7-1.4 0.3-1.4 1-1 1.6-1 0.2-0.6-2.8-2-0.6-1.4 0.3-1.6 2-2-0.3-0.4-1.8-1.6-0.7-1.4 0.2-1.6 1.4-2 0.1-0.4-1.7-2-0.5-1.6 0.1-1.4 1.1-2 0-0.6-1.3-2-0.5-1.4 0-1.6 0.7-2.4-2-5 0.5-3-0.3-1.6-0.7-0.6-3.6 0.9-2 0.1-2-0.6-1.8-1.2-0.9-2 0-2 0.7-1.7 1.9-1.9-1.9-1.5-1.4-2-0.6 0.1-1.4 1.7-2 0.8-2.6-0.2-1.4-1-0.9-1.3-0.6-2 0.1-2.6 1-3-0.1-0.4-0.4-0.6-1.7-0.4-2.4 0.4-1.6-0.1-4-1.7-2.4 0.7-2 0-1.6-0.6-2-1.2-2.4 1.2-1.6 0-1-0.3-2-1.8-0.4-0.1-2 1.5-1.6 0.3-1.4-0.6-2-2.3-0.6 0.2-1.7 1.8-0.7 0.3-1 0.1-1.6-0.9-1.4-2.3-0.6-0.3-1.9 2.7-1.5 0.4-1-0.3-1-1-0.9-1.7-0.7-2-0.4 0.2-0.7 1.8-0.9 1.6-1 0.8-1 0.2 0-12.6 1 0.4 0.6 0.6 1.1 2 0.9 2.8 0.4 0.2 1.7-5 0.9-1.2 1-0.6 0.9 0.4 0.5 0.5 2 3.8 0.6-0.3 1.6-3.6 1.4-1.3 1 0.1 0.4 0.4 2 3.2 0.6 0.2 1.9-3.5 0.5-0.7 1-0.6 0.6 0 1 0.6 2 2.9 0.4-0.1 2-3.4 0.6-0.6 1-0.4 0.4 0 1 0.8 2 2.5 0.6-0.2 2-3.2 1.4-1.1 1 0.2 0.6 0.3 2 2.4 0.4 0.2 0.6-0.4 2-3.2 1.4-1.1 1-0.1 1 0.4 2 2.3 0.6 0.2 0.4-0.3 2.6-3.9 1.4-1.3 1-0.3 1 0.1 3 1.8 1-1zM40.9 25.2l1.3-0.3 1.6 0.7 1.1 1.6 0.5 2-0.3 2.6-0.7 1.4-1.1 1-1.1 0.4-1.4-0.1-1-0.5-1-1.2-0.5-1.6 0-2 0.5-2 1-1.3zM32.9 26.2l1.3 0.1 0.8 0.5 0.7 1 0.5 1.4-0.1 2-0.5 1.6-0.8 0.8-1 0.4-1-0.1-1.1-0.7-0.6-1-0.4-1.4 0.1-1.6 0.4-1.4 0.8-1zM24.8 27.3l1-0.4 1 0.3 0.8 1 0.3 1-0.2 2.6-0.5 1-1 0.6-1-0.1-0.4-0.2-0.7-0.9-0.4-1 0.1-2.4zM18 27.8l0.8-0.1 0.4 0.2 0.7 0.9 0.2 1-0.3 2-0.6 0.7-0.4 0.3-0.6 0-0.8-0.6-0.6-1.4 0.3-2zM10.6 28.8l0.6-0.3 0.6 0.2 0.5 1.1-0.2 1.4-0.3 0.6-0.6 0.2-0.6-0.2-0.5-1 0-1zM3.6 29.8l0.2-0.3 0.4 0.2 0.1 0.5-0.1 0.6-0.4 0.2-0.4-0.8zM49.9 37.2l1.3-0.1 1.6 0.4 1 0.7 0.6 1 0.3 1.6-0.2 1.4-1 1.6-1.3 0.7-1.4 0.2-1.6-0.3-1-0.7-0.9-1.5-0.1-2 0.5-1.4 1.1-1.1zM40.3 38.2l0.9-0.3 1 0 1 0.4 0.9 0.9 0.3 1 0 1.6-0.6 1.3-1 0.7-1 0.2-1-0.1-1-0.7-0.7-1-0.2-1 0.2-1.4 0.6-1zM32.8 38.8l1.4 0 0.6 0.4 0.5 1 0.1 1-0.3 1-0.3 0.6-1 0.5-1.6-0.4-0.7-1.1-0.1-1 0.3-1zM24.9 39.8l0.9-0.4 0.4 0.1 0.8 0.7 0 1.6-0.8 0.7-1 0-0.6-0.7-0.1-1zM59.9 46.8l1.3-0.4 2 0.1 1.6 0.4 1.3 0.9 1.1 1.4 0 0.6-1 2-1.4 1.2-2 0.5-2.6-0.1-2-0.9-0.8-1.3-0.1-2 0.9-1.6zM49.2 47.8l2-0.4 1 0.2 1 0.7 0.6 0.9 0.1 1-0.3 1-0.8 1-1.1 0.5-1.5 0.1-1-0.3-0.8-0.7-0.5-1 0-1.6 0.6-1zM41 48.2l1.3 0 1.2 1 0.1 1.6-0.4 0.6-1 0.6-1.4-0.1-1-1.1 0.1-1.6 0.3-0.5zM32.9 49.2l0.9 0 0.5 0.6-0.1 0.8-0.4 0.5-0.6 0.1-0.6-0.4-0.1-1zM60.6 55.8l2.2-0.1 2 0.8 0.6 0.7 0.2 1-0.5 1.6-1.4 0.9-1.5 0.3-2-0.1-1.4-0.7-0.9-1.4 0.3-1.6 1-1zM49.6 56.8l1.6-0.3 1.5 0.7 0.3 0.6 0 1-0.6 1-1.6 0.5-1.6-0.5-0.4-0.6-0.2-1 0.4-1zM41 57.8l0.8-0.3 0.5 0.3 0.3 0.4-0.4 0.8-1 0.2-0.4-0.4-0.1-0.6zM59.8 64.2l2-0.3 1.9 0.5 1 0.8 0.1 0.6-0.1 1-0.9 0.8-1 0.4-1.6 0.1-1.4-0.4-1.1-0.9-0.2-1 0.5-1zM49.6 65.2l0.6-0.3 1 0 0.7 0.3 0.3 1-0.3 0.6-0.7 0.3-1 0-0.6-0.3-0.3-0.6zM61.2 71.8l1.6 0.1 1 0.6 0.3 0.7-0.4 1-0.9 0.6-1 0.1-1.5-0.1-0.8-0.6-0.3-0.4 0.1-1 0.5-0.6zM60.8 79.8l1.5 0 0.7 0.4 0.1 0.6-0.3 0.4-0.6 0.4-1.4-0.1-0.5-0.3-0.3-0.4 0.1-0.6zM74.7 92.2l1.1-0.4 0.9 0 2.5 0.7 2.9 1.3 0.7 0.4 0.7 1-12.6 0 0.4-1 0.9-0.9z"/><path fill="#2d4085" d="M70.3-1.8l12.6 0 0.9 0.4 3 1.7 2.4 2 2.5 2.9 1.5 3 0 13.7-1.2 2.3-0.1 1 0.7 3.6-0.2 1.4-0.7 1.6-0.8 1-1.7 1.2-3.2 1.8-0.4 0.4 0.2 0.6 3.2 2.4 0.5 1 0 1-0.4 1-1 1-4.4 2.5 0 0.5 3.5 2.6 0.5 1.4-0.9 1.6-4.4 2.4-0.2 0.6 3.6 2.4 0.3 0.6 0.1 1-1.4 1.4-3.8 2 0.1 0.6 3.5 2 0.5 0.4 0.2 1-0.5 0.9-0.9 0.7-4.2 2 0.3 0.4 3.9 2 0.4 0.6 0.1 1-0.6 0.7-1.2 0.7-4.3 1.6-0.7 0.4 4.6 1.8 1 0.7 0.5 1.1-0.7 1-1.2 0.7-2.6 0.9-2.4 0.4-2-0.2-2-0.6-1.6-1.2-0.3-1 0.2-1 0.7-0.9 3.4-1.7-3.4-1.6-0.9-0.8-0.5-1 0-1 0.6-1 2-1.6 0.2-0.4-2.4-1.8-0.9-1.8 0.3-1.4 1.9-2 0-0.6-2.1-2-0.5-1.4 0.3-2 1.4-2-0.1-0.6-1.7-2-0.5-1.4 0-2 1.2-2.6-0.1-0.4-1.5-2.6-0.5-2 0.5-5-1.3-1.9-0.4-0.1-2.6 0.9-2.4 0.3-2.6-0.5-1.4-1-1-1.7-0.4-2 0.3-2.4 1.1-3-0.3-0.6-1.3-0.8-1-0.4-3 0.6-2.4-0.1-1.6-0.5-2.4-1.5-2.6 1.2-1.4 0.2-1-0.1-1.6-0.6-2-1.7-2.4 1.6-2 0.1-1.6-0.7-1.4-1.8-0.6-0.2-2 1.9-1 0.4-1 0-1.4-0.9-1.6-2.3-0.4-0.1-1.7 2.3-0.9 0.5-1 0.1-1-0.4-0.8-0.8-1.6-3.5-2 3.5-1 0.6-1 0.1-1-0.5-0.9-1.2-1-3.4 0.1-2 0.9-3 0.9-1.9 1-0.9 1 0.1 0.6 0.7 1.1 2 0.7 2.2 0.6 0.6 1.9-4.8 0.5-1 1-0.6 1 0.2 0.6 0.5 2 3.7 0.4-0.1 2-4.1 0.6-0.6 1-0.5 0.4 0.1 1 0.8 2 3.3 0.6-0.3 2-3.7 0.4-0.6 1-0.5 0.6 0 1 0.6 2 3 0.4 0.3 0.6-0.4 2-3.6 1.4-1.2 1 0 1 0.7 2 2.8 0.6 0.3 0.4-0.2 2.6-4.2 1.4-1.1 1-0.1 1 0.4 1 0.8 1.6 2 0.4 0.4 0.6 0 3-4.6 2-1.6 2-0.5 3 0.6 1-0.1 1-0.2zM3.1 8.8l0.7-0.3 0.4 0 1 1 1.2 2.7 0.4 2.6-0.1 2-0.7 2-1.1 1.4-1.1 0.4-1-0.4-0.8-1-0.6-1.4-0.4-2 0.1-2 0.4-2 0.7-1.9zM-3.8 9.2l1 0.6 1 1.4 0.6 2 0.2 2-0.2 2-0.6 1.6-1 1-1 0.3zM49.4 25.8l1.4-0.4 1.4 0.2 1.2 0.6 0.9 1.6 0.4 2-0.3 2-0.7 1.4-1.5 1.1-1.4 0.3-1.6-0.4-1-0.6-0.8-1.4-0.3-2 0.2-2 0.8-1.4zM40.3 26.7l0.9-0.3 1.6 0.1 1 0.9 0.6 1.4 0.1 2-0.4 1.4-0.9 1.2-1 0.4-1 0.1-1-0.4-0.7-0.7-0.5-1-0.2-1.6 0.2-1.4 0.4-1zM32.9 27.2l1.3 0.2 0.9 0.8 0.3 1 0.1 1.6-0.2 1-0.5 0.8-1 0.6-1-0.1-0.6-0.3-0.7-1-0.2-1 0.1-1.6 0.3-1zM24.9 28.2l0.9-0.3 0.4 0.1 0.6 0.4 0.4 0.8 0 2.1-0.4 0.8-0.6 0.4-1 0-0.9-1.3-0.1-1.5zM17.7 29.2l0.5-0.4 0.6 0 0.4 0.6 0.2 1.4-0.6 0.9-0.6 0-0.5-0.5-0.2-1zM60.6 37.2l1.6-0.1 1.6 0.2 1.4 0.7 0.8 0.8 0.5 1.4-0.1 1.6-0.8 1.4-0.8 0.8-2 0.6-2 0-2-0.6-1-1.1-0.6-1.7 0.4-2 1.2-1.3zM49.5 38.2l1.3-0.2 1 0.1 1 0.5 0.6 0.6 0.4 1-0.1 1.6-0.5 1.1-1 0.8-1 0.3-1.4-0.2-1-0.6-0.7-1-0.3-1 0.2-1.4 0.7-1zM41.4 38.8l0.8 0 0.8 0.4 0.7 1.6-0.5 1.6-0.4 0.5-1 0.4-1.6-0.6-0.6-1.5 0.3-1.4 0.9-0.9zM33 39.8l0.8 0 0.7 1-0.1 1-0.6 0.5-1-0.1-0.5-1 0.2-1zM59.5 47.8l2.3-0.5 1.4 0.2 1 0.4 0.9 0.9 0.4 1-0.1 1-0.5 1-1.1 0.8-1.6 0.3-1.4 0-1.8-0.7-0.8-1-0.3-1.4 0.4-1zM50.1 48.2l1.7 0.1 1 0.9 0.1 1.6-0.7 1-1 0.3-1 0-1.3-0.9-0.3-1 0.2-0.8 0.4-0.7zM40.8 49.8l1-0.5 0.4 0.2 0.3 0.7-0.2 0.6-0.5 0.2-0.6-0.1-0.4-0.6zM59.7 56.8l2.1-0.5 1.7 0.5 1 1 0.1 1-0.2 0.4-0.6 0.7-1.6 0.5-1.4 0-1-0.4-0.9-0.8-0.2-1 0.4-1zM49.9 57.8l0.9-0.4 0.4 0.1 0.6 0.3 0.1 1-0.7 0.5-1 0-0.5-0.5-0.1-0.6zM60.4 64.8l1.4-0.3 1.4 0.5 0.6 0.8-0.2 1-1.4 0.6-2-0.2-0.6-0.4-0.2-1 0.2-0.6zM60.6 72.8l1.2-0.3 0.6 0.3 0.4 0.4-0.1 0.6-0.9 0.4-1-0.2-0.6-0.8zM74.6 85.2l2.6-0.2 3.6 0.9 2 1.2 0.4 0.7 0 0.4-0.3 0.6-1.1 0.7-2.6 0.9-3 0.4-2.4-0.4-2.1-1.2-0.3-0.4-0.2-1 0.4-1 0.6-0.6zM73.7 93.2l2.5-0.4 2.6 0.3 2.4 0.9 1.2 1.2-10.8 0 0.6-1.1z"/><path fill="#2e4288" d="M75-0.2l3.2 0 3 0.6 3 1.4 2.6 1.8 2.4 2.6 1.4 2.6 1.1 3 0.4 3-0.2 2.4-0.5 2.6-1 2.4-1.1 2 0 1.6 1.1 3.4-0.4 2-0.6 1-1.1 1-4.7 2.6-0.4 0.4 0.3 0.6 3.8 2.4 0.6 1 0 1.6-1.7 1.6-4.7 2.4 0.1 0.4 4.2 2.6 0.6 1-0.1 1-1.6 1.4-4.5 2-0.2 0.6 3.9 2 1 1 0.1 1-0.7 1-1.1 0.6-4.7 1.8 0.3 0.6 3 1 1.6 1 0.5 0.4 0.3 1-0.7 1-1.3 0.8-3 1-2.4 0.5-2.6-0.4-2-0.7-1.3-1.2-0.3-1 0.1-1 0.5-0.8 1-0.8 1.9-0.8 0.2-0.6-3.1-1.6-0.7-0.8-0.4-1 0.1-1 0.4-1 2.4-2-0.2-0.6-2.6-1.9-0.7-1.5 0.1-1.6 0.3-1 1.8-2 0.1-0.4-2.1-2-0.8-2 0.1-2.6 1.3-2.4 0.1-0.6-0.2-0.4-1.2-1.6-1.2-2.3-0.6-0.5-1.4 1.8-1 0.9-2.6 0.6-1.5 0-1.5-0.5-1-0.7-0.8-1.3-0.3-2 0.3-2.4 1-1.6 2.1-1.4 0-0.6-2.7-1.4-2-1.6-0.6 0-1.6 1-1.4 0.5-1.4 0.2-1.6-0.3-1.4-0.8-1.6-1.8-0.4-0.2-2.6 2.1-0.9 0.3-1.5-0.1-1.6-0.9-2-2.6-2.3 2.6-1.1 0.5-1-0.1-1.6-1-1.4-2.8-0.6-0.4-1.2 2.4-0.8 0.9-1 0.5-1 0-1-0.6-0.9-1.4-0.8-2.4-0.2-1.6 0.2-2 0.9-3 0.8-1.7 1-1 1 0 1 1 2 4.4 0.6-0.4 2-4.7 0.4-0.6 1-0.6 1 0.3 0.6 0.4 2 3.7 0.4 0.5 0.6-0.6 1.9-4.1 1.5-1.3 1 0 1 0.7 2.6 3.9 0.4-0.3 2.4-4.6 1.6-1.2 1.1-0.1 0.9 0.4 1 1 2 3 0.6 0 2.6-4.5 1.4-1.5 1-0.6 2-0.3 3 1 1 0 1-0.1 4-1.9zM18.1 8.2l0.7 0 0.4 0.3 0.9 1.3 0.8 2 0.7 3-0.2 2-0.9 2.4-0.7 1.1-1 0.5-1-0.2-1.1-0.8-0.7-1.6-0.5-2.4 0.1-2 0.7-3 0.9-1.9zM10.4 9.2l0.8-0.3 1.1 0.9 1.1 2.4 0.4 2.6-0.1 2-0.6 2-0.9 1.1-1 0.4-1-0.3-0.7-0.8-0.6-1.4-0.4-2 0.1-2 0.4-2 0.8-1.7zM3.1 9.8l0.7-0.4 0.4 0.1 0.8 0.7 0.8 2 0.4 2.6-0.1 2-0.6 2-0.7 0.8-1 0.4-1-0.5-0.6-0.7-0.7-3 0.4-3.6 0.5-1.4zM-3.8 10.2l1 0.7 0.6 0.9 0.5 1.4 0.2 2-0.1 1.6-0.6 1.4-0.6 0.8-1 0.4zM49.2 26.8l1.1-0.5 1.5 0.1 1 0.5 0.9 1.3 0.3 1.6-0.1 1.4-0.6 1.6-1.1 0.9-1 0.3-1.4-0.2-1-0.6-0.8-1-0.4-1.4 0.1-1.6 0.5-1.4zM41 27.2l0.8-0.1 1 0.4 0.7 0.7 0.4 1.6-0.1 1.4-0.4 1-0.6 0.7-1 0.4-1.6-0.6-0.6-0.9-0.2-1 0-1 0.4-1.4 0.4-0.7zM32.7 28.2l1.1-0.1 0.4 0.3 0.6 0.8 0 2-0.6 0.9-0.4 0.3-1-0.1-0.8-1.1-0.1-1.4 0.3-1zM25.2 29.2l0.6-0.2 0.4 0.2 0.3 0.6 0 1-0.3 0.6-0.4 0.2-0.6-0.3-0.2-0.5zM59.4 38.2l1.4-0.4 1.4 0 1.6 0.3 0.9 0.7 0.7 1 0.2 1-0.1 1-0.4 1-1.3 1-1.6 0.4-2-0.2-1.4-0.7-0.8-1.1-0.2-1.4 0.5-1.6zM50 38.8l1.8 0 0.6 0.4 0.7 1 0.1 1-0.3 1-1.1 1-1 0.2-1-0.3-0.7-0.3-0.6-1-0.1-1 0.3-1 0.5-0.6zM41.1 39.8l0.7-0.2 0.9 0.6 0.2 1-0.7 1.1-1 0.1-0.7-0.6-0.1-1zM59.8 48.2l2-0.3 2 0.5 0.9 1.4-0.3 1.4-1.2 0.9-1 0.3-1.4 0-1.5-0.6-0.7-1 0-1 0.5-1zM49.9 49.2l0.9-0.2 0.9 0.2 0.3 0.6 0 1-0.8 0.5-1-0.1-0.6-0.4-0.2-0.6zM60.2 57.2l1-0.2 1.6 0.2 0.7 0.6 0.1 1-0.4 0.5-0.8 0.5-1.7 0-0.9-0.6-0.3-0.4 0.2-1zM60.6 65.8l1.2-0.4 0.7 0.4 0.1 0.4-0.8 0.5-0.6 0-0.7-0.5zM73.8 70.8l1.4-0.4 1.6-0.1 3.4 0.7 2.6 1.2 0.5 0.6 0.1 1-1.2 1-3 1.1-3 0.4-2.4-0.4-2.2-1.1-0.6-1.6 0.2-0.8 0.6-0.6zM74.5 78.2l2.3-0.2 3 0.6 2.4 1.2 0.5 1-0.2 0.4-0.7 0.7-2.6 1-3 0.3-2.4-0.3-1.9-1.1-0.3-0.6-0.1-1 0.3-0.4 1-0.9zM74.7 85.8l2.5-0.2 2.6 0.5 2.1 1.1 0.3 1-1 1-2.4 0.9-2.6 0.2-2.4-0.4-1.6-0.9-0.4-1.2 1-1.3zM73.9 93.8l1.9-0.5 2.4 0.2 2.3 0.7 1 1-9.2 0 0.7-1z"/><path fill="#30458b" d="M73.7 1.2l3.1-0.2 3 0.4 3 1.1 2.4 1.6 2.3 2.1 1.7 2.6 1.1 3 0.4 3-0.1 2.4-0.6 2.6-1 2.4-1.3 2.1 0 1.5 1.4 3.4-0.3 2-0.7 1-1.3 1.2-5.1 2.4-0.5 0.4 0.4 0.6 2.6 1.2 1.9 1.2 0.8 1.6-0.1 1-0.8 1-1.2 0.8-5.5 2.2 0.1 0.4 3.4 1.4 1.9 1.2 0.6 1-0.1 1-0.8 1-2.2 1.1-3.4 1.1-2.6 0.3-2-0.3-2-0.8-1.3-1-0.6-1-0.2-1.4 0.5-1.6 1.2-0.9 1.8-1.1 0-0.4-2.8-1.7-1.2-1.9-0.2-1.4 0.3-1.6 0.5-1 1.9-2-2.2-2-0.7-1-1.4-4.3-0.6-0.8-0.5 0.1-1.1 4-0.8 1-1 0.7-1.6 0.4-2-0.2-1.4-0.8-0.9-1.1-0.4-2.4 0.7-2.4 1-1 1-0.5 3.4-0.7 0.3-0.4-0.4-0.6-3.7-1.1-1.6-0.7-1.2-1.2-1.2-1.7-0.6 0.1-1.4 1.6-1 0.7-1.6 0.4-2-0.3-1.6-1.2-1.4-2.6-0.4-0.4-2 3.1-1.6 0.7-1.4-0.1-1-0.5-1-1.2-0.9-2-0.5-2.6 0.6-3 1-3 1.2-2 1-0.7 1 0.1 1 0.8 2.6 5.1 0.4-0.5 2-5 1-1.3 1-0.6 1-0.1 1.3 0.8 1.1 1.4 1.6 3.1 0.6 0.1 2.5-5.2 0.9-1.2 1.6-1 2-0.3 3 1.2 1 0 1-0.1 3.4-1.9zM32.8 7.8l1-0.2 0.4 0.3 1 1.3 0.9 2 0.9 3.6-0.1 1.4-1 3-1.1 1.5-1 0.4-1.6-0.3-1-1-0.7-1.6-0.4-2.4 0.1-2 0.7-3 0.9-2zM24.9 8.8l0.8-0.5 0.5 0.2 0.8 0.7 1 2 0.6 3 0 2.6-0.6 2-1.1 1.4-1.1 0.5-1-0.4-1-1.1-0.7-2-0.2-1.4 0.1-2 0.4-2 0.8-2zM18 9.2l0.8-0.1 1 1.1 0.8 2 0.4 2.6-0.1 1.4-0.4 2-0.7 1.3-1 0.7-1-0.2-1-1.1-0.7-1.7-0.2-1.4 0.1-2 0.5-2 0.7-1.9zM10.4 10.2l0.8-0.3 1 0.8 0.7 1.5 0.4 2 0 1.6-0.3 2-0.8 1.3-1 0.6-1-0.4-0.4-0.6-0.8-2.5 0.2-3.4 0.6-1.6zM3.1 10.8l0.7-0.5 0.4 0.1 0.6 0.5 0.7 1.9 0.3 2-0.1 2-0.5 1.3-0.4 0.8-1 0.4-0.6-0.2-0.7-0.9-0.6-2.4 0.3-3zM-3.8 11.2l0.8 0.6 0.6 1 0.4 2.4-0.1 1.6-0.4 1-1.3 0.9zM49.5 27.2l1.3-0.3 1 0.2 0.9 0.7 0.6 1 0.2 1.4-0.3 1.6-0.6 1-0.8 0.5-1 0.2-1-0.2-0.8-0.5-0.7-1-0.2-1 0.1-1.6 0.6-1.3zM40.6 28.2l0.6-0.3 1 0.1 1 1.2 0.1 2-0.5 0.9-0.6 0.4-1 0.1-0.4-0.2-0.8-1.2-0.1-1.4zM33 29.2l0.8 0 0.3 0.6 0 1-0.3 0.6-0.6 0.1-0.6-0.7 0-1zM59.6 38.8l1.1-0.5 1.5 0 1 0.2 1 0.7 0.8 1.6-0.1 1-0.6 1-1.1 0.6-1.4 0.3-1.6-0.1-1-0.6-0.6-0.8-0.3-1.4 0.5-1.2zM49.6 39.8l1.1-0.5 1.2 0.5 0.6 1-0.1 1-0.4 0.4-1.3 0.5-1.1-0.5-0.4-0.4-0.1-1zM60.1 48.8l1.7-0.4 1.2 0.4 0.9 1-0.1 1-0.6 0.6-1 0.5-2-0.2-0.5-0.5-0.5-1 0.3-1zM74.2 55.2l1.6-0.3 1.4 0 4 1.1 2.3 1.2 0.4 0.6 0.1 1-0.8 0.9-0.8 0.5-3.6 1.3-3.1 0.2-2.5-0.5-2-1.3-0.4-0.7-0.1-1 0.3-1 0.8-0.8zM61.2 57.8l1 0.2 0.3 0.2-0.1 0.6-0.6 0.3-1-0.3-0.2-0.6zM75.2 63.2l2 0 3.6 0.8 2.2 1.2 0.3 1-0.5 0.8-1.2 0.8-3.4 0.9-3.4 0-2.6-0.9-0.9-1 0-1.6 1.5-1.3zM73.8 71.2l3-0.3 3 0.5 2 0.8 0.5 0.6 0.2 1-1.2 1-2.5 0.8-2.6 0.2-2.4-0.4-1.6-0.8-0.4-0.6-0.2-0.8 0.6-1.1zM74.4 78.8l2.4-0.3 2.4 0.4 2 0.9 0.5 1-0.7 1-2.2 0.8-2.6 0.2-2-0.2-1.5-0.8-0.6-1 0.1-0.6 0.6-0.7zM74.5 86.2l2.3-0.2 2.4 0.4 1.8 0.8 0.3 0.6 0 0.4-1.2 1-1.9 0.6-2 0.1-2-0.3-1.4-0.8-0.3-1 0.7-1zM76.1 93.8l2.7 0.3 1.2 0.7 0.5 0.4-7.4 0 1-1z"/><path fill="#31478d" d="M73.2 2.2l2.6-0.3 3 0.2 3 0.9 2.4 1.4 2.1 1.8 1.9 2.6 1.2 3 0.4 2.4-0.1 3-0.6 2.6-1.1 2.4-1.3 2-0.1 1.6 1.6 3.4-0.4 2-1 1.4-1.6 1.1-6.3 2.5 4.3 1.9 1.9 1.1 0.8 1 0 1.6-0.8 1-1.9 1-3 1.1-3 0.5-1.4 0.1-2.6-0.6-2-1-0.9-1.2-0.5-1.9 0.4-1.6 1-1.3 2.8-1.7-3.2-1.8-1-1.1-0.7-1.5-1.1-4.6-2.6-3-1.2-0.6-3.4-0.7-2-0.8-1.5-1.3-1.5-3.2-0.6 0.1-1.3 2.5-1.1 1.2-1.6 0.4-2-0.3-1-0.7-0.7-1-1.1-3.6 0.1-2.4 0.8-3.6 1.1-2.4 1.4-1.5 1.4-0.3 1.3 0.8 1.3 2 1.4 3.7 0.6 0.1 2.2-5.8 1.2-1.8 1-0.8 1.1-0.4 1.5-0.1 3 1.3 1 0 1-0.2 3-1.7zM40.6 7.8l1.2-0.5 0.9 0.5 0.5 0.6 1.2 2.4 0.8 3.4-0.1 2.6-0.8 2.4-1.1 1.4-1.4 0.6-1.6-0.4-0.9-1-0.8-2-0.3-2 0.1-2.6 0.6-2.4 0.9-2zM32.6 8.8l1.2-0.3 1 0.9 0.8 1.8 0.6 3.1 0 2.5-0.6 2-0.8 1.2-1 0.5-1 0-1-0.8-0.8-1.5-0.4-2 0-2 0.4-2.4 0.8-1.9zM25.6 9.2l0.6 0.2 1.1 1.4 0.6 2 0.3 2.4-0.2 2-0.5 1.6-0.7 0.9-1 0.4-1-0.4-0.8-0.9-0.5-1.6-0.2-2 0.2-2 0.5-2 0.8-1.4zM17.8 10.2l1-0.2 0.4 0.4 0.9 1.8 0.4 2 0 2-0.3 1.6-0.5 1-0.9 0.7-1-0.1-0.6-0.5-0.5-1.1-0.3-1.6 0.2-3.4 0.5-1.6zM10.4 11.2l0.8-0.4 0.6 0.3 0.6 1.1 0.5 2-0.2 3-0.5 1-1 0.8-0.4-0.1-0.8-0.7-0.6-2 0.1-3zM3.1 11.8l0.7-0.5 0.4 0.1 0.7 0.8 0.5 2 0 1.6-0.3 1.4-0.6 1-0.7 0.4-1-0.8-0.5-2 0.1-2zM-3.8 12.8l0-0.5 0.9 0.9 0.4 2-0.3 1.6-1 1.1zM61.3 26.2l1.5 0 1.4 0.4 0.8 0.6 0.6 1.6 0 1.9-0.6 1.5-1.2 1.2-1.6 0.5-1.4-0.1-1.6-0.6-0.8-1-0.5-1.4 0.1-1.6 0.6-1.4 1.2-1.1zM49.8 27.8l1-0.3 1 0.2 0.6 0.5 0.5 1 0.2 1-0.3 1.5-0.6 0.7-1 0.5-1.4-0.2-0.6-0.5-0.6-1 0-2 0.6-1zM41.2 28.8l1 0.1 0.6 0.9-0.2 1.4-0.8 0.7-0.6-0.1-0.4-0.4-0.3-0.6 0-1zM61.1 38.8l1.2 0 0.9 0.3 1.1 1.1-0.1 1.6-0.4 0.7-1 0.6-1.6 0.2-1-0.2-1-0.8-0.3-0.5-0.1-1 0.4-1 0.6-0.6zM50.4 40.2l0.7 0 0.5 0.6 0 0.4-0.4 0.6-1 0-0.3-0.6 0-0.4zM74.5 46.8l2.7-0.3 4.6 1.2 1.4 0.7 1 0.8 0.3 0.6-0.1 1-0.6 0.7-1.2 0.7-3.8 1.2-3 0.2-3-0.6-1.3-0.8-0.7-1-0.3-1 0.2-1 1.2-1.4zM60.5 49.2l1.3-0.2 0.7 0.2 0.5 0.6-0.1 1-0.7 0.4-1.4 0-0.7-0.4-0.1-0.6 0.1-0.4zM74.4 55.8l2.8-0.3 3 0.6 2.3 1.1 0.5 0.6 0.2 1-0.3 0.4-1.1 0.9-2.6 0.8-3 0.3-2.4-0.3-2.1-1.1-0.5-1.6 0.4-1 0.5-0.4zM74.9 63.8l2.3-0.2 3 0.6 1.9 1 0.3 1-0.2 0.6-1 0.6-2.4 0.8-2.6 0.3-2.4-0.4-1.6-0.9-0.3-0.4-0.2-1 1.1-1.3zM73.7 71.8l2.5-0.5 3 0.3 2.2 1.2 0.3 0.4-0.1 0.6-1.3 1-1.7 0.4-2.4 0.3-2-0.3-1-0.4-0.9-1 0.1-1zM74.2 79.2l2-0.3 2 0.2 1.9 0.7 0.6 0.5 0.1 0.5-0.2 0.4-0.7 0.6-1.5 0.4-1.6 0.3-2-0.2-1.3-0.5-0.7-1 0.4-1zM74.3 86.8l1.9-0.4 2.6 0.3 1.2 0.5 0.4 0.6 0 0.4-0.6 0.6-1.6 0.6-2 0.2-1.4-0.3-1-0.4-0.6-0.7 0-0.4 0.3-0.6zM76.1 94.2l1.7 0.2 1.6 0.8-5.5 0 0.9-0.6z"/><path fill="#334a90" d="M74.1 2.8l2.7-0.3 2.4 0.4 2 0.6 2.6 1.4 2 1.7 1.6 2.2 1.1 2.4 0.6 2.6 0 3-0.5 2.4-1.1 2.6-1.7 2.4-0.1 1.6 1.7 3.4 0 1-0.3 1-1.3 1.6-2 1.2-3 1-3 0.6-3.6-0.1-2-0.7-1.4-1-0.9-1-0.4-1.1-0.7-4.5-0.8-1.4-2.8-2.6-5-0.9-1.9-1.1-1.3-2-0.8-3.4 0.3-3.6 1.1-3.4 1.2-2.3 1.4-1.5 1-0.4 1.6-0.1 3 1.4 1 0 1-0.3 3.4-2zM50.4 6.8l1.4 0.1 1.5 1.9 1.1 3 0.6 3.4-0.4 2.6-0.9 2-1.5 1.3-1.4 0.4-1.6-0.4-1.3-1.3-0.7-2-0.3-2.5 0.2-2.5 0.8-3 1.3-2.3zM41.1 8.2l1.1 0.1 1.3 1.5 0.9 2.4 0.3 2.6-0.1 2.4-0.7 2-1.1 1.2-1 0.3-1.5-0.5-0.9-1-0.6-1.4-0.3-2 0.2-2.6 0.5-2.2 1-2zM32.5 9.8l0.7-0.5 1 0.4 1 1.5 0.6 2.6 0.1 2-0.4 2-0.7 1.5-1 0.7-1-0.1-0.9-0.7-0.7-1.4-0.3-1.6 0.3-3.4 0.6-1.9zM25.2 10.2l0.6-0.2 1 0.8 0.6 1.4 0.4 2.6-0.1 2-0.4 1.4-0.5 0.9-1 0.4-1-0.4-0.6-0.8-0.5-2.5 0.4-3.6 0.6-1.4zM17.7 11.2l0.5-0.3 0.6 0 0.4 0.5 0.9 2.4 0.1 2-0.3 1.4-0.4 1-0.7 0.7-1-0.1-0.4-0.6-0.7-2 0.2-3zM10.4 12.2l0.4-0.3 0.4-0.1 0.6 0.3 0.7 2.1-0.3 2.9-0.4 0.9-0.6 0.3-0.4-0.1-0.5-0.5-0.5-1.6 0-1.9zM3.2 12.8l0.5-0.5 0.5 0.2 0.6 0.9 0.2 1.4-0.2 2.1-0.6 0.7-0.4 0.2-0.7-0.6-0.4-1.4 0.1-1.8zM-3.8 13.8l0.4 0.4 0.2 1-0.6 1.4zM61.2 26.8l1.5 0 1.1 0.3 1 1 0.3 1.2 0 1.5-0.7 1.4-0.6 0.7-1.6 0.6-1.4-0.1-1-0.3-1-1.1-0.5-1.2 0.1-1.6 0.4-1 1-0.9zM50.1 28.2l0.7-0.1 1 0.3 0.7 1.4-0.1 1.4-0.6 0.9-0.6 0.3-1.2-0.2-0.9-1-0.1-1 0.2-1zM73.7 37.2l2.1-0.4 2 0.1 4.4 1.2 1.6 0.8 1 0.9 0.5 1-0.2 1-0.8 1-1.1 0.6-3.4 1.2-3.6 0.4-3.4-0.7-1.1-0.5-0.9-1-0.5-1.1-0.1-0.9 0.2-1 0.8-1.3 1-0.7zM60.9 39.2l1.3 0.1 1 0.5 0.4 0.4 0.2 0.6-0.1 1-0.9 0.8-1 0.3-1-0.1-1-0.6-0.3-0.4-0.2-1 0.2-0.6 0.4-0.4zM74.2 47.2l3-0.2 4 0.9 2.2 1.3 0.3 0.6-0.1 1-1.4 1.1-3 1.1-3 0.3-3-0.5-1.6-1-0.5-1-0.1-1 0.9-1.6zM74 56.2l2.8-0.3 3 0.5 2 1 0.6 0.8-0.1 0.6-1.1 1-2.4 0.9-2.6 0.2-2.4-0.4-1.6-0.9-0.5-1.4 0.5-1zM74.3 64.2l2.5-0.2 2.4 0.4 2 0.8 0.4 0.6 0 0.4-1 1-1.8 0.7-2.6 0.2-2-0.3-1.2-0.6-0.7-1 0-0.4 0.5-0.8zM75.2 71.8l2-0.1 2 0.4 1.3 0.7 0.3 0.4-0.1 0.6-0.9 0.7-2 0.5-2 0.1-1.6-0.3-0.9-0.6-0.5-1 0.8-1zM74.3 79.8l1.5-0.4 2 0 1.4 0.5 0.7 0.9-0.3 0.4-1.4 0.7-1.4 0.2-1.6-0.2-1-0.3-0.6-0.8 0.1-0.6zM74.5 87.2l1.7-0.4 1.6 0.1 1 0.3 0.6 0.6-0.1 0.4-0.6 0.6-0.9 0.2-2 0.1-1.2-0.3-0.6-0.6 0-0.4zM75.2 95.2l1.6-0.3 1.1 0.3z"/><path fill="#354c92" d="M74.3 3.2l2.5-0.1 2.4 0.3 2.5 0.9 2.1 1.2 1.8 1.7 1.5 2 0.9 2 0.5 2.6 0.1 3-0.6 2.4-1.1 2.6-1.8 2.4-0.2 1 0.2 1 1.3 2 0.3 1 0 1-0.3 1-1.2 1.4-1.4 1-2.6 0.9-2.4 0.6-2.6 0.2-2-0.2-2-0.7-1-0.6-0.9-1-0.5-1-0.6-5-0.9-1.6-2.7-2.4-4.8-0.7-2-0.9-1.2-1.4-0.9-3-0.1-3 0.8-3.6 1-2.4 1.4-1.8 1-0.6 1.4-0.3 1.6 0.5 2 1 1 0.1 1-0.4 3.4-2.1zM49.7 7.8l0.5-0.3 1-0.1 1.2 0.8 1.1 2 0.9 3.6 0 2.4-0.6 2.6-1 1.5-1.6 0.7-1.4-0.1-1-0.7-1-1.4-0.5-2-0.1-2.6 0.4-2.4 1-2.6zM40.7 9.2l1.1-0.3 1.2 0.9 0.9 2 0.5 2.4-0.1 2.6-0.5 1.8-1 1.3-1 0.4-1-0.2-0.9-0.9-0.7-1.4-0.3-1.6 0-2 0.3-2 0.6-1.5zM32.8 10.2l1 0 0.9 1 0.5 1.6 0.3 2-0.1 2-0.5 1.4-0.7 1-1 0.3-1-0.5-0.4-0.8-0.6-2.4 0.4-3.6 0.6-1.3zM25.1 11.2l0.7-0.3 0.6 0.3 0.6 1 0.4 2-0.2 3-0.4 1.1-1 0.6-0.6-0.1-0.5-0.6-0.5-1-0.2-1.4 0.2-2.8zM17.7 12.2l0.5-0.4 0.6 0 0.4 0.7 0.6 1.7-0.2 2.6-0.4 0.9-0.4 0.5-0.6 0.1-0.4-0.4-0.7-1.7 0-2zM10.6 13.2l0.7-0.3 0.5 0.6 0.2 0.7-0.1 2-0.7 1.1-0.4-0.1-0.6-1.4 0-1.6zM3.6 13.8l0.2-0.2 0.4 0.4 0.3 1.2-0.3 1.1-0.4 0.4-0.6-0.8 0-0.7 0-0.8zM60.9 27.2l1.3 0 1 0.3 1.3 1.3 0.2 1-0.2 1.4-0.6 1-1.1 0.8-1.6 0.2-1-0.3-0.8-0.7-0.6-1-0.1-1.4 0.3-1.1 0.8-0.9zM50.7 28.8l1 0.4 0.3 1-0.2 1.1-1 0.5-1-0.5-0.3-1.1 0.3-1zM73.3 37.8l1.5-0.4 2-0.1 4 0.6 2.8 1.3 0.8 1 0.2 1-0.5 1-0.6 0.6-1.3 0.7-2 0.7-3.4 0.5-3.6-0.5-1-0.5-1.1-0.9-0.4-1-0.1-1 0.6-1.7 1-0.9zM61.1 39.8l1.1 0 0.9 1-0.2 1-0.6 0.4-1.1 0.2-1.1-0.6-0.1-1 0.2-0.6zM73.7 47.8l3.1-0.5 3 0.5 2.3 1 0.5 0.5 0.4 0.9-0.8 1.2-2.4 1.1-3 0.5-2.6-0.3-2-0.9-0.5-0.6-0.3-1 0.6-1.4zM73.7 56.8l2.5-0.5 3 0.4 2.1 1.1 0.3 1-1.2 1-1.6 0.5-2.6 0.3-2-0.3-1.1-0.5-0.8-1 0.1-1zM74 64.8l2.2-0.5 2 0.2 2.1 0.7 0.4 0.6 0.1 0.4-1 1-1.6 0.4-2 0.2-1.4-0.2-1-0.4-0.9-1 0.3-1zM74.8 72.3l2-0.3 1.6 0.2 1.1 0.6 0.4 0.4-0.1 0.6-0.7 0.4-1.9 0.5-2.4-0.2-1-0.6-0.3-0.7 0.3-0.4zM74.7 80.2l2.1-0.4 1.4 0.4 0.5 0.6-0.5 0.5-2 0.3-1.3-0.4-0.4-0.4zM75.2 87.8l1.6-0.5 1.2 0.5 0 0.4-1.2 0.4-1.6-0.3z"/><path fill="#364f94" d="M74.1 3.8l2.7-0.3 2.4 0.4 2 0.7 2 1.1 1.8 1.5 1.5 2 1 2 0.6 2.6 0 3-0.6 2.4-1.1 2.6-2 2.4-0.2 1 0.3 1 1.6 3 0 1-0.3 1-0.7 1-1.9 1.3-2.4 0.9-2.6 0.5-2.4 0.1-2-0.3-1.6-0.6-1-0.7-0.8-1.2-0.4-1-0.3-4.4-0.7-1.6-2.2-2.3-1-0.6-4.6-0.4-1.9-0.7-1.5-1.7-0.8-2.7-0.1-3 0.6-3 1.3-2.9 1.4-1.6 1-0.5 1.6 0 3 1.5 1 0 1-0.3 3-2.1zM50 8.2l1.2-0.1 1.4 1.1 0.9 2 0.6 2.6 0 2.4-0.6 2.6-0.7 1-1.6 0.9-1.4-0.2-1-0.8-0.9-1.5-0.4-2 0.1-2.4 0.5-2.6 0.9-2zM41 9.8l0.8-0.3 1 0.7 0.7 1.6 0.6 2.4-0.1 2-0.5 2-0.7 1.2-1 0.4-1-0.2-0.8-0.8-0.6-1.6-0.2-1.4 0-2 0.5-2 0.5-1.2zM32.6 11.2l0.6-0.3 0.6 0.1 0.4 0.4 0.6 1.4 0.4 2-0.1 1.4-0.4 1.6-0.5 0.7-1 0.5-1-0.8-0.7-2.4 0.3-2.6zM25.7 11.8l0.5 0.2 0.6 0.8 0.3 2.4-0.3 2.2-0.6 0.7-0.4 0.2-0.6-0.2-0.4-0.6-0.5-2.3 0.5-2.5 0.4-0.8zM17.9 13.2l0.3-0.4 0.6 0.1 0.6 1.9-0.3 2-0.3 0.5-0.6 0.1-0.4-0.5-0.3-1.1 0-1.6zM60.7 27.8l1.1-0.2 1 0.1 0.7 0.5 0.6 1 0.2 1-0.3 1-0.7 1-0.5 0.4-1 0.2-1-0.1-1-0.6-0.6-0.9-0.2-1 0.2-1 0.6-0.9zM50.4 30.2l0.4-0.4 0.3 0.4-0.3 0.6zM74.6 37.8l3.2-0.2 2 0.4 2 0.6 1.1 0.6 0.9 1 0.2 1-0.2 0.6-0.9 1-0.9 0.4-2.8 0.9-3.4 0.3-2.8-0.6-0.9-0.6-0.9-1-0.3-1 0.1-1 0.6-1 0.6-0.6zM60.9 40.8l0.9-0.3 0.4 0.3 0 0.4-0.4 0.4-0.6 0-0.4-0.4zM75.1 47.8l2.7-0.1 2.5 0.6 1.6 0.9 0.4 0.6-0.1 1-1.2 1-2.2 0.7-2.6 0.2-2.5-0.5-1.5-1-0.3-0.4 0-1 0.9-1.2zM75 56.8l2.2-0.2 2 0.5 1.3 0.7 0.3 0.4 0 0.6-1 0.8-1.6 0.5-2 0.2-2-0.4-1-0.7-0.4-1 0.8-1zM75.5 64.8l1.7-0.1 1.6 0.3 1.1 0.8 0 0.4-0.7 0.7-2 0.5-2-0.1-1.3-0.5-0.4-0.6 0.1-0.4 0.6-0.7zM74.9 72.8l2.3-0.3 1.1 0.3 0.5 0.4-0.1 0.6-0.9 0.4-2 0.1-1.3-0.5-0.1-0.6z"/><path fill="#375195" d="M73.6 4.2l2.2-0.3 2.4 0.2 2 0.5 2.6 1.2 1.7 1.4 1.6 2 1 2 0.5 2 0.1 3-0.6 3-1.2 2.6-2.1 2.4-0.2 1 0.3 1 1.5 2.6 0.2 1-0.1 1-1 1.4-1.3 0.9-2 0.9-2 0.5-2.4 0.2-2-0.1-2-0.6-1-0.5-1-1.1-0.5-1.2-0.3-1.4 0.1-3.6-1.3-1.9-2-2-1-0.6-4.6-0.1-2-0.8-1.3-1.6-0.6-2-0.1-3 0.5-3 1.1-2.7 1.4-1.7 1-0.5 1.6 0 3.4 1.7 1.6-0.5 3-2.2zM50.2 8.8l1-0.1 1.3 1.1 0.9 2 0.5 3-0.2 2.4-0.6 1.6-0.9 1-1.4 0.6-1-0.3-1-0.9-0.7-1.4-0.3-2 0.1-2.6 0.5-2 0.8-1.7zM41.5 10.2l0.7 0.2 1 1.4 0.4 1.4 0.2 2-0.6 2.9-0.4 0.7-1 0.6-1-0.3-0.7-0.9-0.5-1.4-0.2-1.6 0.2-2 0.5-1.4 0.7-1.2zM33.1 11.8l0.7 0 0.4 0.6 0.5 1.4 0.2 1.4-0.2 1.6-0.4 1-0.5 0.5-0.6 0-0.4-0.2-0.6-0.7-0.3-2.2 0.3-2.4zM25.6 12.8l0.7 0.4 0.5 2-0.3 1.6-0.7 0.7-0.6-0.2-0.2-0.5-0.3-1.6 0.2-1.4 0.3-0.8zM18.2 14.8l0-0.3 0.4 0.3 0.2 0.4-0.6 0.7zM60.6 28.2l1.6-0.1 1 0.6 0.4 0.5 0.2 1.6-0.5 0.9-0.5 0.4-1 0.3-1-0.1-1.2-1.1-0.2-1.4 0.5-1zM73.7 38.2l3.1-0.4 3.4 0.6 2.6 1.4 0.4 0.4 0.2 1-0.5 1-0.7 0.5-2.4 1-3 0.5-3-0.4-1.8-1-0.7-1.6 0.1-1 0.4-0.6 0.8-0.8zM74.2 48.2l2.6-0.3 2.3 0.3 2.1 1 0.5 1-0.7 1-1.8 0.9-2.4 0.3-2-0.2-2-0.9-0.5-1 0.5-1.2zM74.6 57.2l2.2-0.3 1.8 0.3 1 0.6 0.4 0.4 0 0.6-0.6 0.4-1.2 0.6-1.4 0.1-1.8-0.1-1.1-0.6-0.4-0.4 0.2-1zM75.2 65.2l1.6-0.1 1.1 0.1 0.9 0.6 0.1 0.4-0.6 0.6-1.1 0.2-2-0.1-0.9-0.7 0.1-0.4z"/><path fill="#385497" d="M73.1 4.8l2.1-0.5 2.6 0 2 0.5 2 0.8 2 1.4 1.5 1.8 1.2 2 0.6 2 0.3 3-0.5 3-1.1 2.4-2.5 3-0.2 1 0.2 1 1.6 2.6 0.3 1-0.2 1-0.5 1-1.2 1-1.5 0.7-2 0.7-2.6 0.3-2-0.1-2-0.4-1.3-0.8-0.9-1-0.5-1-0.2-2 0.3-3-0.5-1-0.8-1-2.5-2.4-1-0.6-4 0.2-2-0.6-1.6-1.5-0.7-2.1-0.1-3 0.5-3 1.1-2.4 1.2-1.5 1.1-0.5 1.5 0 3.4 1.8 1.6-0.6 3-2.3zM50.3 9.2l0.9 0 1.2 1 0.8 2 0.4 2.6-0.1 2-0.7 2-1 1-1 0.2-1-0.3-1-0.9-0.6-1.6-0.2-1.4 0.1-2 0.4-2 0.7-1.6zM40.9 11.2l0.9-0.3 0.5 0.3 0.7 1 0.5 2-0.3 3-0.5 1-0.9 0.7-0.6-0.1-0.7-0.6-0.7-2 0.1-3zM33 12.8l0.2-0.2 0.6 0.2 0.4 0.8 0.3 1.2-0.3 2-0.4 0.7-0.6 0.1-0.7-0.8-0.3-1.6 0.2-1.4zM25.6 14.2l0.2-0.1 0.1 0.1 0.3 1-0.4 1.1-0.6-1.1zM60.6 28.8l1.2-0.3 0.8 0.3 0.5 0.4 0.2 1.6-0.8 1-1.3 0.2-1.1-0.8-0.2-1.4zM74.7 38.2l3.1-0.1 3 0.8 1 0.5 0.9 0.8 0.2 1-0.2 0.6-1.5 1.1-3 0.9-2.4 0.1-2.6-0.6-0.8-0.5-0.6-1-0.1-1.6 1.1-1.2zM75.6 48.2l2.1 0.1 2.1 0.5 1.2 1-0.1 1-1.1 0.7-2 0.6-2 0-1.7-0.3-1.2-1-0.1-1 1-1zM74.6 57.8l1.6-0.5 1.6 0.2 1 0.4 0.3 0.3-0.1 0.6-0.7 0.4-1.1 0.3-2-0.1-1-0.6 0-0.6zM75.8 65.8l1.4-0.1 0.3 0.5-0.7 0.3-1-0.2z"/><path fill="#395598" d="M74.4 4.8l2.4-0.2 2 0.2 2 0.7 2 1.1 1.4 1.4 1.4 1.8 0.9 2 0.5 2 0 3-0.6 2.4-1.3 2.6-2.3 2.4-0.3 1 0.2 1 1.8 2.6 0.2 1-0.1 1-0.6 1-1.2 1-2 0.9-2 0.4-2 0.2-2-0.1-2-0.7-1-0.7-0.8-1-0.4-1.6 0.3-4.4-1.1-1.6-3.6-3.3-1-0.1-3.4 0.4-2-0.7-1.3-1.3-0.8-2.4-0.1-2.6 0.5-3 0.9-2 1.2-1.4 1-0.5 1.6 0 3.4 1.9 1.6-0.7 1.4-1.4 2-1.3zM50.5 9.8l0.7 0 1.1 1 0.8 2 0.3 2-0.2 2-0.5 1.4-0.9 1.2-1 0.3-1-0.4-1-1.1-0.5-1.4-0.1-1.6 0.6-3.4 0.9-1.6zM41.2 11.8l0.6-0.2 0.7 0.6 0.7 2.6-0.4 2.4-0.6 0.9-0.4 0.3-0.6-0.1-0.6-0.5-0.6-2 0.2-2.5zM32.9 14.2l0.3-0.4 0.6 0.3 0.1 0.7-0.1 1.4-0.6 0.4-0.5-0.8zM60.9 29.2l0.9-0.1 0.9 0.7 0 1-0.5 0.5-1 0.1-0.7-0.6 0-1zM73.9 38.8l2.9-0.5 2.8 0.5 2.1 1 0.5 0.4 0.2 1-0.2 0.6-1 0.8-2 0.8-2.4 0.3-2.6-0.3-1.4-0.7-0.9-1.5 0.5-1.4zM74.7 48.8l2.1-0.3 1.8 0.3 1.2 0.4 0.5 0.6 0.1 0.4-0.2 0.6-0.7 0.4-1.3 0.5-1.4 0.2-1.6-0.1-1.3-0.6-0.7-1 0.5-1zM75.2 58.2l1.6-0.4 1.1 0.4-0.1 0.6-1 0.2-1.5-0.3z"/><path fill="#3a599b" d="M74.5 4.8l2.3-0.2 2 0.2 2 0.7 2 1.2 1.4 1.3 1.4 1.8 0.9 2 0.5 2 0 3-0.6 2.4-1.3 2.6-2.3 2.4-0.3 1 0.2 1 1.8 2.6 0.2 1-0.1 1-0.8 1.2-1.6 1-2 0.8-2 0.4-2 0.1-2-0.2-1.4-0.6-1-0.7-0.8-1-0.4-1.6 0.3-4.4-1-1.6-3.7-3.3-1-0.2-3.4 0.4-2-0.6-0.9-0.7-0.7-1-0.6-2.6 0-2.4 0.6-2.6 0.8-2 1.2-1.4 1-0.5 1.6 0 3.4 1.9 1.6-0.6 1.4-1.5 2-1.3zM50.6 9.8l1.2 0.3 0.7 1.1 0.7 2 0.2 2-0.2 1.6-0.5 1.4-0.9 1.2-1 0.2-1-0.3-1-1.1-0.4-1.4-0.2-1.6 0.6-3.4 1-1.6zM41.2 11.8l0.6-0.2 0.7 0.6 0.7 2.6-0.4 2.4-0.6 0.9-0.4 0.2-0.6 0-0.6-0.5-0.6-2 0.2-2.4 0.6-1.2zM33 14.2l0.2-0.4 0.6 0.4 0.1 0.6-0.1 1.4-0.6 0.3-0.4-0.9zM61 29.2l0.8-0.1 0.8 0.7 0.2 0.5-0.6 0.9-1 0.2-0.7-0.6 0-1zM73.9 38.8l2.9-0.5 2.8 0.5 2.1 1 0.4 0.4 0.3 1-0.2 0.6-1 0.8-2 0.8-2.4 0.3-2.6-0.3-1.4-0.8-0.8-1.4 0.4-1.4zM74.7 48.8l2.1-0.3 1.7 0.3 1.2 0.4 0.5 0.6 0.2 0.4-0.3 0.6-0.6 0.4-1.3 0.5-1.4 0.2-1.6-0.1-1.3-0.6-0.7-1 0.5-1zM75.3 58.2l1.5-0.3 1 0.3-0.1 0.6-0.9 0.2-1.4-0.2z"/><path fill="#3b61a0" d="M74.2 5.2l2-0.2 2 0.2 2 0.6 2 1 1.6 1.3 1.3 1.7 0.9 2 0.6 2 0 3-0.7 2.4-1.4 2.6-2.5 2.4-0.4 1 0.3 1 1.9 2.6 0.2 1-0.1 1-0.6 1-1.3 1-1.8 0.7-2 0.4-3.4-0.1-1.6-0.4-1-0.6-0.8-1-0.3-1-0.1-2 0.7-3-1-1.6-4.5-4.1-1 0-3 0.7-2.1-0.6-1.3-1.2-0.8-2.2-0.1-2.6 0.5-2.4 0.8-2 1-1.3 1-0.5 1.6 0 3 1.9 0.4 0.1 1.6-0.7 1.4-1.5 1.6-1.2 1.4-0.7zM50.2 10.8l1-0.1 0.7 0.5 0.7 1.6 0.4 2-0.1 1.4-0.4 1.6-0.7 0.9-1 0.4-0.9-0.3-0.7-0.7-0.6-2.3 0.3-3 0.4-1zM41.1 13.2l0.7-0.3 0.3 0.3 0.5 1.6-0.1 1.4-0.3 0.7-0.4 0.4-0.6-0.1-0.3-0.4-0.3-1 0.1-1.6zM75.4 38.8l2.4-0.1 2 0.5 1.5 1 0.3 1-0.8 1-2 0.9-2.6 0.3-2-0.4-1.2-0.8-0.4-0.4-0.1-1 0.7-1.2zM75 49.2l1.2-0.2 1.6 0.1 1.2 0.7 0.2 0.4-0.3 0.6-1.1 0.4-2.4 0-1-0.4-0.2-0.6 0.1-0.4z"/><path fill="#3c69a5" d="M73.8 5.8l2-0.4 2 0.1 2 0.5 2 1 1.5 1.2 1.3 1.6 1 2 0.5 2 0.1 3-1 3-1.2 2-1.2 1.3-1.6 1.2-0.4 0.9 0.2 1 2.1 2.6 0.3 1-0.1 1-0.7 1-0.8 0.6-1.6 0.7-2 0.5-3.4 0-1.6-0.6-1-0.8-0.6-1-0.3-1.4 0.3-1.6 0.8-2-0.1-1-0.8-1-2.3-1.7-2.4-2.8-1-0.4-3 1-2-0.1-1.5-1.1-1-2.3-0.1-2.6 0.5-2.4 1-2 1.1-1 1-0.3 1 0.1 3 2.2 0.4 0.1 1.6-0.9 1.4-1.7 1.6-1.2zM50.1 11.8l0.6-0.4 1.1 0.6 0.5 1.2 0.3 1.6-0.4 2.4-0.4 0.7-1 0.5-1.2-0.6-0.6-2 0.2-2.6zM74.9 39.2l1.9-0.2 2 0.3 1.6 0.9 0.4 1-0.9 1-1.2 0.6-1.9 0.2-2.1-0.2-1.5-1-0.1-1 0.7-1zM76.5 49.8l1 0.4-0.7 0.4-1.1-0.4z"/><path fill="#3c76af" d="M73.4 6.2l1.8-0.4 2 0 2 0.4 2 0.9 1.6 1.1 1.3 1.6 1.1 2 0.6 2 0 3-1 3-1.6 2.3-2.8 2.1-0.5 1-0.1 0.6 0.4 0.4 2.3 2.6 0.3 1-0.1 0.9-0.7 1.1-0.8 0.5-3 1-2 0.2-1.4-0.2-1.6-0.6-0.9-0.9-0.5-1-0.1-1.6 0.5-1.4 1-1.6-0.1-1-0.8-1-2.7-2-2.8-3.4-0.6-0.3-0.4 0-2.6 1.3-2 0.1-1-0.4-0.8-0.7-0.8-2-0.2-2 0.5-2.6 0.9-1.8 1-1 1-0.3 1 0.1 1 0.6 2 1.9 0.4 0.1 1.6-1 1-1.6 1.4-1.3 1.6-1zM50.1 12.8l0.7-0.4 0.4 0.2 0.6 0.6 0.3 1.6-0.3 2.1-0.6 0.6-0.4 0.2-0.6-0.2-0.4-0.6-0.4-1.1 0.1-1.6zM74.7 39.8l1.5-0.4 2 0.2 1.3 0.6 0.4 0.6 0 0.4-0.3 0.6-1.4 0.6-1.4 0.3-1.6-0.2-1-0.5-0.5-0.8 0.3-1z"/><path fill="#3c82b9" d="M74.8 6.2l2-0.1 1.4 0.2 2 0.6 1.5 0.9 1.5 1.4 1.2 1.6 0.7 1.4 0.4 2-0.1 3-1.2 3-2 2.4-2.6 1.6-0.2 0.6-0.6 0.4 0 0.6 3.2 3 0.3 1-0.2 1-0.7 1-0.8 0.4-2.8 0.9-3-0.1-1-0.4-1.1-0.8-0.5-1-0.1-1.6 0.6-1.4 1.6-2-0.1-0.6-1-1-2-1-1.4-1.3-3-4-0.6-0.5-0.4 0.1-2.6 1.9-2 0.1-1-0.4-0.7-0.9-0.8-2.4 0.1-1.6 0.4-2 0.6-1.1 1-1.1 1-0.3 1.4 0.4 2.6 2.6 0.4 0.3 1.6-1.5 1.1-1.7 1.5-1.6 1.8-1.1zM50.5 13.8l0.3-0.2 0.4 0.3 0.3 1.4-0.3 1-0.4 0.3-0.6-0.3-0.2-1.1 0.1-1zM75 40.2l1.2-0.3 1.6 0.1 1 0.5 0.2 0.7-0.5 0.6-0.7 0.3-2 0-1-0.3-0.3-0.6 0-0.4z"/><path fill="#3f96c3" d="M73.9 6.8l1.9-0.4 2 0.1 2 0.6 1.5 0.7 1.5 1.3 0.9 1.1 0.8 1.6 0.6 2 0.2 1.4-0.2 2-0.7 2-0.9 1.6-2.3 2.2-2.7 1.2-0.2 0.6-1.5 0.7-0.6 0-1.4-0.7-0.6-0.6-2.4-1.1-1.8-1.3-1.2-1.6-1-2-0.6-0.5-0.9-2.5 0.9-2.4 0.6-0.4 1.5-2.6 1.9-1.8zM61.7 10.2l1.1 0.2 1.1 0.8 1.1 1.6 1.1 2.5-0.7 1.5-1.2 1.4-1 0.7-1 0.3-1.4-0.3-0.9-0.7-0.6-1-0.3-1.4 0.1-2 0.7-2 1-1.2zM75.2 26.2l1-0.4 1 0.1 3.2 1.9 1 1 0.4 1-0.5 1.4-1.5 1.1-2.6 0.6-2.2-0.1-1.8-1-0.8-1.6 0.2-1.4 1.2-1.6zM75.7 40.8l0.5-0.3 1 0.1 0.3 0.2 0.1 0.4-1.4 0.3-0.6-0.3z"/><path fill="#54aac5" d="M75.4 6.8l3.4 0.2 1.4 0.6 1.6 1 1.2 1.2 1 1.4 0.9 3 0 2-0.3 1.6-1.5 3-2.3 2.1-1.6 0.8-2 0.5-2-0.1-1.4-0.3-1.6-0.7-1.4-1.1-1.3-1.2-1-1.6-1.3-3.4 0-1.6 1.4-3 1.2-1.5 2.4-2 1.6-0.6zM60.7 11.2l1.1-0.4 1.3 0.4 1.1 1.3 0.8 1.7 0 1.5-0.5 1.5-1 1-1.3 0.6-0.9-0.1-0.9-0.5-0.6-0.8-0.4-1.2-0.1-1.4 0.2-1.6zM75.7 26.8l1.1-0.2 1.4 0.4 2.2 1.2 0.8 1.6-0.2 1-0.3 0.4-1.5 1-2 0.5-2-0.2-1.6-0.7-0.8-1.6 0.3-1.4 1.1-1.4z"/><path fill="#68afac" d="M73.7 7.8l3.1-0.5 3 0.7 2.4 1.8 1.1 1.4 0.7 1.6 0.4 2-0.1 1.4-0.9 3-2.1 2.6-2.5 1.4-3 0.3-3-0.9-2.6-2-0.9-1.4-0.7-1.4-0.4-3 0.9-3 2-2.6zM61.4 12.2l0.8 0 0.9 0.6 0.6 1 0.2 1 0 1-0.4 1-1.3 1-0.9-0.1-0.5-0.4-0.8-1.5 0.2-2.1 0.6-1zM76 27.8l1.8 0.1 1.4 0.7 0.7 1.2-0.2 1-0.9 0.7-1.6 0.5-1.4-0.1-1.5-0.7-0.5-1 0.1-1 0.9-1z"/><path fill="#74ac85" d="M73.9 8.2l2.9-0.4 1.4 0.2 1.6 0.6 2.1 1.6 1.5 2.6 0.4 3-0.8 3-1.8 2.3-2.4 1.5-1.6 0.3-1.4 0.1-2.6-0.7-2.4-1.9-1.6-2.6-0.4-1.6 0-1.4 0.6-2.6 1.8-2.4zM61.5 14.2l0.3-0.1 0.4 0.1 0.4 0.6 0.1 0.4-0.4 0.8-0.5 0.2-0.6-0.4 0-1zM76.7 28.8l1.3 0.4 0.4 0.6 0 0.4-0.6 0.7-1.6 0.2-0.8-0.3-0.3-0.6 0-0.4 0.7-0.8z"/><path fill="#82ac67" d="M73.9 8.8l2.9-0.5 2.4 0.6 2 1.4 1.7 2.5 0.4 1.4 0.1 1.6-0.7 2.4-1.5 2.2-2.4 1.6-2.6 0.5-2.4-0.6-2.4-1.7-1.6-2.4-0.4-1.6-0.1-1.4 0.7-2.6 1.8-2.2z"/><path fill="#96b452" d="M73.9 9.2l2.3-0.4 2.6 0.4 2.3 1.6 1.3 2 0.5 2.4-0.5 2.6-0.6 1.3-1 1.1-2 1.3-2.6 0.5-2.4-0.6-2-1.4-1.5-2.2-0.5-2.6 0.5-2.4 1.5-2.1z"/><path fill="#b2bf45" d="M75.7 9.2l2.5 0.3 2 1.1 1.6 1.8 0.6 2.4-0.3 2.4-1 2-1.9 1.6-2 0.6-2.4-0.1-2-1.1-1.8-2-0.7-2 0.2-2.4 0.9-2 1.8-1.7z"/><path fill="#cec841" d="M75.3 9.8l2.5 0 2 0.9 1.3 1.5 0.8 2-0.1 2.6-0.9 2-1.7 1.5-2 0.7-2-0.1-2-0.9-1.6-1.8-0.8-2 0-2 0.8-2 1.6-1.6z"/><path fill="#dcbc3c" d="M75 10.2l1.8-0.1 2 0.5 1.4 1.2 1.2 2 0.2 2-0.6 2-1.2 1.6-2 1-2 0.2-2-0.8-1.6-1.3-0.8-1.7-0.2-2 0.6-2 1.4-1.7z"/><path fill="#e19432" d="M74.9 10.8l1.9-0.3 2 0.6 1.3 1.1 0.8 1.6 0.3 2-0.7 2-1.3 1.4-1.4 0.8-1.6 0.2-2-0.6-1.4-1.2-1-1.6-0.2-1.6 0.4-2 1.2-1.5z"/><path fill="#da6829" d="M74.7 11.2l2.1-0.3 1.4 0.4 1.3 0.9 1 1.6 0.2 2-0.4 1.4-1.1 1.5-1.4 0.8-1.6 0.2-1.7-0.5-1.3-1-0.9-1.4-0.3-1.6 0.3-1.4 1-1.6z"/><path fill="#cd4128" d="M74.7 11.8l1.5-0.4 1.6 0.2 1.1 0.6 0.9 1 0.5 1.6-0.1 1.4-0.7 1.6-1.3 1-1.4 0.5-1.6-0.2-1.4-0.9-1-1.4-0.3-1.6 0.3-1.4 0.6-1z"/><path fill="#c62e2a" d="M74.7 12.2l1.1-0.3 1.4 0 1 0.4 1 1 0.6 1.5 0 1.4-0.6 1.1-1 1-1.1 0.5-1.3-0.1-1.6-0.7-0.9-1.2-0.4-1.6 0.2-1 0.7-1.1z"/><path fill="#c2282d" d="M74.9 12.8l1.3-0.5 1 0.1 1 0.6 0.7 0.8 0.4 1-0.1 1.4-0.5 1-0.9 0.8-1 0.3-1-0.1-1-0.5-0.9-0.9-0.4-1 0-1 0.4-1z"/><path fill="#a1252a" d="M75.1 13.2l1.7-0.3 0.9 0.3 0.6 0.6 0.5 1 0 1-0.4 1-0.6 0.5-1 0.4-1-0.1-0.7-0.4-0.9-0.9-0.1-1.5 0.5-1z"/><path fill="#862126" d="M75.7 13.8l1.1-0.2 1 0.6 0.3 1.6-0.9 1-1 0.2-0.4-0.1-1-1.1 0-1z"/><path fill="#791e23" d="M75.9 15.2l0.3-0.4 0.6 0.1 0.1 0.3-0.1 0.6-0.6 0z"/></g>
<g id="h23"><path fill="#2c336b" d="M25.5-1.8l67.8 0-0.1 67.5-1.4 3.1-1.9 2.4 0.3 3-0.4 1-1.2 2 0.7 3-0.3 1-1.2 2-0.1 0.6 0.9 2 0.1 1-1.6 3 0.9 2 0.1 0.9-0.3 1.1-1.1 1.4-22.9 0.1-1.6-0.9-0.8-1.2-0.1-1 0.5-1 1.5-1.5-0.2-0.5-1.7-1.5-0.4-0.9 0.3-1.6 1.3-1.4 0-0.6-1.5-1.4-0.4-1 0.2-1.6 1.1-1.4 0-0.6-1.2-1.4-0.5-1 0.1-1.6 0.8-2-1.4-1.9-0.6 0.1-1.4 1.2-1.4 0.6 2.2 2 0.2 1-0.3 1-0.7 0.9-1 0.4-2-0.1-1.5-1.2-0.2-1.4 0.7-1.2 1.7-1.4-1.7-0.8-1.3-1.6 0-1.6 1.1-2-1.4-1.5-0.4-0.3-3 1.8 1.9 1.6 0.5 1.4-0.9 1.6-1.5 0.7-1.5-0.4-1.2-1.3-0.1-1 0.4-1 0.8-0.9 1.3-0.7-1.7-0.9-1.3-1.5-0.2-1.6 1-2-1.1-1.2-0.4-0.2-2.3 1.4 1.2 1 0.7 1 0.1 1-0.5 1-0.8 0.7-1 0.4-1-0.1-1-0.6-0.6-1.4 0.1-1 0.5-0.9 1.4-1.1-1.8-1.4-1-1.5-0.6 0.2-1 1.2-1 0.5-1-0.1-1-0.5-0.7-1.4 0-1 0.7-1.1 1.3-0.9-1.8-1.4-0.9-1.5-0.6 0-0.6 0.9-0.8 0.7-1 0.3-1.4-0.4-0.8-1-0.2-1 0.2-1 1.2-1.3 1-0.4 0.4 0.1 1 0.5 1 1.3 0.6-0.1 1.1-2.2-1.1-1.2-0.6-0.1-2.4 1.1-1-0.4-1.2-0.9-1.3-2 0.1-0.4 1.7-2.6 0.1-0.4-0.4-0.6-1-1-0.6-0.1-2 1.1-1.4-0.2-1.2-0.8-1.4-2.2-0.9 1.8-1.1 0.7-1.4 0-1.4-1.3-0.4-1.4 0.2-1 0.6-1 1-0.8 1-0.1 1 0.4 1.2 1.5 0.2 0.6 1-1.6 1.3-1.6-0.2-0.4-1.5-1.3-0.6-0.2-2 1.1-1 0-1.4-0.6-1.6-1.3-1.4 1.1-1.6 0.4-1.4-0.6-1.6-1.8-2 1.8-1.4 0.2-1.4-0.8-1.2-2-0.4 0.1-1 1.7-1 0.6-1.6-0.1-0.9-0.9-0.7-2-0.4-3.2 0-17.9 1.6-1.6 1-0.5 1 0 2 1.3 0.4 0 2-1.6 1-0.4 1 0.3 1.6 1 0.4 0.1 2-1.6 1-0.4 1 0.2 2 0.9 3-2.2 1 0 2 0.6 2.6-2.2zM25.8 31.7l-0.4 0.5 0.4 0.5 0.4 0.2 0.4-0.1 0.2-0.8-0.6-0.3zM37.8 52.2l-1.4 1 1.8 1.8 0.6 0.1 1-1.9-0.2-0.4-0.8-0.9zM59.2 64.9l-0.4 0.3 0.1 0.6 0.3 0.3 0.6-0.1 0.1-0.8zM10.5 33.8l0.7-0.3 1 0.2 0.6 0.5 0.5 1 0 1-0.4 1-1.1 0.9-1.5-0.3-0.7-1-0.2-1 0.2-1zM4.3 34.2l0.5-0.2 1 0 0.8 0.8 0.2 1.4-0.5 1-0.5 0.5-1 0-1-0.9-0.1-1.6zM-1.6 34.8l0.8-0.3 0.6 0.1 0.4 0.6 0 1-0.4 0.8-1 0.1-0.6-0.4-0.2-0.9zM23 40.8l0.8-0.2 1 0.3 0.9 0.9 0.5 1-0.1 0.9-0.3 0.5-0.6 0.8-1 0.6-1 0-0.8-0.4-0.6-0.4-0.4-1-0.1-1 0.4-1zM16.3 41.7l0.5-0.3 1-0.1 1 0.5 0.5 1.4-0.3 1-0.4 0.6-1.4 0.3-0.8-0.3-0.4-0.6-0.3-1.4zM10.5 42.2l0.7-0.3 1.1 0.4 0.3 0.9-0.5 1-0.9 0.3-0.6-0.3-0.5-1zM4.8 42.8l0.4-0.2 0.5 0.2 0.1 0.4-0.2 0.6-0.4 0.1-0.4-0.2zM22.7 48.2l0.5-0.2 1 0.1 1 1.1 0.1 1-0.5 0.9-0.6 0.4-1 0-1.1-0.7-0.2-1.6zM16.9 48.8l0.9-0.2 0.7 0.6 0.1 1-0.4 0.6-1 0.2-0.5-0.2-0.5-1zM29 54.2l1.2 0 1.2 1-0.1 1.6-1.1 0.8-1 0.1-1.1-0.9-0.1-1.6zM22.6 55.2l0.6-0.4 1 0.2 0.5 0.8-0.3 1-0.6 0.3-1-0.3-0.4-0.6zM34.6 60.8l1.2-0.5 1.2 0.5 0.5 1-0.2 1-0.3 0.4-1.2 0.5-1.2-0.5-0.4-0.4-0.1-1zM29 61.2l0.8-0.2 0.6 0.2 0.3 1-0.5 0.7-0.4 0.2-0.9-0.3-0.3-1zM40.7 66.8l0.5-0.4 1-0.1 1 0.6 0.5 1.3-0.5 1.1-0.4 0.4-1 0.2-1.3-0.7-0.3-0.4-0.1-1zM35.1 67.2l0.7-0.2 0.4 0.1 0.6 0.5 0 1.1-0.6 0.5-1 0-0.4-0.4-0.1-1zM47.3 72.8l1.5-0.4 0.9 0.4 0.5 0.4 0.2 0.6 0 1-0.6 0.8-1.6 0.4-1.3-0.8-0.3-0.4 0-1zM41.3 73.2l0.9-0.1 0.8 0.7-0.1 1-0.5 0.4-0.6 0.2-1-0.6 0-1zM54.4 78.8l1.4-0.5 1.4 0.3 1 1.2-0.2 1.4-0.8 0.8-1 0.4-1-0.1-1-0.4-0.5-0.7-0.2-1 0.3-0.8zM47.6 79.2l0.6-0.2 1.2 0.2 0.6 1-0.4 1-1.4 0.5-0.9-0.5-0.3-1zM41.5 80.2l0.3-0.2 0.5 0.2-0.5 0.6zM54.4 85.2l1.4-0.4 1.4 0.4 0.7 1-0.2 1-0.5 0.5-1 0.4-1.4-0.2-1-1.1 0.2-1zM47.8 85.8l0.4-0.2 0.9 0.2 0.4 0.4-0.3 0.9-0.4 0.3-1-0.3-0.3-0.9zM54.6 91.8l1.2-0.5 1 0.2 0.6 0.7-0.2 1-1 0.6-1 0-0.4-0.3-0.5-0.7z"/><path fill="#2b3570" d="M60.5-1.8l32.8 0-0.1 33-1 1-0.2 0.6 0.1 2.4-0.6 1.6-2.2 3 0.7 3.4-0.4 1-1.7 2.6 1 3-0.3 1-1.4 2-0.1 0.4 1 2 0.1 1-1.9 3 1.1 2 0.1 1-0.4 1-1.4 2 1.1 2 0.3 1-0.4 1-1.5 2 1.4 3-0.3 1-1.5 2 0 0.6 1.4 2 0 1-1.7 2.4 0 0.6 1.4 2 0.1 1-0.4 1-1.4 1.4-0.1 0.6 1.4 2 0.2 1-0.4 1-1.4 1.4-14.4 0-0.6-2.4 0.4-3-0.5-2-0.6-0.5-2 0.8-1.4 0-1.3-0.3-0.7-0.8 0-1 1-0.9 2-0.3 2.4 0.7 0.6-0.7 0.1-1.6-0.7-1.2-2.4 0.3-1.6-0.2-1-0.4-0.8-0.9 0.2-1 1.2-1 1.4-0.3 2.6 0.2 0.5-0.4 0.1-1.1-0.2-0.5-0.4-0.3-2.6 0-1.4-0.3-1.3-0.9-0.4-1 0.4-1 0.7-0.5 1.6-0.5 2.4-0.3 0.4-0.1 0.1-0.6-0.8-0.4-2.1-0.3-1.6-0.4-1-0.7-0.4-0.6 0-1 0.7-1 3.3-1.6-3.1-1.2-0.8-0.8-0.4-1 0.5-1.5 2-1.5-2.2-1.6-0.7-1.4 0.3-1.4 1.6-1.6-0.2-0.4-1.6-1.6-0.4-1 0.2-1.4 1.4-2-1.3-1.6-0.7-1.4 0-1.6 1.3-2.4-1.9-2.5-0.6 0.1-1.4 1.4-1 0.4-2-0.1-1.3-0.9-1-1.4-0.1-1.6 0.6-1.4 1.5-1.6-0.3-0.4-2.4-1.9-2 1.3-1 0.3-1-0.2-1-0.4-1.6-1.6-0.4-0.1-1.6 1.4-1 0.3-1 0-1.1-0.7-1.3-1.8-0.6 0.3-1.4 1.6-1.6 0.2-1-0.5-0.6-0.8-0.8-2.3-0.6 0.4-0.5 1.5-0.9 1.1-1 0.4-1-0.2-1-1-0.7-1.9 0-1.4 0.9-2.6-0.1-0.4-1.1-0.6-1 0-2 0.5-3-1.1-3.6 0.5-3-1-3 0.7-1-0.2-2-0.8-3 0.8-1-0.1-2-1-2.4 0.8-1 0.1-1-0.3-1.6-1.1 0-10.5 1.5-2.3 1.1-0.7 1 0.1 2 2.1 0.4 0 2-2.3 1-0.3 1 0.4 1.6 1.7 0.4 0.2 2-2.1 1-0.4 1 0.3 2 1.7 0.6-0.2 1.4-1.8 1-0.5 1 0.2 2 1.8 0.6-0.1 1.4-1.7 1-0.6 1 0.1 2 1.7 0.6-0.1 1.4-1.7 1-0.6 1 0.1 2 1.6 0.6 0 2-2 1-0.3 1 0.3 1.4 1.1 0.6 0.1 2-1.9 1-0.4 1 0.1 2 1.2 0.4-0.1 2-1.9 1.1-0.5 0.9 0 2.6 1.1 3.4-3 1.6-0.4 2.4 0.1zM32.2 23l-0.4 0.2 0 0.6 0.4 1.5 0.6 0.3 0.3-1.8-0.1-0.6zM59.2 31.1l-1.2 0.7-0.3 0.4 1.5 1.7 0.6 0 0.8-1.7-0.6-1zM23.7 23.2l1.1 0.6 0.6 1 0.3 1 0 1.4-0.2 1-0.6 1-0.7 0.5-1 0.2-1-0.5-0.4-0.6-0.4-1 0-1.6 0.1-1 0.7-1.2 0.6-0.5zM16.5 24.2l0.7-0.3 1 0.2 0.7 0.7 0.3 1 0.2 1-0.3 1.4-0.7 1-0.6 0.4-1.4-0.4-0.8-1.4 0-2zM5 24.8l0.8 0 0.4 0.4 0.4 1.6-0.4 1.5-1 0.7-1-0.5-0.4-1.3 0.2-1.4 0.2-0.6zM10.5 24.8l0.7-0.4 0.6 0.1 0.4 0.3 0.6 1 0 2-0.5 1-0.5 0.3-1 0-0.6-0.4-0.4-1 0-1.6zM-0.9 25.2l0.7 0.3 0.4 1.3-0.2 1-0.8 0.7-0.4-0.1-0.6-0.6-0.2-1 0.3-1zM47.2 33.2l1-0.3 1 0 1 0.6 0.6 0.7 0.4 1-0.1 1.6-0.6 1-0.7 0.5-1 0.3-1-0.1-1-0.5-0.6-0.8-0.3-1 0.1-1.4 0.6-1zM40.9 33.8l0.9-0.3 1 0.1 0.9 1.2 0.2 1-0.2 0.9-0.9 1.2-1.6 0.1-0.5-0.2-0.7-1-0.1-1.6 0.5-1zM34.9 34.2l0.9-0.2 0.4 0.1 0.8 0.7 0.2 1.4-0.4 1-0.6 0.3-1 0.1-0.8-0.8-0.1-1.6zM29 34.8l0.8-0.3 0.4 0.2 0.4 0.5 0.1 1-0.5 0.7-0.4 0.3-0.5-0.1-0.7-0.9 0-1zM54.8 40.8l1-0.3 1 0.1 1.1 0.6 0.7 1 0.2 1-0.2 1-1.4 1.3-1.4 0.3-1-0.2-1-0.7-0.5-0.7-0.2-1 0.1-1 0.6-0.8zM47.2 41.8l0.6-0.4 1-0.1 1 0.5 0.4 0.4 0.3 1-0.3 1-0.4 0.5-1.6 0.4-0.8-0.3-0.5-0.6-0.3-1.4zM41.1 42.2l0.7-0.3 1 0.4 0.3 0.9-0.6 1-0.7 0.3-0.6-0.2-0.4-0.5-0.1-1zM54.4 48.2l1.4-0.4 1.4 0.3 1 1.1-0.2 1.6-0.8 0.7-1 0.3-1 0-1-0.5-0.4-0.5-0.3-1 0.4-1zM47.8 48.8l1-0.2 0.9 0.7 0.1 0.9-0.6 0.7-0.9 0.2-1.1-0.8 0-0.9zM54.6 54.8l1.2-0.4 1.4 0.3 0.6 1.1-0.2 1-0.5 0.4-0.9 0.4-1.5-0.4-0.8-1 0.2-1zM47.8 55.8l0.4-0.4 0.6 0 0.3 0.4 0 0.4-0.3 0.4-0.6 0-0.4-0.4zM54.9 61.2l0.9-0.2 1 0.2 0.4 0.6-0.3 1-1.1 0.4-1-0.4-0.2-1zM55.4 67.8l0.8-0.1 0.3 0.5-0.3 0.4-0.5 0.2-0.5-0.6zM65.2 91.2l1.9 0.6 0.5 0.4 0 0.6-0.3 0.4-0.9 0.6-1.2 0.1-1-0.1-0.8-0.6-0.3-1 0.5-0.4z"/><path fill="#2b3775" d="M72.5 1.8l3.3-0.5 3 0.2 3 0.9 2.5 1.4 2.3 2 1.9 2.4 1.1 2.6 0.6 3-0.1 4-1.3 4.4 0.1 1.6 0.6 2.4 0 1-0.9 2-2.6 2.6-0.1 0.4 0.2 0.6 1.4 2 0.1 1.4-0.4 1-2.2 2.6 0.1 0.4 1.5 2 0.2 1-0.3 1-1.9 2.6 1.4 2 0.3 1-0.2 1-1.8 2-0.1 0.4 1.6 2 0.2 1-0.5 1-1.5 1.6-0.2 0.4 1.5 2 0.3 1-0.5 1.1-1.5 1.5-0.2 0.4 1.6 2 0.3 1-0.4 1-1.9 2 0.1 0.6 1.7 2 0 1-2.1 2.4 0 0.6 1.9 2 0.1 1-0.6 1-1.6 1.4 0 0.6 1.9 2 0.2 1-0.6 1-1.7 1.4-0.1 0.6 1.8 2 0.2 1-0.5 1-1.8 1.4-10.5 0-0.7-1.4-0.2-1.6 0.8-2.4-1-3 0.1-1 0.6-2-0.8-3 0.6-3.6-0.8-3 0.5-3-0.7-3 0.4-3-0.7-3 0.3-3-0.9-3.5 0.4-2.9-0.5-1.5-0.6-0.1-2.4 0.7-1.6 0-1-0.4-0.9-0.7-0.3-1 0.8-1.3 1.4-0.6 2-0.1 2 0.5 0.5-0.5 0.1-1-0.6-1.2-3 0.2-2-0.4-1-0.7-0.5-1.5 0.2-1 1.1-1 1.8-0.5 3-0.2 0.3-0.7-0.5-0.6-2.8-0.1-1.6-0.4-1-0.5-0.7-1-0.3-1.4 0.4-1.6 1.2-1 2.2-1-0.6-0.4-2.2-0.9-1.4-1.7-0.8-2.4 0.4-3-0.4-1-0.8-0.3-1.2 0.3 0 0.4 1.1 2.6-0.1 2-0.7 1.4-0.5 0.7-1 0.6-1 0.1-1.5-0.4-1.2-1.4-0.4-2 0.2-1.6 1.5-2.4-2.2-1.3-0.4-0.1-2 0.6-1.5 0.2-3.5-1.2-1.6 0.6-1.4 0.2-1-0.2-2-1-3 0.9-1.6-0.3-1.4-0.9-0.6 0-1.4 0.8-1.6 0.2-1-0.3-1.4-1.1-0.6 0-1.4 0.9-1.6 0.2-1-0.2-2-1.3-1.4 1-1.6 0.4-1-0.3-2-1.5-2 1.4-1 0.2-1.3-0.5-1.7-1.4-1.8 1.4-1.2 0.4-1.4-0.5-1.6-1.6-0.5 0.1-1.5 1.5-1.4 0.2-1.6-0.9-1-1.9 0.1-5.3 1.2-3 1.3-1.1 0.4-0.1 1 0.6 1.6 2.4 0.4 0.1 1.9-2.9 1.1-0.6 1 0.6 1.6 2.3 0.4 0.3 2-2.8 1-0.5 1 0.4 2 2.5 2-2.8 1-0.5 1 0.3 2 2.5 0.6-0.2 1.4-2.2 1-0.7 1.3 0.4 1.7 2.2 0.6-0.1 1.4-2.2 1-0.7 1 0.1 2 2.3 0.6 0.1 1.4-2 1-0.7 0.6-0.1 1 0.4 1.4 1.8 0.6 0.1 2-2.3 1-0.5 1 0.3 2 2.1 0.4-0.1 2-2.5 1-0.4 1.6 0.5 2 2 0.4-0.2 2-2.5 1-0.6 1.6 0.1 2.4 2.2 0.6 0 2.4-3.1 1.6-0.9 1.4-0.2 4 0.6zM47.5 23.8l1.3-0.4 1 0.5 0.7 0.9 0.3 1 0.1 1.4-0.4 1.6-0.7 0.9-1 0.4-1.6-0.3-0.8-1-0.3-1-0.1-1.6 0.3-1 0.5-0.9zM41.1 24.2l0.7-0.2 1 0.3 0.7 0.9 0.3 1-0.2 2-0.6 1-0.8 0.5-1-0.1-0.4-0.3-0.9-1.5 0.1-2 0.5-1zM35 24.8l0.8-0.3 0.4 0.1 0.7 0.6 0.4 1-0.2 2-0.9 1-0.4 0.1-1-0.4-0.7-1.1 0.1-2zM28.7 25.2l0.5-0.3 1 0.2 0.7 1.1-0.1 2-0.6 0.6-0.4 0.2-1-0.4-0.5-0.8-0.1-1.6zM22.8 25.8l1-0.3 0.6 0.7 0 1.6-0.6 0.7-0.6 0-0.6-0.7-0.1-1zM16.9 26.2l0.3-0.3 0.7 0.3 0.2 1-0.3 0.7-0.6 0.1-0.4-0.5zM54.7 34.2l0.5-0.2 1-0.1 1 0.6 0.6 1.3-0.6 1.4-1.4 0.6-1.3-0.6-0.4-0.4-0.2-1 0.3-1zM48.1 34.8l0.7-0.1 0.6 0.5 0 1-0.6 0.7-1-0.2-0.3-0.5 0-1zM54.9 42.8l0.9-0.5 0.5 0 0.5 0.5 0 1-0.6 0.4-1-0.1-0.4-0.8zM64.7 54.2l1.5 0.1 1.1 0.5 0.9 1-0.4 1-1 0.7-1 0.3-1.6-0.1-1.1-0.5-0.8-1 0.3-1 0.6-0.5zM64.2 60.8l1.6-0.1 1 0.4 0.5 0.7-0.2 0.9-0.6 0.5-1.3 0.3-1 0-1-0.5-0.4-0.8 0-0.4 0.4-0.6zM63.9 67.2l1.3-0.2 1 0.2 0.5 0.6 0.2 0.4-0.2 0.6-1.5 0.6-1.5-0.3-0.6-0.9 0.2-0.4zM64.3 73.8l0.9-0.2 0.8 0.6-0.2 0.6-0.6 0.2-1-0.2-0.3-0.6z"/><path fill="#2b397a" d="M73.5 3.2l2.7-0.3 2.6 0.3 2.4 0.8 2.6 1.5 1.9 1.7 1.4 2 1 2.6 0.5 2.4-0.3 4-1.5 4 0.1 1.6 0.9 2.4-0.1 1.6-0.8 1.4-3.1 2.6-0.2 0.4 1.8 2 0.6 1.6-0.5 1.4-2.6 2.6 0.1 0.4 2 2 0.3 1-0.5 1.3-2 1.7-0.3 0.6 0.3 0.4 1.6 1.6 0.5 1-0.3 1-2.1 2-0.1 0.4 2 2 0.3 1-0.6 1-1.9 1.6-0.2 0.4 2 2 0.3 1-0.2 0.6-2.5 2.4 2.1 2 0.4 1-0.5 1-2.3 2 0.1 0.6 1.9 1.4 0.3 0.6 0 1-0.7 1-2 1.4 0.2 0.6 1.9 1.4 0.6 1-0.3 1-2.5 2 0 0.6 2.4 2 0.2 1-0.6 1-2.2 1.4-0.2 0.6 2.4 2 0.3 1-0.9 1.2-2.1 1.2-7.1 0-1-1-0.6-1 0.1-1.4 1.3-2-0.1-0.6-1.2-1.4-0.3-1 0.3-1.6 1.1-1.4-0.1-0.6-1.1-1.4-0.3-1 0.2-1.5 1-1.5 0.1-0.6-1.1-1.4-0.3-1.6 0.2-1 0.9-2-1.2-2-0.1-1 0.1-1 0.9-2-1-1.9-0.2-1.1 0.1-1 0.8-2-1.1-2.9 0-1 0.8-2.1-1-3 0.1-1.5 0.7-1.9-1-3 0-1.6 0.6-2.4-1.1-3.6 0.5-4-0.6-1.4-0.6-0.7-2.6 0.7-1.4 0.1-2-0.6-1.2-1.1-0.6-1.4-0.1-1.6 0.5-1.4 1.5-2-0.4-0.6-2.7-2-0.6 0.1-2 1-2 0.2-1.4-0.5-2-1.5-2 1.4-1.6 0.2-1.4-0.4-1.6-1.4-0.4-0.1-1.6 1.3-1.4 0.4-1.6-0.6-1.4-1.4-0.6 0.2-1.4 1.3-1 0.2-1.6-0.4-1.4-1.6-0.6 0.1-1.4 1.5-1.6 0.3-1-0.4-1.4-1.8-0.6-0.1-1.4 1.7-1.6 0.4-1.1-0.5-1.3-1.9-0.6-0.2-1.4 1.9-1.6 0.5-1.4-0.8-1.6-2.2-1.5 2.1-1.5 0.7-1-0.3-0.4-0.4-1.6-2.7-1.4 2.5-0.6 0.5-1 0.3-1-0.3-0.8-0.7-1.2-3-0.4 0.4-0.8 2-0.8 0.9-0.4 0.4-1 0-1-0.6-0.5-0.7-0.7-2.4 0.1-2 0.4-2 0.7-1.6 1-0.9 1 0.1 0.4 0.6 0.7 1.2 0.9 2.6 0.4 0.4 1.6-4.2 0.5-0.8 0.9-0.4 0.6 0.2 0.7 0.8 1.7 3.7 1.6-3.5 0.4-0.8 1-0.5 0.6 0.1 0.9 1 1.5 3 1.8-3.6 1.2-0.9 1 0.4 0.5 0.5 1.5 3 0.6-0.4 1.4-3 1-0.7 1.1 0.3 0.5 0.5 1.4 2.7 0.6-0.2 1.7-3.2 0.7-0.5 0.6 0 1 0.6 1.4 2.6 0.6 0.1 1.4-2.6 1-0.9 1 0.1 0.6 0.4 1.4 2.4 0.6 0.2 2-3 1-0.5 0.4 0 1 0.8 1.6 2.4 0.4-0.2 2-3.1 1-0.5 0.6 0 1.1 0.7 1.8 2.7 0.5-0.3 1.8-2.8 1.2-1 1 0 1 0.5 2 2.6 0.6 0.1 2-3.2 1-1 1-0.6 1.4-0.2 2.6 0.8 1.4 0.1 2-1zM55.3 24.2l0.9 0 1 0.5 0.9 1.5 0 1.6-0.3 0.8-0.6 0.7-1 0.4-0.9 0-0.9-0.5-0.9-1.4 0-1 0.3-1.2 0.4-0.8zM47.4 25.2l0.8-0.4 0.6 0 0.6 0.4 0.6 1 0.1 1-0.3 1-1 1-1-0.2-0.9-1.2 0-1.5zM41.2 25.8l0.6-0.3 0.4 0.1 0.6 0.6 0 1.6-0.6 0.7-0.4 0.1-0.6-0.2-0.3-0.6-0.2-1zM35.6 26.2l0.6 0.6 0 0.4-0.4 0.6-0.6-0.6 0-0.7zM63.6 33.8l2.2-0.2 1.4 0.6 0.5 0.6 0.2 1-0.5 1.4-1.2 0.8-1 0.2-1.5-0.2-0.9-0.5-0.8-1.3 0.1-1 0.6-1zM64.2 41.8l1.3 0 1.1 0.4 0.5 1-0.5 1.1-0.8 0.4-1 0.1-1.7-0.6-0.3-0.4 0-1 0.4-0.6zM63.5 49.2l1.3-0.4 1 0.2 0.7 0.8-0.1 0.4-0.6 0.6-1.6 0.1-0.9-0.7-0.1-0.4zM63.8 55.8l0.4-0.4 1-0.1 0.7 0.5 0 0.4-0.7 0.5-0.6 0.1-0.8-0.5z"/><path fill="#2c3b7d" d="M73.2 4.2l2.6-0.3 2.4 0.1 3 1 2 1.2 2 1.9 1.4 2.1 0.8 2.6 0.3 2-0.3 3.4-1.7 4 0 1.6 1 2.4 0 1.5-0.9 1.6-3.6 2.5-0.2 0.4 2.6 2.6 0.3 1.4-1 1.6-2.8 2 0.2 0.4 2.5 2 0.4 1-0.4 1-0.4 0.6-2.2 1.4-0.4 0.6 2.5 2 0.5 1-0.3 1-2.6 2-0.1 0.4 2.4 1.9 0.4 1.1-0.6 1-2.4 1.6-0.2 0.4 2.5 2 0.3 0.6-0.1 1-3.2 2.4 2.8 2 0.4 1-0.1 0.6-0.8 0.8-2.7 1.6 0.3 0.6 2.4 1.4 0.4 0.6 0.1 1-0.9 1-2.7 1.4 0.2 0.6 2.6 1.4 0.7 1-0.4 1.1-1 0.8-2.2 1.1-0.1 0.6 2.8 1.5 0.5 0.5 0.3 1-0.7 1-3 1.4-0.4 0.6 2.8 1.5 0.9 0.9 0 0.6-0.3 0.7-1 0.7-2.9 1-2.8 0-0.9-0.2-1.4-0.9-0.7-1.3 0.5-1.6 2.1-1.4-0.3-0.6-2.1-1.4-0.4-1 0.4-1.6 1.9-1.4 0-0.6-2-1.4-0.4-1.6 0.3-1 1.8-1.4 0.1-0.6-1.8-1.4-0.5-1 0.2-1.6 1.6-1.4 0.2-0.6-1.7-1.4-0.6-1.6 0.4-1.1 1.5-1.9-1.5-1.7-0.5-1.3 0.4-1.4 1.2-1.6-1.5-2-0.3-1 0.3-1.4 1.2-1.6-0.1-0.4-1.2-1.6-0.3-1.4 0.2-1.1 1.3-1.9-1.4-2-0.3-1.6 0.3-1.4 1.1-2-1.4-2-0.4-1.6 0.2-2 0.9-2-2.3-4.2-0.4-0.4-1.6 1.9-1.4 0.7-2-0.1-1.5-0.9-0.6-1-0.2-1 0.4-2 0.9-1 2.2-1 0.3-0.4-0.6-0.6-2.9-1.2-2-2.3-0.6 0.1-1 1.1-1 0.7-2 0.2-1.4-0.6-2-2.5-1.6 2.1-1 0.6-1 0.1-1.4-0.6-1.6-2.3-0.4-0.1-1.6 2.2-1.4 0.5-1.6-0.7-1.4-2.4-0.6 0.3-1 1.8-1.4 0.8-1-0.3-0.7-0.5-1.3-2.7-0.6 0.3-0.6 1.4-0.8 1.2-0.6 0.3-1 0.1-1-0.5-0.4-0.5-1-2.9-0.5-0.7 1.6-5 0.9-1.1 0.4-0.4 1.1 0.2 0.5 0.6 1.4 3.7 0.6 0.3 1.1-3.3 0.9-1.2 0.4-0.4 1 0.1 0.6 0.5 1.4 3.2 0.6 0.5 1.9-4.1 0.5-0.5 1-0.1 1.1 1 1.5 3.2 0.4-0.2 1.6-3.4 0.4-0.6 1-0.6 1 0.3 0.6 0.4 2 3.8 0.4-0.5 1.6-3.3 1.4-1.4 1 0 1 0.6 2 3.3 0.6 0.2 1.8-3.8 1.6-1.7 1-0.4 1 0 2.6 0.8 1.4 0.1 2-1.1zM23 9.2l0.8-0.1 1 1 0.7 1.7 0.7 3-0.1 1.4-0.8 2-0.5 0.8-1.1 0.6-0.9-0.1-0.8-0.7-1-2-0.2-1.6 0.2-2 0.6-2 0.6-1.2zM11.1 9.8l0.7 0 1 1.4 0.6 2 0.2 1.6-0.1 1.4-0.5 1.6-0.8 1.1-1 0.3-1-0.4-0.4-0.6-0.6-1.4-0.3-1.6 0.7-3.4 0.6-1.4zM16.5 9.8l0.7-0.5 1.1 0.5 0.8 1.4 0.8 3 0 1.6-0.5 2-0.6 1-1 0.7-1-0.1-0.8-0.6-0.6-1-0.5-2 0.3-3 0.5-1.8zM-0.8 10.2l0.6 0.3 0.7 1.3 0.5 1.4 0.2 2-0.6 2.6-0.8 0.9-0.6 0.2-1-0.3-0.4-0.6-0.5-1.2-0.2-1.6 0.1-2 0.6-1.6 0.4-0.9zM4.4 10.2l0.8-0.4 1 0.8 0.8 1.6 0.4 2 0 1.6-0.5 2-0.7 0.9-1 0.5-1-0.4-0.4-0.6-0.8-2.4 0.2-3 0.5-1.6zM55.1 25.2l1.1-0.1 0.6 0.3 0.5 0.8 0.2 1-0.3 0.8-1 1-1.3-0.2-0.7-1 0.1-1.6zM48 26.2l0.8-0.1 0.3 0.7 0.1 0.4-0.4 0.8-0.6 0.1-0.4-0.5-0.1-0.8zM63.4 34.8l1.4-0.5 1.4 0.5 0.5 1-0.3 1-1.2 0.6-1.5-0.2-0.8-1 0.1-1zM64.2 43.2l0.6-0.3 0.5 0.3-0.5 0.5z"/><path fill="#2c3e81" d="M73.8 4.8l2.4-0.3 2 0.2 2.6 0.7 2 1.2 1.7 1.6 1.4 2 0.8 2 0.4 2.6-0.1 2-0.4 2-1.7 3.4 0 1.6 1 2.4 0 1.6-0.5 1-1 1-3.7 1.9-0.3 0.5 2.9 2 0.7 1 0 1-1.1 1.6-3.5 2 0.2 0.4 2.7 1.6 0.6 0.4 0.4 1-0.4 1-0.5 0.6-3.4 2 2.8 1.5 0.9 0.9 0.2 1-0.3 0.6-0.8 0.7-2.6 1.3-0.1 0.4 2.8 1.6 0.6 0.4 0.3 1-0.8 1-3 1.6-0.5 0.4 2.9 1.6 0.6 0.4 0.4 1-0.2 0.6-1 0.8-3.5 1.6 3.5 1.7 0.9 0.9 0.2 0.4-0.6 1-0.9 0.7-4 1.3-1.6-0.2-2-0.9-0.8-0.9-0.4-1 0.3-1 0.5-0.4 2.5-1.6-2.5-1.5-0.9-1.5 0.6-1.4 2.1-1.6-2.4-1.8-0.5-1.2 0.5-1.4 1.8-1.6 0-0.4-2-1.6-0.4-1 0.3-1.4 2.2-2-1.9-1.6-0.8-1.4 0-1 0.4-0.9 1.7-1.7 0.2-0.4-1.9-1.7-0.8-1.9 0.1-1.4 0.5-1 1.3-1.6-0.2-0.4-2-2-1.5-4.5-2.5-3.1-3.9-1.2-1-0.6-1-1.2-1-2.4-0.6 0.3-1.1 2.1-0.9 0.8-1 0.4-1.5-0.2-0.9-0.7-0.6-0.7-0.7-1.6-0.3-2 0.3-2.4 0.8-2.6 0.9-1.6 1-0.8 1-0.1 1.1 0.7 1 1.8 1 2.6 0.5 0.4 1.8-5 1.6-1.9 1-0.4 1 0 2.6 0.9 1.4 0 2.6-1.4zM47.7 8.8l1.1-0.3 1 0.8 1.1 2.5 0.6 3-0.1 1.4-0.7 2-0.9 1.3-1 0.5-1-0.1-1-0.7-0.9-1.4-0.5-2 0.1-2 0.5-2 0.8-1.9zM41.2 9.2l1-0.1 1 1.1 0.8 2 0.5 2.6-0.1 1.4-0.7 2-0.9 1.2-1 0.3-1-0.4-0.9-1.1-0.7-3 0.2-2 0.5-2zM29.1 9.8l0.7-0.2 1 0.9 0.7 1.7 0.4 2.6-0.6 3-0.6 1-0.9 0.5-1-0.3-0.6-0.4-0.6-1.4-0.3-1.5 0.4-3.5 0.5-1.5zM35 9.8l0.8-0.4 1 0.8 0.7 1.6 0.6 2.4 0 1.6-0.6 2-0.7 1.2-1 0.4-1-0.3-0.6-0.5-0.6-1.4-0.3-1.4 0.4-3.6 0.5-1.5zM17.1 10.2l0.7 0.1 0.8 0.9 0.5 1.6 0.3 2-0.1 1.4-0.5 1.6-0.6 0.8-1 0.3-0.4-0.2-0.9-0.9-0.6-2.5 0.5-3.1 0.4-1.1zM22.9 10.2l0.9-0.2 0.7 0.8 0.7 1.4 0.4 2 0 1.6-0.4 1.4-0.4 1.1-1 0.7-1-0.2-0.6-0.5-0.5-1.1-0.3-1.4 0.2-3 0.6-1.8zM5.2 10.8l0.6 0.2 0.7 1.2 0.5 3-0.7 2.6-1.1 0.7-0.4-0.1-0.8-0.6-0.4-1-0.2-1.6 0.4-3 0.6-1zM10.9 10.8l0.9 0 0.4 0.5 0.6 1.5 0.3 2-0.4 2.4-0.5 0.9-1 0.5-0.4-0.1-0.7-0.7-0.7-2.5 0.5-3.1 0.3-0.8zM-0.9 11.2l0.7 0.4 0.4 0.8 0.5 2.3-0.4 2.5-1.1 1-0.4-0.1-0.9-0.9-0.4-2 0.1-1.4 0.4-1.6 0.8-0.9zM64.2 24.2l2.2 0 0.8 0.5 0.4 0.5 0.2 1.6-0.4 1.4-0.6 0.9-1 0.6-1.6 0.1-1-0.4-0.7-0.6-0.5-1-0.1-1 0.3-1.2 0.9-0.8zM55.2 26.2l0.6-0.1 0.5 0.1 0.3 1-0.4 0.8-0.4 0.1-0.7-0.3-0.1-1zM64 35.8l0.8-0.5 0.6 0.5-0.1 0.4-0.5 0.3-0.7-0.3zM75.5 71.8l1.3-0.4 3.4 1.3 1.5 1.1 0.1 1-1.6 1.2-3 0.9-1.4 0-1.6-0.4-1.6-1.3-0.3-0.4 0.1-1 0.8-1.1zM74.6 78.2l2.2-0.3 2.4 0.5 2 1.1 0.6 0.7-0.1 0.6-0.3 0.4-1.2 0.8-2.4 0.9-1.6 0.1-2-0.5-1.4-1.1-0.4-1.2 0.5-1zM75.2 84.2l1.6-0.2 2.4 0.6 2.1 1.2 0.4 1-0.3 0.4-1.2 0.8-2.4 0.9-1.6 0.1-2-0.5-1.4-1.1-0.3-1.2 0.7-1.1zM74.4 90.8l1.8-0.5 2 0.3 2.6 1.1 0.4 0.6 0.1 0.5-0.8 1-1.7 0.7-2 0.3-2-0.2-1.5-0.8-0.6-1 0.3-1z"/><path fill="#2d4085" d="M73.9 5.2l2.3-0.2 2 0.1 2.6 0.9 1.4 0.8 1.6 1.3 1.2 1.7 1 2 0.5 2.4 0.1 2-0.4 2-0.7 2-1.2 2-0.2 1 1.2 3 0.1 1-0.4 1-1.8 1.8-4.1 1.8-0.4 0.4 3.8 2 0.7 1 0.1 1-0.6 1-1.5 1-2 0.8-2.4 0.6-1 0-2-0.7-1.7-1.1-0.6-1.6 0.1-1.4 0.7-1 2.1-1.6-0.3-0.4-1.9-1-1-1-0.7-1.6-0.7-3.5-2-2.5-1-0.6-3.6-0.8-1.5-1-1.1-2-0.5-2.6 0.3-2.4 0.7-2.6 1-2 1.1-1.2 1-0.5 1 0 2.6 1 1.4 0 2.6-1.6zM54.9 8.8l0.9-0.4 0.4 0.1 1 0.7 1.3 2.6 0.5 2.4-0.1 2-0.6 2-1.1 1.3-1 0.4-1.4-0.1-1-0.9-0.7-1.1-0.4-2 0.1-2 0.4-2 0.8-2zM48.2 9.2l1 0.4 0.8 1.2 0.7 2 0.3 2.4-0.2 1.6-0.6 1.4-1 1.1-1 0.2-1-0.4-0.6-0.9-0.6-1.4-0.1-1.6 0.1-2 0.6-2 0.6-1.2zM35.7 10.2l0.5 0.3 0.8 1.3 0.5 1.4 0.2 2-0.6 2.6-0.9 0.9-0.4 0.2-1-0.4-0.6-0.7-0.6-2.6 0.7-3.4 0.5-1zM41 10.2l0.8-0.4 1 0.6 0.8 1.8 0.4 2-0.1 2-0.4 1.6-0.7 1-1 0.3-0.6-0.1-0.8-0.8-0.8-2.4 0.3-3 0.5-1.6zM28.9 10.8l0.9-0.4 0.5 0.4 0.7 1.4 0.5 2 0 1.6-0.4 1.4-0.6 1-0.7 0.6-1-0.4-0.6-0.6-0.5-2 0.2-3zM16.8 11.2l0.4-0.2 0.6 0.1 0.4 0.6 0.6 1.5 0.3 1.6-0.5 2.4-0.4 0.7-1 0.4-1-0.8-0.5-2.3 0.3-2.4zM22.7 11.2l0.5-0.3 0.6 0 0.4 0.4 0.9 2.5 0.1 1.4-0.2 1.6-0.5 1-0.7 0.6-0.6 0-0.8-0.6-0.7-2 0.2-2.6zM4.9 11.8l0.3-0.2 0.7 0.6 0.7 2.6-0.4 2.1-0.4 0.7-0.6 0.3-0.5-0.2-0.5-0.5-0.5-2 0.3-2zM10.8 11.8l0.4-0.3 0.6 0.2 0.3 0.5 0.7 2.6-0.2 1.4-0.4 1-0.4 0.6-0.6 0.1-0.4-0.1-0.6-0.6-0.4-2 0.2-2zM-0.9 12.2l0.7 0.6 0.5 2-0.2 1.4-0.3 0.8-0.6 0.4-0.4-0.1-0.6-0.5-0.3-1.6 0.3-2.2 0.6-0.7zM64.6 24.8l1.2 0.1 0.6 0.3 0.4 0.6 0.3 1-0.1 1-0.7 1-1.5 0.5-1-0.1-0.7-0.4-0.7-1.6 0.4-1.4 1-0.8zM75.8 40.2l1-0.1 4 1.3 1.4 1.2 0.3 0.6-0.1 0.6-0.6 0.8-1 0.6-3 1-1.6 0.2-1.4-0.3-1.6-0.7-0.7-0.6-0.6-1 0.3-1.6 1-1zM75.7 47.2l1.1-0.1 3.4 1 1.7 1.1 0.2 1-1.3 1.3-3 1-2 0.1-2-0.6-1.5-1.2-0.1-1.6 1-1.1zM74.8 53.8l2-0.4 2.4 0.6 2.5 1.2 0.3 1-0.3 0.6-0.9 0.7-2.6 0.9-2 0.2-2-0.4-1.4-1-0.4-0.4-0.1-1.1 0.5-0.9zM74.2 60.2l2-0.4 2 0.2 2.6 1 0.7 0.8 0.1 0.4-0.7 1-1.7 0.8-2 0.5-2-0.1-2-0.9-0.7-1.3 0.3-1zM74.7 66.2l2.5-0.2 2.6 0.6 1.5 1.2 0 1-1.4 1-2.1 0.6-1.6 0.1-2-0.5-1.2-0.8-0.4-1 0.6-1.2zM76.2 72.2l2 0.2 1.6 0.6 1.1 0.8 0.1 1-0.5 0.4-1.3 0.7-2.4 0.5-2-0.3-1.5-0.8-0.4-1.1 0.5-1 1.4-0.7zM74.6 78.8l2.2-0.4 2 0.4 1.9 1 0.3 0.4-0.1 0.6-1.1 1-1.6 0.5-2 0.2-1.4-0.3-1.5-1-0.3-1 0.7-1zM75.1 84.8l2.1-0.2 2 0.5 1.3 0.7 0.3 0.4 0.1 0.6-1.1 1-1.6 0.5-2 0.2-1.4-0.3-1.5-1-0.2-1 0.7-0.8zM74.5 91.2l1.7-0.4 2 0.2 1.7 0.8 0.4 0.4 0.1 0.6-0.6 0.7-1.6 0.7-1.4 0.2-1.6-0.2-1.1-0.4-0.7-1 0.3-1z"/><path fill="#2e4288" d="M73.5 5.8l2.3-0.4 2 0.1 2 0.5 2 1 1.5 1.2 1.2 1.6 1.1 2 0.5 2 0.1 2-0.3 2-0.9 2.4-1.3 2-0.2 1 0.3 1 0.9 2 0.1 1-0.3 1-0.9 1-1.4 1-2 0.8-2.4 0.6-3-0.1-2.6-1.3-1.1-1.4-0.8-4.1-0.9-1.5-2.2-1.9-3.4-0.7-1.6-0.7-1.1-1.7-0.6-2 0-2.4 0.6-2.6 1.1-2.4 1-1.2 1-0.5 1 0 2.6 1 1.4-0.1 2-1.3zM55.1 9.2l1.1-0.1 1 0.9 0.9 1.8 0.5 2.4 0 2-0.7 2-0.9 1-1.2 0.4-1-0.3-0.7-0.5-0.6-1-0.5-2 0.1-2 0.4-2 0.7-1.7zM47.7 10.2l0.5-0.3 1 0.4 0.9 1.5 0.5 2 0 2-0.3 1.4-0.5 1.1-1 0.7-1-0.1-0.8-0.7-0.5-1-0.3-1.4 0.3-3 0.5-1.6zM41.3 10.8l0.5-0.2 0.4 0.1 0.6 0.6 0.6 1.5 0.3 2-0.5 2.6-0.5 0.8-0.9 0.4-0.6-0.1-0.6-0.7-0.7-2.6 0.3-2.5 0.6-1.3zM29.2 11.2l0.6 0 0.4 0.4 0.6 1.2 0.3 1.4-0.2 2.6-0.5 1-0.7 0.4-0.5 0-0.5-0.4-0.5-1-0.3-1.6 0.4-2.4zM35.1 11.2l0.7-0.2 0.4 0.3 0.6 0.9 0.5 2 0 1.6-0.4 1.4-0.7 0.9-0.4 0.2-0.6-0.1-0.5-0.4-0.7-2 0.2-2.6zM23.2 11.8l0.6-0.1 0.4 0.6 0.6 1.9-0.1 2-0.5 1.2-0.4 0.4-0.6 0-0.6-0.6-0.6-2 0.3-2 0.5-1.1zM16.7 12.2l0.5-0.4 0.6 0.2 0.5 0.8 0.4 1.4 0 1-0.3 1.6-0.6 0.8-0.6 0.1-0.4-0.3-0.5-0.6-0.3-1.6 0.2-1.9zM4.8 12.8l0.4-0.2 0.6 0.4 0.4 1.8-0.2 1.4-0.8 0.9-0.6-0.3-0.5-1.6 0.1-1.3zM10.8 12.8l0.4-0.3 0.6 0.2 0.5 1.5-0.1 2-0.4 0.8-0.6 0.2-0.6-0.4-0.4-1.6 0-1.2zM-1.3 13.8l0.5-0.4 0.6 0.9 0 1.4-0.6 0.7-0.4-0.1-0.4-1.1zM63.5 25.8l1.3-0.5 1.1 0.5 0.6 1-0.1 1-0.3 0.4-1.3 0.7-0.7-0.1-0.8-0.6-0.3-0.4-0.1-1zM75.3 32.8l1.9-0.2 2 0.5 2 0.9 1.4 1.2 0.1 1-0.3 0.6-1.6 1.2-3 0.9-2.6 0-2-0.7-1.2-1.4-0.1-1 0.2-1 1.1-1.3zM74.1 41.2l2.1-0.4 3 0.4 2 1 0.5 0.6 0 1-1 1-2.5 0.8-2 0.2-2-0.4-1.4-1-0.4-1.2 0.4-1zM75.6 47.8l2.2 0 2 0.5 1.4 0.9 0.2 1-1.1 1-2.1 0.8-2 0.2-2-0.5-1.3-0.9-0.2-0.6 0.1-1 1-0.9zM74.6 54.2l2.2-0.3 2.4 0.5 1.7 0.8 0.4 1-1 1-1.5 0.7-2 0.3-2-0.3-1.4-0.7-0.6-1 0.2-1zM75.8 60.2l1.4 0 2 0.5 1.1 0.5 0.6 1-0.9 1-1.8 0.7-2 0.2-2-0.5-1-0.8-0.1-1 1-1zM74.5 66.8l1.7-0.4 2 0.2 1.8 0.6 0.7 1-0.7 1-1.2 0.6-2 0.3-1.6-0.2-1.5-0.7-0.5-1 0.5-1zM75.6 72.8l1.6-0.1 2 0.5 0.8 0.6 0.3 0.4-0.1 0.6-1 0.6-1.4 0.5-1.6 0.1-1.4-0.3-0.8-0.5-0.5-1 0.7-1zM74.5 79.2l1.7-0.4 2 0.2 1.6 0.8 0.4 0.4-0.1 0.6-0.4 0.4-1.5 0.7-1.4 0.2-1.6-0.2-1-0.4-0.6-0.7 0.2-1zM74.9 85.2l1.3-0.2 2 0.2 1.4 0.6 0.4 0.4 0.1 0.6-0.4 0.4-1.5 0.7-1.4 0.2-1.6-0.2-1-0.4-0.5-0.7 0.3-1zM76.5 91.2l2.3 0.6 0.6 0.4 0.1 0.6-0.7 0.7-1.6 0.4-1.4 0-1.4-0.7-0.3-0.4 0.1-0.6 0.4-0.4z"/><path fill="#30458b" d="M75.5 5.8l1.7 0 2 0.4 2 0.9 1.6 1.1 1.3 1.6 0.9 1.4 0.5 1.6 0.3 2-0.4 3.4-0.8 2-1.4 2-0.2 1 0.2 1 1.1 2 0 1-0.3 1-0.9 1.1-1.9 1-2.4 0.8-2 0.2-2.6-0.3-2.1-1.2-0.9-1.6-0.4-3.5-0.8-1.5-2.2-2.2-4-0.6-1.5-0.9-1.1-1.7-0.5-2.6 0.3-2.4 0.5-2 0.7-1.6 1-1.1 1-0.5 1 0 2.6 1 1.4 0 3-2zM55.2 9.8l1-0.1 1 1 0.7 1.5 0.5 2.6-0.2 2-0.4 1.1-1 1.1-1 0.2-1-0.3-0.7-0.7-0.7-1.4-0.2-1.6 0.6-3.4 0.5-1zM47.9 10.8l0.9-0.1 0.6 0.5 0.6 1.6 0.4 2-0.1 1.4-0.5 1.5-0.6 0.6-1 0.3-0.4-0.2-0.7-0.6-0.7-2.6 0.5-3zM41.1 11.8l0.7-0.5 0.4 0.2 0.6 0.7 0.5 2-0.2 2.6-0.5 1-0.8 0.3-1-0.7-0.5-1.6 0-2zM29 12.2l0.8-0.3 0.4 0.5 0.6 1.8-0.1 2-0.5 1.1-0.4 0.3-0.6 0-0.4-0.5-0.5-1.3 0.1-2zM35 12.2l0.8-0.4 0.4 0.4 0.7 2-0.1 2.4-0.6 0.9-0.4 0.3-0.6-0.1-0.4-0.6-0.5-1.3 0.1-2zM17.2 12.8l0.7 0.4 0.4 2-0.5 1.6-0.6 0.2-0.4-0.4-0.4-1.4 0.2-1.4zM23.1 12.8l0.7-0.2 0.7 1.6 0 1.6-0.7 1.3-0.6 0-0.4-0.3-0.3-1 0-1.6zM11.1 13.8l0.1-0.2 0.6 0.5 0.1 0.7-0.1 1-0.6 0.5-0.4-0.5-0.2-0.6 0.2-1zM4.7 14.2l0.5-0.4 0.5 1 0 0.4-0.5 0.9-0.5-0.3zM63.8 26.2l1-0.2 0.6 0.2 0.4 0.6-0.2 1-0.8 0.5-1-0.5-0.3-0.6zM74.9 33.2l2.3-0.1 2.8 0.7 1.6 1 0.4 0.4 0.1 1-0.3 0.6-1 0.8-2 0.8-2.6 0.3-2-0.4-1.5-1.1-0.5-1.4 0.7-1.6zM75.3 41.2l1.9 0 2.4 0.6 1.4 1 0 1-1.2 1-2 0.6-2 0-1.6-0.4-1-0.8-0.3-0.4 0.1-1 0.8-1zM75 48.2l1.8-0.2 2.4 0.5 1.2 0.7 0.3 0.6 0 0.4-0.9 0.9-1.6 0.5-2 0.2-1.4-0.3-1.3-0.7-0.4-1 0.7-1zM74.3 54.8l1.9-0.5 2 0.2 1.9 0.7 0.5 0.6 0 0.4-0.4 0.6-1.4 0.7-2 0.3-1.6-0.1-1.1-0.5-0.8-1 0.3-1zM75.2 60.8l1.6-0.2 1.4 0.2 1.3 0.4 0.5 0.6 0.1 0.4-0.3 0.6-1.6 0.7-1.4 0.2-1.6-0.1-1-0.5-0.6-0.9 0.5-1zM76.1 66.8l1.7 0 1.3 0.4 0.7 0.6 0.2 0.4-0.2 0.6-1 0.6-1.6 0.3-1.4 0-1.3-0.5-0.6-0.4-0.2-0.6 0.2-0.4 0.9-0.7zM75.2 73.2l1-0.2 1.6 0.2 1.3 0.6 0.4 0.4-0.2 0.6-1.1 0.6-2.4 0.2-1-0.4-0.5-0.4-0.2-0.6 0.3-0.4zM75.9 79.2l1.3 0 1.6 0.5 0.5 0.5 0 0.6-0.6 0.5-1.5 0.4-1.4-0.1-1-0.4-0.5-0.4-0.1-0.6 0.6-0.5zM74.9 85.7l1.3-0.4 1.6 0.2 1 0.4 0.4 0.3 0 0.6-0.5 0.4-0.9 0.4-2 0-1-0.4-0.4-0.4 0-0.6zM76 91.8l1.8 0.1 0.6 0.3 0.1 0.6-0.5 0.4-0.8 0.2-1.8-0.2-0.5-0.4 0.1-0.6z"/><path fill="#31478d" d="M74.2 6.2l1.6-0.2 2 0.1 1.4 0.4 2 0.9 1.7 1.4 1.2 1.4 0.8 1.6 0.5 2 0.1 2.4-0.4 2-0.9 2-1.4 2-0.3 1 0.3 1 1 2 0 1.6-0.7 1-1.3 1-3.6 1.1-3 0-1.4-0.4-1.3-0.7-1-1.6-0.5-4-0.5-1-2.7-2.6-3.6-0.4-1.4-0.6-1.2-1.4-0.6-2 0-2 0.4-2.4 0.8-2 1-1.3 1-0.5 1 0 2.6 1.1 1.4-0.1 2.6-1.9zM55.4 10.2l0.8 0.1 1 1 0.6 1.5 0.3 2-0.1 1.4-0.5 1.6-0.7 0.8-1 0.3-1-0.4-0.6-0.5-0.5-1.2-0.2-1.6 0.2-2 0.4-1.4 0.7-1.1zM48.2 11.2l0.5 0.1 0.8 0.9 0.5 1.6 0.1 1.4-0.5 2-0.4 0.6-1 0.4-0.4-0.2-0.6-0.8-0.5-2 0.5-2.9zM41.4 12.2l0.4-0.2 0.5 0.2 0.5 1 0.3 1.6-0.3 2-0.6 0.6-0.4 0.2-0.6-0.2-0.3-0.6-0.4-1.6 0.3-1.8zM35.4 12.8l0.4-0.2 0.4 0.5 0.5 1.6-0.2 1.5-0.7 0.9-0.7-0.3-0.5-1.6 0.2-1.4zM29 13.2l0.2-0.3 0.5-0.1 0.7 1.4 0 1.6-0.6 1.2-0.6-0.1-0.5-1.1 0-1.6zM23.2 13.8l0.6 0 0.3 1.4-0.3 1-0.6 0-0.4-1zM17.1 14.2l0.1-0.3 0.6 0.4 0 0.5 0 0.9-0.6 0.3-0.3-0.8zM74.4 33.8l2.4-0.5 2.4 0.5 1.8 1 0.4 0.4 0.1 1-0.8 1-1.9 0.9-2 0.3-2-0.3-1.6-0.8-0.5-1.1 0.3-1.4zM74.8 41.8l2-0.4 2 0.4 1.5 1 0.1 1-1.2 0.8-1.4 0.4-1.6 0.1-1.4-0.3-1-0.6-0.5-1 0.6-1zM74.6 48.8l1.6-0.4 2 0.2 1.5 0.6 0.3 0.6 0 0.4-0.5 0.6-1.3 0.5-1.4 0.2-1.6-0.2-1-0.4-0.5-0.7 0.2-1zM75.3 54.8l1.5-0.2 1.4 0.2 1.1 0.4 0.6 0.6 0 0.4-0.7 0.7-1.4 0.5-1.6 0.1-1.2-0.3-0.9-0.4-0.3-0.6 0-0.4 0.4-0.6zM74.9 61.3l1.3-0.4 1.6 0.1 1.4 0.8 0.2 0.4-0.4 0.6-1.2 0.4-2 0.1-1.3-0.5-0.3-0.6 0.1-0.4zM75.4 67.2l1.4-0.1 1.1 0.1 1.1 0.6 0.2 0.4-0.3 0.6-1 0.4-2.4 0-0.9-0.4-0.2-0.6 0.2-0.4zM75.3 73.8l0.9-0.3 1 0 0.8 0.3 0.5 0.4-0.2 0.6-0.5 0.2-1.6 0.2-1.1-0.4-0.2-0.6zM75.7 79.8l1.9 0 0.8 0.4-0.1 0.6-1.2 0.4-1.3-0.1-0.7-0.3 0-0.6zM76.7 85.8l1.5 0.4 0 0.6-1.4 0.5-0.7-0.1-0.9-0.4 0-0.6z"/><path fill="#334a90" d="M73.4 6.8l1.8-0.5 2 0 1.6 0.3 2 0.8 1.4 1.1 1.2 1.3 1 1.4 0.7 2 0.2 2-0.3 2.6-0.8 2-1.8 2.4-0.3 1 0.2 1 1.1 2 0 1.6-1.3 1.4-2.9 1.3-3.4 0.3-1.6-0.3-1.4-0.7-0.9-1-0.3-1-0.3-4-2.1-2.5-1.4-1.2-3 0-1.6-0.5-1-0.8-0.8-1.6-0.3-2 0.3-2.4 0.8-2.6 1-1.2 1-0.6 1 0 2.6 1.2 1.4-0.2 2-1.6zM55.6 10.8l0.6 0 0.9 1 0.6 1.4 0.2 1.6-0.2 1.4-0.5 1.4-0.4 0.6-1 0.3-1-0.4-0.6-0.6-0.5-2.3 0.5-3 0.6-0.9zM47.7 12.2l0.5-0.3 0.6 0.1 0.4 0.5 0.6 1.6-0.1 2.1-0.5 1-0.4 0.4-0.6 0.1-0.4-0.3-0.8-1.6 0.1-2zM41.2 13.2l0.6-0.4 0.4 0.3 0.6 1.6-0.3 1.5-0.3 0.5-0.4 0.2-0.6-0.3-0.4-1.3zM35.5 13.8l0.3 0 0.5 1-0.1 0.6-0.4 0.9-0.6-0.3-0.2-0.8 0.2-1.2zM29.2 14.2l0.6-0.3 0.1 0.3 0.2 1-0.3 0.8-0.6-0.2zM75.4 33.8l1.8-0.1 2.4 0.5 1.3 1 0.1 1-1 1-1.8 0.7-2 0.2-1.7-0.3-1.3-1-0.2-1 0.8-1.4zM74.5 42.2l1.7-0.4 1.6 0.1 1.4 0.6 0.6 0.7-0.1 0.5-0.9 0.7-1.6 0.4-1.4 0-1.4-0.6-0.5-0.4 0.1-1zM75.8 48.8l1.4-0.1 1.6 0.5 0.5 0.6-0.1 0.4-0.6 0.6-1.4 0.3-1 0.1-1.4-0.4-0.5-0.6-0.1-0.4 0.6-0.7zM75 55.2l1.2-0.3 1.6 0.2 1.3 0.7 0.1 0.4-0.6 0.6-0.8 0.3-2 0-1-0.3-0.4-0.6 0-0.5zM75.1 61.8l1.1-0.5 1 0.1 1.1 0.4 0.2 0.4-0.7 0.6-1.6 0.2-1-0.4-0.2-0.4zM75.5 67.8l1.7-0.2 0.7 0.2 0.4 0.4-0.5 0.6-1.6 0.2-1-0.6-0.1-0.2z"/><path fill="#354c92" d="M74.3 6.8l1.5-0.3 2 0.1 1.4 0.4 2 1 2.3 2.2 1 2 0.4 1.6 0.1 2.4-0.4 2-1 2-1.6 2-0.3 1 0.2 1 1.2 2-0.1 1.6-0.7 1-1.1 0.7-3 1-3 0-1.4-0.4-1-0.7-0.8-1.2-0.3-1-0.1-3.4-1.1-1.6-1.3-1.3-1.4-1.2-3 0.1-1.8-0.6-0.9-1-0.7-2-0.1-2 0.4-2 0.5-1.5 1-1.3 1-0.6 1 0 2.6 1.3 0.4 0 1-0.2 2.6-2.2zM55.6 11.2l0.6 0.1 0.8 0.9 0.6 2.6-0.1 1.4-0.4 1-0.4 0.6-0.9 0.4-0.6-0.1-0.7-0.9-0.6-2 0.4-2.4 0.5-0.9zM48 12.8l0.2-0.2 0.6 0.2 0.4 0.6 0.3 1.4-0.3 1.7-0.4 0.6-0.6 0.1-0.5-0.4-0.5-1.6 0.3-1.4zM41.5 14.2l0.3-0.3 0.5 0.9-0.1 0.8-0.4 0.5-0.6-0.9zM74.7 34.2l2.1-0.3 2 0.3 1.5 1 0.1 1-1 1-1.6 0.6-1.6 0.1-1.4-0.4-1.1-0.7-0.3-1 0.5-1zM75.5 42.2l2.3 0 1 0.6 0.3 0.4-0.2 0.6-0.7 0.4-1.4 0.3-1-0.1-1-0.4-0.4-0.8 0.2-0.4zM75.5 49.2l1.3-0.1 1 0.1 0.7 0.6-0.1 0.4-1.2 0.6-1.4-0.1-0.8-0.5-0.1-0.4zM75.2 55.8l1.6-0.5 1.4 0.5 0.1 0.4-0.9 0.6-1.2 0-1.1-0.6z"/><path fill="#364f94" d="M76 6.8l1.8 0.1 1.4 0.4 1.6 0.7 1.4 1.1 1.9 2.7 0.5 1.4 0.2 2-0.2 2-0.7 2-0.9 1.6-1.3 1.4-0.4 1 0.2 1 1.2 2-0.1 1.6-0.7 1-1.1 0.7-2 0.7-2 0.3-2.6-0.4-1.3-0.9-0.7-1-0.3-1 0.2-3-0.4-1-3.5-3.6-1-0.3-3 0.2-1.4-0.7-1-1.6-0.3-2 0.5-3.4 0.8-1.5 0.9-0.9 1.5-0.3 2.6 1.4 0.4 0 1-0.2 1.6-1.6 2-1.2 1.4-0.5zM55.7 11.8l0.5 0.1 0.7 0.9 0.5 2.4-0.6 2-1 0.6-1.1-0.6-0.5-2 0.4-2.4 0.6-0.9zM47.9 13.8l0.3-0.4 0.6 0.1 0.4 1.3-0.3 1.4-0.7 0.3-0.4-0.6-0.2-0.7zM75.6 34.2l1.6 0 1.6 0.4 0.9 0.6 0.2 1-0.7 0.7-1.4 0.6-1.6 0.1-1.4-0.4-0.7-0.4-0.3-1 0.6-1zM75.5 42.8l0.7-0.3 1 0.1 0.7 0.2 0.4 0.4-0.5 0.7-1.6 0.2-0.9-0.3-0.2-0.6zM76 49.8l1.2 0-0.4 0.5-0.6-0.1z"/><path fill="#375195" d="M74.1 7.2l1.7-0.2 2 0.1 1.4 0.4 1.6 0.7 1.4 1.2 1.1 1.4 1.2 3 0.1 2.4-0.5 2-1 2-1.8 2-0.4 1 0.2 1 1.3 2-0.1 1.6-1.5 1.4-2.6 0.9-3 0.1-2-1-0.8-1-0.3-1 0.3-3.4-1.1-1.6-3.1-3-1-0.2-2.4 0.4-1.6-0.5-1-1.1-0.5-1.6 0-2 0.4-2 0.7-1.4 1-1.1 1.4-0.2 2.6 1.4 0.4 0.1 1-0.4 1.3-1.4 1.3-0.9zM55.1 12.8l0.7-0.5 0.4 0.1 0.6 0.7 0.3 1.1-0.1 2-0.7 1-0.5 0.2-1-0.6-0.3-1 0-1.6zM75 34.8l1.8-0.4 1.4 0.3 1 0.5 0.2 0.6-0.1 0.4-0.4 0.6-1.1 0.4-2.1 0-0.9-0.4-0.5-0.6 0.1-1z"/><path fill="#385497" d="M75 7.2l1.8-0.1 1.4 0.3 1.6 0.5 1.4 0.9 1.1 1 1.1 1.4 1 3 0 2-0.7 2.6-1.2 2-1.5 1.4-0.5 1 0.2 1 1.3 2 0 1.6-0.8 0.9-0.8 0.5-2.6 0.9-2.6-0.1-2-1-0.6-0.8-0.3-1 0.5-3-0.3-1-4.3-4.4-0.4-0.2-3 0.6-1.6-0.5-1-1.3-0.4-1.6 0-1.6 0.4-2 0.6-1 1-1.1 1.4-0.3 2.6 1.6 0.4 0 1-0.4 1-1.3 1.6-1.2 1.4-0.8zM55.2 13.2l0.6-0.3 0.4 0.2 0.6 1.1 0 1.8-0.6 0.8-0.4 0.1-0.6-0.2-0.5-0.9 0-1.6zM76 34.8l1.2-0.1 1 0.4 0.6 0.7-0.1 0.4-1.5 0.8-1 0-0.9-0.2-0.5-0.5-0.1-0.5 0.3-0.6z"/><path fill="#395598" d="M73.7 7.8l1.5-0.4 2 0 3 0.9 1.6 1.2 1.1 1.3 0.8 1.4 0.4 1.6 0.1 2.4-0.7 2.6-0.9 1.4-2 2-0.5 1 0.2 1 1.4 2 0 1.6-1.5 1.3-2 0.7-2.4 0.1-2-0.7-0.9-1-0.4-1 0-1 0.6-2.4-1.1-1.6-1.2-1-1.6-1.9-1-0.9-0.4-0.1-2.6 0.7-1.3-0.2-1.1-0.9-0.8-1.7-0.1-1.5 0.4-1.9 0.5-1.2 1-1.2 1.4-0.3 2.6 1.7 0.4 0 1-0.4 2-2.3zM55.4 13.8l0.4-0.3 0.4 0.3 0.3 1-0.1 1-0.6 0.6-0.6-0.4-0.2-0.8 0.1-1zM75.7 35.2l1.1-0.1 0.8 0.1 0.5 0.6-0.1 0.4-1.2 0.5-1-0.2-0.4-0.3-0.1-0.4z"/><path fill="#3a599b" d="M73.7 7.8l1.5-0.4 2 0 3 1 1.6 1.1 1 1.3 0.8 1.4 0.5 1.6 0.1 2.4-0.7 2.6-0.9 1.4-2 2-0.5 1 0.2 1 1.4 2 0 1.6-1.5 1.3-2 0.7-2.4 0.1-2-0.7-0.9-1-0.4-1 0-1 0.6-2.4-1.1-1.6-1.2-1-1.5-2-1.1-0.8-0.4-0.2-2.6 0.7-1.3-0.1-1.1-0.9-0.8-1.7-0.1-1.4 0.4-2 0.5-1.2 1-1.2 1.4-0.3 2.6 1.7 0.4 0 1-0.4 2-2.3zM55.5 13.8l0.3-0.2 0.4 0.3 0.3 0.9-0.1 1-0.6 0.5-0.6-0.3-0.2-0.8 0.1-1zM75.7 35.2l1.1-0.1 0.7 0.1 0.6 0.6-0.2 0.4-1.1 0.5-1-0.2-0.5-0.7z"/><path fill="#3b61a0" d="M74.8 7.8l3-0.1 1.4 0.5 1.6 0.8 2 2.2 0.8 1.6 0.3 1.4-0.1 2.6-0.6 2-1.3 2-1.8 1.4-0.7 1 0 0.6 1.8 2.5 0 1.5-1.4 1.2-2.6 0.7-2.4-0.3-1.6-1.2-0.3-1 0-1 0.9-2.4-1.2-1.6-1.9-1.4-1.5-2.2-1-0.9-0.4-0.1-2.6 1-1.4-0.3-1-0.9-0.6-1.6 0-1.6 0.4-1.4 1.2-1.9 0.4-0.2 1-0.1 1 0.6 1.6 1.3 0.4 0.1 0.6-0.5 0.4-0.1 1.2-1.8 1.4-1.1 1.4-0.9z"/><path fill="#3c69a5" d="M73.9 8.2l1.9-0.3 1.4 0 1.6 0.3 1.4 0.8 1.6 1.2 0.8 1 1 2.6 0.1 2.4-0.8 2.6-1.4 2-2 1.4-0.9 1.6 2.2 2.4 0.1 0.6-0.1 0.9-1.1 1.1-1.9 0.6-2.6-0.1-1.6-1.1-0.4-1 0-1 1.3-2.4-1.4-1.6-2.3-1.8-1.6-2.5-1-1-0.4-0.1-2 1.3-1.6 0.1-1.2-1-0.6-1.4 0.3-2.6 1.1-1.8 1-0.3 0.7 0.1 2.3 2.2 0.4 0.1 0.6-0.6 0.4-0.2 0.8-1.5 1.2-1.4z"/><path fill="#3c76af" d="M74.8 8.2l1.4-0.1 1.6 0.1 2.5 1 2 2 0.7 1.6 0.4 1.4 0 2.6-1 2.4-1.2 1.6-2.3 1.4-0.2 0.6-0.9 0.4-0.3 0.6 2.5 2 0.5 1-0.2 1-1.3 1-1.8 0.5-2-0.2-1-0.6-0.4-0.6-0.3-1.1 0.2-1 1.8-2-1.7-1.6-1.8-1-1.2-1.2-0.9-1.2-0.7-1.8-0.4-0.3-0.5-1.5 0.5-1.4 0.4-0.2 0.8-1.8 1.1-1.6 1.7-1.2zM64.1 11.8l0.7-0.3 1 0.4 1.2 1.3 0.7 1.6-0.1 1-0.6 1-0.8 0.6-1 0.5-1.4-0.3-0.8-0.8-0.3-1 0.3-2.6z"/><path fill="#3c82b9" d="M73.8 8.8l3-0.5 1.4 0.3 1.6 0.6 1.4 1 0.8 1 1.1 2.6 0 3-1 2.4-1.8 2-3.1 1.8-2-0.1-3-1.8-1.7-1.9-1.1-2.4-0.1-2.6 0.7-2 1.4-2zM64.1 12.2l0.7-0.2 1 0.4 0.7 0.8 0.5 1.6-0.3 1.4-0.5 0.7-1 0.6-1 0-0.4-0.3-0.8-1.4 0.1-2zM75.2 24.8l1.6-0.5 2 0.8 1.1 1.1 0.1 1-0.2 0.6-1 0.8-1.6 0.4-1.4-0.1-1-0.4-0.8-0.7-0.2-1.1 0.4-1.1z"/><path fill="#3f96c3" d="M74.5 8.8l2.7-0.2 2.6 0.8 2 1.8 0.8 1.6 0.4 1.4 0.1 1.6-0.3 1.4-1.3 2.6-2.3 1.8-2.4 0.8-2.6-0.5-2-1.1-1.8-2-0.8-2.6 0.1-2.4 0.8-2 1.7-1.9zM64.2 12.8l1-0.2 0.8 0.6 0.5 1 0 1.6-0.6 1-0.7 0.3-1-0.1-0.4-0.3-0.5-1 0-1.5zM75.1 25.2l1.7-0.4 1.4 0.4 1.2 1 0.1 1-0.2 0.6-0.6 0.4-1.5 0.6-1.1 0-1.2-0.6-0.5-0.5-0.2-0.9 0.4-1z"/><path fill="#54aac5" d="M75.6 8.8l2.6 0.2 2.4 1.2 1.5 2 0.8 2.6-0.3 2.4-1.4 2.5-2 1.7-2.4 0.7-2.6-0.4-2-1.2-1.8-2.3-0.7-2.4 0.3-2.6 1.2-2.1 2-1.6zM64.3 13.2l1 0 0.5 0.6 0.4 1-0.4 1.4-1 0.5-0.9-0.5-0.4-1 0.3-1.3zM76.1 25.2l1.1 0.1 1.1 0.5 0.8 1-0.4 0.9-0.7 0.5-1.2 0.3-1-0.1-1-0.6-0.2-0.6 0.1-1 0.5-0.6z"/><path fill="#68afac" d="M75.1 9.2l2.1 0 2.6 1 1.6 1.6 1 2.4-0.1 2.6-1.1 2.3-1.8 1.7-2.2 0.8-2.4-0.2-2-1-1.9-2.2-0.7-2 0.1-2.4 1-2.1 1.5-1.5zM76.2 26.2l1 0.2 0.4 0.4 0 0.4-0.8 0.5-0.6-0.1-0.4-0.4-0.1-0.4z"/><path fill="#74ac85" d="M74.7 9.8l2.5-0.2 2 0.7 1.7 1.5 1 2 0.1 2.4-0.7 2-1.5 1.9-2 0.9-2 0.2-2-0.7-2-1.7-1.1-2-0.1-2.6 0.8-2 1.4-1.4z"/><path fill="#82ac67" d="M74.4 10.2l1.8-0.3 2.1 0.3 1.9 1.4 1.1 1.6 0.4 2-0.5 2.4-1.1 1.6-1.9 1.3-2 0.3-2-0.5-1.5-1.1-1.4-2-0.4-2 0.4-2 1.4-2z"/><path fill="#96b452" d="M75.8 10.2l2 0.2 1.6 0.8 1.3 1.6 0.7 2-0.2 2-1 1.8-1.4 1.2-2 0.7-2-0.4-1.6-0.8-1.2-1.5-0.7-2.1 0.2-1.9 0.8-1.6 1.5-1.3z"/><path fill="#b2bf45" d="M75 10.8l1.8-0.2 2 0.6 1.2 1 0.8 1.6 0.2 2-0.3 1.4-1.1 1.6-1.8 1.1-1.6 0.2-2-0.6-1.4-1.3-0.9-1.4-0.3-1.6 0.5-2 1.1-1.5z"/><path fill="#cec841" d="M74.6 11.2l1.6-0.3 2 0.4 1.3 0.9 1 1.6 0.2 2-0.4 1.4-1.1 1.5-1.4 0.8-1.6 0.3-1.4-0.4-1.6-1.2-1-1.4-0.3-1.6 0.3-1.4 1-1.6z"/><path fill="#dcbc3c" d="M75.8 11.2l1.4 0.1 1.6 0.7 1.1 1.2 0.5 1.6-0.1 1.4-0.7 1.6-1.4 1.2-1.4 0.4-1.5-0.2-1.1-0.5-1.3-1.5-0.6-1.4 0.1-1.6 0.8-1.4 1-1z"/><path fill="#e19432" d="M75.1 11.8l1.1-0.3 1.6 0.3 1.3 1 0.7 1 0.3 1.4-0.3 1.6-1 1.4-1 0.6-1.6 0.3-1.4-0.5-1.5-1.4-0.5-1-0.2-1 0.3-1.4 0.9-1.2z"/><path fill="#da6829" d="M74.8 12.2l1.4-0.3 1 0.1 1.4 0.8 0.8 1 0.3 1-0.1 1.4-0.8 1.6-1 0.7-1.6 0.3-1-0.3-1-0.7-1-1.3-0.3-1.3 0.2-1 0.7-1.1z"/><path fill="#cd4128" d="M75.9 12.2l1.3 0.1 1 0.6 0.8 0.9 0.4 1-0.1 1.4-0.5 1-1 0.9-1 0.3-1-0.1-1.1-0.5-0.9-1.1-0.5-1.5 0.2-1 0.6-1 0.7-0.5z"/><path fill="#c62e2a" d="M75.4 12.8l0.8-0.2 1.1 0.2 0.9 0.5 0.7 0.9 0.2 1-0.2 1-0.7 1.1-1 0.6-1 0.1-1-0.3-1-0.9-0.4-1 0.1-1.5 0.7-1.1z"/><path fill="#c2282d" d="M75.2 13.2l1-0.2 1 0.1 1.2 1.1 0.3 1-0.2 1-1.3 1.3-1.4 0-1-0.7-0.6-0.8-0.2-0.8 0.2-0.9z"/><path fill="#a1252a" d="M75.3 13.8l1.5-0.4 1.1 0.8 0.3 1.6-1 1.2-1 0.2-0.8-0.4-0.6-0.8-0.2-1.2z"/><path fill="#862126" d="M75.5 14.2l0.7-0.2 1 0.3 0.5 0.9-0.5 1.1-1 0.3-1-0.8-0.2-0.6z"/></g>
<g id="h33"><path fill="#2c336b" d="M-3.8-1.8l97 0 0.1 97-67.5 0-0.6-0.7-0.4 0.7-4.6 0-0.4-1.4 0.2-1 1.5-2-2.3-2.2-1.4 1.2-1 0.4-1-0.1-1.4-0.9-0.6-1-0.2-1 0.4-1 1.2-1.4-0.3-0.6-1.6-1.6-2.5 1.5-1 0-1.4-0.9-0.6-1-0.3-1 0.4-1 1.1-1.4-0.1-0.6-1.6-1.6-0.5 0.1-1.6 1.1-1 0.3-1-0.2-0.8-0.7-0.7-1-0.3-1 0.6-1.4 0.9-1 0.1-0.6-1.8-1.8-0.4-0.1-1.6 1.3-1 0.3-2-0.5 0-4.4 0.7-0.2 0.3-0.6-0.9-0.5zM0.8 65.1l-1.7 1.1 0.2 0.6 1.5 1.2 0.4-0.1 0.8-1.1 0.1-0.6-0.9-0.9zM6.8 71.6l-1 0.6 0 0.6 1 0.9 0.4 0 0.7-0.9 0-0.6-0.7-0.6zM12.2 78.1l-0.3 0.7 0.9 0.9 0.4 0.1 0.8-1-0.2-0.6-0.6-0.4zM19.2 83.7l-1 0.5-0.3 0.6 1.3 1.3 1-1.3-0.2-0.6zM24.8 89.7l-1.2 1.1 1.6 1.9 0.6-0.4 0.8-1.5-0.8-1.1-0.6-0.2zM-2.8 73.2l0.6-0.2 1 0.1 0.9 0.7 0.6 1 0.2 0.4-0.3 1-1.4 1.3-1 0.1-1.6-0.5 0-3.5zM3.5 79.2l0.7-0.2 1 0.4 1.2 1.4 0.1 1-0.2 0.4-0.5 0.8-1 0.6-1.6-0.1-1.1-1.3-0.1-1.4 0.7-1zM-2.8 79.8l1.6-0.1 1 1.1-0.1 1.4-0.9 1-1 0.1-1.6-0.5 0-2.6zM9.9 85.2l0.9 0 0.9 0.6 0.9 1.4-0.4 1.6-1.4 0.9-1 0-1-0.5-0.8-1.4 0.4-1.6 0.8-0.7zM3.6 85.8l1.2-0.1 1.1 1.1 0 1.4-1.1 1.2-1.6-0.2-0.8-1 0-1.4zM-2.9 86.2l1.1-0.1 1.1 0.7 0.3 1-0.4 0.7-0.4 0.4-1 0.2-1.6-0.7 0-1.6zM15.2 91.8l0.6-0.4 1-0.1 1.3 0.9 0.5 1.6-0.3 1.4-3.9 0-0.2-2 0.4-1zM3.6 92.2l1.2 0.1 0.6 0.5 0.3 1-0.4 1.4-2.3 0-0.4-1 0.1-1zM9 92.2l1.3-0.4 1.2 0.4 0.6 1-0.4 2-3 0-0.3-2zM-2.7 92.8l0.9-0.2 0.8 0.6 0.1 1-0.6 1-1 0-0.8-1-0.2-0.4 0.2-0.6z"/><path fill="#2b3570" d="M11.2-1.8l82.1 0-0.1 81.5-4.6 5.1 0.5 2 0 1-2.2 3 1 2.4-0.6 2-26.7 0-0.3-1.4 0.2-1 1.5-2-1.5-1.6-0.6-1 0-1.4 1-2-0.1-0.6-1.6-1.5-2 1.5-0.3 0.6 1.5 2 0.1 1-0.4 1-0.9 0.8-1 0.5-1 0.2-1.4-0.4-1.4-1.1-0.4-1.6 0.4-1 1.3-1.4-1.8-2-0.7-1.2-2 2.2-1 0.4-1 0-1.4-0.8-0.9-1.2-0.2-1 0.2-1 1.1-1.4-0.1-0.6-1.7-1.5-0.4 0.1-2.6 1.8-0.4 0.1-1.6-1.1-1.4-1.9-0.6 0.2-0.5 0.9-0.9 0.7-1 0.3-1.6-0.5-0.8-1.1-0.3-1 0.3-1 1.3-1.4 0.1-0.6-2-1.9-0.6-0.2-1 1-1 0.6-1.4-0.1-1-0.7-0.7-1.1-0.1-1 1.6-2.6-2.4-2.2-1.4 1.3-1 0.4-1-0.1-1-0.7-0.8-1.1-0.1-1 0.4-1 1.3-1.6-2.4-2.4-1.4 1.4-1 0.4-1-0.1-1.2-0.7-0.6-1 0-1.6 0.8-1.1 1.2-0.9-1.8-1.5-1-1.8-1.4 1.8-1 0.5-1.6-0.2-0.8-0.8-0.4-1 0-1 0.4-1 0.8-0.7 1-0.3 1 0.2 1.1 0.8 0.9 1.3 0.3-0.7 1.4-2-0.2-0.6-1.5-1.4-0.4 0.1-1.6 1-1 0.2-1.4-0.6-0.8-0.7-0.7-1.6 0.1-1 0.8-1.3 1.4-1.1-0.1-0.6-2.3-1.9-0.4 0-1.6 1.2-1.4 0.2-1-0.5-1.2-1.4-0.3-1 0.1-1 0.8-1.7 1-0.8 1-0.3 1.1 0.3 1.5 1.2 0.4 0 1.6-1.7-0.1-0.6-0.9-0.9-0.6-0.4-0.4 0-2 1.1-1-0.1-1-0.4-1.6-1.5-0.4-0.2-1 1-1 0.5-1 0.1-1.6-0.4 0-26.5 2-0.8 2.6 1 0.4-0.1 2.6-2.1 1-0.2 1.4 0.5 1-0.1zM12.8 39.5l-1.3 0.7-0.1 0.6 1.4 1 0.4 0 0.9-1-0.1-0.6-0.8-0.7zM18.2 53.2l-1.1 1 2.1 1.8 1.1-1.2 0.2-0.6-0.1-0.4-1.2-1zM25.2 59.2l-1.5 1 1.5 1.7 0.6-0.4 0.5-1.3-0.5-0.7zM30.8 65.6l-0.9 0.6 0.1 0.6 1.2 1.2 0.6-0.2 0.6-1 0-0.6-0.6-0.7-0.6-0.2zM37.2 71.2l-1.4 1 0 0.6 1.4 1.6 0.6 0.3 1.1-1.9 0-0.6-1.1-1zM50.8 77.6l-1 0.6-0.1 0.6 1.5 2 1.2-2-0.6-1-0.6-0.3zM-2.5 33.8l1.3 0 0.8 0.4 1 2-0.1 1-0.6 1-0.7 0.7-1 0.3-2-0.5 0-4.5zM3.1 41.8l1.1-0.4 1 0.3 0.8 0.5 0.6 1 0.1 1-0.4 1-0.5 0.7-1 0.6-1.6-0.2-0.7-0.5-0.6-1 0-1.6 0.6-1zM-3.2 42.2l1.4-0.3 0.9 0.3 0.5 0.6 0.4 1.4-0.4 1-0.5 0.6-1.3 0.3-1.6-0.6 0-3zM2.9 49.2l0.9-0.4 1 0.1 1 0.9 0.3 1.4-0.9 1.3-1.4 0.2-1-0.6-0.6-1.3 0.3-1zM-3.3 49.8l1.5-0.5 0.9 0.5 0.4 1-0.3 1-1 0.5-1-0.1-0.6-0.4-0.4-0.4 0-1.2zM9.4 55.2l1.4-0.1 1 0.6 0.4 0.5 0 1.6-1 1-1.4 0.2-1-0.6-0.4-0.6 0-1.6zM3.3 55.8l0.5-0.3 1 0.1 0.7 0.6 0.2 1-0.5 1-1 0.5-1.1-0.5-0.4-0.4-0.1-1zM-2.8 56.2l1-0.2 0.6 0.3 0.3 0.9-0.3 0.7-1 0.3-0.8-0.4-0.3-0.6 0.1-0.4zM15.5 61.2l1.3-0.2 1 0.5 0.5 0.7 0.1 1.6-1.2 1.2-1.4 0.1-0.7-0.3-0.7-1 0.1-1.6zM9.5 61.8l1.3-0.2 0.4 0.3 0.6 0.9 0 1-1 0.9-1 0-1.1-0.9 0-1zM3.4 62.2l0.8-0.2 0.6 0.2 0.4 0.5 0 1.1-0.4 0.4-1 0.1-0.7-0.5-0.1-1zM-2.3 62.8l0.6 0 0.2 0.4-0.3 0.5-0.4 0-0.4-0.4zM21.9 67.2l1.3 0.1 0.7 0.5 0.6 1-0.2 1.4-1.1 0.9-1.4 0.1-0.7-0.4-0.6-1 0.2-1.6zM15.7 67.8l1.3 0 0.9 1-0.1 1.3-1 0.8-1.1-0.1-0.9-1 0-1zM9.7 68.2l1.1 0 0.5 0.6 0 1-0.5 0.5-1 0-0.6-0.5 0-1zM3.8 68.8l0.4-0.1 0.6 0.5-0.6 0.7-0.5-0.1-0.2-0.6zM28.2 73.2l0.6 0 1 0.4 0.6 0.6 0.3 1-0.6 1.6-1.3 0.6-1.6-0.5-0.7-1.1 0.3-1.6 0.4-0.5zM22.1 73.8l1.1 0.1 0.6 0.4 0.3 0.9-0.3 1-1 0.8-1.2-0.2-0.8-1 0.1-1 0.3-0.6zM15.9 74.2l0.9 0 0.6 0.6 0.1 1-0.7 0.7-1-0.1-0.6-0.6 0.1-1zM10.2 74.8l0.6 0.4 0 0.6-0.6 0.2-0.5-0.2-0.1-0.6zM39.8 79.2l0.4-0.3 1-0.1 1 0.5 0.9 0.9 0.3 1.6-0.5 1-0.7 0.6-1 0.3-1 0-1.3-0.9-0.4-1 0.1-1 0.6-1zM33.6 79.8l0.6-0.4 1 0.1 1.1 0.7 0.3 1.6-0.8 1.3-1.6 0.3-1.1-0.6-0.5-1.6 0.4-1zM27.5 80.2l1.3-0.4 1 0.6 0.3 1.4-0.6 1-1.3 0.2-1-0.6-0.3-1.2zM21.5 80.8l0.7-0.5 1 0.3 0.4 0.6-0.3 1-0.5 0.4-1-0.2-0.5-0.6zM15.7 81.2l0.5-0.3 0.6 0.2 0.1 0.7-0.7 0.3-0.5-0.3zM47 85.2l0.8-0.2 1 0.3 1 0.8 0.3 0.7 0 1.4-0.8 1-0.5 0.4-1 0.2-1-0.2-1-0.7-0.5-0.7-0.1-1 0.4-1zM40.2 85.8l0.6-0.2 1 0.2 0.9 1 0 1.4-0.9 1.1-1.6 0-1.1-1.1 0-1.4zM33.7 86.2l1.1-0.2 0.7 0.2 0.5 0.6 0.2 0.9-0.6 1.1-1.4 0.3-1-0.8-0.1-1.1zM27.7 86.8l1.1-0.4 0.6 0.4 0.3 0.9-0.5 0.8-1 0.2-0.6-0.5-0.2-1zM21.9 87.2l0.3-0.2 0.6 0.1 0.2 0.7-0.8 0.4-0.4-0.4zM53.6 91.8l1.2-0.5 1 0 1.4 0.8 0.7 1.1-0.3 2-4.7 0-0.4-2 0.5-1zM40.6 92.2l1.2 0.3 0.5 0.7 0 1-0.4 1-2 0-0.1-0.2-0.3-0.8-0.1-1 0.4-0.5zM46.3 92.2l1.5-0.4 1 0.3 0.4 0.4 0.5 1.3-0.4 1.4-3.3 0-0.4-1.4 0.3-1zM34.1 92.8l0.7-0.2 0.8 0.6 0 1-0.8 1-0.6 0-0.6-1 0-1zM28.2 93.2l0.6 0 0.2 0.6-0.2 0.5-0.6-0.1-0.2-0.4z"/><path fill="#2b3775" d="M28.2-1.8l65.1 0-0.1 64.6-4.3 3.4-0.1 0.6 0.5 2-0.2 1-2.3 2.4-0.1 0.6 0.9 1.4 0.3 1-0.4 1-1.9 2-0.1 0.6 1.2 2 0.1 1-0.6 1-1.6 1.4-0.1 0.6 1.5 2 0.2 0.9-0.6 1.1-1.9 2 1.8 2.4-0.1 1-0.4 1-15.2 0-0.3-2 0.4-2.4-1.1-3-0.6 0.2-1.2 1.2-1.8 0.6-2.4-0.2-1.3-0.8-0.4-1.6 0.5-1 0.6-0.4 2-0.7 1 0.1 1.9 0.6 1.1 1 0.6-0.1 0.3-1.9-0.3-1.1-0.6-0.3-2.4 0.7-2 0-2-0.8-0.9-1.1-0.2-1 0.4-1 2-1.4-0.2-0.6-1.7-1-0.9-1.4 0.2-1.6 1.3-1.4 0.1-0.6-1.6-1.4-0.4-1 0-1.6 0.9-1.4 0-0.6-1.5-1.6-0.5 0.1-1.8 1.5 1.5 2.6 0 1-0.6 1-0.7 0.5-1.4 0.7-1 0-1-0.4-1.2-0.8-0.5-1.6 0.4-1.4 1-1 0.2-0.6-1.6-1.4-0.9-1.5-1.1 1.5-1.3 0.9-1 0.2-1.6-0.4-1.1-1.3-0.3-1 0.1-1 1.3-2-2-2.1-0.4 0.1-1 1-1 0.5-1 0.2-1-0.4-1.3-1.3-0.4-1 0.3-1.4 1.2-1.6-0.2-0.4-1.2-1.2-0.4-0.4-0.6 0-1.4 1.2-1 0.3-1-0.3-1-0.6-0.9-1.6 0-1 0.4-1 1.3-1.4-0.3-0.6-1.5-1.5-0.6-0.1-1.4 1.1-1.6 0.3-1.4-0.8-0.9-1.4-0.1-1 0.2-1 0.8-1.1 1.2-0.9-0.2-0.6-2.5-2-2.1 1.4-1.4 0-1.3-0.8-1-2 0.6-2 0.7-0.9 1-0.7 1-0.2 1 0.4 1.4 1.1 0.6-0.3 1.2-1.4-0.1-0.6-1.1-1.1-0.6-0.2-2 1-1 0.1-1.4-0.7-1.6-1.4-2 1.4-1.4 0.1-1.1-0.6-1.5-2.2-1.9 2.2-1.5 0.2-1-0.6-0.6-0.6-0.6-2 0.3-2.6 1.1-2-0.3-0.4-0.9-0.6-1-0.2-2 0.4-1 0-3-1.1-2.6 0.6-2-0.3 0-14.6 1-0.6 1-0.2 1 0.5 1.6 1.3 0.4-0.1 1.6-1.7 1-0.7 1 0.1 2 1.6 0.4 0 2-2 1-0.4 1 0.2 1.6 1.1 0.4 0.1 2-2 1-0.5 1 0.1 1.6 0.9 0.4 0.1 3-2.5 1-0.1 1.6 0.4 0.8-0.4zM30.8 39.6l-1.1 0.6-0.2 0.6 1.7 1.2 0.6-0.1 0.5-0.7 0.2-0.4-0.1-0.6-0.6-0.6-0.6-0.2zM36.8 47.1l-0.6 0.7 1 1.1 0.6 0 0.7-1.1-0.2-0.6-0.5-0.4zM43.8 53.2l-0.8 0.6-0.3 0.4 1.1 1.3 0.4 0 0.8-1.3-0.2-0.4-0.6-0.5zM50.8 59.2l-1.3 1 1.7 2.4 1.2-2.4-0.9-1zM12.8 23.2l-0.4 0.6 0.4 1 0.4 0.3 0.4-1.3-0.4-0.5zM4.2 23.8l1 0.3 0.6 0.7 0.7 1.4 0.1 1-0.1 1-0.7 1.6-0.6 0.5-1 0.4-1-0.2-0.7-0.7-0.5-1-0.2-1.6 0.2-1.4 0.5-1 0.7-0.8zM-3.1 24.8l0.9-0.4 1 0.1 0.7 0.7 0.4 1 0.1 1.6-0.2 1-0.6 1-1 0.5-1-0.1-1-0.6 0-4.4zM15.7 33.8l1.1-0.1 1 0.4 0.8 1.1 0.4 1-0.8 2-0.4 0.6-1 0.4-1.6-0.3-0.7-0.7-0.4-1-0.1-1 0.2-1 0.6-0.8zM9.6 34.2l0.6-0.1 1 0.3 0.9 1.4 0.1 1-0.3 1-1.1 1-1.6-0.3-0.8-1.3-0.1-1 0.2-1zM3.3 34.8l0.5-0.3 1 0.1 0.9 1.2 0 1.4-0.9 1.2-0.6 0.1-0.9-0.2-0.7-1.1 0-1.4zM-2.9 35.2l1.1-0.2 0.9 0.8 0.2 1-0.5 1-1 0.2-1.2-0.8-0.2-1zM21.5 41.8l0.7-0.3 1 0.1 1 0.6 0.6 1 0.1 1-0.4 1-1.3 1.1-1 0.2-1-0.4-0.9-1.3-0.1-1 0.3-1zM15.4 42.2l1.4-0.2 1.1 0.8 0.3 1.4-0.3 1-0.7 0.6-1.4 0.2-1-0.9-0.3-1.3 0.4-1zM9.4 42.8l0.8-0.4 0.6 0.1 0.7 0.7 0 1.6-0.7 0.7-1 0-0.8-0.7-0.2-1zM3.4 43.2l0.8-0.3 0.7 0.3 0.2 1-0.3 0.7-0.6 0.3-0.9-0.4-0.2-1zM27.4 48.8l0.8-0.4 1 0 1 0.7 0.5 0.7 0.3 1-0.1 0.4-1.1 1.5-1 0.4-1-0.2-1.3-1.1-0.1-1.6 0.4-0.8zM21.4 49.2l1.4-0.3 1.2 0.9 0.2 1.4-1 1.2-1.4 0.1-0.9-0.7-0.2-1.6zM15.4 49.8l0.8-0.4 1.1 0.4 0.4 1-0.5 1.1-1 0.3-0.9-0.4-0.3-1zM9.7 50.2l0.5-0.2 0.6 0.2 0.2 0.6-0.2 0.6-0.6 0.2-0.4-0.2-0.3-0.6zM34.1 54.8l0.7-0.2 1 0.3 0.8 0.9 0.5 1-0.5 1.4-1.3 1-1.5-0.1-1.3-1.3-0.1-1 0.4-1zM28.2 55.2l1 0.1 0.6 0.3 0.6 1.2-0.5 1.4-1.1 0.7-1-0.2-0.6-0.4-0.5-1.1 0.2-1 0.3-0.4zM22.1 55.8l1.1 0.2 0.6 0.8-0.2 1-0.8 0.6-1.1-0.2-0.6-1 0.2-1zM16.1 56.2l0.7 0.1 0.3 0.5 0.1 0.4-0.4 0.6-1 0-0.3-0.6 0-0.4zM39.6 61.2l0.6-0.3 1-0.1 1 0.4 0.7 0.6 0.4 1.4-0.3 1-0.8 0.8-1.4 0.4-1-0.4-0.9-0.8-0.3-1.4 0.5-1zM33.5 61.8l1.3-0.5 1 0.4 0.4 0.5 0.3 1-0.7 1.4-1.6 0.3-1-0.7-0.3-1.4zM27.5 62.2l1.2-0.4 0.8 0.4 0.4 1-0.5 1-0.6 0.3-1.1-0.3-0.5-1zM21.7 62.8l0.5-0.4 0.6 0.1 0.4 0.7-0.2 0.6-0.8 0.2-0.3-0.2-0.3-0.6zM46.5 67.2l0.7-0.3 1 0 1.6 1 0.3 0.9 0 1-0.9 1.2-1 0.4-1 0-1.4-0.9-0.5-0.7 0-1 0.5-0.9zM39.9 67.8l1.3-0.3 1.3 0.7 0.2 1.6-0.8 1-1.1 0.2-0.9-0.2-0.5-0.6-0.3-0.4 0-1zM33.7 68.2l1.1-0.3 0.7 0.3 0.5 1-0.4 1-0.8 0.4-1.1-0.4-0.4-1zM27.9 68.8l0.9-0.3 0.3 0.3 0.2 0.4-0.1 0.6-0.4 0.2-0.9-0.2-0.2-0.6zM54 73.2l0.8-0.3 1 0 1.5 0.9 0.7 1.4-0.2 1-0.6 0.7-1 0.6-1 0.1-1-0.1-1.1-0.7-0.6-1 0.1-1 0.6-1zM46.7 73.8l1.5-0.2 1.1 0.6 0.3 0.6 0.1 1-0.7 1-0.8 0.3-1 0-1.3-0.9-0.1-1.4zM40.1 74.2l1.1-0.2 1 0.8 0.1 1-0.5 0.6-1 0.3-1-0.5-0.3-1zM34 74.8l0.8-0.3 0.4 0.2 0.3 0.5-0.3 0.7-0.5 0.3-0.5 0-0.4-0.4-0.1-0.6zM54.2 79.8l1.6-0.2 1.2 0.6 0.4 0.6 0.1 1-0.6 1-1.7 0.6-1-0.2-0.7-0.4-0.4-0.6-0.1-1 0.4-1zM47 80.2l1.2 0 0.8 0.6 0.2 1-0.4 0.6-1 0.4-0.6 0-0.8-0.6-0.2-1zM40.6 80.8l0.6 0 0.4 0.4 0 0.6-0.4 0.3-0.5 0.1-0.6-0.4 0-0.6zM54.2 86.2l1.6-0.1 1 0.5 0.3 1.2-0.3 0.7-0.6 0.4-1 0.2-1.4-0.5-0.5-0.9 0-0.5zM47.2 86.8l0.9 0 0.5 0.4 0.1 0.6-0.5 0.5-1 0.1-0.4-0.4-0.1-0.8zM63.7 91.8l2.1 0.1 1.4 0.9 0.3 1-0.6 1.4-5 0-0.5-1.4 0.4-1 1-0.8zM54.4 92.8l1.4-0.2 0.7 0.6 0 1-0.7 1-1.2 0-0.7-1 0-1z"/><path fill="#2b397a" d="M45.9-1.8l47.4 0-0.1 47.2-2.3 1.4-1.1 1 0.3 3-0.6 1-2.1 2-0.2 0.4 1.1 2 0 1-0.5 1-2 2 0.1 0.6 1.1 1.4 0.2 1-0.5 1-2 2 0 0.6 1.3 1.4 0.3 1-0.4 1-2.1 2 0 0.6 1.8 2 0.1 1-0.8 1-1.8 1.4-0.1 0.6 1.9 2 0.1 1-0.6 1-2 1.4-0.2 0.6 2.1 2 0.3 1-0.6 1-2.1 1.4-0.3 0.6 2.4 2.4 0 1-0.6 1-12.5 0-0.3-2 1.1-2.4-1.2-2-0.2-1 0.1-1 0.8-2-1.2-3 0-1 0.6-2-1-3-0.1-1 0.5-2-0.2-1-1-2.1-2.1 1.5-2.5 0.5-1.4-0.3-1-0.5-0.6-0.7-0.3-1 0.3-1 0.6-0.6 2.4-1.1 2 0.4 2 1.3 0.6-0.1 0.2-1.9-0.2-0.5-0.6-0.4-3 0.8-1.4 0-2-0.9-1-1-0.3-1 0.2-1 1.8-2-1.7-1.4-0.7-1.6 0.3-1.4 1.1-1.6-0.1-0.4-1.4-1.6-0.7-1.4 0.2-1 1.1-2-0.8-1.3-0.6-0.4-0.4 0.1-1.3 1-0.3 0.6 1.9 2.4 0 0.5-0.5 1.1-1.4 1.4-2 1-2-1.1-1.1-1.3-0.2-1 0.1-1 1.6-2-2.4-2.7-1.4 1.3-1.6 0.7-1.4-0.2-1.6-1.1-0.7-1.6 0.1-1 0.6-1.2 1.4-1.2-0.2-0.6-2.2-1.9-0.4 0-1.6 1.3-1.4 0.3-1.6-0.7-0.8-1-0.6-1.2-2 2.2-1.6 0.2-1-0.5-0.9-1.1-0.3-1.6 0.5-1.4 0.7-0.9 1-0.5 1 0.1 1 0.5 1 1.4 0.6 0.3 1.2-1.9 1.6-1-0.2-0.6-1.2-0.6-1.4-1.3-0.6 0-1 0.9-1 0.4-1.4-0.1-1.1-0.7-0.9-1.3-0.6-0.2-1 1.2-0.9 0.6-1.1 0.1-1-0.4-0.9-1-0.8-2 0-1 1.4-3.6-0.2-0.4-0.9-0.6-1-0.1-2.6 0.4-3-1.2-3 0.6-1.4-0.4-1.6-0.8-2 0.7-1.4 0.1-1-0.4-1.6-1-0.4 0-1.6 0.9-1.4 0.2-1-0.4-1.6-1.2-0.4 0-2 1.2-1 0.1-1.6-0.4 0-11.9 1-0.7 1-0.2 0.6 0.2 2 2.3 0.4-0.1 1.6-2.2 1-0.8 1 0.1 2 2.3 0.4 0 2-2.4 1-0.4 1 0.3 1.6 1.7 0.4 0.1 2-2.4 1-0.4 1 0.3 1.6 1.5 0.4 0.2 0.6-0.3 1.4-1.8 1-0.6 1 0.2 2 1.5 0.6-0.2 1.4-1.8 1-0.6 1 0.1 2 1.3 0.6-0.2 1.4-1.6 1-0.7 1-0.1 2 1.1 0.6-0.1 2-2.1 1-0.6 1-0.2 1.4 0.3 1-0.4zM51.2 39.2l-0.4 0.1-1.4 0.9-0.2 0.6 1.6 1.5 0.4 0.2 1.3-1.7-0.1-0.6zM43.8 31.1l-2 1.1-0.2 0.6 2.2 1.5 0.4 0 1.3-1.5 0-0.6-1.3-1.1zM21.9 23.8l0.9-0.3 1 0.5 0.8 1.2 0.5 1.6 0 1-0.5 1.4-0.8 1.1-1 0.5-1-0.1-0.8-0.5-0.6-1-0.4-1.4 0.4-2.6 0.8-1.1zM16.1 24.2l1.1 0.3 0.6 0.4 0.6 1.3 0.1 1-0.2 1.6-0.5 1-0.6 0.4-1 0.3-0.8-0.3-0.5-0.4-0.7-2 0.1-1.6 0.4-1 0.5-0.6zM3.6 25.2l1.2 0.1 0.7 0.9 0.2 1-0.5 1.9-1 0.7-0.4 0-0.7-0.6-0.6-1.4 0.3-1.6zM9.2 25.2l0.6-0.4 1 0 0.5 0.4 0.6 1 0.1 1.5-0.2 1.1-0.6 0.9-0.4 0.3-1 0.1-0.6-0.3-0.6-1-0.1-2zM-2.4 25.8l0.6-0.1 0.6 0.3 0.4 1.2-0.3 1.6-0.7 0.5-1-0.2-0.8-1.3 0.2-1zM27.4 34.2l0.8-0.3 1 0.1 1.3 1.2 0.2 1-0.1 1-0.5 1-0.9 0.7-1.4 0-1.1-1.1-0.3-1 0.1-1zM16 34.8l0.8 0 0.4 0.3 0.6 1.1-0.4 1.6-1.2 0.5-0.9-0.5-0.4-1 0.3-1.6zM21.3 34.8l1.5-0.4 1.1 0.8 0.3 1-0.1 1-0.9 1.2-0.4 0.2-1-0.1-0.8-0.7-0.4-1.6zM10.1 35.2l0.7 0.2 0.4 0.8-0.2 1-0.8 0.6-0.4-0.2-0.6-0.8 0.2-1zM3.6 36.2l0.6-0.4 0.5 0.4 0 0.6-0.5 0.4-0.4-0.1zM39.6 41.8l1.2-0.5 1 0.1 1 0.6 0.4 0.8 0.4 1-0.2 1-1.2 1.4-1 0.4-1-0.1-1-0.6-0.4-0.7-0.4-1 0.1-1zM28.2 42.2l1 0.2 0.6 0.4 0.3 1-0.3 1.4-1 0.6-1-0.2-0.6-0.5-0.3-0.9 0.3-1.3zM33.4 42.2l1.4-0.4 1 0.3 0.6 0.7 0.3 1.4-0.4 1-0.5 0.7-1.6 0.3-1.2-1-0.4-1.4zM22.2 42.8l0.6 0 0.4 0.3 0.4 0.7-0.2 1-0.6 0.5-1-0.2-0.5-0.9 0.2-1zM15.7 43.8l0.5-0.5 0.6 0.2 0.1 0.7-0.1 0.3-0.6 0.3-0.4-0.4zM47.3 48.2l0.9 0 1 0.5 0.7 0.5 0.4 1 0 1-0.5 1-1.6 1-1 0-1-0.4-0.5-0.6-0.5-1 0-1 0.4-1 0.6-0.5zM34.5 49.2l0.7 0.2 0.6 0.3 0.3 1.1-0.3 1-1 0.5-1-0.3-0.6-0.6-0.1-0.6 0.4-1zM39.6 49.2l1.2-0.4 1.4 0.5 0.5 0.5 0.2 1-0.2 1-0.5 0.5-1.4 0.4-1.2-0.5-0.4-0.4-0.2-1 0.2-1zM27.7 50.2l0.6-0.4 0.5 0 0.6 0.4 0 1-0.6 0.6-0.7 0-0.5-0.6zM53.9 54.8l0.9-0.5 1 0 2 1.3 0.3 0.6 0.1 1-0.4 1-0.6 0.7-1 0.5-1.4 0.1-1-0.3-1-0.9-0.5-1.1 0.2-1 0.7-1zM46.8 55.2l1.4-0.1 1 0.5 0.5 0.7 0 1.5-0.9 1-1.6 0.2-1-0.5-0.4-0.6-0.2-0.7 0.1-1zM40.2 55.8l1-0.2 1 0.6 0.2 1-0.6 1.1-1 0.3-0.8-0.4-0.5-0.4-0.1-1zM34.1 56.2l0.7-0.1 0.4 0.2 0.4 0.9-0.4 0.6-0.4 0.2-0.9-0.2-0.2-1zM54.2 61.2l1.6-0.1 1.4 0.8 0.5 1.3-0.3 1-0.5 0.6-1.1 0.4-1 0-1-0.3-0.7-0.7-0.3-1.4 0.4-0.9zM47 61.8l1.2-0.1 0.9 0.5 0.3 1-0.6 1.2-1.6 0.3-1-0.7-0.2-1.2 0.3-0.6zM40.6 62.2l0.6 0 0.6 0.6 0 1-0.6 0.3-1-0.2-0.3-0.7 0.1-0.4zM54.3 67.8l1.5-0.2 1.1 0.6 0.4 1-0.5 1.2-1.6 0.6-1-0.2-0.7-0.6-0.3-0.4 0-1zM47.3 68.2l0.9 0.1 0.6 0.5 0 1-0.6 0.5-1 0-0.6-0.5 0-1zM63.9 73.2l1.9 0.2 1.4 0.8 0.3 0.6 0.1 1-0.7 1-1.1 0.5-1.6 0.2-1.4-0.3-1-0.6-0.6-1.4 0.5-1 1.1-0.7zM54.2 74.2l1-0.2 1 0.3 0.7 0.9-0.4 1-1.3 0.6-1.3-0.6-0.4-1zM47.1 75.2l0.7-0.3 0.5 0.3-0.5 0.7-0.6-0.1zM63.6 79.8l1.6 0 1.2 0.4 0.6 1-0.2 1-1 0.8-1 0.3-1.6-0.2-0.8-0.3-0.7-1 0.1-0.8 0.5-0.8zM54.6 80.8l1.2 0 0.5 0.4 0 0.6-0.5 0.5-1.2-0.1-0.5-0.4 0-0.6zM63.1 86.2l1.1-0.2 1.6 0.4 0.8 0.8-0.2 1-0.6 0.6-1 0.3-1 0-1.1-0.3-0.5-0.6-0.2-1 0.3-0.4zM63.1 92.8l1.1-0.3 1.1 0.3 0.6 0.4 0 1-0.9 1-1.6 0-0.6-0.6-0.4-0.8 0.2-0.6z"/><path fill="#2c3b7d" d="M62.8-1.8l28.3 0 2.1 2.2 0 28.6-3.9 3.8 0 0.4 0.7 2-0.1 1.6-1 1.4-2.4 2-0.2 0.6 1.5 2 0.3 1.4-0.5 1-2.4 2-0.2 0.6 1.6 2 0.3 1-0.4 1-2.2 2-0.2 0.4 1.8 2 0.2 1.1-0.5 0.9-2.3 2 0.2 0.6 1.6 1.4 0.3 1-0.5 1-2.4 2 0.1 0.6 1.7 1.4 0.5 1-0.4 1-2.6 2 0 0.6 2.4 2 0.1 1-0.8 1-2.3 1.4-0.2 0.6 2.2 1.6 0.6 0.8-0.1 0.6-0.7 1-2.4 1.4-0.3 0.6 2.8 2 0.3 1-0.6 1-3.3 2 2.3 1.4 1 1 0 1-0.6 1-10.5 0-0.4-1.4 0.3-1 1.8-2-1.7-1.6-0.6-1.4 0.4-1.6 1.3-1.4-0.2-0.6-1.4-1.4-0.4-1 0.3-1.6 1.1-1.4-0.1-0.6-1.2-1.4-0.4-1 0.1-1 1-2 0-0.6-1-1.4-0.3-1 0.1-1.6 0.7-2-1.1-2-0.2-1 0.6-3-1.1-3 0.5-3-0.6-1.4-0.4-0.6-2.6 1.1-2 0.3-2-0.5-1-0.7-0.4-0.6-0.1-1.6 0.4-1 2.5-1.4-2.4-1.6-1-1.4-0.1-1 0.3-1 0.6-1 1.2-1-0.1-0.6-1.8-1.5-1-1.9 0.2-1.6 1.6-2.4-0.1-0.6-1.2-1.2-0.6-0.4-0.4 0.1-3.5 2.1 0.9 0.1 1.6 0.9 0.7 1 0.7 1.4-0.6 1.6-0.8 1.1-1.5 0.8-1.5 0.1-1-0.3-1.1-0.7-0.6-1-0.3-1.6 0.2-1 0.5-1 1.7-1.2 1-0.2-0.2-0.6-0.8-0.1-1.4-0.9-1.6-1.8-0.4 0.2-1 1.2-1 0.6-1 0.2-1-0.2-1.6-1.2-1-1.9-0.4 0.2-0.6 1.3-1 0.9-1 0.4-1.4-0.3-0.7-0.6-0.6-1-0.5-2 0.5-2 0.7-1.2 0.9-0.8 0.1-0.4-2.4-1.2-2.6 0.5-1 0-3-1.2-1.4 0.6-1.6 0.2-1-0.3-2-1.2-1.4 0.8-1.6 0.3-1-0.3-2-1.4-2 1.3-1 0.1-1.4-0.5-1.6-1.5-0.4 0.2-1.6 1.3-1.4 0.2-1-0.5-1.6-1.8-0.4 0.1-1.6 1.7-1.4 0.3-1-0.5-1.6-2.1-0.4-0.2-1.1 1.5-0.9 0.8-1 0.2-1.6-0.6 0-9.7 1.6-1.1 1 0.3 0.4 0.5 1.6 2.8 0.4-0.1 1.5-3.1 1.1-0.9 0.4 0 0.9 0.5 1.7 2.7 0.4 0.1 1.7-2.8 0.9-0.8 0.4-0.1 1 0.6 1.6 2.2 0.4 0.2 2-3 1-0.5 1 0.4 2 2.3 0.6-0.4 1.4-2.2 1-0.6 1 0.3 2 2.1 0.6-0.2 1.4-2.2 1-0.6 1 0.1 2 2 0.6-0.1 1.4-2 1-0.7 1 0 2 1.9 0.6 0 1.9-2.2 1.1-0.5 1 0.1 2 1.7 0.4 0 2-2.3 1-0.6 1.6 0.1 2 1.5 0.4 0 2-2.3 1.6-1.1 1.4-0.2 2 0.6 0.7-0.1zM66.8 47.2l-0.8 0.6 2.2 0.9 0.5-0.5 0-0.4-0.5-0.8zM42.8 22.6l-0.5 0.2-0.2 0.4 0.9 1 0.8 1.5 0.4 0.3 1-2.8-0.2-0.4-0.8-0.4zM33.6 24.2l1.2-0.4 1 0.4 0.8 1 0.4 1 0.1 1.6-0.2 1-0.7 1.2-1 0.7-1.4-0.1-1-0.8-0.4-1-0.1-2.6 0.5-1zM27.5 24.8l0.7-0.4 1 0.1 0.8 0.7 0.6 1.6-0.1 1.4-0.3 1-0.4 0.7-1 0.5-1-0.1-0.6-0.4-0.7-1.7 0.1-2zM21.5 25.2l0.7-0.3 1 0.3 0.9 1.6-0.1 2-0.7 1-0.5 0.2-1.2-0.2-0.9-1.6 0.1-1.6zM15.4 25.8l0.8-0.5 0.6 0.1 0.7 0.8 0.2 2-0.4 1-0.5 0.4-1 0-0.8-0.8-0.2-1.6zM9.5 26.2l0.7-0.4 0.6 0.2 0.5 0.9-0.1 1.4-0.4 0.7-0.6 0.3-0.4-0.2-0.6-0.9-0.1-1zM3.5 26.8l0.3-0.4 0.4-0.1 0.6 0.5 0 1.4-0.6 0.6-0.5-0.1-0.3-0.5-0.1-1zM46.6 33.8l1.2-0.3 1 0.2 0.8 0.5 0.6 1.1 0.3 0.9-0.1 1-0.6 1.2-1 0.8-1 0.2-1-0.2-1-0.7-0.5-0.7-0.3-1 0.2-1.6 0.6-0.8zM39.9 34.2l0.9-0.2 1 0.1 1 1.1 0.3 1-0.1 1-0.6 1-0.6 0.6-1.6 0-1.1-1-0.3-1 0-1 0.4-0.9zM33.6 34.8l1.2-0.4 0.8 0.4 0.5 0.4 0.3 1-0.1 1-1.1 1.2-1 0.1-0.4-0.2-0.8-1.1 0-1.4zM27.6 35.2l0.6-0.4 0.6 0 0.7 0.4 0.3 0.6 0.1 1-0.7 1.1-1 0.3-0.9-1-0.2-1zM21.7 35.8l0.5-0.4 0.9 0.4 0.2 1-0.5 0.8-0.6 0-0.5-0.4-0.2-0.4zM16 36.2l0.2-0.2 0.4 0.2 0 0.6-0.4 0.2zM53.6 41.8l1.2-0.5 1 0 1 0.3 0.8 0.6 0.5 1 0.1 1-0.4 1-0.6 0.8-1 0.5-1 0.2-1-0.2-1.2-0.7-0.5-1-0.1-1 0.3-1zM46.4 42.2l0.9-0.3 0.9 0 1.3 0.9 0.3 1.4-0.3 1-0.5 0.6-0.8 0.3-1 0-1.3-0.9-0.3-1.4 0.3-1zM39.9 42.8l0.9-0.5 0.4 0.1 1 0.7 0.3 1.1-0.7 1.2-1 0.3-1-0.6-0.4-1.3zM33.7 43.2l1.1-0.4 0.7 0.4 0.2 1-0.5 0.8-1 0.2-0.4-0.4-0.3-0.6zM28.2 43.8l0.6-0.2 0 0.8-0.6 0zM54.7 48.8l1.1-0.1 1 0.4 0.8 1.1-0.2 1.6-1.2 0.9-1 0.2-1-0.2-1.1-0.9-0.3-1 0.3-1 0.7-0.7zM46.5 49.8l1.3-0.5 1 0.3 0.5 1.2-0.3 1-1.2 0.5-1-0.3-0.6-0.5-0.1-0.7zM40.2 50.2l0.6-0.2 0.4 0 0.6 0.7-0.2 0.5-0.8 0.5-0.6-0.3-0.2-0.6zM63.4 54.8l1.8-0.2 2 0.9 0.8 1.3-0.5 1.4-1.3 0.9-1.4 0.4-1.6-0.2-1.4-0.7-0.7-0.8 0-1.6 1-1zM54 55.8l1.2-0.4 1.6 0.6 0.4 1.2-0.4 1-1.6 0.6-1.4-0.5-0.4-0.5-0.2-1zM47.1 56.2l0.7-0.1 0.5 0.1 0.5 0.6-0.3 1-0.7 0.3-1-0.3-0.2-1zM63.3 61.2l1.5-0.1 1.8 0.7 0.7 1 0.1 0.4-0.4 1-1.2 0.8-1 0.2-1.6-0.1-1-0.4-0.8-0.9 0-1 0.7-1zM54.1 62.2l1.1-0.3 1 0.3 0.5 0.6-0.1 1-0.8 0.6-1.6-0.2-0.6-1zM63.1 67.8l1.1-0.2 1.6 0.3 0.9 0.9 0.1 1-0.6 0.6-1 0.5-1.4 0.1-1-0.3-0.7-0.5-0.4-1 0.5-1zM54.5 68.8l0.7-0.3 0.6 0.1 0.4 0.6-0.2 0.6-0.8 0.3-0.4-0.1-0.6-0.8zM62.8 74.2l1.4-0.3 1.4 0.3 0.6 0.6 0.2 1-0.4 0.4-0.8 0.5-1.9 0-0.9-0.5-0.3-0.4 0.1-1zM63 80.8l0.8-0.4 1 0.1 1 0.6 0 0.7-0.4 0.4-0.6 0.3-1.6-0.1-0.6-0.6 0-0.6zM63.1 87.2l0.7-0.3 1 0.1 0.4 0.2 0.1 0.6-0.5 0.5-1 0-0.7-0.5z"/><path fill="#2c3e81" d="M74.1-1.2l3.7-0.1 3.4 0.6 3 1.3 3 2.1 2.5 2.5 1.8 3 1.1 3 0.4 3.6-0.3 4-1.8 5-0.9 4.4-1 1.6-3.1 2.4-0.2 0.6 1.8 2.4 0.2 1-0.2 1-1.3 1.4-2.3 1.6-0.1 0.6 2.1 2 0.4 1.4-0.5 1-2.8 2-0.2 0.6 2.2 2 0.4 1-0.4 1-2.7 2-0.2 0.4 2.4 2 0.3 1-0.6 1-2.8 2 0.3 0.6 2.1 1.4 0.4 1-0.5 1-3.1 2 0.2 0.6 2.3 1.4 0.5 1-0.1 0.6-0.7 0.8-2.9 1.6 0.1 0.6 2.8 1.6 0.5 0.8-0.1 0.6-1 1-3 1.4-0.2 0.6 2.9 1.4 0.6 0.6 0.2 1-0.9 1.1-3.4 1.3-0.5 0.6 3.5 1.4 0.6 0.6 0.4 1-0.6 0.9-1 0.6-2 0.7-2.6 0.5-2-0.5-1.4-0.7-0.7-0.5-0.4-1 0.2-1 0.4-0.6 2.6-1.4-0.4-0.6-2.3-1.1-0.7-1.3 0.4-1.6 2-1.4-0.2-0.6-1.9-1.4-0.6-1 0.3-1.6 1.6-1.4 0.1-0.6-1.7-1.4-0.6-1.6 0.3-1 1.2-1.4 0.2-0.6-1.4-1.4-0.6-1.6 0.2-1 1.1-2-1.3-2-0.3-1 0.3-1.4 0.8-1.6-1.4-3 0.1-1.4 0.8-2-1.5-3.6 0.2-1.4 0.6-2-0.1-0.6-0.9-1.5-0.4-0.4-2 1.1-2 0.5-2-0.3-1.6-0.8-0.8-1.6 0.1-2 0.6-1 0.7-0.6 1.8-0.8-0.2-0.6-1.6-0.7-1-0.8-0.7-0.9-0.9-2-1.4 2.4-1 0.9-2 0.3-1.6-0.7-0.8-0.9-0.4-1-0.1-2.1 0.6-1.9 1.4-1.6 0.1-0.4-2.8-1.7-3.4 0.9-1.6-0.3-2-1.2-0.4 0-1.6 0.8-1.4 0.3-1.6-0.5-1.4-1.2-0.6 0.1-1.4 1-1.6 0.2-1-0.3-1.4-1.4-0.6-0.1-1.4 1.2-1.6 0.3-1-0.3-1.9-1.9-1.5 1.5-1.6 0.4-1.4-0.7-1.6-2-1.4 1.9-1.6 0.6-1.4-0.8-1.6-2.6-2 2.7-0.4 0.3-1 0-1-0.7-0.7-1.1-0.6-1.4-0.2-1.6 0.8-3.4 0.7-1.6 1-1.1 1 0.1 0.4 0.4 1.5 3.2 0.6 0.5 1.5-3.6 0.4-0.7 1-0.6 0.6 0.1 0.7 0.7 1.7 3 2-3.4 1-0.7 0.6 0 0.8 0.7 1.6 2.5 0.6-0.3 1.4-2.7 1-0.8 0.6 0 1 0.7 1.4 2.2 0.6-0.2 1.4-2.4 1-0.8 0.6-0.1 0.7 0.3 1.7 2.3 0.6 0.1 1.4-2.2 1-0.9 1-0.1 0.6 0.2 2 2.3 0.4 0.1 2-2.8 1.6-0.8 1 0.4 2 2.2 0.4 0.1 2-2.8 1.6-1.1 1.4 0 2.6 1.9 0.4-0.1 2.6-3.1 1.4-1.1 1.6-0.5 3-0.6 3.4-1.3zM58.2 23.2l0 0.6 0.6 1.1 0.4 0.3 0-1.5-0.4-0.4zM3.2 9.8l1-0.5 1 0.8 0.9 1.7 1 3.4-1.3 3.6-0.6 0.6-1 0.5-1-0.3-0.8-0.8-0.9-3 0-1.6 0.5-2zM-2.9 10.2l0.7-0.3 0.4 0 1 0.9 0.8 2 0.4 2-0.5 3-0.7 1.1-1 0.6-1-0.1-1-0.7 0-7.5zM46.5 24.2l1.3-0.3 1 0.2 1 0.9 0.5 1.2 0.1 1.6-0.4 1.4-0.8 1.1-1 0.5-1 0.1-1-0.5-0.6-0.6-0.4-1-0.2-1 0.2-1.6 0.6-1.3zM39.9 24.8l0.9-0.4 1 0.2 0.6 0.6 0.5 1 0.2 1.6-0.2 1-0.7 1.1-1 0.5-1 0-0.4-0.3-0.9-1.3-0.1-1 0.1-1.6zM33.6 25.2l0.6-0.3 1 0.1 0.8 0.8 0.4 1 0 1.4-0.4 1-0.8 0.8-0.4 0.1-1.2-0.3-0.7-1.6 0-1.4zM27.6 25.8l0.7-0.5 0.5 0 0.6 0.5 0.5 1-0.1 2-0.6 0.7-0.4 0.2-1-0.2-0.7-1.3 0-1.4zM21.7 26.2l0.5-0.3 0.6 0 0.6 0.9 0 1.4-0.6 1-0.6 0.1-0.4-0.3-0.5-0.8 0-1zM15.7 26.8l0.5-0.5 0.7 0.5 0.2 1-0.6 1-0.4 0-0.5-0.6zM54.9 33.8l1.9 0.3 0.7 0.7 0.4 1 0 1.4-0.5 1-0.6 0.6-1 0.3-1 0.1-1.1-0.4-0.9-1-0.3-1 0.1-1 0.4-1 0.8-0.7zM46.4 34.8l0.8-0.5 1 0 1.2 0.9 0.3 1-0.1 1-0.8 1.2-1.6 0.2-1.2-0.8-0.3-1.6zM34.5 35.2l0.7 0.3 0.4 0.7-0.2 1-0.6 0.6-0.6-0.1-0.6-0.9 0.1-1zM39.8 35.2l1-0.4 1.1 0.4 0.5 1.6-0.6 1.1-1 0.3-1-0.6-0.4-1.4zM28.1 36.2l0.7-0.1 0 0.8-0.6 0zM62.3 41.8l0.9-0.4 1.6-0.1 2 0.5 1.1 1.4 0.1 1-0.4 1-1.2 1-1.6 0.5-1.6-0.1-1.4-0.7-0.9-1.1-0.1-1 0.4-1.2zM54.2 42.2l1.6-0.1 1.2 0.7 0.4 1.4-0.6 1.3-1.6 0.5-1-0.2-0.7-0.6-0.4-1.4 0.4-1zM47.2 42.8l1 0 0.6 0.4 0.2 1-0.8 1.1-1 0-0.7-0.5-0.2-1 0.3-0.6zM40.5 43.8l0.3-0.3 0.4 0.1 0.1 0.6-0.5 0.3-0.4-0.3zM63.3 48.8l1.9-0.1 1.6 0.8 0.5 1.3-0.5 1.3-1 0.6-1.6 0.2-1-0.1-1.2-0.6-0.7-1 0.1-1 0.7-1zM54.1 49.8l1.1-0.4 1.1 0.4 0.5 1-0.4 1-1.2 0.4-1.2-0.4-0.4-1zM62.5 55.8l1.7-0.5 1.6 0.3 0.8 0.6 0.2 0.6-0.1 1-0.5 0.5-1 0.5-1.4 0.1-1-0.3-0.6-0.4-0.6-1 0.3-1zM54.8 56.2l1 0.1 0.4 0.4 0.1 0.5-0.3 0.6-0.8 0.2-1-0.5 0-0.7zM64.2 61.8l1 0.1 1.1 0.9-0.1 0.9-0.5 0.5-0.9 0.4-1 0-1-0.3-0.6-0.5-0.1-1 0.4-0.6zM63.7 68.2l1.1 0.1 0.8 0.5 0.2 0.4-0.1 0.6-0.9 0.5-1.6-0.1-0.5-0.4-0.2-0.6 0.3-0.5zM63.6 74.8l1.2 0 0.5 0.4-0.1 0.6-1 0.4-1-0.3-0.2-0.7zM75.2 91.2l1.6-0.2 3.4 1.1 1.6 1.1 0 1-0.7 1-8.6 0-0.5-1.4 0.3-1 0.9-0.8z"/><path fill="#2d4085" d="M73.6 0.8l3.2-0.3 3.4 0.5 2.6 1 3 1.9 2.3 2.3 1.5 2.6 1 2.4 0.5 3.6-0.3 3.4-1.9 5.6-0.1 3-0.4 1.4-1 1.6-3.6 2.4-0.2 0.6 2.5 2.4 0.3 1.6-1 1.4-3.3 2-0.2 0.6 2.7 2 0.4 0.4 0.1 1-0.9 1.3-2.9 1.7-0.3 0.6 2.8 1.9 0.4 1.1-0.4 1-3.2 1.9-0.2 0.5 2.8 1.9 0.5 1.1-0.9 1.3-3.2 1.7 3.1 2.1 0.5 0.9-0.4 0.9-0.9 0.7-3.4 1.4 0.5 0.6 3.1 1.4 0.4 0.6 0.1 1-0.8 0.8-1 0.5-3.6 1.2 0.5 0.5 2.5 0.8 1.4 0.6 0.5 0.6 0.2 1-0.3 0.4-1.2 0.8-4 1.1-1.6-0.1-2-0.7-0.8-0.5-0.6-1 0.1-1 0.3-0.6 1-0.7 1.9-0.7 0.5-0.6-2.8-1-1.2-1.4 0.3-1.6 0.9-0.8 1.2-0.6 0.3-0.6-2.4-1.4-0.7-1.6 0.6-1.4 1.6-1.6-1.8-1.4-0.7-1.6 0.5-1.4 1.4-1.6-0.2-0.4-1.5-1.6-0.4-1 0.2-1.4 1.4-2-0.2-0.6-1.3-1.4-0.5-1 0.1-2 1.2-2-0.1-0.6-1.2-1.4-0.4-1-0.3-2 0.6-3-0.9-1.6-1.1-0.4-2.4 0.8-2 0-1.6-0.4-1-0.7-0.8-1.3-0.4-2 0.3-2 0.9-2-0.6-1-1.4-1-0.4-0.1-2.6 0.7-1.4 0-1.6-0.5-2-1.7-0.4 0.1-1.6 1.2-2 0.3-1.4-0.6-1.6-1.6-0.4 0.1-1.6 1.4-1.4 0.4-1.6-0.6-1.4-1.8-0.6 0.2-1.4 1.6-1.6 0.3-1-0.5-1.4-2.1-0.6-0.2-1.4 2.1-1.6 0.4-1-0.4-0.4-0.6-1.6-2.8-1.3 2.7-0.7 0.6-1 0.2-1-0.4-0.6-0.8-0.6-1.6-0.4-2 0.9-4 0.7-1.4 1-0.7 1 0.4 0.6 0.6 1.4 3.7 1.8-4 1.2-1.3 1 0.3 0.6 0.6 1.4 2.9 0.6-0.2 1.4-3.2 1-0.9 1 0.2 0.6 0.4 1.4 2.7 0.6 0.2 1.4-2.8 1-1.1 1-0.1 0.6 0.3 2 3 0.4 0.1 2-3.4 0.6-0.5 1-0.4 1.2 0.6 1.8 2.6 0.4 0.2 2-3.3 1.6-1.2 1.4 0.1 1 0.8 1.6 1.7 0.4 0 2.4-3.3 1.6-1.4 1.6-0.5 3-0.2zM15.5 9.8l0.7-0.4 0.6 0.1 0.7 0.7 0.8 2 0.6 2.6-0.2 2-0.5 1.4-1 1.3-1 0.3-1-0.4-0.5-0.6-0.6-1.6-0.3-1.4 0.3-3 0.7-1.9zM3.8 10.2l1 0.3 0.4 0.7 0.7 1.6 0.3 2-0.1 1.4-0.4 1.6-0.6 1-0.9 0.5-1-0.3-0.4-0.6-0.8-2.6 0-1.6 0.5-2 0.7-1.4zM9.5 10.2l0.7-0.3 1 0.8 0.8 1.5 0.5 2.6-0.1 1.4-0.6 2-0.6 0.8-1 0.5-1-0.4-0.4-0.6-0.8-2.7 0-1.6 0.4-2zM-2.9 11.2l0.7-0.4 0.4 0 0.6 0.4 0.5 1 0.5 2 0 1.6-0.2 1.4-0.5 1-0.9 0.7-1-0.2-1-1 0-5.2zM54.1 24.2l1.1-0.3 1 0.2 1 0.6 0.7 1.1 0.3 1.4-0.2 1.6-0.8 1.2-1 0.7-1.4 0.1-1-0.3-0.8-0.7-0.5-1 0-2.6 0.7-1.3zM47.2 24.8l1-0.1 0.9 0.5 0.5 1 0.2 1-0.1 1.6-0.5 0.7-0.4 0.5-1 0.3-1-0.2-0.6-0.4-0.5-0.9-0.2-1 0.5-2zM40.6 25.2l1.2 0.3 0.5 0.7 0.2 1 0 1-0.5 1-0.6 0.6-0.6 0.1-1.1-0.7-0.5-1.4 0.3-1.6 0.3-0.4zM34.2 25.8l0.6-0.1 0.4 0.2 0.7 1.3-0.3 1.6-0.8 0.7-1-0.5-0.5-1.2 0.1-1zM28.2 26.2l0.6 0.1 0.6 0.9-0.1 1-0.5 0.7-0.6 0-0.5-0.7 0-1.4zM62.8 33.8l2.4-0.3 1.6 0.6 0.7 0.7 0.4 1 0 1-0.3 1-0.8 0.9-1.6 0.6-1.4 0-1.6-0.4-0.8-0.7-0.5-1 0-1.4 0.9-1.5zM53.8 34.8l1.4-0.5 1.6 0.6 0.6 1.3-0.1 1-0.5 0.9-1 0.5-1 0-1.4-0.8-0.4-1.6 0.4-1zM46.8 35.2l1-0.3 0.7 0.3 0.4 0.6 0 1.4-0.7 0.7-1 0.1-0.8-0.8-0.2-1zM40.6 35.8l0.6 0 0.3 0.4-0.3 1-0.4 0.1-0.6-0.4 0-0.7zM62.5 42.2l1.7-0.4 1.8 0.4 1 1 0 1.6-0.8 0.8-1 0.5-1.4 0.1-1.4-0.4-0.9-1-0.1-1.1 0.4-0.8zM54.6 42.8l1.2-0.1 0.7 0.5 0.2 1-0.8 1-1.1 0.2-0.9-0.6-0.2-1 0.2-0.6zM63.6 49.2l1.2 0 1.2 0.6 0.5 1-0.4 1-0.9 0.5-1 0.1-1-0.1-0.9-0.6-0.3-0.5 0-1 0.8-0.7zM54.6 50.8l0.6-0.5 0.6 0.5-0.6 0.5-0.5-0.2zM62.8 56.3l0.9-0.4 1.1 0 1 0.6 0.2 0.7-0.2 0.6-0.9 0.4-1.7 0-0.6-0.4-0.3-0.6zM63.1 62.8l0.7-0.4 1 0.1 0.4 0.3 0.2 0.4-0.6 0.7-1 0.1-0.6-0.2-0.3-0.6zM74.9 79.2l1.9-0.2 2.4 0.6 2.3 1.2 0.3 1-1 1-2.6 0.9-2 0.2-2.4-0.5-1.5-1.2-0.2-1 0.7-1zM74.2 85.8l2-0.4 2.6 0.3 2.3 1.1 0.5 1-0.9 1-1.9 0.7-2.6 0.3-2-0.3-1.4-0.7-0.5-1 0.5-1.2zM76 91.8l1.8 0 2 0.6 1 0.8 0.1 1-0.9 1-6.7 0-0.7-1.4 0.5-1 1.1-0.7z"/><path fill="#2e4288" d="M74.3 1.8l2.5-0.2 3 0.4 3 1.2 2.4 1.7 1.8 1.9 1.6 2.4 1 2.6 0.4 3-0.4 4-1.9 4.9 0 3.1-0.3 1.4-0.6 1-1 1-3.6 2-0.2 0.6 3.1 2.4 0.4 1.6-1.1 1.4-3.9 2-0.2 0.6 3.3 2 0.5 0.4 0.1 1-0.4 0.9-0.8 0.7-3.4 1.4-0.5 0.6 3.1 1.5 1 0.9 0.2 0.6-0.5 1-0.6 0.4-3.6 1.6-0.4 0.4 3.5 1.6 0.7 0.4 0.4 1-0.7 0.9-1 0.7-4.4 1.4-1.6-0.2-2.4-1-0.9-0.8-0.4-1 0.5-1.4 2.5-1.6-0.3-0.4-2-1.1-1-1.5 0.1-1 0.5-0.9 2-1.5-0.3-0.6-2.1-1.4-0.6-1.6 0.1-1 0.3-0.8 1.7-1.6-0.1-0.6-1.8-1.4-0.7-1.6 0-2 1.2-2.4-0.1-0.6-2.6-2.8-2 1.3-1.6 0.5-2-0.1-1.6-0.9-0.9-1.4-0.2-1.6 0.4-2 1.6-2 0-0.4-0.5-0.6-2.8-2.4-0.4 0-1.6 1.1-1 0.3-1 0.1-1.4-0.3-1.1-0.8-1.5-2.1-0.4 0.3-1 1.4-1 0.8-1 0.2-1-0.2-1.2-0.8-1.4-2.5-0.4 0.2-0.7 1.3-0.9 1.1-1 0.5-1-0.1-1.2-1.1-1.2-2.9-0.6 0.6-1 2.3-1 0.8-1 0.1-1-0.6-0.5-0.7-0.9-3 0.1-2 0.7-2.6 0.8-1.4 0.8-0.9 1 0.2 0.6 0.5 0.8 1.6 0.6 2.3 0.6 0.6 1.4-4.3 0.6-0.8 1-0.6 1 0.3 0.4 0.6 1.6 3.5 0.4 0.2 1.9-4.2 0.7-0.9 1-0.3 1 0.4 0.4 0.6 1.6 3 0.4 0.3 2-4.1 1.6-1.4 1 0 1 0.6 2 2.7 0.4 0.2 2.1-3.7 1.9-1.7 1.6-0.5 3-0.1 4-1.5zM27.7 9.8l0.5-0.4 0.6 0 0.9 0.8 0.8 2 0.6 2.5-0.1 1.5-0.6 2-0.7 1-0.9 0.6-1.1-0.2-0.8-0.8-0.5-1-0.4-2 0.5-3.6zM16.2 10.2l0.6 0.2 0.9 1.4 0.4 1.5 0.2 1.9-0.5 2.9-0.6 0.7-1 0.5-0.9-0.5-0.5-0.9-0.6-2.7 0.2-2 0.5-1.4 0.6-1zM21.7 10.2l0.5-0.3 0.6 0.1 0.7 0.8 0.6 1.4 0.5 2.6-0.1 2-0.5 1.4-0.8 1-1 0.3-1-0.6-0.4-0.7-0.6-2.4 0.3-3 0.5-1.6zM3.6 11.2l0.6-0.1 0.8 0.7 0.6 1.4 0.2 1.6-0.3 2.4-0.6 1-0.7 0.5-0.4-0.1-0.9-0.8-0.5-2.1 0.3-2.9zM9.5 11.2l0.7-0.4 0.6 0.2 0.7 1.2 0.5 2-0.3 3-0.5 1-1 0.7-0.4-0.1-0.7-0.6-0.7-2 0.2-3zM-2.3 11.8l0.5 0 0.6 0.5 0.4 1.3 0.2 1.6-0.2 1.5-0.4 1.1-0.5 0.4-0.5 0-1-0.9-0.6-1.3 0.2-2.2 0.7-1.6zM54.3 24.8l0.9-0.3 1 0.2 0.8 0.5 0.5 1 0.2 1.6-0.2 1-0.7 1.1-1 0.5-1.6-0.2-0.7-0.4-0.5-1.1-0.2-1.5 0.2-1 0.6-1zM46.6 25.8l0.6-0.4 1 0 0.6 0.4 0.4 0.8 0 1.9-0.3 0.7-0.7 0.5-1 0.1-1-1-0.2-1.6zM40.2 26.2l0.6-0.2 0.4 0 0.7 0.8 0 1.4-0.7 1-0.4 0-0.6-0.2-0.4-0.8-0.1-1zM34.2 26.8l0.6-0.2 0.5 0.6-0.1 0.7-0.4 0.7-0.6-0.1-0.3-0.7zM62.7 34.2l2.1-0.2 1 0.2 0.8 0.6 0.6 1 0.1 1-0.9 1.4-1.2 0.6-1.4 0.2-1-0.3-1-0.7-0.6-1.2 0.1-1 0.7-1zM54 35.2l1.3-0.4 1.1 0.4 0.4 0.6 0.1 1-0.5 1-1.2 0.4-1.1-0.4-0.6-1 0.2-1zM47.7 35.8l0.6 0.4-0.1 0.7-0.4 0.4-0.8-0.5 0-0.6zM62.6 42.8l1.6-0.5 1.6 0.4 0.7 1.1-0.2 1-0.5 0.5-1 0.4-1 0-1-0.3-0.9-1.2 0.2-1zM54.6 43.8l0.6-0.4 0.6 0.4 0 0.4-0.6 0.4-0.4-0.1zM63.7 49.8l1.5 0.2 0.5 0.8-0.1 0.4-0.8 0.6-1.6 0-0.5-0.6-0.1-0.4 0.2-0.6zM63.4 56.8l0.8-0.2 0.6 0.1 0.2 0.5-0.8 0.5-0.4-0.1-0.6-0.4zM74.7 60.8l1.1-0.4 1-0.1 3.4 1.1 1.6 0.8 0.4 0.6 0 1-1.4 1-2.6 0.8-2 0.2-2.4-0.5-1.7-1.1-0.2-0.4-0.1-1 1-1.2zM74.4 67.2l2.4-0.3 3 0.7 1.8 1.2 0.1 1-1.3 1-2.2 0.7-2 0.1-2-0.3-1.4-0.7-0.6-0.8-0.1-0.6 0.7-1.1zM76.2 73.2l2 0.2 2 0.7 1.1 0.7 0.3 0.4-0.1 0.6-0.4 0.4-1.3 0.8-3 0.6-2.6-0.3-1.6-1.1-0.3-1 0.6-1 1.3-0.7zM74.8 79.8l2-0.2 2.4 0.5 1.4 0.7 0.4 0.4 0 0.6-1.2 1-1.6 0.4-2 0.3-2-0.4-1.3-0.9-0.2-1 0.8-1zM74.1 86.2l2.1-0.4 2 0.2 1.9 0.8 0.5 0.4 0.1 0.6-0.9 0.9-1.6 0.5-2 0.2-1.4-0.2-1.2-0.4-0.7-1 0.3-1zM75.4 92.2l1.8 0 2 0.6 0.7 0.4 0.2 0.6-0.1 0.4-1.2 1-4.6 0-0.8-1 0-1 0.8-0.6z"/><path fill="#30458b" d="M73.2 2.8l2.6-0.4 3 0.2 2.4 0.8 2.6 1.3 2 1.7 1.7 2.4 1.1 2.4 0.6 3-0.3 4-2.1 5.6 0.1 3-0.3 1.4-0.6 1-1.2 1-4 2-0.2 0.6 2.6 1.5 1.1 0.9 0.5 1-0.2 1-1.8 1.6-4.1 1.4-0.3 0.6 3.8 1.6 1.1 0.8 0.2 1-0.7 1-1.6 1-2.4 0.8-2 0.3-2-0.2-1.6-0.5-1.3-0.8-0.6-1-0.1-1 0.6-1.3 1-0.9 1.8-0.8-0.3-0.6-2.5-1.3-1.1-1.7 0.1-2 0.5-1 1.4-1.4-0.2-0.6-1.8-1.4-1.5-2.3-0.4-0.5-0.6 0.3-1.4 1.8-1 0.6-2 0.2-1.7-0.7-1.1-1.4-0.2-1 0.2-1.6 0.8-1.4 2-1.6 0-0.4-2.9-2-1.7-2.3-0.4 0.1-0.9 1.2-1.1 0.8-1.6 0.3-1.4-0.4-1.3-1.3-1.2-3.4 0.1-2 1.1-3.6 0.7-1.6 1-1.1 1-0.4 1 0.3 1.3 1.4 1.3 2.5 0.4 0.2 1.8-3.7 1.8-2.2 1.4-0.7 3.9-0.1zM46.8 8.8l0.4-0.4 1 0.1 1 1 0.9 1.7 1.1 4-0.8 2.6-0.7 1.4-0.9 0.9-1 0.2-1-0.2-1.1-0.9-0.7-1.4-0.4-2 0.1-1.6 0.5-2.4 0.8-2zM40.6 9.2l0.6 0 0.6 0.4 0.7 1.2 0.7 2 0.3 2.4-0.1 1.6-0.8 2-0.8 0.9-1 0.2-1-0.4-0.7-0.7-0.6-1.6-0.2-1.9 0.2-2.1 0.6-2 0.7-1.3zM34.2 9.8l0.6-0.2 1 0.9 0.7 1.7 0.4 2.6-0.1 1.4-0.5 2-0.5 0.9-1 0.5-1-0.2-0.6-0.6-0.7-1.6-0.2-1.4 0.1-2 0.5-2 0.7-1.6zM28.1 10.2l0.7 0 0.9 1 0.5 1.6 0.3 2-0.4 3-0.6 1-0.7 0.5-1-0.2-0.6-0.6-0.5-1.3-0.3-1.4 0.5-3.6 0.7-1.4zM15.8 11.2l0.4-0.2 0.6 0.2 0.4 0.7 0.8 2.9-0.1 1.4-0.4 1.6-0.7 0.8-0.6 0.1-1-0.7-0.6-2.2 0.2-2.6 0.4-1.2zM21.6 11.2l0.6-0.4 0.6 0 0.4 0.5 0.7 1.5 0.2 1.5 0 1.9-0.3 1.5-0.6 0.8-1 0.4-0.9-0.7-0.7-2.4 0.2-2.6zM10 11.8l0.2-0.1 0.7 0.5 0.7 2.6-0.3 2.4-0.5 0.8-0.6 0.2-0.4-0.1-0.6-0.5-0.5-2.4 0.5-2.4zM3.6 12.2l0.6-0.2 0.6 0.4 0.5 1.8-0.1 2.6-0.4 0.9-0.6 0.3-0.4-0.1-0.6-0.5-0.4-1.6 0.1-2zM-2.7 13.2l0.5-0.4 0.4 0 0.6 1 0.2 2-0.2 0.9-0.6 0.6-0.6-0.1-0.7-1-0.1-1.4zM54.4 25.2l0.8-0.2 1 0.3 0.6 0.5 0.4 1-0.1 1.9-0.3 0.6-1 0.7-1.6-0.2-0.6-0.6-0.4-0.8 0-1.7 0.5-0.9zM46.9 26.2l0.9-0.3 0.4 0.2 0.6 0.7 0.1 1-0.1 0.7-0.6 0.6-0.4 0.2-1-0.5-0.3-0.6-0.1-1zM40.5 27.2l0.3-0.2 0.5 0.2-0.1 0.8-0.4 0.3-0.4-0.5zM62.6 34.8l1.6-0.5 1.6 0.5 0.6 0.4 0.4 1-0.5 1.6-1.1 0.6-1 0.2-1-0.1-1-0.5-0.4-0.8-0.2-1 0.4-1zM54.3 35.8l0.9-0.4 0.8 0.4 0.3 0.4-0.2 1-0.9 0.4-0.8-0.4-0.3-0.4zM63.8 42.8l1 0 1 0.8 0 0.6-0.6 0.8-1.4 0.3-1.1-0.5-0.3-1 0.3-0.6zM74.7 48.2l2.1-0.2 3.4 0.8 2 1.3 0.4 0.7-0.1 0.4-0.4 0.6-1.3 0.8-3 0.8-2 0.1-2-0.4-1-0.5-0.9-0.8-0.1-1.6 1-1.1zM75.6 54.8l2.2 0 2.4 0.7 1.4 0.7 0.5 1-0.3 0.6-1 0.7-3 0.9-2.6 0-1.4-0.4-1-0.5-0.8-1.3 0.2-1 1.6-1zM74.7 61.2l2.1-0.2 2.4 0.5 1.7 0.7 0.7 1-0.8 1-2 0.9-2.6 0.3-2-0.3-1.4-0.9-0.5-1 0.5-1zM74.2 67.8l2-0.4 2.6 0.3 2 1.1 0.2 0.4-0.1 0.6-1.1 0.8-1.6 0.5-2 0.1-2-0.3-1.1-0.7-0.5-1 0.6-1zM75.1 73.8l2.1-0.1 2 0.4 1.2 0.7 0.4 0.4-0.1 0.6-0.9 0.7-2 0.6-2 0.1-1.6-0.3-1-0.7-0.3-1 0.8-1zM74.5 80.2l1.7-0.2 2 0.2 1.4 0.6 0.5 0.4 0 0.6-0.9 0.7-1.4 0.5-1.6 0.1-1.4-0.2-1-0.5-0.5-0.6 0.3-1zM75.6 86.2l1.6 0 1.6 0.4 1 0.6 0.1 0.6-0.4 0.4-0.7 0.4-1.6 0.4-2-0.1-1.4-0.7-0.3-0.4 0.3-0.7 0.4-0.4zM75.2 92.8l2.6-0.1 1.1 0.5 0.2 0.6-0.2 0.4-1.1 0.8-2 0.2-1.1-0.4-0.6-1 0.2-0.6z"/><path fill="#31478d" d="M73.7 3.2l2.5-0.2 3 0.3 2 0.7 2.6 1.5 1.9 1.7 1.4 2 1 2.6 0.5 2.4 0 2.6-0.4 2-2.1 5 0.1 3-0.3 1.4-0.6 1-1.2 1-4.8 2-0.3 0.6 2.8 1.1 1.4 1 0.9 1.3-0.2 1-1 1-1.1 0.7-4.6 1.1-1.4 0.1-2-0.5-1.6-0.7-0.6-0.7-0.6-1.4 0.2-1.6 1-1.3 1.9-1.1-0.3-0.6-2-1-1-1-1.6-3-0.4-0.5-0.6 0-1.1 2.6-1.3 1-1 0.3-1.6-0.2-1.4-1-0.6-1.6 0.4-2 1.2-1.3 1.9-0.7 0.5-0.6-0.2-0.4-0.7-0.6-2.1-0.9-1.3-1.1-0.9-1.4-0.8-2-0.4 0.4-0.7 1.6-0.8 1-1.1 0.6-1 0.2-1.4-0.5-0.9-0.9-0.5-1-0.5-2 0-2.4 0.6-2.6 0.8-1.8 0.9-1.2 0.6-0.3 1 0 1 0.7 1.2 2.2 0.8 2.2 0.4 0.5 1.7-4.7 0.9-1.5 1-1 2-0.8 3 0.1 4-1.8zM47.1 9.2l0.7-0.1 0.4 0.1 1 1 0.8 2 0.4 2.6-0.1 1.4-0.5 2-1.1 1.4-0.9 0.3-1-0.2-1-0.9-0.4-1-0.4-2 0.1-2 0.4-2 0.7-1.7zM40.1 10.2l0.7-0.3 0.4 0.1 0.8 0.8 0.6 1.4 0.5 2.6-0.1 2-0.5 1.4-0.7 1-1 0.3-1-0.6-0.5-0.7-0.6-2.4 0.3-3 0.5-1.6zM33.9 10.8l0.9-0.4 0.5 0.4 0.8 1.4 0.4 2 0 2-0.4 1.6-0.6 1-0.7 0.3-1-0.3-0.5-0.6-0.6-2 0.1-3 0.4-1.4zM27.9 11.2l0.3-0.3 0.6 0.1 0.4 0.4 0.7 1.4 0.2 1.5-0.2 2.9-0.5 1-0.6 0.6-0.6 0-0.7-0.6-0.7-2 0.2-3zM22 11.8l0.8-0.1 0.4 0.6 0.6 2.5-0.3 2.4-0.7 1-0.6 0.1-0.4-0.2-0.6-0.8-0.3-2.1 0.3-2.3zM15.7 12.2l0.5-0.3 0.6 0.2 0.4 0.9 0.4 1.8-0.3 2.4-0.5 0.7-0.6 0.2-0.4-0.2-0.5-0.7-0.4-1.4 0.2-2zM9.9 12.8l0.3-0.2 0.6 0.4 0.4 1.8-0.2 2-0.8 0.7-0.5-0.3-0.6-1.4 0.1-1.9zM3.6 13.2l0.6-0.3 0.7 1.3 0 2-0.7 1-0.4-0.1-0.6-1.3 0-1.6zM-2.3 14.2l0.5 0.2 0.2 0.8-0.2 0.8-0.4 0.1-0.3-0.9zM54.4 25.8l1.4-0.2 0.4 0.3 0.6 0.9 0.1 1-0.1 0.8-1 1-1 0-0.6-0.3-0.6-1.1 0-1.4zM47.5 26.8l0.4 0 0.4 0.4-0.1 0.9-0.4 0.5-0.6-0.2-0.2-0.6 0-0.6zM63.6 34.8l1.6 0.1 0.9 0.9 0.2 1-0.2 0.4-0.9 0.8-1 0.3-1-0.2-1-0.9 0-1.4 0.6-0.7zM75.1 41.2l2.1-0.1 3.6 0.9 1.8 1.2 0.2 1-1 1.3-2.6 1-3 0.3-2.4-0.4-1.8-1.2-0.4-1.4 0.4-1 0.8-0.7zM63.2 43.8l1-0.5 0.8 0.5 0.1 0.4-0.7 0.6-0.6 0-0.7-0.6zM74.4 48.8l2.4-0.3 3 0.6 1.9 1.1 0 1-1.2 1-2.3 0.8-2 0.1-2-0.3-1.4-0.7-0.7-1.3 0.7-1.2zM74.8 55.2l2-0.1 2.4 0.4 1.6 0.7 0.5 0.6 0.1 0.4-1 1-1.6 0.7-2.6 0.2-2-0.3-1.4-0.9-0.3-1.1 0.7-0.9zM74.3 61.7l1.9-0.3 2 0.2 1.9 0.6 0.6 0.6 0.1 0.4-0.2 0.6-0.6 0.4-1.2 0.5-2 0.3-2-0.2-1.4-0.6-0.6-1 0.4-0.9zM74 68.2l1.8-0.4 2 0.1 1.4 0.4 0.8 0.5 0.2 0.5-0.1 0.5-1.3 0.7-2 0.4-1.6-0.1-1.4-0.6-0.5-0.4 0.1-1zM74.6 74.2l1.6-0.2 2.2 0.2 1.2 0.6 0.4 0.4-0.1 0.6-0.7 0.5-1.4 0.5-1.6 0.1-1.4-0.3-1-0.5-0.4-0.9 0.3-0.4zM74.5 80.8l1.7-0.5 1.6 0.2 1.4 0.7 0 0.6-0.5 0.4-0.9 0.4-2.6 0-0.8-0.4-0.4-0.4 0-0.6zM75.2 86.8l1-0.2 1.6 0.2 1 0.4 0.1 0.6-0.5 0.4-1.2 0.4-2-0.1-1-0.7 0.2-0.6zM75.6 93.2l1.6 0 0.7 0.6-0.7 0.6-1.4 0-0.7-0.6z"/><path fill="#334a90" d="M73.7 3.8l2.5-0.3 2.6 0.2 2.4 0.8 2 1.2 1.8 1.5 1.5 2 0.9 2 0.6 2.6 0.1 2.4-0.5 2.6-2.2 5 0.3 3.4-0.6 1.6-0.9 1-2 1.1-4.4 1.3-3-0.1-2-0.7-1-0.6-1.3-1.6-1.3-3.1-0.4-0.6-1-0.4-0.7 3.1-0.9 1.4-1 0.5-1 0.2-1-0.2-1-0.5-0.5-0.8-0.3-1 0.1-1 0.4-1 1.3-1.1 3.1-0.5 0.4-0.4-0.6-1-0.7-0.6-2.6-1-1.5-1-0.9-1.4-0.6-2-0.1-2 0.3-2.6 1-3 1.3-2 0.9-0.7 1-0.4 3.6 0.1 4-1.9zM54.3 8.8l0.5-0.3 1-0.1 1 0.8 1.2 2.6 0.5 2.4 0 2-0.6 2-1.1 1.6-1 0.4-1.6-0.1-1-0.8-0.7-1.5-0.3-1.6 0-2 0.4-2.4 0.6-1.7zM47.5 9.8l0.8 0.1 0.9 1.3 0.9 3.6-0.2 2-0.5 1.4-0.6 1-1 0.3-1-0.2-0.9-1.1-0.5-1.4-0.1-1.6 0.6-3.4 0.9-1.6zM40.4 10.8l0.8-0.1 0.6 0.5 0.6 1.6 0.4 2-0.1 1.4-0.4 1.6-0.5 0.8-1 0.4-1.1-0.8-0.5-1-0.2-1.4 0.3-3 0.5-1.3zM34.2 11.2l0.6-0.1 0.6 0.7 0.6 1.4 0.2 1.6-0.3 2.4-0.5 1-0.6 0.5-0.6-0.1-0.8-0.8-0.5-2.1 0.3-2.9zM28.2 11.8l0.6-0.1 0.4 0.6 0.7 2.5-0.2 2-0.5 1-0.4 0.4-0.6 0-0.5-0.4-0.6-2 0.2-2.5 0.5-1.1zM21.9 12.8l0.3-0.4 0.6 0.2 0.4 0.9 0.3 1.3-0.3 2-0.4 0.8-0.6 0.1-0.5-0.5-0.5-1.4 0.1-1.6zM15.7 13.2l0.5-0.4 0.6 0.3 0.4 1.6-0.2 2.1-0.8 0.6-0.4-0.3-0.5-1.3 0-1zM9.7 14.2l0.5-0.4 0.5 1 0 1-0.5 0.7-0.5-0.7zM3.7 14.8l0.5-0.3 0 1.4-0.4-0.3zM54.5 26.2l0.7-0.2 0.6 0.1 0.6 0.7 0 1.4-0.6 0.9-1 0-0.8-0.9-0.1-1zM74.4 33.2l1.4-0.3 1.4 0 3.6 1 2.3 1.3 0.3 0.6 0.2 1-0.7 1-0.6 0.4-3.1 1.2-3.4 0.3-2.6-0.6-1-0.6-0.6-0.7-0.3-1 0.1-1 0.9-1.6zM63.3 35.2l0.9-0.1 1 0.3 0.6 0.8-0.2 1-1.4 0.7-0.9-0.1-0.5-0.5-0.3-1.1zM74.3 41.8l2.5-0.3 3 0.5 2 1.1 0.4 0.7 0 0.4-1 1.1-2.4 1-2.6 0.2-2.4-0.4-1.3-0.9-0.4-0.4-0.1-1 0.8-1.3zM74 49.2l2.2-0.4 2.6 0.3 1.4 0.6 0.8 0.5 0.2 0.6-0.1 0.4-1.3 1-1.6 0.4-2 0.2-2-0.3-1.2-0.7-0.4-1 0.5-1zM74.2 55.8l2-0.4 2 0.2 1.8 0.6 0.6 0.6 0.1 0.4-0.9 0.9-1.6 0.6-2 0.1-1.4-0.1-1.1-0.5-0.8-1 0.5-1zM76.1 61.8l3 0.4 0.8 0.6 0.2 0.4-0.3 0.6-0.8 0.4-2.2 0.5-2-0.2-1.3-0.7-0.2-0.6 0.5-0.7 1-0.5zM75.1 68.2l2.7 0 1.3 0.6 0.3 0.4-0.1 0.6-1.1 0.5-1.4 0.3-1.6-0.2-1-0.4-0.4-0.8 0.3-0.4zM74.5 74.8l1.3-0.4 1.4 0 1.4 0.4 0.5 0.4-0.1 0.6-0.7 0.4-2.5 0.3-1-0.3-0.6-0.4-0.1-0.6zM74.9 81.2l0.9-0.3 1-0.1 1.3 0.4 0.1 0.6-1 0.4-1.3 0-1-0.4zM75.6 87.2l1.6 0 0.5 0.6-1.5 0.3-0.9-0.3z"/><path fill="#354c92" d="M73.4 4.2l2.4-0.3 2 0.1 2.4 0.6 2 0.9 2 1.6 1.5 1.7 1.1 2 0.6 2 0.3 2-0.1 2.4-0.7 2.6-2 4 0.3 3-0.3 1.4-0.7 1-1.3 1-3.7 1.3-3.4 0.3-2-0.3-1.6-0.7-1.4-1.6-1.6-4-2.9-3-3.5-1.3-1-0.6-0.9-1.1-0.7-2-0.2-2.4 0.4-3 0.8-2.4 1.2-1.6 0.8-0.8 1-0.4 3.6 0.2 3.4-1.8zM54.3 9.2l0.9-0.3 0.6 0.1 0.9 0.8 0.8 1.4 0.6 2.6 0.1 2-0.4 2-0.9 1.4-1.1 0.7-1 0-1.2-0.7-0.7-1-0.5-2 0.1-2.4 0.4-2 0.6-1.6zM46.8 10.8l1-0.5 1 0.7 0.5 1.2 0.4 2 0 2-0.4 1.6-0.5 0.9-1 0.5-1-0.4-0.6-0.5-0.6-2.1 0.2-3 0.4-1.4zM40.1 11.8l0.7-0.5 0.8 0.5 0.5 1 0.3 1.4 0.1 1.6-0.3 1.4-0.7 1-0.7 0.3-1.1-0.8-0.5-1.9 0.3-2.6zM33.9 12.2l0.3-0.3 0.6-0.1 0.4 0.5 0.7 1.9-0.1 2.6-0.6 1-0.4 0.3-0.6 0-0.4-0.5-0.5-1.4 0-2zM28.1 12.8l0.7-0.2 0.4 0.7 0.3 0.9 0 2-0.7 1.4-0.6 0-0.4-0.5-0.4-1.3 0.2-2zM22 13.8l0.2-0.3 0.6 0.2 0.3 1.5-0.3 1.4-0.6 0.2-0.4-0.7-0.2-0.9zM16 14.2l0.2-0.3 0.6 0.9-0.1 1-0.5 0.6-0.4-0.9zM63 25.2l1.2-0.4 1 0 1 0.4 0.5 0.6 0.2 1 0 1-0.4 1-0.7 0.7-1 0.5-1 0-1-0.4-0.8-0.8-0.3-1 0.1-1 0.4-0.9zM54.7 26.8l0.5-0.2 0.6 0.2 0.2 0.4-0.1 1-0.6 0.5-0.5-0.2-0.5-0.7zM73.9 33.8l2.9-0.5 3.4 0.7 2.3 1.2 0.4 0.6 0.2 1-0.7 1-0.6 0.4-2.6 0.9-3 0.4-2.4-0.5-1-0.4-0.9-0.8-0.3-1.6 0.6-1.4zM63.4 35.8l1.4-0.1 0.5 0.5 0 0.6-0.4 0.4-0.7 0.3-0.9-0.3-0.3-0.4 0-0.6zM73.8 42.2l2.4-0.4 2.6 0.2 2 0.8 0.5 0.4 0.3 1-0.9 1-1.5 0.7-2.4 0.4-2-0.2-1.9-0.9-0.6-1 0.2-1zM75.1 49.2l2.1 0 2 0.4 1.1 0.6 0.2 0.6-0.1 0.4-1.2 0.8-1.4 0.4-2 0.1-1.6-0.3-0.7-0.4-0.5-1 0.7-1zM75.6 55.8l1.6-0.1 1.6 0.4 1 0.7 0.2 0.4-0.8 0.7-2 0.6-2 0-1.5-0.7-0.3-0.6 0.4-0.7zM75 62.2l1.2-0.1 1.6 0.1 1.2 0.6 0.3 0.4-0.3 0.6-1.2 0.4-2.6 0.1-1-0.5-0.3-0.6 0.2-0.4zM75.1 68.8l2.1-0.2 0.7 0.2 0.6 0.4-0.3 0.5-0.4 0.3-2 0.1-1-0.4-0.2-0.5zM76 74.8l1.8 0.2 0.3 0.2-0.1 0.6-1.8 0.3-1.1-0.3-0.1-0.6z"/><path fill="#364f94" d="M73 4.8l2.2-0.5 2.6 0 2 0.5 2 0.9 1.5 1.1 1.5 1.4 1.3 2 0.8 2 0.4 2.6-0.1 2.4-0.7 2.6-2.1 4 0.3 3-0.1 1-0.4 1-1.1 1-2.9 1.3-2.4 0.5-2 0-2-0.4-1.6-0.7-1.1-1.3-1.1-3.4-0.8-1.3-3-2.7-3-0.9-1.1-0.7-0.9-1-0.7-1.4-0.3-2.6 0.2-2.4 0.7-2.6 1.2-2 0.9-0.7 1-0.4 3.6 0.1zM54.4 9.8l0.8-0.4 0.6 0.1 0.8 0.7 0.8 1.6 0.5 2.4 0 2-0.6 2-1.1 1.2-1 0.3-1-0.3-0.7-0.6-0.5-1-0.4-2 0.4-3.6 0.6-1.4zM47 11.2l0.8-0.3 0.6 0.3 0.6 1 0.5 2-0.3 3-0.5 1-0.9 0.6-1.2-0.6-0.7-2 0.1-3zM40.3 12.2l0.5-0.2 0.6 0.2 0.5 1 0.3 1.6-0.4 2.4-0.6 0.7-0.4 0.1-0.9-0.8-0.4-1.4 0.2-2zM34.2 12.8l0.6-0.2 0.4 0.6 0.4 1.6-0.2 2-0.6 0.7-0.7-0.3-0.6-1.4 0.2-2zM28.1 13.8l0.1-0.3 0.6 0.1 0.3 1.2 0 1-0.3 0.9-0.6 0.1-0.4-1 0-1zM63.9 25.2l0.9 0 1 0.3 0.5 0.7 0.2 1-0.1 1-0.6 0.9-1.6 0.6-1.5-0.5-0.7-1.4 0.4-1.6 0.8-0.7zM74.9 33.8l2.3-0.2 3 0.7 1.8 0.9 0.4 0.6 0.2 1-0.8 1-2.6 1.1-3 0.3-2.4-0.4-1.6-1.1-0.3-0.9 0.1-1 0.8-1.2zM74.6 42.2l2.2-0.2 2.4 0.4 1.5 0.8 0.4 1-1 1-1.9 0.7-2 0.1-1.8-0.2-1.5-1-0.2-1 0.7-1zM74.5 49.8l1.7-0.4 1.6 0.1 1.4 0.6 0.7 0.7-0.2 0.4-1.5 0.8-1.4 0.3-1.6-0.1-1.1-0.4-0.5-0.6-0.1-0.4 0.2-0.6zM74.9 56.2l1.3-0.2 1.6 0.1 1.3 0.7 0.1 0.4-0.4 0.6-1 0.3-2.6 0-0.8-0.3-0.4-0.6 0.1-0.4zM75 62.8l1.2-0.4 1 0.1 0.8 0.3 0.4 0.4-0.6 0.6-2 0.2-0.7-0.2-0.4-0.6z"/><path fill="#375195" d="M74.4 4.8l2.4-0.2 2 0.3 2 0.6 2 1.2 1.4 1.4 1.3 1.7 0.9 2 0.5 2 0.1 2.4-0.5 2.6-2.6 5 0.4 3-0.3 1.4-0.7 1-1.5 1-2 0.8-2 0.3-3.6-0.1-2-1-1.1-1.4-0.9-3.3-0.7-1.3-2.7-2.6-3.6-1-1.3-0.8-1-1.6-0.4-2-0.1-2 0.5-2.4 0.7-2 1.2-1.5 1-0.7 1-0.2 3 0.3 4-2.1zM54.3 10.2l0.9-0.4 1 0.5 0.9 1.5 0.6 2.4 0 2-0.5 1.6-1 1.3-1 0.3-1-0.3-0.4-0.5-0.6-0.8-0.3-1.6 0.2-3.4 0.5-1.6zM47.1 11.8l0.7-0.3 0.4 0.2 0.7 1.1 0.3 1.6 0.1 1.4-0.4 1.4-0.7 1-0.4 0.2-0.6-0.1-0.5-0.5-0.6-2 0.1-2.4zM40.7 12.8l0.5 0.1 0.3 0.3 0.4 2-0.3 1.6-0.4 0.5-0.4 0.2-0.7-0.7-0.3-1.6 0.2-1.4zM34.2 13.8l0.6-0.2 0.4 1.1 0 1.1-0.4 1-0.6-0.2-0.3-0.8zM63.5 25.8l0.7-0.2 1 0.2 0.9 0.9-0.1 1.5-0.3 0.6-0.9 0.5-1.6-0.1-0.8-1 0.1-1.4zM73.9 34.2l2.3-0.4 3 0.4 2.3 1 0.4 0.6 0.2 1-0.7 1-2.2 0.9-2.4 0.4-2.6-0.3-1.4-0.9-0.7-1.1 0.4-1.6zM76 42.2l1.8 0.1 1.5 0.5 0.8 0.5 0.4 0.5 0 0.4-1.1 1-2.6 0.6-2-0.2-1.5-0.8-0.2-1 0.3-0.5 0.8-0.7zM75.7 49.8l1.5-0.1 1.5 0.5 0.4 0.6-0.1 0.4-1.8 0.7-2.2-0.1-0.8-0.6-0.1-0.4 0.3-0.6zM74.9 56.8l1.9-0.4 1.3 0.4 0.2 0.4-0.7 0.6-1.8 0.1-1.1-0.7z"/><path fill="#385497" d="M73.5 5.2l2.3-0.3 2 0.1 2 0.5 2 0.9 1.7 1.4 1.3 1.4 1.1 2 0.6 2 0.2 2.6-0.4 2.4-0.8 2-2 3.6 0.5 3-0.3 1.4-1.5 1.5-3 1.2-2 0.3-2 0-1.4-0.4-1.2-0.6-1.3-1.4-0.8-3.6-1-1.4-2.7-2.5-3-0.7-1.6-0.8-0.8-1-0.6-1.6-0.2-2.4 0.3-2.6 0.9-2.2 1-1.3 1-0.7 1-0.2 3 0.3 1.4-0.6 2-1.4zM54.3 10.8l0.9-0.5 1 0.5 0.8 1.4 0.5 2-0.1 2-0.4 1.6-0.7 0.9-1.1 0.4-1-0.3-0.4-0.6-0.7-2 0.1-3 0.5-1.4zM47.2 12.2l0.6-0.1 0.4 0.3 0.6 0.9 0.2 1.5-0.2 2.1-0.6 0.8-0.4 0.2-0.6-0.1-0.4-0.5-0.5-1.5 0.2-2zM40.6 13.8l0.6 0.1 0.3 1.3-0.3 1.2-0.4 0.3-0.6-0.7 0-0.8 0-0.7zM63.3 26.2l1.5-0.2 0.8 0.8 0.2 1-0.7 1-1.3 0.2-1-0.8-0.1-1zM74.6 34.2l2.6-0.2 2.6 0.6 1.7 1.2 0.2 1-0.8 1-2.1 0.8-2.6 0.3-2-0.4-1.3-0.7-0.3-0.6-0.2-1 0.8-1.3zM74.7 42.8l1.5-0.3 2 0.2 1.3 0.5 0.5 0.6 0 0.4-0.8 0.8-1.4 0.5-1.6 0.1-1.4-0.3-1-0.5-0.3-0.6 0.3-1zM75.3 50.2l1.9-0.1 1.1 0.7-0.5 0.6-2 0.1-0.8-0.3-0.2-0.4z"/><path fill="#395598" d="M74.9 5.2l2.3 0 2 0.4 2 0.8 1.6 1 1.3 1.4 1 1.4 0.9 2 0.4 2 0 2-0.5 2.6-2.8 5 0.5 3-0.3 1.4-0.8 1-1.3 0.9-3.4 0.9-3-0.1-1.6-0.5-0.9-0.6-0.9-1.6-0.6-3.1-0.9-1.3-2.7-2.6-3.4-0.9-1.5-0.8-1-1.3-0.5-2 0-2.5 0.5-1.9 0.9-2 1-1.2 1.6-0.5 3 0.4 4.4-2.5zM55.2 10.8l1 0.4 0.6 1 0.5 3-0.5 2.6-0.6 0.6-1 0.4-1-0.4-0.4-0.6-0.6-2.6 0.6-3.1 0.4-0.8zM47.6 12.8l0.7 0.4 0.5 2-0.3 1.6-0.7 0.6-0.6-0.1-0.3-0.5-0.3-1.6 0.2-1.4 0.4-0.9zM63.4 26.8l0.8-0.4 0.8 0.4 0.3 0.4-0.3 1-0.8 0.5-0.9-0.5-0.2-1zM75.8 34.2l2 0.1 2 0.5 1.3 1 0.2 1-0.9 1-2.2 0.7-2.4 0.2-1.8-0.5-1.2-1-0.1-0.4 0.1-1 1.1-1zM75.7 42.8l1.5 0 1.6 0.4 0.6 0.6 0 0.4-0.6 0.7-1.6 0.4-1.8-0.1-1.1-0.4-0.4-0.6 0-0.4 0.4-0.6z"/><path fill="#3a599b" d="M75 5.2l2.2 0 2 0.4 2 0.8 1.6 1.1 1.3 1.3 1 1.4 0.9 2 0.4 2 0 2-0.5 2.6-2.8 4.9 0.5 3.1-0.3 1.4-0.8 1-1.3 0.8-3.4 1-3-0.1-1.6-0.5-0.9-0.6-0.9-1.6-0.6-3.1-0.8-1.3-2.8-2.6-3.4-0.9-1.6-0.8-0.9-1.3-0.5-2 0-2.4 0.5-2 0.9-2 1-1.2 1.6-0.4 3 0.3 4.4-2.5zM55.2 10.8l0.9 0.4 0.7 1 0.5 3-0.6 2.6-0.5 0.6-1 0.4-1-0.4-0.4-0.6-0.6-2.6 0.6-3 0.4-0.9zM47.7 12.8l0.6 0.4 0.5 2-0.4 1.6-0.6 0.6-0.6-0.1-0.3-0.5-0.3-1.6 0.2-1.4 0.4-0.9zM63.4 26.8l0.8-0.4 0.8 0.4 0.3 0.4-0.3 1-0.8 0.4-0.9-0.4-0.2-1zM75.9 34.2l1.9 0.1 2 0.6 1.3 0.9 0.2 1-0.9 1-2.2 0.7-2.4 0.2-1.7-0.5-1.2-1-0.2-0.4 0.1-1 1.1-1zM75.8 42.8l1.4 0 1.6 0.4 0.6 0.6 0 0.4-0.6 0.6-1.6 0.5-1.7-0.1-1.2-0.4-0.4-0.6 0.3-0.8z"/><path fill="#3b61a0" d="M74.4 5.8l1.8-0.3 2 0.2 2 0.7 1.6 0.8 1.4 1.2 1.4 1.8 0.8 1.6 0.5 2 0.1 2.4-0.6 2.6-0.9 2-2 3 0 1 0.6 2-0.3 1.4-1.6 1.6-3 0.9-3 0-1.4-0.4-1.1-0.5-1-1.6-0.6-3.4-0.5-1-3.4-3.2-3-0.5-1.4-0.6-1.2-1.3-0.6-2 0-2 0.4-2 0.8-1.9 1-1.1 1.6-0.5 3 0.4 1.4-0.7 2.6-1.8zM54.6 11.8l0.6-0.4 0.7 0.4 0.6 1 0.4 1.4-0.1 2.6-0.6 1-1 0.5-1-0.5-0.7-2 0.2-2.6zM47.6 14.2l0.2 0 0.3 1-0.3 1.1-0.6-0.4 0-0.7 0-0.6zM74.8 34.8l2-0.3 2 0.3 1.6 1 0.2 1-0.8 0.9-1.6 0.5-2 0.2-1.4-0.2-1.5-1-0.2-1 0.7-0.9zM75.7 43.2l1.6 0 1 0.6 0 0.4-1.1 0.6-1.7 0-0.7-0.6 0-0.4z"/><path fill="#3c69a5" d="M73.8 6.2l2-0.3 2 0.1 2 0.5 1.4 0.8 1.9 1.5 1.1 1.4 0.8 1.6 0.6 2 0 2.4-0.5 2.6-1.1 2-2 3 0 1 0.6 2-0.1 1-0.6 1-0.7 0.5-1.4 0.8-1.6 0.4-3 0-2-0.7-1.2-1.6-0.4-3.4-0.8-1.5-3.3-3.1-3.3-0.4-1.4-0.6-0.9-1-0.5-1.4-0.2-2 0.3-2 0.7-1.9 1-1.2 1.6-0.5 3 0.5 1.4-0.8 2-1.6zM55 12.2l0.8 0.2 0.2 0.4 0.6 2-0.4 2.2-0.4 0.6-0.6 0.2-1-0.7-0.4-1.9 0.3-2zM74.4 35.2l1.8-0.4 2 0.2 1.5 0.8 0.3 0.4 0 0.6-0.4 0.4-1.4 0.7-1.4 0.2-1.6-0.1-1-0.4-0.6-0.8 0.2-1z"/><path fill="#3c76af" d="M75.7 6.2l2.1 0.1 1.4 0.4 1.6 0.7 1.4 1 1.3 1.4 0.9 1.4 0.6 1.6 0.3 2-0.1 2.4-0.7 2-3.1 4.6 0.1 1 0.7 2-0.4 1.4-1 1-0.9 0.6-3.1 0.6-2-0.2-1.8-1-0.9-1.4-0.1-3-0.4-1-3.8-3.9-1-0.3-2.6-0.1-1.4-0.7-1-1.5-0.4-2.1 0.2-2 0.5-1.4 0.7-1.1 1-0.8 1.4-0.2 2.6 0.6 4.4-3.1 1.6-0.6zM54.7 13.2l0.5-0.2 0.6 0.2 0.5 1.6-0.2 1.4-0.3 0.7-0.6 0.3-0.6-0.4-0.4-1 0-1.6zM75.4 35.2l1.4-0.1 1.4 0.3 1 0.7 0.1 0.7-0.4 0.4-1.3 0.6-2.4-0.1-0.8-0.5-0.3-0.4 0-0.6 0.3-0.4z"/><path fill="#3c82b9" d="M74.4 6.8l1.8-0.3 1.6 0.1 2 0.6 1.4 0.8 1.5 1.2 1.1 1.6 0.7 1.4 0.5 2-0.1 2.6-0.5 2-1.2 1.9-2.3 3.1 0.1 1 0.7 2-0.1 1-0.6 1-0.7 0.4-2.5 0.9-2.6 0-1.8-0.9-1-1.4 0-3.6-0.7-1-3.9-3.8-1-0.2-2.6 0-1.1-0.4-0.9-1-0.5-1.6 0.2-3 0.5-1.4 0.8-1.1 1.6-0.6 3 0.7 1.4-0.9 2.6-2.1zM54.9 14.2l0.3-0.2 0.6 0.8 0 0.9-0.6 0.6-0.5-0.5 0-1zM75.2 35.8l1-0.3 1.6 0.2 0.8 0.5 0 0.6-1.4 0.6-1.4 0-1.1-0.6 0-0.6z"/><path fill="#3f96c3" d="M73.6 7.2l1.6-0.3 2 0 2 0.4 1.6 0.8 1.4 1.1 1 1.2 0.8 1.4 0.6 2 0.1 2.4-0.6 2.6-1.2 2-2.6 3 0 0.4 1 2.6-0.1 1-0.7 1-0.7 0.4-2 0.7-2 0-2-0.7-1.1-1.4-0.1-1 0.3-2.6-0.7-1-4.4-4.3-0.6-0.2-2.4 0.3-1.6-0.5-0.7-0.7-0.6-1.6 0-1.4 0.2-1.6 1.1-2.1 1.6-0.6 3 0.9 1.4-1 2-2zM75.6 36.2l1.2-0.2 0.8 0.2-0.1 0.6-1.3 0.2-0.6-0.2z"/><path fill="#54aac5" d="M74.6 7.2l1.6-0.1 2.1 0.2 1.5 0.5 1.4 0.9 1.2 1.1 1.1 1.4 0.9 3 0 2.6-0.9 2.4-1 1.6-2.8 3 0 0.4 1.2 2.6-0.1 1-0.6 0.7-1 0.7-2 0.6-2-0.2-1.6-0.8-0.7-1.6 0.5-3-0.2-0.4-2.8-2.6-2.2-2.5-1-0.5-2 0.5-1.4-0.2-1-0.8-0.7-1.9 0.3-2.6 0.4-1 1-1 1.4-0.2 2 1 0.6 0 1.4-1.1 1-1.3 1.6-1.2z"/><path fill="#68afac" d="M74.9 7.8l1.9-0.2 1.4 0.3 2.6 1.1 2 2.2 0.7 1.6 0.4 1.4-0.1 2.6-0.9 2.4-1.6 2-3.2 2.6 0 0.4 1.7 2 0.2 1-0.1 0.6-1 1-1.7 0.5-2-0.2-1.3-0.9-0.3-1.4 0.3-1 0.9-1.6-0.1-0.4-3.9-3-3-4.1-0.6 0-1.5 1.1-1.5 0.1-1-0.7-0.6-1.4 0.2-2 1-1.6 0.4-0.2 1 0 2 1.6 0.6 0.1 3.4-4.2 1.6-1z"/><path fill="#74ac85" d="M75 8.2l2.8 0.1 2.5 1 1.9 2 0.8 1.5 0.4 1.4-0.2 3-1.2 2.6-1.8 1.6-2 1.4-1 0.2-1 0.1-1.4-0.3-3-1.8-1.9-2.2-1.2-3 0.1-1.5 1.9-3.5 2.1-1.7zM64 13.2l0.8-0.2 0.4 0.2 0.6 0.6 0.5 1-0.3 1.4-0.5 0.6-0.7 0.3-1.1-0.4-0.5-0.9 0.1-1.6zM75.9 25.2l1.4 0.1 1.4 0.9 0.3 1-0.6 1-1.2 0.5-1 0.1-1.4-0.7-0.5-0.8 0.1-0.5 0.6-1z"/><path fill="#82ac67" d="M74.8 8.8l2.4-0.2 2.6 0.9 1.9 1.7 1.1 2.6 0.1 2.4-0.8 2.6-1.9 2-2.4 1.2-2.6 0.1-2.4-1-2-1.9-1.1-2.4-0.1-2.6 1-2.4 1.6-1.9zM75.6 26.8l0.6-0.5 0.6 0 0.7 0.5 0.2 0.4-0.5 0.6-1 0.1-0.4-0.2-0.3-0.5z"/><path fill="#96b452" d="M74.7 9.2l2.5-0.1 2.1 0.7 1.9 1.7 1.2 2.3 0.1 2.4-0.9 2.6-1.8 1.8-2 0.9-2.6 0.1-2.1-0.8-1.9-1.7-1-2.3-0.1-2.6 0.7-2 1.8-2z"/><path fill="#b2bf45" d="M74.5 9.8l2.3-0.3 2 0.5 1.7 1.2 1.3 2 0.3 2.6-0.5 2-1.4 1.9-2 1.2-2.4 0.3-2-0.6-1.8-1.4-1.2-2-0.3-2.4 0.5-2 1.6-2z"/><path fill="#cec841" d="M74.3 10.2l1.9-0.3 2 0.3 2 1.4 1.1 1.6 0.4 2-0.5 2.4-1.1 1.6-1.9 1.3-2 0.3-2-0.4-1.6-1.2-1.4-2-0.3-2 0.4-1.9 1.4-2.1z"/><path fill="#dcbc3c" d="M74.2 10.8l2-0.5 2 0.3 1.6 1 1.1 1.6 0.4 2-0.4 2-1.1 1.8-1.6 1-2 0.4-2-0.5-1.4-1.1-1.1-1.6-0.4-2 0.2-1.4 1.3-2z"/><path fill="#e19432" d="M75.5 10.8l1.7 0 1.6 0.6 1.4 1.4 0.6 1.4 0 2-0.6 1.6-1.4 1.4-1.6 0.7-2-0.1-1.4-0.7-1.4-1.3-0.6-1.6 0-2 0.7-1.4 1.3-1.3z"/><path fill="#da6829" d="M75.2 11.2l1.6-0.1 1.4 0.5 1.5 1.2 0.7 1.4 0 2-0.6 1.6-1 1-1.6 0.7-1.4 0-1.6-0.5-1.3-1.2-0.7-1.6-0.1-1.4 0.5-1.6 1.2-1.2z"/><path fill="#cd4128" d="M75 11.8l1.2-0.3 1.6 0.3 1.3 1 0.7 1 0.3 1.4-0.3 1.6-1 1.4-1 0.7-1.6 0.2-1.4-0.3-1.3-1-0.6-1-0.4-1.6 0.4-1.4 0.9-1.3z"/><path fill="#c62e2a" d="M75 12.2l1.2-0.2 1 0.1 1.3 0.7 0.8 1 0.3 1-0.1 1.4-0.7 1.4-1 0.8-1.6 0.3-1-0.2-1-0.6-0.8-1.1-0.4-1.6 0.2-1 0.6-1z"/><path fill="#c2282d" d="M75 12.8l1.2-0.4 1 0.2 1.6 1.2 0.3 1 0.1 1-0.4 1-1 1-1.1 0.4-0.9-0.1-1-0.5-1-1.2-0.3-1.2 0.2-1 0.5-0.9z"/><path fill="#a1252a" d="M75.2 13.2l1-0.2 1 0.2 1.2 1 0.2 1-0.1 1-1.3 1.3-1.4 0-1-0.6-0.5-0.7-0.2-1.4 0.5-1z"/><path fill="#862126" d="M75.7 13.8l1.2 0 1 1-0.1 1.4-1 0.7-1-0.1-1-1 0-1z"/><path fill="#791e23" d="M75.8 15.2l0.4-0.4 0.6 0.4 0 0.3-0.6 0.3z"/></g>
</defs>
<g transform="translate(188.5 340.4)" clip-path="url(#pc)"><rect width="91.5" height="91.5" fill="#2c3064"/><g filter="url(#hb)"><use href="#h00"/></g></g>
<g transform="translate(300.7 340.4)" clip-path="url(#pc)"><rect width="91.5" height="91.5" fill="#2c3064"/><g filter="url(#hb)"><use href="#h01"/></g></g>
<g transform="translate(412.9 340.4)" clip-path="url(#pc)"><rect width="91.5" height="91.5" fill="#2c3064"/><g filter="url(#hb)"><use href="#h02"/></g></g>
<g transform="translate(525.1 340.4)" clip-path="url(#pc)"><rect width="91.5" height="91.5" fill="#2c3064"/><g filter="url(#hd)"><use href="#h03"/></g></g>
<g transform="translate(188.5 450.5)" clip-path="url(#pc)"><rect width="91.5" height="91.5" fill="#2c3064"/><g filter="url(#hb)"><use href="#h10"/></g></g>
<g transform="translate(300.7 450.5)" clip-path="url(#pc)"><rect width="91.5" height="91.5" fill="#2c3064"/><g filter="url(#hb)"><use href="#h11"/></g></g>
<g transform="translate(412.9 450.5)" clip-path="url(#pc)"><rect width="91.5" height="91.5" fill="#2c3064"/><g filter="url(#hb)"><use href="#h12"/></g></g>
<g transform="translate(525.1 450.5)" clip-path="url(#pc)"><rect width="91.5" height="91.5" fill="#2c3064"/><g filter="url(#hd)"><use href="#h13"/></g></g>
<g transform="translate(188.5 560.6)" clip-path="url(#pc)"><rect width="91.5" height="91.5" fill="#2c3064"/><g filter="url(#hb)"><use href="#h00" transform="translate(75.7 15.3) scale(0.96) translate(-75.7 -15.3)"/></g></g>
<g transform="translate(300.7 560.6)" clip-path="url(#pc)"><rect width="91.5" height="91.5" fill="#2c3064"/><g filter="url(#hb)"><use href="#h01" transform="translate(75.6 15.3) scale(0.97) translate(-75.6 -15.3)"/></g></g>
<g transform="translate(412.9 560.6)" clip-path="url(#pc)"><rect width="91.5" height="91.5" fill="#2c3064"/><g filter="url(#hb)"><use href="#h02" transform="translate(75.6 15.3) scale(0.96) translate(-75.6 -15.3)"/></g></g>
<g transform="translate(525.1 560.6)" clip-path="url(#pc)"><rect width="91.5" height="91.5" fill="#2c3064"/><g filter="url(#hd)"><use href="#h23"/></g></g>
<g transform="translate(188.5 670.7)" clip-path="url(#pc)"><rect width="91.5" height="91.5" fill="#2c3064"/><g filter="url(#hb)"><use href="#h10" transform="translate(75.7 15.3) scale(0.96) translate(-75.7 -15.3)"/></g></g>
<g transform="translate(300.7 670.7)" clip-path="url(#pc)"><rect width="91.5" height="91.5" fill="#2c3064"/><g filter="url(#hb)"><use href="#h11" transform="translate(75.6 15.3) scale(0.97) translate(-75.6 -15.3)"/></g></g>
<g transform="translate(412.9 670.7)" clip-path="url(#pc)"><rect width="91.5" height="91.5" fill="#2c3064"/><g filter="url(#hb)"><use href="#h12" transform="translate(75.6 15.3) scale(0.96) translate(-75.6 -15.3)"/></g></g>
<g transform="translate(525.1 670.7)" clip-path="url(#pc)"><rect width="91.5" height="91.5" fill="#2c3064"/><g filter="url(#hd)"><use href="#h33"/></g></g>
<defs><linearGradient id="cb" x1="0" y1="0" x2="0" y2="1"><stop offset="0.0000" stop-color="#781e23"/><stop offset="0.0500" stop-color="#912328"/><stop offset="0.1200" stop-color="#c4282d"/><stop offset="0.1900" stop-color="#c83228"/><stop offset="0.2430" stop-color="#d75f28"/><stop offset="0.2800" stop-color="#e1822d"/><stop offset="0.3150" stop-color="#e1a537"/><stop offset="0.3550" stop-color="#dac63e"/><stop offset="0.3900" stop-color="#cdc841"/><stop offset="0.4450" stop-color="#aabc46"/><stop offset="0.4950" stop-color="#8cb058"/><stop offset="0.5350" stop-color="#7daa6e"/><stop offset="0.5700" stop-color="#73ac87"/><stop offset="0.6100" stop-color="#69afaa"/><stop offset="0.6450" stop-color="#5fafc3"/><stop offset="0.6800" stop-color="#41a0c8"/><stop offset="0.7100" stop-color="#3c82b9"/><stop offset="0.7500" stop-color="#3c69a5"/><stop offset="0.8000" stop-color="#395598"/><stop offset="0.8500" stop-color="#344b91"/><stop offset="0.9000" stop-color="#2d4187"/><stop offset="0.9500" stop-color="#2b3878"/><stop offset="1.0000" stop-color="#2c3064"/></linearGradient></defs><rect x="646.8" y="394.5" width="13.5" height="313.5" fill="url(#cb)"/>
<text x="-0.1" y="15" class="b" font-size="21.6">a</text>
<text x="283.3" y="15.7" class="b" font-size="22">b</text>
<text x="-0.1" y="329.9" class="b" font-size="22">c</text>
<g id="panelA">
<defs>
<filter id="bl" x="-20%" y="-20%" width="140%" height="140%"><feGaussianBlur stdDeviation="4.8"/></filter>
<linearGradient id="pk" x1="0" y1="0" x2="0" y2="1"><stop offset="0" stop-color="#e28de7"/><stop offset="0.5" stop-color="#e592e9"/><stop offset="1" stop-color="#e697ea"/></linearGradient>
<linearGradient id="bm" gradientUnits="userSpaceOnUse" x1="0" y1="165" x2="0" y2="26"><stop offset="0" stop-color="#ff22e6" stop-opacity="1"/><stop offset="0.55" stop-color="#f04be0" stop-opacity=".85"/><stop offset="1" stop-color="#e070d8" stop-opacity=".55"/></linearGradient>
</defs>
<rect x="30.5" y="178" width="98.5" height="100.5" fill="url(#pk)" filter="url(#bl)"/>
<line x1="50.5" y1="275.8" x2="50.5" y2="258.9" stroke="#52087f" stroke-width="1.5"/><polygon fill="#52087f" points="50.5,250.3 45.7,261.8 50.5,259.4 55.3,261.8"/>
<line x1="75.7" y1="275.8" x2="75.7" y2="258.9" stroke="#52087f" stroke-width="1.5"/><polygon fill="#52087f" points="75.7,250.3 70.9,261.8 75.7,259.4 80.5,261.8"/>
<line x1="101.7" y1="275.8" x2="101.7" y2="258.9" stroke="#52087f" stroke-width="1.5"/><polygon fill="#52087f" points="101.7,250.3 96.9,261.8 101.7,259.4 106.5,261.8"/>
<polygon fill="#7d7d84" fill-opacity=".8" points="1.3,165.6 77,201.8 151.3,163.6 151.3,166.4 77,204.6 1.3,168.4"/>
<polygon fill="#9a9aa0" fill-opacity=".8" points="77,201.8 151.3,163.6 151.3,166.4 77,204.6"/>
<polygon fill="#b2b2b9" fill-opacity=".86" points="1.3,165.6 77,142.5 151.3,163.6 77,201.8"/>
<path d="M66.2 141.4L68.0 128.7L73.4 116.0L82.6 103.3L95.3 90.5L111.8 77.7L131.9 64.9L155.7 52.1L183.2 39.3L214.3 26.5L214.3 26.5L183.1 39.2L155.6 52.0L131.8 64.7L111.6 77.4L95.1 90.2L82.2 103.0L73.0 115.8L67.5 128.6L65.6 141.4z" fill="url(#bm)" opacity="0.03"/>
<path d="M68.9 142.1L70.7 129.4L76.0 116.6L85.0 103.7L97.5 90.9L113.7 78.0L133.4 65.2L156.8 52.3L183.7 39.4L214.3 26.5L214.3 26.5L183.7 39.3L156.7 52.1L133.3 64.9L113.5 77.8L97.2 90.6L84.6 103.4L75.6 116.3L70.1 129.2L68.3 142.1z" fill="url(#bm)" opacity="0.03"/>
<path d="M71.6 142.8L73.3 130.0L78.6 117.1L87.4 104.2L99.7 91.3L115.5 78.3L134.9 65.4L157.8 52.4L184.3 39.5L214.3 26.5L214.3 26.5L184.3 39.4L157.8 52.3L134.8 65.2L115.3 78.1L99.4 91.0L87.0 103.9L78.1 116.9L72.8 129.8L71.0 142.8z" fill="url(#bm)" opacity="0.03"/>
<path d="M74.3 143.5L76.0 130.6L81.1 117.6L89.8 104.6L101.9 91.7L117.4 78.6L136.4 65.6L158.9 52.6L184.9 39.5L214.3 26.5L214.3 26.5L184.8 39.5L158.8 52.4L136.3 65.4L117.2 78.4L101.6 91.4L89.4 104.4L80.7 117.4L75.5 130.4L73.7 143.5z" fill="url(#bm)" opacity="0.03"/>
<path d="M77.0 144.2L78.7 131.2L83.7 118.2L92.2 105.1L104.0 92.0L119.3 78.9L137.9 65.8L160.0 52.7L185.4 39.6L214.3 26.5L214.3 26.5L185.4 39.5L159.9 52.6L137.8 65.6L119.1 78.7L103.7 91.7L91.8 104.8L83.3 117.9L78.1 131.1L76.4 144.2z" fill="url(#bm)" opacity="0.03"/>
<path d="M79.7 144.9L81.3 131.8L86.3 118.7L94.6 105.6L106.2 92.4L121.1 79.2L139.4 66.1L161.1 52.9L186.0 39.7L214.3 26.5L214.3 26.5L186.0 39.6L161.0 52.7L139.3 65.9L120.9 79.0L105.9 92.1L94.2 105.3L85.8 118.5L80.8 131.7L79.1 144.9z" fill="url(#bm)" opacity="0.03"/>
<path d="M82.4 145.6L84.0 132.4L88.9 119.2L97.0 106.0L108.4 92.8L123.0 79.6L140.9 66.3L162.1 53.0L186.6 39.8L214.3 26.5L214.3 26.5L186.5 39.7L162.0 52.9L140.8 66.1L122.8 79.3L108.1 92.5L96.6 105.7L88.4 119.0L83.5 132.3L81.8 145.6z" fill="url(#bm)" opacity="0.03"/>
<path d="M85.1 146.3L86.7 133.0L91.5 119.8L99.4 106.5L110.6 93.2L124.9 79.9L142.5 66.5L163.2 53.2L187.2 39.9L214.3 26.5L214.3 26.5L187.1 39.8L163.1 53.0L142.3 66.3L124.7 79.6L110.3 92.9L99.0 106.2L91.0 119.5L86.2 132.9L84.6 146.3z" fill="url(#bm)" opacity="0.03"/>
<path d="M87.9 147.0L89.4 133.7L94.1 120.3L101.9 107.0L112.8 93.6L126.8 80.2L144.0 66.8L164.3 53.4L187.7 39.9L214.3 26.5L214.3 26.5L187.7 39.8L164.2 53.2L143.8 66.6L126.6 79.9L112.5 93.3L101.5 106.7L93.6 120.1L88.9 133.5L87.3 147.0z" fill="url(#bm)" opacity="0.03"/>
<path d="M90.7 147.7L92.2 134.3L96.8 120.9L104.4 107.4L115.1 94.0L128.8 80.5L145.6 67.0L165.4 53.5L188.3 40.0L214.3 26.5L214.3 26.5L188.3 39.9L165.3 53.4L145.4 66.8L128.6 80.2L114.8 93.7L104.0 107.2L96.3 120.7L91.7 134.2L90.2 147.7z" fill="url(#bm)" opacity="0.03"/>
<path d="M93.6 148.4L95.1 134.9L99.5 121.4L106.9 107.9L117.4 94.4L130.8 80.8L147.2 67.2L166.5 53.7L188.9 40.1L214.3 26.5L214.3 26.5L188.9 40.0L166.4 53.5L147.0 67.0L130.5 80.6L117.1 94.1L106.6 107.7L99.0 121.2L94.5 134.8L93.0 148.4z" fill="url(#bm)" opacity="0.04"/>
<path d="M96.5 149.2L97.9 135.6L102.3 122.0L109.5 108.4L119.7 94.8L132.8 81.1L148.8 67.5L167.7 53.8L189.5 40.2L214.3 26.5L214.3 26.5L189.5 40.1L167.6 53.7L148.6 67.3L132.5 80.9L119.4 94.5L109.1 108.2L101.8 121.8L97.4 135.5L95.9 149.2z" fill="url(#bm)" opacity="0.05"/>
<path d="M99.4 149.9L100.8 136.3L105.1 122.6L112.1 108.9L122.0 95.2L134.8 81.5L150.4 67.7L168.9 54.0L190.2 40.3L214.3 26.5L214.3 26.5L190.1 40.2L168.8 53.9L150.2 67.5L134.6 81.2L121.7 94.9L111.7 108.7L104.6 122.4L100.3 136.2L98.9 149.9z" fill="url(#bm)" opacity="0.06"/>
<path d="M102.4 150.7L103.8 136.9L107.9 123.2L114.8 109.4L124.5 95.6L136.9 81.8L152.1 68.0L170.0 54.2L190.8 40.3L214.3 26.5L214.3 26.5L190.7 40.2L169.9 54.0L151.9 67.8L136.6 81.5L124.1 95.3L114.4 109.1L107.4 123.0L103.2 136.8L101.8 150.7z" fill="url(#bm)" opacity="0.08"/>
<path d="M105.6 151.5L106.9 137.6L110.9 123.8L117.6 110.0L126.9 96.1L139.0 82.2L153.8 68.3L171.3 54.4L191.4 40.4L214.3 26.5L214.3 26.5L191.4 40.3L171.1 54.2L153.5 68.0L138.6 81.9L126.5 95.7L117.0 109.6L110.2 123.5L106.1 137.5L104.7 151.5z" fill="url(#bm)" opacity="0.09"/>
<path d="M108.7 152.2L110.0 138.4L113.9 124.5L120.3 110.5L129.4 96.6L141.2 82.6L155.5 68.6L172.5 54.6L192.1 40.5L214.3 26.5L214.3 26.5L192.0 40.4L172.3 54.3L155.2 68.2L140.7 82.2L128.9 96.1L119.6 110.1L113.0 124.1L109.0 138.2L107.7 152.2z" fill="url(#bm)" opacity="0.12"/>
<path d="M111.9 153.0L113.1 139.1L116.9 125.1L123.2 111.1L132.0 97.0L143.4 83.0L157.3 68.9L173.7 54.8L192.7 40.6L214.3 26.5L214.3 26.5L192.6 40.5L173.5 54.5L156.9 68.5L142.8 82.5L131.3 96.5L122.3 110.6L115.9 124.7L112.0 138.9L110.7 153.0z" fill="url(#bm)" opacity="0.14"/>
<path d="M115.6 153.9L116.8 139.9L120.4 125.8L126.4 111.7L134.9 97.6L145.9 83.4L159.3 69.2L175.2 55.0L193.5 40.8L214.3 26.5L214.3 26.5L193.4 40.6L174.9 54.6L158.9 68.7L145.3 82.9L134.1 97.0L125.5 111.2L119.2 125.4L115.5 139.7L114.2 153.9z" fill="url(#bm)" opacity="0.17"/>
<path d="M119.3 154.9L120.4 140.7L123.9 126.5L129.7 112.4L137.9 98.1L148.4 83.8L161.3 69.5L176.6 55.2L194.3 40.9L214.3 26.5L214.3 26.5L194.1 40.7L176.3 54.8L160.8 69.0L147.7 83.3L137.0 97.5L128.6 111.8L122.6 126.1L119.0 140.5L117.7 154.9z" fill="url(#bm)" opacity="0.21"/>
<path d="M122.9 155.8L124.0 141.5L127.4 127.3L133.0 113.0L140.8 98.6L151.0 84.3L163.4 69.9L178.1 55.4L195.0 41.0L214.3 26.5L214.3 26.5L194.9 40.8L177.7 55.0L162.8 69.3L150.2 83.6L139.8 98.0L131.7 112.4L125.9 126.8L122.4 141.3L121.3 155.8z" fill="url(#bm)" opacity="0.26"/>
<path d="M126.7 156.7L127.8 142.4L131.0 128.0L136.3 113.6L143.9 99.2L153.6 84.7L165.5 70.2L179.5 55.7L195.8 41.1L214.3 26.5L214.3 26.5L195.6 40.8L179.1 55.2L164.8 69.6L152.7 84.0L142.7 98.5L134.9 113.0L129.4 127.5L126.0 142.1L124.9 156.7z" fill="url(#bm)" opacity="0.31"/>
<path d="M130.7 157.7L131.7 143.3L134.8 128.8L139.9 114.3L147.0 99.8L156.3 85.2L167.7 70.6L181.1 55.9L196.7 41.2L214.3 26.5L214.3 26.5L196.4 40.9L180.6 55.4L166.9 69.9L155.3 84.5L145.8 99.0L138.3 113.6L133.0 128.3L129.8 143.0L128.7 157.7z" fill="url(#bm)" opacity="0.38"/>
<path d="M134.8 158.7L135.7 144.2L138.6 129.6L143.5 115.0L150.3 100.3L159.1 85.6L169.9 70.9L182.7 56.1L197.5 41.3L214.3 26.5L214.3 26.5L197.3 41.1L182.2 55.6L169.1 70.2L158.0 84.9L148.9 99.6L141.8 114.3L136.7 129.1L133.6 143.9L132.6 158.7z" fill="url(#bm)" opacity="0.47"/>
<path d="M138.6 159.7L139.5 145.0L142.2 130.3L146.9 115.6L153.4 100.9L161.7 86.1L172.0 71.2L184.2 56.4L198.3 41.4L214.3 26.5L214.3 26.5L198.0 41.2L183.6 55.8L171.1 70.5L160.5 85.3L151.8 100.1L145.0 114.9L140.2 129.8L137.2 144.7L136.2 159.7z" fill="url(#bm)" opacity="0.57"/>
<path d="M143.1 160.8L143.9 146.0L146.5 131.2L150.8 116.4L156.9 101.5L164.8 86.6L174.5 71.6L186.0 56.6L199.2 41.6L214.3 26.5L214.3 26.5L198.9 41.3L185.3 56.1L173.5 70.9L163.5 85.8L155.3 100.7L148.9 115.7L144.3 130.7L141.5 145.7L140.5 160.8z" fill="url(#bm)" opacity="0.70"/>
<path d="M147.5 161.9L148.3 147.0L150.8 132.1L154.8 117.1L160.5 102.1L167.9 87.1L177.0 72.0L187.7 56.9L200.2 41.7L214.3 26.5L214.3 26.5L199.8 41.4L187.0 56.3L175.9 71.3L166.5 86.3L158.8 101.3L152.7 116.4L148.4 131.6L145.7 146.7L144.8 161.9z" fill="url(#bm)" opacity="0.85"/>
<path fill="#41759f" d="M75.5 142.1h1.9v2.2h-1.9zM79.3 143.1h2.0v2.3h-2.0zM70.7 143.3h2.2v2.4h-2.2zM83.1 144.2h2.1v2.3h-2.1zM74.5 144.4h2.3v2.5h-2.3zM66.0 144.5h2.5v2.6h-2.5zM86.8 145.2h2.2v2.5h-2.2zM78.3 145.5h2.4v2.6h-2.4zM69.8 145.7h2.6v2.7h-2.6zM61.7 146.4h1.8v2.2h-1.8zM90.6 146.2h2.4v2.6h-2.4zM82.1 146.5h2.6v2.7h-2.6zM74.1 147.5h1.5v2.1h-1.5zM65.5 147.6h1.8v2.3h-1.8zM94.3 147.1h2.7v2.8h-2.7zM56.9 147.5h2.2v2.5h-2.2zM85.8 147.5h2.8v2.8h-2.8zM77.9 148.6h1.7v2.2h-1.7zM98.6 148.8h1.8v2.2h-1.8zM69.3 148.8h2.0v2.4h-2.0zM60.7 148.8h2.3v2.6h-2.3zM52.0 148.6h2.8v2.9h-2.8zM90.1 149.3h1.8v2.3h-1.8zM81.6 149.7h1.9v2.4h-1.9zM102.2 149.6h2.1v2.5h-2.1zM73.1 149.9h2.2v2.5h-2.2zM64.5 149.9h2.5v2.7h-2.5zM93.8 150.2h2.1v2.5h-2.1zM56.4 150.6h1.6v2.2h-1.6zM47.7 150.4h2.1v2.5h-2.1zM85.3 150.7h2.2v2.5h-2.2zM105.9 150.5h2.5v2.7h-2.5zM76.8 151.0h2.4v2.7h-2.4zM97.5 151.2h2.5v2.7h-2.5zM68.2 151.1h2.7v2.9h-2.7zM60.2 151.9h1.8v2.3h-1.8zM51.5 151.7h2.3v2.6h-2.3zM110.1 152.1h1.7v2.3h-1.7zM42.7 151.4h2.9v3.0h-2.9zM89.0 151.7h2.5v2.8h-2.5zM80.5 152.0h2.7v2.9h-2.7zM101.1 152.0h2.9v3.0h-2.9zM71.9 152.2h3.0v3.1h-3.0zM113.7 152.9h2.2v2.6h-2.2zM64.0 153.1h2.0v2.5h-2.0zM92.6 152.6h3.0v3.0h-3.0zM55.3 153.0h2.5v2.8h-2.5zM38.4 153.1h2.3v2.7h-2.3zM46.5 152.7h3.0v3.1h-3.0zM84.9 153.9h1.7v2.3h-1.7zM105.4 153.7h2.0v2.5h-2.0zM76.3 154.1h1.9v2.5h-1.9zM117.2 153.6h2.9v3.0h-2.9zM97.0 154.3h2.0v2.5h-2.0zM67.7 154.2h2.3v2.7h-2.3zM59.0 154.2h2.7v2.9h-2.7zM34.1 154.9h1.8v2.4h-1.8zM51.0 154.8h1.8v2.4h-1.8zM42.2 154.5h2.5v2.8h-2.5zM108.9 154.5h2.6v2.9h-2.6zM88.5 154.8h2.1v2.6h-2.1zM121.4 155.1h2.1v2.6h-2.1zM80.0 155.2h2.3v2.7h-2.3zM100.5 155.2h2.6v2.9h-2.6zM71.4 155.4h2.6v2.9h-2.6zM62.7 155.4h3.0v3.2h-3.0zM113.1 156.1h1.9v2.5h-1.9zM29.0 155.7h2.7v3.0h-2.7zM92.1 155.8h2.6v2.9h-2.6zM54.7 156.1h2.1v2.6h-2.1zM37.8 156.3h1.9v2.5h-1.9zM45.9 155.8h2.7v3.0h-2.7zM124.8 155.7h3.0v3.1h-3.0zM83.6 156.2h2.8v3.0h-2.8zM104.0 156.0h3.2v3.3h-3.2zM75.0 156.4h3.0v3.2h-3.0zM116.6 156.8h2.6v3.0h-2.6zM67.1 157.4h1.9v2.6h-1.9zM128.9 157.1h2.4v2.8h-2.4zM95.6 156.7h3.2v3.3h-3.2zM24.6 157.3h2.3v2.8h-2.3zM58.4 157.3h2.4v2.8h-2.4zM32.7 157.1h3.0v3.2h-3.0zM49.7 157.1h3.0v3.2h-3.0zM41.6 157.6h2.2v2.7h-2.2zM87.9 158.0h1.8v2.5h-1.8zM108.3 157.7h2.4v2.9h-2.4zM120.7 158.3h2.0v2.6h-2.0zM79.4 158.4h2.0v2.6h-2.0zM133.0 158.5h1.9v2.6h-1.9zM99.9 158.4h2.3v2.8h-2.3zM70.8 158.5h2.3v2.8h-2.3zM20.1 159.0h1.9v2.6h-1.9zM62.1 158.5h2.8v3.1h-2.8zM111.7 158.4h3.3v3.4h-3.3zM28.3 158.8h2.5v3.0h-2.5zM54.1 159.3h1.8v2.5h-1.8zM91.5 159.0h2.4v2.9h-2.4zM36.4 158.5h3.3v3.4h-3.3zM45.3 159.0h2.5v2.9h-2.5zM124.1 158.9h3.0v3.2h-3.0zM136.2 158.9h3.1v3.3h-3.1zM82.9 159.4h2.6v3.0h-2.6zM103.4 159.2h3.1v3.3h-3.1zM74.3 159.6h2.9v3.2h-2.9zM115.9 159.9h2.6v3.0h-2.6zM14.9 159.7h3.2v3.3h-3.2zM65.7 159.7h3.3v3.4h-3.3zM94.9 159.8h3.1v3.3h-3.1zM128.1 160.3h2.5v3.0h-2.5zM23.9 160.5h2.2v2.8h-2.2zM57.8 160.5h2.2v2.8h-2.2zM140.1 160.1h2.9v3.2h-2.9zM32.1 160.3h2.8v3.2h-2.8zM49.0 160.3h2.9v3.2h-2.9zM41.0 160.8h2.0v2.7h-2.0zM86.4 160.3h3.3v3.4h-3.3zM107.6 160.8h2.4v2.9h-2.4zM78.7 161.5h1.9v2.6h-1.9zM120.0 161.4h2.0v2.7h-2.0zM132.2 161.6h2.2v2.8h-2.2zM144.0 161.2h2.9v3.2h-2.9zM10.4 161.2h2.9v3.2h-2.9zM99.2 161.6h2.3v2.9h-2.3zM70.1 161.7h2.2v2.9h-2.2zM19.5 162.1h1.8v2.6h-1.8zM61.4 161.7h2.7v3.1h-2.7zM27.6 162.0h2.5v3.0h-2.5zM52.6 161.5h3.4v3.5h-3.4zM110.9 161.5h3.4v3.5h-3.4zM35.7 161.6h3.2v3.4h-3.2zM90.7 162.1h2.4v2.9h-2.4zM44.6 162.1h2.4v3.0h-2.4zM123.2 161.9h3.3v3.4h-3.3zM82.2 162.5h2.6v3.1h-2.6zM136.1 162.9h1.9v2.7h-1.9zM102.6 162.3h3.3v3.5h-3.3zM5.9 162.7h2.7v3.2h-2.7zM73.6 162.7h2.9v3.3h-2.9zM14.1 162.8h3.3v3.5h-3.3zM115.0 163.0h2.9v3.2h-2.9zM64.9 162.8h3.4v3.5h-3.4zM94.1 162.9h3.3v3.5h-3.3zM23.2 163.6h2.1v2.9h-2.1zM57.1 163.6h2.2v2.9h-2.2zM127.2 163.3h2.9v3.3h-2.9zM31.3 163.4h2.9v3.3h-2.9zM48.3 163.4h2.9v3.3h-2.9zM40.3 163.9h2.0v2.8h-2.0zM140.0 164.0h1.9v2.7h-1.9zM85.7 163.4h3.4v3.6h-3.4zM106.7 163.9h2.6v3.1h-2.6zM78.0 164.7h1.9v2.8h-1.9zM119.1 164.5h2.4v3.0h-2.4zM9.6 164.3h3.1v3.4h-3.1zM98.4 164.7h2.5v3.1h-2.5zM69.3 164.8h2.3v3.0h-2.3zM131.2 164.6h2.7v3.2h-2.7zM18.7 165.3h1.9v2.7h-1.9zM60.6 164.8h2.9v3.3h-2.9zM26.9 165.1h2.6v3.1h-2.6zM51.8 164.6h3.5v3.6h-3.5zM35.0 164.8h3.4v3.6h-3.4zM43.9 165.3h2.5v3.1h-2.5zM89.9 165.2h2.6v3.1h-2.6zM110.9 165.5h2.1v2.9h-2.1zM123.1 165.9h2.1v2.9h-2.1zM81.4 165.6h2.8v3.3h-2.8zM135.0 165.8h2.7v3.2h-2.7zM101.7 165.4h3.7v3.8h-3.7zM72.8 165.8h3.2v3.5h-3.2zM13.3 165.9h3.5v3.7h-3.5zM64.1 165.9h3.6v3.7h-3.6zM114.0 166.1h3.4v3.6h-3.4zM93.2 166.0h3.7v3.8h-3.7zM22.4 166.8h2.3v3.0h-2.3zM56.3 166.8h2.4v3.1h-2.4zM30.5 166.5h3.1v3.5h-3.1zM47.4 166.5h3.1v3.5h-3.1zM39.5 167.1h2.1v2.9h-2.1zM126.1 166.3h3.7v3.8h-3.7zM85.7 167.5h2.0v2.9h-2.0zM105.8 167.0h3.2v3.5h-3.2zM77.1 167.8h2.2v3.0h-2.2zM118.0 167.5h3.1v3.5h-3.1zM68.5 167.9h2.6v3.2h-2.6zM97.4 167.7h3.0v3.5h-3.0zM130.0 167.5h3.7v3.8h-3.7zM17.9 168.4h2.1v3.0h-2.1zM59.7 167.9h3.2v3.5h-3.2zM26.0 168.2h2.9v3.4h-2.9zM51.9 168.7h2.0v2.9h-2.0zM34.1 167.9h3.7v3.8h-3.7zM43.0 168.4h2.8v3.3h-2.8zM89.0 168.3h3.1v3.5h-3.1zM109.9 168.6h2.7v3.3h-2.7zM80.5 168.7h3.3v3.6h-3.3zM122.0 168.9h2.9v3.4h-2.9zM101.6 169.4h2.5v3.2h-2.5zM71.8 168.9h3.6v3.8h-3.6zM64.1 170.0h2.2v3.0h-2.2zM113.9 170.1h2.4v3.2h-2.4zM21.5 169.9h2.7v3.3h-2.7zM93.2 170.1h2.4v3.2h-2.4zM55.4 169.9h2.8v3.4h-2.8zM29.6 169.6h3.5v3.8h-3.5zM46.5 169.6h3.6v3.8h-3.6zM38.6 170.2h2.5v3.2h-2.5zM125.9 170.2h2.9v3.4h-2.9zM84.7 170.6h2.5v3.3h-2.5zM105.6 171.0h2.0v3.0h-2.0zM76.1 170.9h2.8v3.4h-2.8zM117.8 171.5h2.2v3.1h-2.2zM67.5 171.0h3.2v3.6h-3.2zM96.3 170.7h3.9v4.0h-3.9zM58.7 171.0h3.8v3.9h-3.8zM25.1 171.3h3.4v3.7h-3.4zM50.9 171.8h2.5v3.3h-2.5zM34.1 172.0h2.3v3.2h-2.3zM42.0 171.5h3.3v3.7h-3.3zM87.9 171.3h3.9v4.0h-3.9zM108.7 171.5h3.7v3.9h-3.7zM80.4 172.8h2.0v3.0h-2.0zM121.7 172.8h2.2v3.1h-2.2zM100.4 172.4h3.4v3.8h-3.4zM71.8 173.0h2.4v3.2h-2.4zM63.1 173.1h2.9v3.5h-2.9zM54.3 172.9h3.5v3.8h-3.5zM92.0 173.1h3.3v3.8h-3.3zM112.6 173.0h3.6v3.9h-3.6zM29.6 173.8h2.1v3.1h-2.1zM46.5 173.7h2.2v3.2h-2.2zM37.6 173.3h3.2v3.7h-3.2zM83.6 173.6h3.4v3.8h-3.4zM104.4 174.0h3.1v3.7h-3.1zM75.0 173.9h3.7v4.0h-3.7zM66.4 174.0h4.1v4.2h-4.1zM116.5 174.3h3.5v3.9h-3.5zM96.1 174.8h2.9v3.6h-2.9zM58.7 175.1h2.6v3.4h-2.6zM49.9 174.9h3.3v3.8h-3.3zM33.0 175.1h3.0v3.6h-3.0zM41.0 174.5h4.2v4.2h-4.2zM87.7 175.4h2.9v3.6h-2.9zM108.4 175.5h3.0v3.6h-3.0zM79.2 175.8h3.0v3.7h-3.0zM100.1 176.4h2.6v3.4h-2.6zM70.6 176.0h3.4v3.8h-3.4zM61.9 176.1h3.8v4.1h-3.8zM54.2 177.1h2.3v3.3h-2.3zM91.8 177.1h2.4v3.4h-2.4zM112.2 176.9h2.9v3.6h-2.9zM45.4 176.8h3.1v3.7h-3.1zM36.4 176.3h4.1v4.2h-4.1zM83.4 177.6h2.5v3.4h-2.5zM104.1 177.9h2.4v3.4h-2.4zM74.8 178.0h2.7v3.5h-2.7zM66.2 178.1h3.1v3.7h-3.1zM94.7 177.6h4.3v4.4h-4.3zM57.4 178.1h3.7v4.0h-3.7zM49.7 179.0h2.2v3.3h-2.2zM40.8 178.7h3.0v3.7h-3.0zM86.3 178.2h4.3v4.4h-4.3zM108.0 179.4h2.4v3.4h-2.4zM77.9 178.7h4.4v4.4h-4.4zM70.4 180.1h2.4v3.4h-2.4zM98.7 179.2h4.2v4.4h-4.2zM61.7 180.2h2.9v3.7h-2.9zM52.9 180.1h3.5v4.0h-3.5zM90.4 180.0h4.0v4.3h-4.0zM44.1 179.8h4.4v4.5h-4.4zM81.9 180.5h4.0v4.3h-4.0zM102.5 180.7h4.2v4.4h-4.2zM73.4 180.9h4.2v4.4h-4.2zM65.9 182.2h2.2v3.4h-2.2zM94.3 181.6h3.8v4.2h-3.8zM57.2 182.2h2.8v3.7h-2.8zM48.4 182.0h3.5v4.1h-3.5zM86.0 182.2h3.7v4.2h-3.7zM77.5 182.7h3.8v4.2h-3.8zM68.9 183.0h4.0v4.4h-4.0zM98.2 183.1h3.8v4.3h-3.8zM60.3 183.1h4.5v4.6h-4.5zM52.7 184.2h2.7v3.7h-2.7zM89.9 183.9h3.5v4.1h-3.5zM81.5 184.5h3.5v4.1h-3.5zM73.0 184.9h3.6v4.2h-3.6zM64.4 185.1h4.0v4.4h-4.0zM93.8 185.5h3.5v4.2h-3.5zM55.7 185.1h4.5v4.7h-4.5zM85.5 186.2h3.3v4.1h-3.3zM77.1 186.7h3.3v4.1h-3.3zM68.5 187.0h3.5v4.2h-3.5zM59.9 187.1h4.0v4.4h-4.0zM89.4 187.9h3.3v4.1h-3.3zM81.1 188.5h3.1v4.0h-3.1zM72.6 188.9h3.2v4.1h-3.2zM64.0 189.1h3.5v4.3h-3.5zM85.0 190.2h3.1v4.1h-3.1zM76.6 190.7h3.1v4.1h-3.1zM68.0 191.1h3.2v4.2h-3.2zM80.5 192.5h3.0v4.1h-3.0zM72.0 192.9h3.1v4.1h-3.1zM75.9 194.7h3.0v4.2h-3.0z"/>
<path fill="#6f9fc6" d="M76.1 142.1h0.8v2.2h-0.8zM79.9 143.1h0.8v2.3h-0.8zM71.4 143.3h0.9v2.4h-0.9zM83.7 144.2h0.8v2.3h-0.8zM75.2 144.4h0.9v2.5h-0.9zM66.7 144.5h1.0v2.6h-1.0zM87.5 145.2h0.9v2.5h-0.9zM79.0 145.5h1.0v2.6h-1.0zM70.5 145.7h1.0v2.7h-1.0zM62.3 146.4h0.7v2.2h-0.7zM91.3 146.2h1.0v2.6h-1.0zM82.8 146.5h1.0v2.7h-1.0zM74.6 147.5h0.6v2.1h-0.6zM66.1 147.6h0.7v2.3h-0.7zM95.1 147.1h1.1v2.8h-1.1zM57.6 147.5h0.9v2.5h-0.9zM86.6 147.5h1.1v2.8h-1.1zM78.4 148.6h0.7v2.2h-0.7zM99.1 148.8h0.7v2.2h-0.7zM69.9 148.8h0.8v2.4h-0.8zM61.4 148.8h0.9v2.6h-0.9zM52.8 148.6h1.1v2.9h-1.1zM90.7 149.3h0.7v2.3h-0.7zM82.2 149.7h0.8v2.4h-0.8zM102.9 149.6h0.8v2.5h-0.8zM73.7 149.9h0.9v2.5h-0.9zM65.2 149.9h1.0v2.7h-1.0zM94.4 150.2h0.8v2.5h-0.8zM56.9 150.6h0.6v2.2h-0.6zM48.3 150.4h0.9v2.5h-0.9zM86.0 150.7h0.9v2.5h-0.9zM106.6 150.5h1.0v2.7h-1.0zM77.5 151.0h1.0v2.7h-1.0zM98.2 151.2h1.0v2.7h-1.0zM69.0 151.1h1.1v2.9h-1.1zM60.7 151.9h0.7v2.3h-0.7zM52.2 151.7h0.9v2.6h-0.9zM110.6 152.1h0.7v2.3h-0.7zM43.6 151.4h1.1v3.0h-1.1zM89.8 151.7h1.0v2.8h-1.0zM81.3 152.0h1.1v2.9h-1.1zM102.0 152.0h1.2v3.0h-1.2zM72.8 152.2h1.2v3.1h-1.2zM114.3 152.9h0.9v2.6h-0.9zM64.6 153.1h0.8v2.5h-0.8zM93.5 152.6h1.2v3.0h-1.2zM56.0 153.0h1.0v2.8h-1.0zM39.1 153.1h0.9v2.7h-0.9zM47.4 152.7h1.2v3.1h-1.2zM85.4 153.9h0.7v2.3h-0.7zM106.0 153.7h0.8v2.5h-0.8zM76.9 154.1h0.8v2.5h-0.8zM118.0 153.6h1.1v3.0h-1.1zM97.6 154.3h0.8v2.5h-0.8zM68.4 154.2h0.9v2.7h-0.9zM59.8 154.2h1.1v2.9h-1.1zM34.6 154.9h0.7v2.4h-0.7zM51.5 154.8h0.7v2.4h-0.7zM42.9 154.5h1.0v2.8h-1.0zM109.7 154.5h1.1v2.9h-1.1zM89.1 154.8h0.8v2.6h-0.8zM122.0 155.1h0.9v2.6h-0.9zM80.6 155.2h0.9v2.7h-0.9zM101.3 155.2h1.0v2.9h-1.0zM72.1 155.4h1.0v2.9h-1.0zM63.6 155.4h1.2v3.2h-1.2zM113.7 156.1h0.7v2.5h-0.7zM29.8 155.7h1.1v3.0h-1.1zM92.9 155.8h1.0v2.9h-1.0zM55.3 156.1h0.8v2.6h-0.8zM38.4 156.3h0.8v2.5h-0.8zM46.7 155.8h1.1v3.0h-1.1zM125.7 155.7h1.2v3.1h-1.2zM84.4 156.2h1.1v3.0h-1.1zM105.0 156.0h1.3v3.3h-1.3zM75.9 156.4h1.2v3.2h-1.2zM117.4 156.8h1.1v3.0h-1.1zM67.7 157.4h0.8v2.6h-0.8zM129.6 157.1h1.0v2.8h-1.0zM96.6 156.7h1.3v3.3h-1.3zM25.2 157.3h0.9v2.8h-0.9zM59.1 157.3h1.0v2.8h-1.0zM33.6 157.1h1.2v3.2h-1.2zM50.6 157.1h1.2v3.2h-1.2zM42.3 157.6h0.9v2.7h-0.9zM88.5 158.0h0.7v2.5h-0.7zM109.0 157.7h1.0v2.9h-1.0zM121.3 158.3h0.8v2.6h-0.8zM80.0 158.4h0.8v2.6h-0.8zM133.6 158.5h0.8v2.6h-0.8zM100.6 158.4h0.9v2.8h-0.9zM71.5 158.5h0.9v2.8h-0.9zM20.7 159.0h0.8v2.6h-0.8zM62.9 158.5h1.1v3.1h-1.1zM112.7 158.4h1.3v3.4h-1.3zM29.1 158.8h1.0v3.0h-1.0zM54.7 159.3h0.7v2.5h-0.7zM92.2 159.0h1.0v2.9h-1.0zM37.4 158.5h1.3v3.4h-1.3zM46.1 159.0h1.0v2.9h-1.0zM125.0 158.9h1.2v3.2h-1.2zM137.2 158.9h1.3v3.3h-1.3zM83.7 159.4h1.0v3.0h-1.0zM104.3 159.2h1.3v3.3h-1.3zM75.2 159.6h1.2v3.2h-1.2zM116.6 159.9h1.0v3.0h-1.0zM15.8 159.7h1.3v3.3h-1.3zM66.7 159.7h1.3v3.4h-1.3zM95.9 159.8h1.3v3.3h-1.3zM128.9 160.3h1.0v3.0h-1.0zM24.6 160.5h0.9v2.8h-0.9zM58.4 160.5h0.9v2.8h-0.9zM141.0 160.1h1.2v3.2h-1.2zM32.9 160.3h1.1v3.2h-1.1zM49.9 160.3h1.1v3.2h-1.1zM41.6 160.8h0.8v2.7h-0.8zM87.4 160.3h1.3v3.4h-1.3zM108.3 160.8h1.0v2.9h-1.0zM79.3 161.5h0.7v2.6h-0.7zM120.6 161.4h0.8v2.7h-0.8zM132.8 161.6h0.9v2.8h-0.9zM144.9 161.2h1.2v3.2h-1.2zM11.3 161.2h1.2v3.2h-1.2zM99.9 161.6h0.9v2.9h-0.9zM70.8 161.7h0.9v2.9h-0.9zM20.0 162.1h0.7v2.6h-0.7zM62.2 161.7h1.1v3.1h-1.1zM28.4 162.0h1.0v3.0h-1.0zM53.6 161.5h1.3v3.5h-1.3zM111.9 161.5h1.4v3.5h-1.4zM36.7 161.6h1.3v3.4h-1.3zM91.5 162.1h1.0v2.9h-1.0zM45.4 162.1h1.0v3.0h-1.0zM124.2 161.9h1.3v3.4h-1.3zM83.0 162.5h1.0v3.1h-1.0zM136.7 162.9h0.8v2.7h-0.8zM103.6 162.3h1.3v3.5h-1.3zM6.7 162.7h1.1v3.2h-1.1zM74.5 162.7h1.2v3.3h-1.2zM15.1 162.8h1.3v3.5h-1.3zM115.9 163.0h1.2v3.2h-1.2zM66.0 162.8h1.3v3.5h-1.3zM95.1 162.9h1.3v3.5h-1.3zM23.8 163.6h0.9v2.9h-0.9zM57.7 163.6h0.9v2.9h-0.9zM128.1 163.3h1.2v3.3h-1.2zM32.2 163.4h1.1v3.3h-1.1zM49.1 163.4h1.2v3.3h-1.2zM40.8 163.9h0.8v2.8h-0.8zM140.5 164.0h0.7v2.7h-0.7zM86.7 163.4h1.4v3.6h-1.4zM107.5 163.9h1.1v3.1h-1.1zM78.5 164.7h0.8v2.8h-0.8zM119.8 164.5h1.0v3.0h-1.0zM10.5 164.3h1.2v3.4h-1.2zM99.1 164.7h1.0v3.1h-1.0zM70.0 164.8h0.9v3.0h-0.9zM132.0 164.6h1.1v3.2h-1.1zM19.3 165.3h0.8v2.7h-0.8zM61.5 164.8h1.1v3.3h-1.1zM27.6 165.1h1.0v3.1h-1.0zM52.9 164.6h1.4v3.6h-1.4zM36.0 164.8h1.3v3.6h-1.3zM44.6 165.3h1.0v3.1h-1.0zM90.7 165.2h1.0v3.1h-1.0zM111.5 165.5h0.8v2.9h-0.8zM123.7 165.9h0.8v2.9h-0.8zM82.2 165.6h1.1v3.3h-1.1zM135.8 165.8h1.1v3.2h-1.1zM102.8 165.4h1.5v3.8h-1.5zM73.7 165.8h1.3v3.5h-1.3zM14.4 165.9h1.4v3.7h-1.4zM65.2 165.9h1.5v3.7h-1.5zM115.1 166.1h1.4v3.6h-1.4zM94.4 166.0h1.5v3.8h-1.5zM23.1 166.8h0.9v3.0h-0.9zM57.0 166.8h1.0v3.1h-1.0zM31.4 166.5h1.2v3.5h-1.2zM48.4 166.5h1.3v3.5h-1.3zM40.1 167.1h0.9v2.9h-0.9zM127.3 166.3h1.5v3.8h-1.5zM86.3 167.5h0.8v2.9h-0.8zM106.7 167.0h1.3v3.5h-1.3zM77.8 167.8h0.9v3.0h-0.9zM119.0 167.5h1.2v3.5h-1.2zM69.3 167.9h1.1v3.2h-1.1zM98.3 167.7h1.2v3.5h-1.2zM131.1 167.5h1.5v3.8h-1.5zM18.5 168.4h0.9v3.0h-0.9zM60.7 167.9h1.3v3.5h-1.3zM26.9 168.2h1.1v3.4h-1.1zM52.5 168.7h0.8v2.9h-0.8zM35.2 167.9h1.5v3.8h-1.5zM43.9 168.4h1.1v3.3h-1.1zM89.9 168.3h1.2v3.5h-1.2zM110.7 168.6h1.1v3.3h-1.1zM81.4 168.7h1.3v3.6h-1.3zM122.9 168.9h1.2v3.4h-1.2zM102.3 169.4h1.0v3.2h-1.0zM72.9 168.9h1.5v3.8h-1.5zM64.8 170.0h0.9v3.0h-0.9zM114.6 170.1h1.0v3.2h-1.0zM22.3 169.9h1.1v3.3h-1.1zM93.9 170.1h1.0v3.2h-1.0zM56.2 169.9h1.1v3.4h-1.1zM30.6 169.6h1.4v3.8h-1.4zM47.6 169.6h1.4v3.8h-1.4zM39.3 170.2h1.0v3.2h-1.0zM126.7 170.2h1.2v3.4h-1.2zM85.5 170.6h1.0v3.3h-1.0zM106.3 171.0h0.8v3.0h-0.8zM77.0 170.9h1.1v3.4h-1.1zM118.5 171.5h0.9v3.1h-0.9zM68.4 171.0h1.3v3.6h-1.3zM97.5 170.7h1.5v4.0h-1.5zM59.9 171.0h1.5v3.9h-1.5zM26.1 171.3h1.4v3.7h-1.4zM51.7 171.8h1.0v3.3h-1.0zM34.8 172.0h0.9v3.2h-0.9zM43.1 171.5h1.3v3.7h-1.3zM89.1 171.3h1.6v4.0h-1.6zM109.8 171.5h1.5v3.9h-1.5zM81.0 172.8h0.8v3.0h-0.8zM122.3 172.8h0.9v3.1h-0.9zM101.4 172.4h1.4v3.8h-1.4zM72.5 173.0h0.9v3.2h-0.9zM64.0 173.1h1.1v3.5h-1.1zM55.4 172.9h1.4v3.8h-1.4zM93.0 173.1h1.3v3.8h-1.3zM113.7 173.0h1.4v3.9h-1.4zM30.2 173.8h0.9v3.1h-0.9zM47.2 173.7h0.9v3.2h-0.9zM38.5 173.3h1.3v3.7h-1.3zM84.6 173.6h1.4v3.8h-1.4zM105.4 174.0h1.3v3.7h-1.3zM76.1 173.9h1.5v4.0h-1.5zM67.6 174.0h1.6v4.2h-1.6zM117.5 174.3h1.4v3.9h-1.4zM97.0 174.8h1.2v3.6h-1.2zM59.4 175.1h1.0v3.4h-1.0zM50.8 174.9h1.3v3.8h-1.3zM33.9 175.1h1.2v3.6h-1.2zM42.2 174.5h1.7v4.2h-1.7zM88.6 175.4h1.2v3.6h-1.2zM109.3 175.5h1.2v3.6h-1.2zM80.1 175.8h1.2v3.7h-1.2zM100.9 176.4h1.0v3.4h-1.0zM71.6 176.0h1.3v3.8h-1.3zM63.1 176.1h1.5v4.1h-1.5zM54.9 177.1h0.9v3.3h-0.9zM92.5 177.1h1.0v3.4h-1.0zM113.1 176.9h1.2v3.6h-1.2zM46.3 176.8h1.3v3.7h-1.3zM37.6 176.3h1.6v4.2h-1.6zM84.1 177.6h1.0v3.4h-1.0zM104.8 177.9h1.0v3.4h-1.0zM75.6 178.0h1.1v3.5h-1.1zM67.1 178.1h1.2v3.7h-1.2zM96.0 177.6h1.7v4.4h-1.7zM58.5 178.1h1.5v4.0h-1.5zM50.4 179.0h0.9v3.3h-0.9zM41.7 178.7h1.2v3.7h-1.2zM87.6 178.2h1.7v4.4h-1.7zM108.7 179.4h0.9v3.4h-0.9zM79.2 178.7h1.8v4.4h-1.8zM71.1 180.1h1.0v3.4h-1.0zM99.9 179.2h1.7v4.4h-1.7zM62.6 180.2h1.2v3.7h-1.2zM54.0 180.1h1.4v4.0h-1.4zM91.6 180.0h1.6v4.3h-1.6zM45.4 179.8h1.7v4.5h-1.7zM83.1 180.5h1.6v4.3h-1.6zM103.8 180.7h1.7v4.4h-1.7zM74.7 180.9h1.7v4.4h-1.7zM66.6 182.2h0.9v3.4h-0.9zM95.5 181.6h1.5v4.2h-1.5zM58.1 182.2h1.1v3.7h-1.1zM49.4 182.0h1.4v4.1h-1.4zM87.1 182.2h1.5v4.2h-1.5zM78.6 182.7h1.5v4.2h-1.5zM70.1 183.0h1.6v4.4h-1.6zM99.3 183.1h1.5v4.3h-1.5zM61.6 183.1h1.8v4.6h-1.8zM53.5 184.2h1.1v3.7h-1.1zM91.0 183.9h1.4v4.1h-1.4zM82.6 184.5h1.4v4.1h-1.4zM74.1 184.9h1.4v4.2h-1.4zM65.6 185.1h1.6v4.4h-1.6zM94.9 185.5h1.4v4.2h-1.4zM57.0 185.1h1.8v4.7h-1.8zM86.5 186.2h1.3v4.1h-1.3zM78.1 186.7h1.3v4.1h-1.3zM69.6 187.0h1.4v4.2h-1.4zM61.1 187.1h1.6v4.4h-1.6zM90.4 187.9h1.3v4.1h-1.3zM82.0 188.5h1.3v4.0h-1.3zM73.5 188.9h1.3v4.1h-1.3zM65.0 189.1h1.4v4.3h-1.4zM85.9 190.2h1.2v4.1h-1.2zM77.5 190.7h1.2v4.1h-1.2zM69.0 191.1h1.3v4.2h-1.3zM81.4 192.5h1.2v4.1h-1.2zM72.9 192.9h1.2v4.1h-1.2zM76.8 194.7h1.2v4.2h-1.2z"/>
<path d="M147.5 161.9L148.3 147.0L150.8 132.1L154.8 117.1L160.5 102.1L167.9 87.1L177.0 72.0L187.7 56.9L200.2 41.7L214.3 26.5L214.3 26.5L199.8 41.4L187.0 56.3L175.9 71.3L166.5 86.3L158.8 101.3L152.7 116.4L148.4 131.6L145.7 146.7L144.8 161.9z" fill="url(#bm)" opacity="0.38"/>
<path d="M143.1 160.8L143.9 146.0L146.5 131.2L150.8 116.4L156.9 101.5L164.8 86.6L174.5 71.6L186.0 56.6L199.2 41.6L214.3 26.5L214.3 26.5L198.9 41.3L185.3 56.1L173.5 70.9L163.5 85.8L155.3 100.7L148.9 115.7L144.3 130.7L141.5 145.7L140.5 160.8z" fill="url(#bm)" opacity="0.31"/>
<path d="M138.6 159.7L139.5 145.0L142.2 130.3L146.9 115.6L153.4 100.9L161.7 86.1L172.0 71.2L184.2 56.4L198.3 41.4L214.3 26.5L214.3 26.5L198.0 41.2L183.6 55.8L171.1 70.5L160.5 85.3L151.8 100.1L145.0 114.9L140.2 129.8L137.2 144.7L136.2 159.7z" fill="url(#bm)" opacity="0.26"/>
<path d="M134.8 158.7L135.7 144.2L138.6 129.6L143.5 115.0L150.3 100.3L159.1 85.6L169.9 70.9L182.7 56.1L197.5 41.3L214.3 26.5L214.3 26.5L197.3 41.1L182.2 55.6L169.1 70.2L158.0 84.9L148.9 99.6L141.8 114.3L136.7 129.1L133.6 143.9L132.6 158.7z" fill="url(#bm)" opacity="0.21"/>
<path d="M130.7 157.7L131.7 143.3L134.8 128.8L139.9 114.3L147.0 99.8L156.3 85.2L167.7 70.6L181.1 55.9L196.7 41.2L214.3 26.5L214.3 26.5L196.4 40.9L180.6 55.4L166.9 69.9L155.3 84.5L145.8 99.0L138.3 113.6L133.0 128.3L129.8 143.0L128.7 157.7z" fill="url(#bm)" opacity="0.17"/>
<path d="M126.7 156.7L127.8 142.4L131.0 128.0L136.3 113.6L143.9 99.2L153.6 84.7L165.5 70.2L179.5 55.7L195.8 41.1L214.3 26.5L214.3 26.5L195.6 40.8L179.1 55.2L164.8 69.6L152.7 84.0L142.7 98.5L134.9 113.0L129.4 127.5L126.0 142.1L124.9 156.7z" fill="url(#bm)" opacity="0.14"/>
<path d="M153.7 163.6L153.9 155.7L154.6 147.8L155.6 139.8L157.1 131.9L159.0 124.0L161.4 116.0L164.1 108.1L167.3 100.1L170.9 92.1L174.9 84.0L179.3 76.0L184.1 67.9L189.4 59.7L195.0 51.5L201.0 43.2L207.5 34.9L214.3 26.5L214.3 26.5L206.7 34.2L199.5 42.0L192.9 49.9L186.7 57.8L180.9 65.8L175.7 73.8L170.9 81.9L166.6 90.0L162.7 98.1L159.3 106.2L156.4 114.4L153.9 122.6L151.9 130.8L150.3 139.0L149.2 147.2L148.5 155.4L148.3 163.6z" fill="url(#bm)"/>
<line x1="176.5" y1="170.3" x2="35.1" y2="133.4" stroke="#231f20" stroke-width="1.7"/><polygon fill="#231f20" points="27.6,131.4 37.1,140.4 35.6,133.5 40.3,128.3"/>
<line x1="177.0" y1="153.2" x2="31.4" y2="212.3" stroke="#231f20" stroke-width="1.7"/><polygon fill="#231f20" points="24.2,215.2 37.2,216.7 31.9,212.1 32.5,205.1"/>
<line x1="151.0" y1="190.2" x2="151.0" y2="30.0" stroke="#231f20" stroke-width="1.7"/><polygon fill="#231f20" points="151.0,22.2 145.9,33.7 151.0,30.5 156.1,33.7"/>
<path d="M214.3 26.8V163.7" fill="none" stroke="#231f20" stroke-width="1.7" stroke-dasharray="8 3.95" stroke-dashoffset="5.5"/><path d="M212 163.7H155" fill="none" stroke="#231f20" stroke-width="1.7" stroke-dasharray="8 3.95"/>
<circle cx="214.3" cy="163.7" r="2.4" fill="#231f20"/>
<text transform="translate(147.3 19.2) scale(1.04 1)" class="i" font-size="14.6">z</text>
<text transform="translate(15.9 131.5) scale(1.04 1)" class="i" font-size="14.6">x</text>
<text transform="translate(11.2 223.5) scale(1.04 1)" class="i" font-size="14.6">y</text>
<text transform="translate(176.4 190) scale(1.005 1)" font-size="14.6">(−<tspan class="i">d</tspan>, −<tspan class="i">d</tspan>)</text>
</g>
<g id="panelB">
<rect x="345.4" y="27.4" width="276.4" height="221.8" fill="none" stroke="#231f20" stroke-width=".9"/>
<text transform="translate(379.5 266.8) scale(1.04 1)" font-size="14.6" text-anchor="middle">2.5</text>
<text transform="translate(449.0 266.8) scale(1.04 1)" font-size="14.6" text-anchor="middle">3.5</text>
<text transform="translate(518.5 266.8) scale(1.04 1)" font-size="14.6" text-anchor="middle">4.5</text>
<text transform="translate(588.0 266.8) scale(1.04 1)" font-size="14.6" text-anchor="middle">5.5</text>
<text transform="translate(338.6 217.2) scale(1.04 1)" font-size="14.6" text-anchor="end">0.05</text>
<text transform="translate(338.6 143.0) scale(1.04 1)" font-size="14.6" text-anchor="end">0.15</text>
<text transform="translate(338.6 68.8) scale(1.04 1)" font-size="14.6" text-anchor="end">0.25</text>
<path d="M379.4 249.2v-4.4M448.9 249.2v-4.4M518.4 249.2v-4.4M587.9 249.2v-4.4M345.4 212.1h4M345.4 137.9h4M345.4 63.7h4" stroke="#231f20" stroke-width="1" fill="none"/>
<text transform="translate(461 289.6) scale(1.04 1)" font-size="14.6"><tspan class="i">z</tspan> (mm)</text>
<text transform="translate(297 161.2) scale(1.04 1) rotate(-90)" font-size="14.6"><tspan class="i">d</tspan> (mm)</text>
<polyline points="379.4,208.3 384.7,205.7 390.1,203.0 395.4,200.3 400.8,197.5 406.1,194.5 411.5,191.5 416.8,188.5 422.2,185.3 427.5,182.0 432.9,178.7 438.2,175.3 443.6,171.8 448.9,168.3 454.2,164.6 459.6,160.9 464.9,157.1 470.3,153.2 475.6,149.2 481.0,145.1 486.3,141.0 491.7,136.7 497.0,132.4 502.4,128.0 507.7,123.6 513.1,119.0 518.4,114.4 523.7,109.7 529.1,104.9 534.4,100.0 539.8,95.0 545.1,90.0 550.5,84.8 555.8,79.6 561.2,74.3 566.5,68.9 571.9,63.5 577.2,57.9 582.6,52.3 587.9,46.6" fill="none" stroke="#e81946" stroke-width="2.5" stroke-linecap="round"/>
<ellipse cx="379.4" cy="218.5" rx="3" ry="1.5" fill="#a3059b"/>
<ellipse cx="414.1" cy="202.5" rx="3" ry="1.5" fill="#a3059b"/>
<ellipse cx="448.9" cy="182.8" rx="3" ry="1.5" fill="#a3059b"/>
<ellipse cx="483.6" cy="161.0" rx="3" ry="1.5" fill="#a3059b"/>
<ellipse cx="518.4" cy="134.7" rx="3" ry="1.5" fill="#a3059b"/>
<ellipse cx="553.1" cy="106.7" rx="3" ry="1.5" fill="#a3059b"/>
<ellipse cx="587.9" cy="77.9" rx="3" ry="1.5" fill="#a3059b"/>
<path d="M376.8 207.8h5.2v1.3h-1.4v2h1.4v1.3h-5.2v-1.3h1.4v-2h-1.4z" fill="#3f3fa3"/>
<path d="M411.5 190.3h5.2v1.3h-1.4v2h1.4v1.3h-5.2v-1.3h1.4v-2h-1.4z" fill="#3f3fa3"/>
<path d="M446.3 168.0h5.2v1.3h-1.4v2h1.4v1.3h-5.2v-1.3h1.4v-2h-1.4z" fill="#3f3fa3"/>
<path d="M481.0 142.0h5.2v1.3h-1.4v2h1.4v1.3h-5.2v-1.3h1.4v-2h-1.4z" fill="#3f3fa3"/>
<path d="M515.8 114.1h5.2v1.3h-1.4v2h1.4v1.3h-5.2v-1.3h1.4v-2h-1.4z" fill="#3f3fa3"/>
<path d="M550.5 82.6h5.2v1.3h-1.4v2h1.4v1.3h-5.2v-1.3h1.4v-2h-1.4z" fill="#3f3fa3"/>
<path d="M585.3 50.3h5.2v1.3h-1.4v2h1.4v1.3h-5.2v-1.3h1.4v-2h-1.4z" fill="#3f3fa3"/>
<line x1="359.3" y1="39.5" x2="384.8" y2="39.5" stroke="#e81946" stroke-width="2.6" stroke-linecap="round"/>
<text x="393" y="43.7" font-size="13.1">Targeted</text>
<text x="357" y="67.3" font-size="13.1">Measured</text>
<rect x="368.8" y="80.8" width="6.8" height="6.6" fill="#a3059b"/>
<rect x="368.8" y="102.6" width="6.8" height="6.8" fill="#4646a0"/>
<text transform="translate(380.8 87.6) scale(0.99 1)" font-size="13.1"><tspan>B</tspan><tspan dy="3.8" font-size="9.4">364,</tspan><tspan dy="-3.8" dx="3.3" class="ser" font-size="13.8">λ</tspan><tspan dy="3.8" font-size="9.4">0</tspan><tspan dy="-3.8"> = 364 nm</tspan></text>
<text transform="translate(380.8 109.5) scale(0.99 1)" font-size="13.1"><tspan>B</tspan><tspan dy="3.8" font-size="9.4">325,</tspan><tspan dy="-3.8" dx="3.3" class="ser" font-size="13.8">λ</tspan><tspan dy="3.8" font-size="9.4">0</tspan><tspan dy="-3.8"> = 325 nm</tspan></text>
</g>
<g id="panelC">
<text transform="translate(233.9 334.4) scale(1.04 1)" font-size="14.7" text-anchor="middle"><tspan class="i" dx="1.6">z</tspan><tspan dx="-1.4"> = 2.5 mm</tspan></text>
<text transform="translate(346.1 334.4) scale(1.04 1)" font-size="14.7" text-anchor="middle"><tspan class="i" dx="1.6">z</tspan><tspan dx="-1.4"> = 3.5 mm</tspan></text>
<text transform="translate(458.3 334.4) scale(1.04 1)" font-size="14.7" text-anchor="middle"><tspan class="i" dx="1.6">z</tspan><tspan dx="-1.4"> = 4.5 mm</tspan></text>
<text transform="translate(570.5 334.4) scale(1.04 1)" font-size="14.7" text-anchor="middle"><tspan class="i" dx="1.6">z</tspan><tspan dx="-1.4"> = 5.5 mm</tspan></text>
<text transform="translate(32.3 382.4) scale(1.04 1)" font-size="14.7"><tspan>B</tspan><tspan dy="4.3" font-size="10.6">364,</tspan><tspan dy="-4.3" dx="3.7" class="ser" font-size="15.4">λ</tspan><tspan dy="4.3" font-size="10.6">0</tspan><tspan dy="-4.3"> = 364 nm</tspan></text>
<text transform="translate(90.5 400.2) scale(1.04 1)" font-size="14.7" text-anchor="middle">Measured</text>
<text transform="translate(32.3 492.5) scale(1.04 1)" font-size="14.7"><tspan>B</tspan><tspan dy="4.3" font-size="10.6">364,</tspan><tspan dy="-4.3" dx="3.7" class="ser" font-size="15.4">λ</tspan><tspan dy="4.3" font-size="10.6">0</tspan><tspan dy="-4.3"> = 364 nm</tspan></text>
<text transform="translate(90.5 510.3) scale(1.04 1)" font-size="14.7" text-anchor="middle">Computed</text>
<text transform="translate(32.3 602.6) scale(1.04 1)" font-size="14.7"><tspan>B</tspan><tspan dy="4.3" font-size="10.6">325,</tspan><tspan dy="-4.3" dx="3.7" class="ser" font-size="15.4">λ</tspan><tspan dy="4.3" font-size="10.6">0</tspan><tspan dy="-4.3"> = 325 nm</tspan></text>
<text transform="translate(90.5 620.4) scale(1.04 1)" font-size="14.7" text-anchor="middle">Measured</text>
<text transform="translate(32.3 712.7) scale(1.04 1)" font-size="14.7"><tspan>B</tspan><tspan dy="4.3" font-size="10.6">325,</tspan><tspan dy="-4.3" dx="3.7" class="ser" font-size="15.4">λ</tspan><tspan dy="4.3" font-size="10.6">0</tspan><tspan dy="-4.3"> = 325 nm</tspan></text>
<text transform="translate(90.5 730.5) scale(1.04 1)" font-size="14.7" text-anchor="middle">Computed</text>
<line x1="169.9" y1="518.1" x2="169.9" y2="582.8" stroke="#000" stroke-width="1.8"/><polygon fill="#000" points="169.9,590.6 176.3,579.1 169.9,582.3 163.5,579.1"/>
<text transform="translate(166.2 609.5) scale(1.04 1)" class="i" font-size="14.6">y</text>
<line x1="439.0" y1="778.3" x2="374.5" y2="778.3" stroke="#000" stroke-width="1.8"/><polygon fill="#000" points="366.3,778.3 378.2,784.4 375.0,778.3 378.2,772.1"/>
<text transform="translate(353.6 783) scale(1.04 1)" class="i" font-size="14.6">x</text>
<rect x="570.8" y="769.9" width="45.5" height="4.4" fill="#000"/>
<text transform="translate(572.3 791.4) scale(1.04 1)" font-size="14.6">50 <tspan font-family="'Liberation Serif',serif" font-size="15.5">μ</tspan>m</text>
<text transform="translate(666 400.4) scale(1.04 1)" font-size="14.6">1</text>
<text transform="translate(665.8 712.5) scale(1.04 1)" font-size="14.6">0</text>
<text transform="translate(681 596.3) scale(1.04 1) rotate(-90)" font-size="14.6"><tspan class="i">I</tspan> (normalized)</text>
</g>
</svg>
</body></html>
